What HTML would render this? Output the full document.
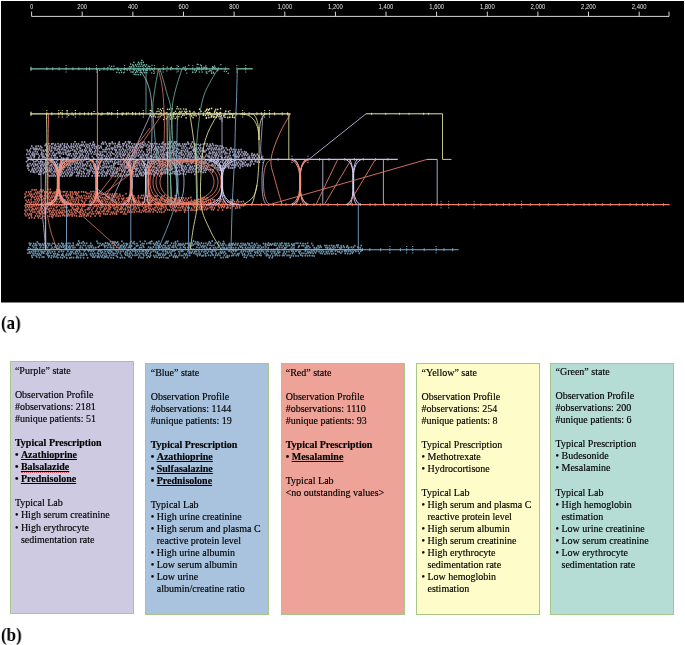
<!DOCTYPE html>
<html><head><meta charset="utf-8"><style>
html,body{margin:0;padding:0;background:#fff;width:685px;height:645px;overflow:hidden;position:relative}
.al{font-family:"Liberation Sans",sans-serif;font-size:8px;fill:#e6e6e6}
.box{will-change:transform;position:absolute;box-sizing:border-box;border:1px solid #a6c68a;padding:1px 0 0 4.5px;font-family:"Liberation Serif",serif;font-size:10px;line-height:12.05px;color:#000;-webkit-text-stroke:0.15px #000}
.l{white-space:nowrap}
.bl{position:relative;padding-left:6px}
.bt{position:absolute;left:0;top:0}
.sp{position:absolute;left:0;right:0;top:10.4px;height:0;border-top:1px dotted #d42020;opacity:.7}
u{text-decoration-thickness:1.4px;text-underline-offset:1.1px;text-decoration-skip-ink:none}
.lab{will-change:transform;position:absolute;font-family:"Liberation Serif",serif;font-weight:bold;font-size:18.3px;line-height:1;color:#000;transform:scaleX(0.925);transform-origin:0 0}
</style></head><body>
<svg width="685" height="305" viewBox="0 0 685 305" style="position:absolute;left:0;top:0;will-change:transform"><rect x="1" y="1" width="683" height="301.5" fill="#000"/><path d="M31.6 11.6V16.4H669V11.6" stroke="#d8d8d8" stroke-width="1" fill="none"/><path d="M82.2 11.6V16.4M132.9 11.6V16.4M183.5 11.6V16.4M234.1 11.6V16.4M284.8 11.6V16.4M335.4 11.6V16.4M386.0 11.6V16.4M436.6 11.6V16.4M487.3 11.6V16.4M537.9 11.6V16.4M588.5 11.6V16.4M639.2 11.6V16.4" stroke="#d8d8d8" stroke-width="1" fill="none"/><text transform="translate(31.6 9.35) scale(0.74 1)" text-anchor="middle" class="al">0</text><text transform="translate(82.2 9.35) scale(0.74 1)" text-anchor="middle" class="al">200</text><text transform="translate(132.9 9.35) scale(0.74 1)" text-anchor="middle" class="al">400</text><text transform="translate(183.5 9.35) scale(0.74 1)" text-anchor="middle" class="al">600</text><text transform="translate(234.1 9.35) scale(0.74 1)" text-anchor="middle" class="al">800</text><text transform="translate(284.8 9.35) scale(0.74 1)" text-anchor="middle" class="al">1,000</text><text transform="translate(335.4 9.35) scale(0.74 1)" text-anchor="middle" class="al">1,200</text><text transform="translate(386.0 9.35) scale(0.74 1)" text-anchor="middle" class="al">1,400</text><text transform="translate(436.6 9.35) scale(0.74 1)" text-anchor="middle" class="al">1,600</text><text transform="translate(487.3 9.35) scale(0.74 1)" text-anchor="middle" class="al">1,800</text><text transform="translate(537.9 9.35) scale(0.74 1)" text-anchor="middle" class="al">2,000</text><text transform="translate(588.5 9.35) scale(0.74 1)" text-anchor="middle" class="al">2,200</text><text transform="translate(639.2 9.35) scale(0.74 1)" text-anchor="middle" class="al">2,400</text><path d="M74.2 141.7a0.82 0.82 0 1 0 1.6 0a0.82 0.82 0 1 0 -1.6 0M81.3 142.0a0.82 0.82 0 1 0 1.6 0a0.82 0.82 0 1 0 -1.6 0M83.8 141.9a0.82 0.82 0 1 0 1.6 0a0.82 0.82 0 1 0 -1.6 0M92.6 142.1a0.82 0.82 0 1 0 1.6 0a0.82 0.82 0 1 0 -1.6 0M102.0 142.2a0.82 0.82 0 1 0 1.6 0a0.82 0.82 0 1 0 -1.6 0M104.5 142.2a0.82 0.82 0 1 0 1.6 0a0.82 0.82 0 1 0 -1.6 0M111.4 142.0a0.82 0.82 0 1 0 1.6 0a0.82 0.82 0 1 0 -1.6 0M118.4 142.1a0.82 0.82 0 1 0 1.6 0a0.82 0.82 0 1 0 -1.6 0M124.7 142.0a0.82 0.82 0 1 0 1.6 0a0.82 0.82 0 1 0 -1.6 0M127.6 141.7a0.82 0.82 0 1 0 1.6 0a0.82 0.82 0 1 0 -1.6 0M129.3 142.0a0.82 0.82 0 1 0 1.6 0a0.82 0.82 0 1 0 -1.6 0M141.5 142.4a0.82 0.82 0 1 0 1.6 0a0.82 0.82 0 1 0 -1.6 0M143.2 142.0a0.82 0.82 0 1 0 1.6 0a0.82 0.82 0 1 0 -1.6 0M148.0 142.1a0.82 0.82 0 1 0 1.6 0a0.82 0.82 0 1 0 -1.6 0M162.2 142.3a0.82 0.82 0 1 0 1.6 0a0.82 0.82 0 1 0 -1.6 0M168.4 141.7a0.82 0.82 0 1 0 1.6 0a0.82 0.82 0 1 0 -1.6 0M170.6 141.7a0.82 0.82 0 1 0 1.6 0a0.82 0.82 0 1 0 -1.6 0M173.7 142.1a0.82 0.82 0 1 0 1.6 0a0.82 0.82 0 1 0 -1.6 0M175.6 141.7a0.82 0.82 0 1 0 1.6 0a0.82 0.82 0 1 0 -1.6 0M187.0 142.3a0.82 0.82 0 1 0 1.6 0a0.82 0.82 0 1 0 -1.6 0M191.5 142.0a0.82 0.82 0 1 0 1.6 0a0.82 0.82 0 1 0 -1.6 0M45.4 144.1a0.82 0.82 0 1 0 1.6 0a0.82 0.82 0 1 0 -1.6 0M48.0 143.7a0.82 0.82 0 1 0 1.6 0a0.82 0.82 0 1 0 -1.6 0M50.8 143.9a0.82 0.82 0 1 0 1.6 0a0.82 0.82 0 1 0 -1.6 0M52.3 143.7a0.82 0.82 0 1 0 1.6 0a0.82 0.82 0 1 0 -1.6 0M54.6 144.3a0.82 0.82 0 1 0 1.6 0a0.82 0.82 0 1 0 -1.6 0M57.3 143.7a0.82 0.82 0 1 0 1.6 0a0.82 0.82 0 1 0 -1.6 0M59.6 144.4a0.82 0.82 0 1 0 1.6 0a0.82 0.82 0 1 0 -1.6 0M61.6 143.8a0.82 0.82 0 1 0 1.6 0a0.82 0.82 0 1 0 -1.6 0M63.9 143.9a0.82 0.82 0 1 0 1.6 0a0.82 0.82 0 1 0 -1.6 0M66.4 144.1a0.82 0.82 0 1 0 1.6 0a0.82 0.82 0 1 0 -1.6 0M70.6 143.9a0.82 0.82 0 1 0 1.6 0a0.82 0.82 0 1 0 -1.6 0M73.0 144.0a0.82 0.82 0 1 0 1.6 0a0.82 0.82 0 1 0 -1.6 0M75.6 144.0a0.82 0.82 0 1 0 1.6 0a0.82 0.82 0 1 0 -1.6 0M77.7 143.8a0.82 0.82 0 1 0 1.6 0a0.82 0.82 0 1 0 -1.6 0M80.5 144.4a0.82 0.82 0 1 0 1.6 0a0.82 0.82 0 1 0 -1.6 0M82.5 144.2a0.82 0.82 0 1 0 1.6 0a0.82 0.82 0 1 0 -1.6 0M85.2 144.2a0.82 0.82 0 1 0 1.6 0a0.82 0.82 0 1 0 -1.6 0M87.2 144.4a0.82 0.82 0 1 0 1.6 0a0.82 0.82 0 1 0 -1.6 0M89.4 143.6a0.82 0.82 0 1 0 1.6 0a0.82 0.82 0 1 0 -1.6 0M92.0 144.3a0.82 0.82 0 1 0 1.6 0a0.82 0.82 0 1 0 -1.6 0M93.7 144.3a0.82 0.82 0 1 0 1.6 0a0.82 0.82 0 1 0 -1.6 0M100.9 143.8a0.82 0.82 0 1 0 1.6 0a0.82 0.82 0 1 0 -1.6 0M102.8 144.0a0.82 0.82 0 1 0 1.6 0a0.82 0.82 0 1 0 -1.6 0M105.6 144.0a0.82 0.82 0 1 0 1.6 0a0.82 0.82 0 1 0 -1.6 0M108.3 143.6a0.82 0.82 0 1 0 1.6 0a0.82 0.82 0 1 0 -1.6 0M109.9 143.7a0.82 0.82 0 1 0 1.6 0a0.82 0.82 0 1 0 -1.6 0M112.2 143.7a0.82 0.82 0 1 0 1.6 0a0.82 0.82 0 1 0 -1.6 0M114.4 143.6a0.82 0.82 0 1 0 1.6 0a0.82 0.82 0 1 0 -1.6 0M117.4 144.1a0.82 0.82 0 1 0 1.6 0a0.82 0.82 0 1 0 -1.6 0M118.9 144.3a0.82 0.82 0 1 0 1.6 0a0.82 0.82 0 1 0 -1.6 0M122.0 143.8a0.82 0.82 0 1 0 1.6 0a0.82 0.82 0 1 0 -1.6 0M123.6 143.7a0.82 0.82 0 1 0 1.6 0a0.82 0.82 0 1 0 -1.6 0M126.1 144.2a0.82 0.82 0 1 0 1.6 0a0.82 0.82 0 1 0 -1.6 0M128.4 143.6a0.82 0.82 0 1 0 1.6 0a0.82 0.82 0 1 0 -1.6 0M130.9 143.7a0.82 0.82 0 1 0 1.6 0a0.82 0.82 0 1 0 -1.6 0M133.4 143.9a0.82 0.82 0 1 0 1.6 0a0.82 0.82 0 1 0 -1.6 0M135.4 144.2a0.82 0.82 0 1 0 1.6 0a0.82 0.82 0 1 0 -1.6 0M137.9 144.1a0.82 0.82 0 1 0 1.6 0a0.82 0.82 0 1 0 -1.6 0M139.7 143.6a0.82 0.82 0 1 0 1.6 0a0.82 0.82 0 1 0 -1.6 0M142.0 144.3a0.82 0.82 0 1 0 1.6 0a0.82 0.82 0 1 0 -1.6 0M144.4 143.8a0.82 0.82 0 1 0 1.6 0a0.82 0.82 0 1 0 -1.6 0M146.7 144.4a0.82 0.82 0 1 0 1.6 0a0.82 0.82 0 1 0 -1.6 0M149.6 143.8a0.82 0.82 0 1 0 1.6 0a0.82 0.82 0 1 0 -1.6 0M151.5 144.0a0.82 0.82 0 1 0 1.6 0a0.82 0.82 0 1 0 -1.6 0M153.6 143.6a0.82 0.82 0 1 0 1.6 0a0.82 0.82 0 1 0 -1.6 0M156.0 143.8a0.82 0.82 0 1 0 1.6 0a0.82 0.82 0 1 0 -1.6 0M158.6 144.2a0.82 0.82 0 1 0 1.6 0a0.82 0.82 0 1 0 -1.6 0M161.2 143.7a0.82 0.82 0 1 0 1.6 0a0.82 0.82 0 1 0 -1.6 0M163.3 144.3a0.82 0.82 0 1 0 1.6 0a0.82 0.82 0 1 0 -1.6 0M165.0 144.0a0.82 0.82 0 1 0 1.6 0a0.82 0.82 0 1 0 -1.6 0M167.9 144.1a0.82 0.82 0 1 0 1.6 0a0.82 0.82 0 1 0 -1.6 0M169.7 143.6a0.82 0.82 0 1 0 1.6 0a0.82 0.82 0 1 0 -1.6 0M172.5 144.0a0.82 0.82 0 1 0 1.6 0a0.82 0.82 0 1 0 -1.6 0M174.5 143.5a0.82 0.82 0 1 0 1.6 0a0.82 0.82 0 1 0 -1.6 0M176.9 144.1a0.82 0.82 0 1 0 1.6 0a0.82 0.82 0 1 0 -1.6 0M178.7 143.8a0.82 0.82 0 1 0 1.6 0a0.82 0.82 0 1 0 -1.6 0M181.9 144.0a0.82 0.82 0 1 0 1.6 0a0.82 0.82 0 1 0 -1.6 0M184.0 144.1a0.82 0.82 0 1 0 1.6 0a0.82 0.82 0 1 0 -1.6 0M185.8 144.2a0.82 0.82 0 1 0 1.6 0a0.82 0.82 0 1 0 -1.6 0M187.9 143.8a0.82 0.82 0 1 0 1.6 0a0.82 0.82 0 1 0 -1.6 0M190.4 144.0a0.82 0.82 0 1 0 1.6 0a0.82 0.82 0 1 0 -1.6 0M193.3 143.7a0.82 0.82 0 1 0 1.6 0a0.82 0.82 0 1 0 -1.6 0M195.2 144.3a0.82 0.82 0 1 0 1.6 0a0.82 0.82 0 1 0 -1.6 0M197.3 144.4a0.82 0.82 0 1 0 1.6 0a0.82 0.82 0 1 0 -1.6 0M199.9 144.4a0.82 0.82 0 1 0 1.6 0a0.82 0.82 0 1 0 -1.6 0M202.5 144.2a0.82 0.82 0 1 0 1.6 0a0.82 0.82 0 1 0 -1.6 0M204.0 143.5a0.82 0.82 0 1 0 1.6 0a0.82 0.82 0 1 0 -1.6 0M206.4 143.9a0.82 0.82 0 1 0 1.6 0a0.82 0.82 0 1 0 -1.6 0M209.3 144.3a0.82 0.82 0 1 0 1.6 0a0.82 0.82 0 1 0 -1.6 0M211.7 143.8a0.82 0.82 0 1 0 1.6 0a0.82 0.82 0 1 0 -1.6 0M31.0 146.1a0.82 0.82 0 1 0 1.6 0a0.82 0.82 0 1 0 -1.6 0M35.2 146.2a0.82 0.82 0 1 0 1.6 0a0.82 0.82 0 1 0 -1.6 0M37.5 146.0a0.82 0.82 0 1 0 1.6 0a0.82 0.82 0 1 0 -1.6 0M39.7 146.3a0.82 0.82 0 1 0 1.6 0a0.82 0.82 0 1 0 -1.6 0M44.3 145.6a0.82 0.82 0 1 0 1.6 0a0.82 0.82 0 1 0 -1.6 0M46.7 146.0a0.82 0.82 0 1 0 1.6 0a0.82 0.82 0 1 0 -1.6 0M49.1 146.0a0.82 0.82 0 1 0 1.6 0a0.82 0.82 0 1 0 -1.6 0M51.3 146.4a0.82 0.82 0 1 0 1.6 0a0.82 0.82 0 1 0 -1.6 0M54.1 145.7a0.82 0.82 0 1 0 1.6 0a0.82 0.82 0 1 0 -1.6 0M56.0 146.4a0.82 0.82 0 1 0 1.6 0a0.82 0.82 0 1 0 -1.6 0M58.0 146.2a0.82 0.82 0 1 0 1.6 0a0.82 0.82 0 1 0 -1.6 0M60.2 145.9a0.82 0.82 0 1 0 1.6 0a0.82 0.82 0 1 0 -1.6 0M63.4 145.8a0.82 0.82 0 1 0 1.6 0a0.82 0.82 0 1 0 -1.6 0M65.4 146.4a0.82 0.82 0 1 0 1.6 0a0.82 0.82 0 1 0 -1.6 0M67.5 146.0a0.82 0.82 0 1 0 1.6 0a0.82 0.82 0 1 0 -1.6 0M70.3 146.1a0.82 0.82 0 1 0 1.6 0a0.82 0.82 0 1 0 -1.6 0M72.3 146.2a0.82 0.82 0 1 0 1.6 0a0.82 0.82 0 1 0 -1.6 0M74.6 145.9a0.82 0.82 0 1 0 1.6 0a0.82 0.82 0 1 0 -1.6 0M76.6 145.9a0.82 0.82 0 1 0 1.6 0a0.82 0.82 0 1 0 -1.6 0M79.1 145.7a0.82 0.82 0 1 0 1.6 0a0.82 0.82 0 1 0 -1.6 0M81.2 145.6a0.82 0.82 0 1 0 1.6 0a0.82 0.82 0 1 0 -1.6 0M83.5 146.1a0.82 0.82 0 1 0 1.6 0a0.82 0.82 0 1 0 -1.6 0M85.8 145.9a0.82 0.82 0 1 0 1.6 0a0.82 0.82 0 1 0 -1.6 0M88.5 146.0a0.82 0.82 0 1 0 1.6 0a0.82 0.82 0 1 0 -1.6 0M90.9 145.7a0.82 0.82 0 1 0 1.6 0a0.82 0.82 0 1 0 -1.6 0M93.3 146.0a0.82 0.82 0 1 0 1.6 0a0.82 0.82 0 1 0 -1.6 0M95.3 146.4a0.82 0.82 0 1 0 1.6 0a0.82 0.82 0 1 0 -1.6 0M97.9 145.7a0.82 0.82 0 1 0 1.6 0a0.82 0.82 0 1 0 -1.6 0M100.1 146.3a0.82 0.82 0 1 0 1.6 0a0.82 0.82 0 1 0 -1.6 0M106.6 145.9a0.82 0.82 0 1 0 1.6 0a0.82 0.82 0 1 0 -1.6 0M108.8 145.8a0.82 0.82 0 1 0 1.6 0a0.82 0.82 0 1 0 -1.6 0M113.9 145.9a0.82 0.82 0 1 0 1.6 0a0.82 0.82 0 1 0 -1.6 0M116.3 145.7a0.82 0.82 0 1 0 1.6 0a0.82 0.82 0 1 0 -1.6 0M118.1 146.3a0.82 0.82 0 1 0 1.6 0a0.82 0.82 0 1 0 -1.6 0M120.1 146.4a0.82 0.82 0 1 0 1.6 0a0.82 0.82 0 1 0 -1.6 0M122.6 145.8a0.82 0.82 0 1 0 1.6 0a0.82 0.82 0 1 0 -1.6 0M125.3 145.8a0.82 0.82 0 1 0 1.6 0a0.82 0.82 0 1 0 -1.6 0M127.8 146.1a0.82 0.82 0 1 0 1.6 0a0.82 0.82 0 1 0 -1.6 0M129.7 146.4a0.82 0.82 0 1 0 1.6 0a0.82 0.82 0 1 0 -1.6 0M131.9 146.0a0.82 0.82 0 1 0 1.6 0a0.82 0.82 0 1 0 -1.6 0M134.5 146.3a0.82 0.82 0 1 0 1.6 0a0.82 0.82 0 1 0 -1.6 0M136.4 145.9a0.82 0.82 0 1 0 1.6 0a0.82 0.82 0 1 0 -1.6 0M139.1 145.8a0.82 0.82 0 1 0 1.6 0a0.82 0.82 0 1 0 -1.6 0M141.0 146.4a0.82 0.82 0 1 0 1.6 0a0.82 0.82 0 1 0 -1.6 0M143.1 145.6a0.82 0.82 0 1 0 1.6 0a0.82 0.82 0 1 0 -1.6 0M145.5 145.9a0.82 0.82 0 1 0 1.6 0a0.82 0.82 0 1 0 -1.6 0M148.4 146.1a0.82 0.82 0 1 0 1.6 0a0.82 0.82 0 1 0 -1.6 0M150.4 145.9a0.82 0.82 0 1 0 1.6 0a0.82 0.82 0 1 0 -1.6 0M152.5 145.7a0.82 0.82 0 1 0 1.6 0a0.82 0.82 0 1 0 -1.6 0M154.9 146.4a0.82 0.82 0 1 0 1.6 0a0.82 0.82 0 1 0 -1.6 0M157.4 146.4a0.82 0.82 0 1 0 1.6 0a0.82 0.82 0 1 0 -1.6 0M159.9 146.4a0.82 0.82 0 1 0 1.6 0a0.82 0.82 0 1 0 -1.6 0M161.6 146.4a0.82 0.82 0 1 0 1.6 0a0.82 0.82 0 1 0 -1.6 0M164.5 145.9a0.82 0.82 0 1 0 1.6 0a0.82 0.82 0 1 0 -1.6 0M168.5 145.9a0.82 0.82 0 1 0 1.6 0a0.82 0.82 0 1 0 -1.6 0M171.2 146.1a0.82 0.82 0 1 0 1.6 0a0.82 0.82 0 1 0 -1.6 0M173.5 145.7a0.82 0.82 0 1 0 1.6 0a0.82 0.82 0 1 0 -1.6 0M175.7 145.6a0.82 0.82 0 1 0 1.6 0a0.82 0.82 0 1 0 -1.6 0M178.1 145.6a0.82 0.82 0 1 0 1.6 0a0.82 0.82 0 1 0 -1.6 0M180.1 145.8a0.82 0.82 0 1 0 1.6 0a0.82 0.82 0 1 0 -1.6 0M182.5 145.9a0.82 0.82 0 1 0 1.6 0a0.82 0.82 0 1 0 -1.6 0M184.6 146.2a0.82 0.82 0 1 0 1.6 0a0.82 0.82 0 1 0 -1.6 0M189.8 145.9a0.82 0.82 0 1 0 1.6 0a0.82 0.82 0 1 0 -1.6 0M191.9 146.4a0.82 0.82 0 1 0 1.6 0a0.82 0.82 0 1 0 -1.6 0M194.1 145.7a0.82 0.82 0 1 0 1.6 0a0.82 0.82 0 1 0 -1.6 0M199.1 145.7a0.82 0.82 0 1 0 1.6 0a0.82 0.82 0 1 0 -1.6 0M205.9 145.7a0.82 0.82 0 1 0 1.6 0a0.82 0.82 0 1 0 -1.6 0M208.2 146.3a0.82 0.82 0 1 0 1.6 0a0.82 0.82 0 1 0 -1.6 0M210.2 145.9a0.82 0.82 0 1 0 1.6 0a0.82 0.82 0 1 0 -1.6 0M212.8 145.6a0.82 0.82 0 1 0 1.6 0a0.82 0.82 0 1 0 -1.6 0M215.1 145.6a0.82 0.82 0 1 0 1.6 0a0.82 0.82 0 1 0 -1.6 0M216.9 145.9a0.82 0.82 0 1 0 1.6 0a0.82 0.82 0 1 0 -1.6 0M219.3 145.9a0.82 0.82 0 1 0 1.6 0a0.82 0.82 0 1 0 -1.6 0M221.4 146.2a0.82 0.82 0 1 0 1.6 0a0.82 0.82 0 1 0 -1.6 0M30.0 148.4a0.82 0.82 0 1 0 1.6 0a0.82 0.82 0 1 0 -1.6 0M32.4 148.0a0.82 0.82 0 1 0 1.6 0a0.82 0.82 0 1 0 -1.6 0M34.5 148.4a0.82 0.82 0 1 0 1.6 0a0.82 0.82 0 1 0 -1.6 0M36.2 148.3a0.82 0.82 0 1 0 1.6 0a0.82 0.82 0 1 0 -1.6 0M38.8 148.4a0.82 0.82 0 1 0 1.6 0a0.82 0.82 0 1 0 -1.6 0M41.0 147.6a0.82 0.82 0 1 0 1.6 0a0.82 0.82 0 1 0 -1.6 0M46.0 147.6a0.82 0.82 0 1 0 1.6 0a0.82 0.82 0 1 0 -1.6 0M48.4 148.0a0.82 0.82 0 1 0 1.6 0a0.82 0.82 0 1 0 -1.6 0M50.8 148.1a0.82 0.82 0 1 0 1.6 0a0.82 0.82 0 1 0 -1.6 0M53.1 148.0a0.82 0.82 0 1 0 1.6 0a0.82 0.82 0 1 0 -1.6 0M54.6 148.2a0.82 0.82 0 1 0 1.6 0a0.82 0.82 0 1 0 -1.6 0M57.4 148.4a0.82 0.82 0 1 0 1.6 0a0.82 0.82 0 1 0 -1.6 0M59.1 147.6a0.82 0.82 0 1 0 1.6 0a0.82 0.82 0 1 0 -1.6 0M61.8 148.3a0.82 0.82 0 1 0 1.6 0a0.82 0.82 0 1 0 -1.6 0M63.7 147.5a0.82 0.82 0 1 0 1.6 0a0.82 0.82 0 1 0 -1.6 0M66.2 148.1a0.82 0.82 0 1 0 1.6 0a0.82 0.82 0 1 0 -1.6 0M68.7 147.6a0.82 0.82 0 1 0 1.6 0a0.82 0.82 0 1 0 -1.6 0M70.7 148.1a0.82 0.82 0 1 0 1.6 0a0.82 0.82 0 1 0 -1.6 0M73.1 147.5a0.82 0.82 0 1 0 1.6 0a0.82 0.82 0 1 0 -1.6 0M75.8 147.9a0.82 0.82 0 1 0 1.6 0a0.82 0.82 0 1 0 -1.6 0M78.3 147.6a0.82 0.82 0 1 0 1.6 0a0.82 0.82 0 1 0 -1.6 0M79.8 148.2a0.82 0.82 0 1 0 1.6 0a0.82 0.82 0 1 0 -1.6 0M84.8 148.1a0.82 0.82 0 1 0 1.6 0a0.82 0.82 0 1 0 -1.6 0M87.0 147.6a0.82 0.82 0 1 0 1.6 0a0.82 0.82 0 1 0 -1.6 0M89.0 148.3a0.82 0.82 0 1 0 1.6 0a0.82 0.82 0 1 0 -1.6 0M91.7 147.7a0.82 0.82 0 1 0 1.6 0a0.82 0.82 0 1 0 -1.6 0M93.9 148.2a0.82 0.82 0 1 0 1.6 0a0.82 0.82 0 1 0 -1.6 0M96.1 148.0a0.82 0.82 0 1 0 1.6 0a0.82 0.82 0 1 0 -1.6 0M98.4 148.1a0.82 0.82 0 1 0 1.6 0a0.82 0.82 0 1 0 -1.6 0M100.5 147.8a0.82 0.82 0 1 0 1.6 0a0.82 0.82 0 1 0 -1.6 0M105.4 147.7a0.82 0.82 0 1 0 1.6 0a0.82 0.82 0 1 0 -1.6 0M108.0 148.4a0.82 0.82 0 1 0 1.6 0a0.82 0.82 0 1 0 -1.6 0M110.5 147.9a0.82 0.82 0 1 0 1.6 0a0.82 0.82 0 1 0 -1.6 0M112.2 148.1a0.82 0.82 0 1 0 1.6 0a0.82 0.82 0 1 0 -1.6 0M114.3 147.6a0.82 0.82 0 1 0 1.6 0a0.82 0.82 0 1 0 -1.6 0M116.6 147.6a0.82 0.82 0 1 0 1.6 0a0.82 0.82 0 1 0 -1.6 0M119.5 147.6a0.82 0.82 0 1 0 1.6 0a0.82 0.82 0 1 0 -1.6 0M121.9 148.3a0.82 0.82 0 1 0 1.6 0a0.82 0.82 0 1 0 -1.6 0M125.9 147.6a0.82 0.82 0 1 0 1.6 0a0.82 0.82 0 1 0 -1.6 0M128.8 148.1a0.82 0.82 0 1 0 1.6 0a0.82 0.82 0 1 0 -1.6 0M131.1 147.7a0.82 0.82 0 1 0 1.6 0a0.82 0.82 0 1 0 -1.6 0M132.9 147.8a0.82 0.82 0 1 0 1.6 0a0.82 0.82 0 1 0 -1.6 0M135.8 148.0a0.82 0.82 0 1 0 1.6 0a0.82 0.82 0 1 0 -1.6 0M137.7 147.9a0.82 0.82 0 1 0 1.6 0a0.82 0.82 0 1 0 -1.6 0M140.1 147.7a0.82 0.82 0 1 0 1.6 0a0.82 0.82 0 1 0 -1.6 0M142.0 147.5a0.82 0.82 0 1 0 1.6 0a0.82 0.82 0 1 0 -1.6 0M147.2 147.7a0.82 0.82 0 1 0 1.6 0a0.82 0.82 0 1 0 -1.6 0M149.0 148.4a0.82 0.82 0 1 0 1.6 0a0.82 0.82 0 1 0 -1.6 0M151.5 147.6a0.82 0.82 0 1 0 1.6 0a0.82 0.82 0 1 0 -1.6 0M154.0 148.2a0.82 0.82 0 1 0 1.6 0a0.82 0.82 0 1 0 -1.6 0M156.0 148.3a0.82 0.82 0 1 0 1.6 0a0.82 0.82 0 1 0 -1.6 0M158.2 147.8a0.82 0.82 0 1 0 1.6 0a0.82 0.82 0 1 0 -1.6 0M161.1 147.7a0.82 0.82 0 1 0 1.6 0a0.82 0.82 0 1 0 -1.6 0M163.3 148.1a0.82 0.82 0 1 0 1.6 0a0.82 0.82 0 1 0 -1.6 0M165.6 148.1a0.82 0.82 0 1 0 1.6 0a0.82 0.82 0 1 0 -1.6 0M167.9 148.0a0.82 0.82 0 1 0 1.6 0a0.82 0.82 0 1 0 -1.6 0M169.7 147.7a0.82 0.82 0 1 0 1.6 0a0.82 0.82 0 1 0 -1.6 0M171.9 147.7a0.82 0.82 0 1 0 1.6 0a0.82 0.82 0 1 0 -1.6 0M174.2 147.8a0.82 0.82 0 1 0 1.6 0a0.82 0.82 0 1 0 -1.6 0M176.5 148.4a0.82 0.82 0 1 0 1.6 0a0.82 0.82 0 1 0 -1.6 0M181.2 148.1a0.82 0.82 0 1 0 1.6 0a0.82 0.82 0 1 0 -1.6 0M183.3 147.9a0.82 0.82 0 1 0 1.6 0a0.82 0.82 0 1 0 -1.6 0M186.1 147.9a0.82 0.82 0 1 0 1.6 0a0.82 0.82 0 1 0 -1.6 0M188.5 148.3a0.82 0.82 0 1 0 1.6 0a0.82 0.82 0 1 0 -1.6 0M190.6 147.7a0.82 0.82 0 1 0 1.6 0a0.82 0.82 0 1 0 -1.6 0M193.1 148.3a0.82 0.82 0 1 0 1.6 0a0.82 0.82 0 1 0 -1.6 0M195.1 148.1a0.82 0.82 0 1 0 1.6 0a0.82 0.82 0 1 0 -1.6 0M197.7 148.1a0.82 0.82 0 1 0 1.6 0a0.82 0.82 0 1 0 -1.6 0M199.9 147.9a0.82 0.82 0 1 0 1.6 0a0.82 0.82 0 1 0 -1.6 0M202.3 148.2a0.82 0.82 0 1 0 1.6 0a0.82 0.82 0 1 0 -1.6 0M207.0 148.4a0.82 0.82 0 1 0 1.6 0a0.82 0.82 0 1 0 -1.6 0M209.1 148.2a0.82 0.82 0 1 0 1.6 0a0.82 0.82 0 1 0 -1.6 0M211.3 147.9a0.82 0.82 0 1 0 1.6 0a0.82 0.82 0 1 0 -1.6 0M213.5 148.2a0.82 0.82 0 1 0 1.6 0a0.82 0.82 0 1 0 -1.6 0M215.5 147.8a0.82 0.82 0 1 0 1.6 0a0.82 0.82 0 1 0 -1.6 0M218.2 148.2a0.82 0.82 0 1 0 1.6 0a0.82 0.82 0 1 0 -1.6 0M220.7 148.4a0.82 0.82 0 1 0 1.6 0a0.82 0.82 0 1 0 -1.6 0M222.7 147.7a0.82 0.82 0 1 0 1.6 0a0.82 0.82 0 1 0 -1.6 0M225.3 147.9a0.82 0.82 0 1 0 1.6 0a0.82 0.82 0 1 0 -1.6 0M230.0 147.9a0.82 0.82 0 1 0 1.6 0a0.82 0.82 0 1 0 -1.6 0M26.2 149.9a0.82 0.82 0 1 0 1.6 0a0.82 0.82 0 1 0 -1.6 0M28.9 150.3a0.82 0.82 0 1 0 1.6 0a0.82 0.82 0 1 0 -1.6 0M33.2 149.5a0.82 0.82 0 1 0 1.6 0a0.82 0.82 0 1 0 -1.6 0M35.2 149.6a0.82 0.82 0 1 0 1.6 0a0.82 0.82 0 1 0 -1.6 0M37.5 149.7a0.82 0.82 0 1 0 1.6 0a0.82 0.82 0 1 0 -1.6 0M40.3 150.1a0.82 0.82 0 1 0 1.6 0a0.82 0.82 0 1 0 -1.6 0M42.5 150.3a0.82 0.82 0 1 0 1.6 0a0.82 0.82 0 1 0 -1.6 0M44.8 149.9a0.82 0.82 0 1 0 1.6 0a0.82 0.82 0 1 0 -1.6 0M46.6 149.6a0.82 0.82 0 1 0 1.6 0a0.82 0.82 0 1 0 -1.6 0M48.9 150.0a0.82 0.82 0 1 0 1.6 0a0.82 0.82 0 1 0 -1.6 0M51.0 150.3a0.82 0.82 0 1 0 1.6 0a0.82 0.82 0 1 0 -1.6 0M54.1 149.9a0.82 0.82 0 1 0 1.6 0a0.82 0.82 0 1 0 -1.6 0M56.2 150.1a0.82 0.82 0 1 0 1.6 0a0.82 0.82 0 1 0 -1.6 0M58.8 149.8a0.82 0.82 0 1 0 1.6 0a0.82 0.82 0 1 0 -1.6 0M61.0 149.5a0.82 0.82 0 1 0 1.6 0a0.82 0.82 0 1 0 -1.6 0M63.3 149.8a0.82 0.82 0 1 0 1.6 0a0.82 0.82 0 1 0 -1.6 0M65.0 149.9a0.82 0.82 0 1 0 1.6 0a0.82 0.82 0 1 0 -1.6 0M67.4 150.3a0.82 0.82 0 1 0 1.6 0a0.82 0.82 0 1 0 -1.6 0M69.9 150.4a0.82 0.82 0 1 0 1.6 0a0.82 0.82 0 1 0 -1.6 0M72.0 149.8a0.82 0.82 0 1 0 1.6 0a0.82 0.82 0 1 0 -1.6 0M74.1 150.2a0.82 0.82 0 1 0 1.6 0a0.82 0.82 0 1 0 -1.6 0M76.6 149.5a0.82 0.82 0 1 0 1.6 0a0.82 0.82 0 1 0 -1.6 0M79.2 150.2a0.82 0.82 0 1 0 1.6 0a0.82 0.82 0 1 0 -1.6 0M81.5 150.1a0.82 0.82 0 1 0 1.6 0a0.82 0.82 0 1 0 -1.6 0M83.8 149.9a0.82 0.82 0 1 0 1.6 0a0.82 0.82 0 1 0 -1.6 0M85.6 150.2a0.82 0.82 0 1 0 1.6 0a0.82 0.82 0 1 0 -1.6 0M88.6 150.2a0.82 0.82 0 1 0 1.6 0a0.82 0.82 0 1 0 -1.6 0M90.5 149.8a0.82 0.82 0 1 0 1.6 0a0.82 0.82 0 1 0 -1.6 0M94.8 150.2a0.82 0.82 0 1 0 1.6 0a0.82 0.82 0 1 0 -1.6 0M97.0 149.9a0.82 0.82 0 1 0 1.6 0a0.82 0.82 0 1 0 -1.6 0M102.2 149.7a0.82 0.82 0 1 0 1.6 0a0.82 0.82 0 1 0 -1.6 0M104.5 149.6a0.82 0.82 0 1 0 1.6 0a0.82 0.82 0 1 0 -1.6 0M106.3 149.5a0.82 0.82 0 1 0 1.6 0a0.82 0.82 0 1 0 -1.6 0M108.7 149.6a0.82 0.82 0 1 0 1.6 0a0.82 0.82 0 1 0 -1.6 0M111.5 149.6a0.82 0.82 0 1 0 1.6 0a0.82 0.82 0 1 0 -1.6 0M114.0 149.7a0.82 0.82 0 1 0 1.6 0a0.82 0.82 0 1 0 -1.6 0M115.4 150.1a0.82 0.82 0 1 0 1.6 0a0.82 0.82 0 1 0 -1.6 0M118.4 149.7a0.82 0.82 0 1 0 1.6 0a0.82 0.82 0 1 0 -1.6 0M120.4 150.0a0.82 0.82 0 1 0 1.6 0a0.82 0.82 0 1 0 -1.6 0M123.0 149.8a0.82 0.82 0 1 0 1.6 0a0.82 0.82 0 1 0 -1.6 0M125.0 150.2a0.82 0.82 0 1 0 1.6 0a0.82 0.82 0 1 0 -1.6 0M127.2 149.6a0.82 0.82 0 1 0 1.6 0a0.82 0.82 0 1 0 -1.6 0M129.5 150.1a0.82 0.82 0 1 0 1.6 0a0.82 0.82 0 1 0 -1.6 0M131.8 149.9a0.82 0.82 0 1 0 1.6 0a0.82 0.82 0 1 0 -1.6 0M134.4 150.3a0.82 0.82 0 1 0 1.6 0a0.82 0.82 0 1 0 -1.6 0M136.4 149.9a0.82 0.82 0 1 0 1.6 0a0.82 0.82 0 1 0 -1.6 0M138.5 150.3a0.82 0.82 0 1 0 1.6 0a0.82 0.82 0 1 0 -1.6 0M141.0 150.3a0.82 0.82 0 1 0 1.6 0a0.82 0.82 0 1 0 -1.6 0M146.0 149.7a0.82 0.82 0 1 0 1.6 0a0.82 0.82 0 1 0 -1.6 0M148.2 150.1a0.82 0.82 0 1 0 1.6 0a0.82 0.82 0 1 0 -1.6 0M150.6 150.2a0.82 0.82 0 1 0 1.6 0a0.82 0.82 0 1 0 -1.6 0M152.9 149.7a0.82 0.82 0 1 0 1.6 0a0.82 0.82 0 1 0 -1.6 0M155.0 149.9a0.82 0.82 0 1 0 1.6 0a0.82 0.82 0 1 0 -1.6 0M157.0 150.1a0.82 0.82 0 1 0 1.6 0a0.82 0.82 0 1 0 -1.6 0M159.6 149.7a0.82 0.82 0 1 0 1.6 0a0.82 0.82 0 1 0 -1.6 0M161.5 150.1a0.82 0.82 0 1 0 1.6 0a0.82 0.82 0 1 0 -1.6 0M164.0 150.0a0.82 0.82 0 1 0 1.6 0a0.82 0.82 0 1 0 -1.6 0M168.6 150.2a0.82 0.82 0 1 0 1.6 0a0.82 0.82 0 1 0 -1.6 0M171.4 150.4a0.82 0.82 0 1 0 1.6 0a0.82 0.82 0 1 0 -1.6 0M173.1 149.6a0.82 0.82 0 1 0 1.6 0a0.82 0.82 0 1 0 -1.6 0M175.6 150.4a0.82 0.82 0 1 0 1.6 0a0.82 0.82 0 1 0 -1.6 0M177.9 149.6a0.82 0.82 0 1 0 1.6 0a0.82 0.82 0 1 0 -1.6 0M180.4 150.4a0.82 0.82 0 1 0 1.6 0a0.82 0.82 0 1 0 -1.6 0M182.3 150.4a0.82 0.82 0 1 0 1.6 0a0.82 0.82 0 1 0 -1.6 0M184.7 149.8a0.82 0.82 0 1 0 1.6 0a0.82 0.82 0 1 0 -1.6 0M186.8 150.2a0.82 0.82 0 1 0 1.6 0a0.82 0.82 0 1 0 -1.6 0M192.2 150.1a0.82 0.82 0 1 0 1.6 0a0.82 0.82 0 1 0 -1.6 0M193.7 149.8a0.82 0.82 0 1 0 1.6 0a0.82 0.82 0 1 0 -1.6 0M196.1 149.7a0.82 0.82 0 1 0 1.6 0a0.82 0.82 0 1 0 -1.6 0M198.9 149.7a0.82 0.82 0 1 0 1.6 0a0.82 0.82 0 1 0 -1.6 0M201.4 150.3a0.82 0.82 0 1 0 1.6 0a0.82 0.82 0 1 0 -1.6 0M202.9 150.4a0.82 0.82 0 1 0 1.6 0a0.82 0.82 0 1 0 -1.6 0M205.4 150.3a0.82 0.82 0 1 0 1.6 0a0.82 0.82 0 1 0 -1.6 0M207.6 149.6a0.82 0.82 0 1 0 1.6 0a0.82 0.82 0 1 0 -1.6 0M210.5 149.8a0.82 0.82 0 1 0 1.6 0a0.82 0.82 0 1 0 -1.6 0M212.8 149.8a0.82 0.82 0 1 0 1.6 0a0.82 0.82 0 1 0 -1.6 0M215.1 149.6a0.82 0.82 0 1 0 1.6 0a0.82 0.82 0 1 0 -1.6 0M217.2 149.7a0.82 0.82 0 1 0 1.6 0a0.82 0.82 0 1 0 -1.6 0M219.1 149.8a0.82 0.82 0 1 0 1.6 0a0.82 0.82 0 1 0 -1.6 0M223.6 150.2a0.82 0.82 0 1 0 1.6 0a0.82 0.82 0 1 0 -1.6 0M226.6 149.8a0.82 0.82 0 1 0 1.6 0a0.82 0.82 0 1 0 -1.6 0M228.6 149.7a0.82 0.82 0 1 0 1.6 0a0.82 0.82 0 1 0 -1.6 0M230.9 149.6a0.82 0.82 0 1 0 1.6 0a0.82 0.82 0 1 0 -1.6 0M232.9 149.6a0.82 0.82 0 1 0 1.6 0a0.82 0.82 0 1 0 -1.6 0M235.3 149.7a0.82 0.82 0 1 0 1.6 0a0.82 0.82 0 1 0 -1.6 0M237.9 149.7a0.82 0.82 0 1 0 1.6 0a0.82 0.82 0 1 0 -1.6 0M240.3 149.6a0.82 0.82 0 1 0 1.6 0a0.82 0.82 0 1 0 -1.6 0M27.2 151.7a0.82 0.82 0 1 0 1.6 0a0.82 0.82 0 1 0 -1.6 0M29.6 151.9a0.82 0.82 0 1 0 1.6 0a0.82 0.82 0 1 0 -1.6 0M32.2 152.3a0.82 0.82 0 1 0 1.6 0a0.82 0.82 0 1 0 -1.6 0M34.5 151.6a0.82 0.82 0 1 0 1.6 0a0.82 0.82 0 1 0 -1.6 0M36.5 152.0a0.82 0.82 0 1 0 1.6 0a0.82 0.82 0 1 0 -1.6 0M40.9 152.2a0.82 0.82 0 1 0 1.6 0a0.82 0.82 0 1 0 -1.6 0M43.2 151.5a0.82 0.82 0 1 0 1.6 0a0.82 0.82 0 1 0 -1.6 0M45.9 151.6a0.82 0.82 0 1 0 1.6 0a0.82 0.82 0 1 0 -1.6 0M47.7 152.0a0.82 0.82 0 1 0 1.6 0a0.82 0.82 0 1 0 -1.6 0M50.2 151.6a0.82 0.82 0 1 0 1.6 0a0.82 0.82 0 1 0 -1.6 0M52.7 152.2a0.82 0.82 0 1 0 1.6 0a0.82 0.82 0 1 0 -1.6 0M57.3 151.9a0.82 0.82 0 1 0 1.6 0a0.82 0.82 0 1 0 -1.6 0M59.3 151.8a0.82 0.82 0 1 0 1.6 0a0.82 0.82 0 1 0 -1.6 0M62.2 152.2a0.82 0.82 0 1 0 1.6 0a0.82 0.82 0 1 0 -1.6 0M64.5 152.3a0.82 0.82 0 1 0 1.6 0a0.82 0.82 0 1 0 -1.6 0M66.3 152.0a0.82 0.82 0 1 0 1.6 0a0.82 0.82 0 1 0 -1.6 0M68.3 151.6a0.82 0.82 0 1 0 1.6 0a0.82 0.82 0 1 0 -1.6 0M73.7 151.5a0.82 0.82 0 1 0 1.6 0a0.82 0.82 0 1 0 -1.6 0M75.4 152.0a0.82 0.82 0 1 0 1.6 0a0.82 0.82 0 1 0 -1.6 0M77.9 151.9a0.82 0.82 0 1 0 1.6 0a0.82 0.82 0 1 0 -1.6 0M80.4 151.6a0.82 0.82 0 1 0 1.6 0a0.82 0.82 0 1 0 -1.6 0M82.3 151.9a0.82 0.82 0 1 0 1.6 0a0.82 0.82 0 1 0 -1.6 0M84.5 151.8a0.82 0.82 0 1 0 1.6 0a0.82 0.82 0 1 0 -1.6 0M86.8 152.0a0.82 0.82 0 1 0 1.6 0a0.82 0.82 0 1 0 -1.6 0M89.6 151.7a0.82 0.82 0 1 0 1.6 0a0.82 0.82 0 1 0 -1.6 0M91.8 151.9a0.82 0.82 0 1 0 1.6 0a0.82 0.82 0 1 0 -1.6 0M94.0 151.9a0.82 0.82 0 1 0 1.6 0a0.82 0.82 0 1 0 -1.6 0M96.7 151.7a0.82 0.82 0 1 0 1.6 0a0.82 0.82 0 1 0 -1.6 0M99.1 151.8a0.82 0.82 0 1 0 1.6 0a0.82 0.82 0 1 0 -1.6 0M101.3 151.9a0.82 0.82 0 1 0 1.6 0a0.82 0.82 0 1 0 -1.6 0M103.4 151.6a0.82 0.82 0 1 0 1.6 0a0.82 0.82 0 1 0 -1.6 0M105.2 151.8a0.82 0.82 0 1 0 1.6 0a0.82 0.82 0 1 0 -1.6 0M108.1 152.2a0.82 0.82 0 1 0 1.6 0a0.82 0.82 0 1 0 -1.6 0M110.4 151.9a0.82 0.82 0 1 0 1.6 0a0.82 0.82 0 1 0 -1.6 0M115.0 152.0a0.82 0.82 0 1 0 1.6 0a0.82 0.82 0 1 0 -1.6 0M117.0 152.2a0.82 0.82 0 1 0 1.6 0a0.82 0.82 0 1 0 -1.6 0M119.3 151.9a0.82 0.82 0 1 0 1.6 0a0.82 0.82 0 1 0 -1.6 0M121.7 151.9a0.82 0.82 0 1 0 1.6 0a0.82 0.82 0 1 0 -1.6 0M123.9 151.9a0.82 0.82 0 1 0 1.6 0a0.82 0.82 0 1 0 -1.6 0M126.3 152.0a0.82 0.82 0 1 0 1.6 0a0.82 0.82 0 1 0 -1.6 0M128.8 152.3a0.82 0.82 0 1 0 1.6 0a0.82 0.82 0 1 0 -1.6 0M131.2 151.5a0.82 0.82 0 1 0 1.6 0a0.82 0.82 0 1 0 -1.6 0M133.5 152.2a0.82 0.82 0 1 0 1.6 0a0.82 0.82 0 1 0 -1.6 0M135.4 152.1a0.82 0.82 0 1 0 1.6 0a0.82 0.82 0 1 0 -1.6 0M137.6 152.4a0.82 0.82 0 1 0 1.6 0a0.82 0.82 0 1 0 -1.6 0M139.9 151.9a0.82 0.82 0 1 0 1.6 0a0.82 0.82 0 1 0 -1.6 0M142.7 151.9a0.82 0.82 0 1 0 1.6 0a0.82 0.82 0 1 0 -1.6 0M146.6 151.8a0.82 0.82 0 1 0 1.6 0a0.82 0.82 0 1 0 -1.6 0M148.9 152.3a0.82 0.82 0 1 0 1.6 0a0.82 0.82 0 1 0 -1.6 0M153.6 152.0a0.82 0.82 0 1 0 1.6 0a0.82 0.82 0 1 0 -1.6 0M156.2 152.1a0.82 0.82 0 1 0 1.6 0a0.82 0.82 0 1 0 -1.6 0M158.0 151.9a0.82 0.82 0 1 0 1.6 0a0.82 0.82 0 1 0 -1.6 0M160.3 151.8a0.82 0.82 0 1 0 1.6 0a0.82 0.82 0 1 0 -1.6 0M162.8 152.0a0.82 0.82 0 1 0 1.6 0a0.82 0.82 0 1 0 -1.6 0M165.4 152.4a0.82 0.82 0 1 0 1.6 0a0.82 0.82 0 1 0 -1.6 0M167.3 152.2a0.82 0.82 0 1 0 1.6 0a0.82 0.82 0 1 0 -1.6 0M170.0 152.2a0.82 0.82 0 1 0 1.6 0a0.82 0.82 0 1 0 -1.6 0M171.8 152.2a0.82 0.82 0 1 0 1.6 0a0.82 0.82 0 1 0 -1.6 0M174.2 151.7a0.82 0.82 0 1 0 1.6 0a0.82 0.82 0 1 0 -1.6 0M176.7 151.9a0.82 0.82 0 1 0 1.6 0a0.82 0.82 0 1 0 -1.6 0M179.2 152.4a0.82 0.82 0 1 0 1.6 0a0.82 0.82 0 1 0 -1.6 0M181.0 152.3a0.82 0.82 0 1 0 1.6 0a0.82 0.82 0 1 0 -1.6 0M184.0 151.8a0.82 0.82 0 1 0 1.6 0a0.82 0.82 0 1 0 -1.6 0M186.4 151.7a0.82 0.82 0 1 0 1.6 0a0.82 0.82 0 1 0 -1.6 0M188.2 152.3a0.82 0.82 0 1 0 1.6 0a0.82 0.82 0 1 0 -1.6 0M190.3 151.8a0.82 0.82 0 1 0 1.6 0a0.82 0.82 0 1 0 -1.6 0M193.0 151.6a0.82 0.82 0 1 0 1.6 0a0.82 0.82 0 1 0 -1.6 0M194.8 151.6a0.82 0.82 0 1 0 1.6 0a0.82 0.82 0 1 0 -1.6 0M197.3 151.8a0.82 0.82 0 1 0 1.6 0a0.82 0.82 0 1 0 -1.6 0M199.7 151.6a0.82 0.82 0 1 0 1.6 0a0.82 0.82 0 1 0 -1.6 0M202.4 151.6a0.82 0.82 0 1 0 1.6 0a0.82 0.82 0 1 0 -1.6 0M204.1 151.8a0.82 0.82 0 1 0 1.6 0a0.82 0.82 0 1 0 -1.6 0M208.8 151.9a0.82 0.82 0 1 0 1.6 0a0.82 0.82 0 1 0 -1.6 0M211.7 152.0a0.82 0.82 0 1 0 1.6 0a0.82 0.82 0 1 0 -1.6 0M213.4 152.3a0.82 0.82 0 1 0 1.6 0a0.82 0.82 0 1 0 -1.6 0M215.7 152.2a0.82 0.82 0 1 0 1.6 0a0.82 0.82 0 1 0 -1.6 0M218.1 151.9a0.82 0.82 0 1 0 1.6 0a0.82 0.82 0 1 0 -1.6 0M220.4 152.1a0.82 0.82 0 1 0 1.6 0a0.82 0.82 0 1 0 -1.6 0M222.8 151.8a0.82 0.82 0 1 0 1.6 0a0.82 0.82 0 1 0 -1.6 0M224.8 152.2a0.82 0.82 0 1 0 1.6 0a0.82 0.82 0 1 0 -1.6 0M229.4 151.8a0.82 0.82 0 1 0 1.6 0a0.82 0.82 0 1 0 -1.6 0M231.9 151.9a0.82 0.82 0 1 0 1.6 0a0.82 0.82 0 1 0 -1.6 0M234.6 151.8a0.82 0.82 0 1 0 1.6 0a0.82 0.82 0 1 0 -1.6 0M237.0 152.2a0.82 0.82 0 1 0 1.6 0a0.82 0.82 0 1 0 -1.6 0M238.6 151.7a0.82 0.82 0 1 0 1.6 0a0.82 0.82 0 1 0 -1.6 0M241.1 152.1a0.82 0.82 0 1 0 1.6 0a0.82 0.82 0 1 0 -1.6 0M243.7 151.7a0.82 0.82 0 1 0 1.6 0a0.82 0.82 0 1 0 -1.6 0M245.4 152.3a0.82 0.82 0 1 0 1.6 0a0.82 0.82 0 1 0 -1.6 0M25.9 154.3a0.82 0.82 0 1 0 1.6 0a0.82 0.82 0 1 0 -1.6 0M28.4 154.2a0.82 0.82 0 1 0 1.6 0a0.82 0.82 0 1 0 -1.6 0M31.2 153.9a0.82 0.82 0 1 0 1.6 0a0.82 0.82 0 1 0 -1.6 0M33.4 154.1a0.82 0.82 0 1 0 1.6 0a0.82 0.82 0 1 0 -1.6 0M35.3 154.0a0.82 0.82 0 1 0 1.6 0a0.82 0.82 0 1 0 -1.6 0M37.3 154.1a0.82 0.82 0 1 0 1.6 0a0.82 0.82 0 1 0 -1.6 0M40.4 154.1a0.82 0.82 0 1 0 1.6 0a0.82 0.82 0 1 0 -1.6 0M42.2 153.9a0.82 0.82 0 1 0 1.6 0a0.82 0.82 0 1 0 -1.6 0M44.8 154.1a0.82 0.82 0 1 0 1.6 0a0.82 0.82 0 1 0 -1.6 0M46.8 154.3a0.82 0.82 0 1 0 1.6 0a0.82 0.82 0 1 0 -1.6 0M48.9 154.0a0.82 0.82 0 1 0 1.6 0a0.82 0.82 0 1 0 -1.6 0M51.7 153.7a0.82 0.82 0 1 0 1.6 0a0.82 0.82 0 1 0 -1.6 0M54.0 154.2a0.82 0.82 0 1 0 1.6 0a0.82 0.82 0 1 0 -1.6 0M55.8 153.6a0.82 0.82 0 1 0 1.6 0a0.82 0.82 0 1 0 -1.6 0M58.3 153.6a0.82 0.82 0 1 0 1.6 0a0.82 0.82 0 1 0 -1.6 0M60.4 153.6a0.82 0.82 0 1 0 1.6 0a0.82 0.82 0 1 0 -1.6 0M62.6 154.1a0.82 0.82 0 1 0 1.6 0a0.82 0.82 0 1 0 -1.6 0M65.3 153.9a0.82 0.82 0 1 0 1.6 0a0.82 0.82 0 1 0 -1.6 0M68.0 154.1a0.82 0.82 0 1 0 1.6 0a0.82 0.82 0 1 0 -1.6 0M69.7 153.7a0.82 0.82 0 1 0 1.6 0a0.82 0.82 0 1 0 -1.6 0M72.5 153.8a0.82 0.82 0 1 0 1.6 0a0.82 0.82 0 1 0 -1.6 0M74.9 153.7a0.82 0.82 0 1 0 1.6 0a0.82 0.82 0 1 0 -1.6 0M76.6 153.7a0.82 0.82 0 1 0 1.6 0a0.82 0.82 0 1 0 -1.6 0M79.1 153.8a0.82 0.82 0 1 0 1.6 0a0.82 0.82 0 1 0 -1.6 0M81.4 154.1a0.82 0.82 0 1 0 1.6 0a0.82 0.82 0 1 0 -1.6 0M85.7 153.8a0.82 0.82 0 1 0 1.6 0a0.82 0.82 0 1 0 -1.6 0M88.0 153.9a0.82 0.82 0 1 0 1.6 0a0.82 0.82 0 1 0 -1.6 0M90.5 153.7a0.82 0.82 0 1 0 1.6 0a0.82 0.82 0 1 0 -1.6 0M93.2 154.2a0.82 0.82 0 1 0 1.6 0a0.82 0.82 0 1 0 -1.6 0M95.2 153.9a0.82 0.82 0 1 0 1.6 0a0.82 0.82 0 1 0 -1.6 0M97.8 154.3a0.82 0.82 0 1 0 1.6 0a0.82 0.82 0 1 0 -1.6 0M99.8 153.8a0.82 0.82 0 1 0 1.6 0a0.82 0.82 0 1 0 -1.6 0M102.0 154.4a0.82 0.82 0 1 0 1.6 0a0.82 0.82 0 1 0 -1.6 0M106.3 154.1a0.82 0.82 0 1 0 1.6 0a0.82 0.82 0 1 0 -1.6 0M109.4 153.9a0.82 0.82 0 1 0 1.6 0a0.82 0.82 0 1 0 -1.6 0M111.6 153.5a0.82 0.82 0 1 0 1.6 0a0.82 0.82 0 1 0 -1.6 0M113.2 154.1a0.82 0.82 0 1 0 1.6 0a0.82 0.82 0 1 0 -1.6 0M115.9 154.0a0.82 0.82 0 1 0 1.6 0a0.82 0.82 0 1 0 -1.6 0M118.5 154.0a0.82 0.82 0 1 0 1.6 0a0.82 0.82 0 1 0 -1.6 0M120.1 154.0a0.82 0.82 0 1 0 1.6 0a0.82 0.82 0 1 0 -1.6 0M122.5 154.0a0.82 0.82 0 1 0 1.6 0a0.82 0.82 0 1 0 -1.6 0M124.7 153.9a0.82 0.82 0 1 0 1.6 0a0.82 0.82 0 1 0 -1.6 0M127.4 154.1a0.82 0.82 0 1 0 1.6 0a0.82 0.82 0 1 0 -1.6 0M131.9 153.7a0.82 0.82 0 1 0 1.6 0a0.82 0.82 0 1 0 -1.6 0M134.0 154.2a0.82 0.82 0 1 0 1.6 0a0.82 0.82 0 1 0 -1.6 0M136.1 154.0a0.82 0.82 0 1 0 1.6 0a0.82 0.82 0 1 0 -1.6 0M138.8 154.3a0.82 0.82 0 1 0 1.6 0a0.82 0.82 0 1 0 -1.6 0M141.6 154.3a0.82 0.82 0 1 0 1.6 0a0.82 0.82 0 1 0 -1.6 0M143.7 154.1a0.82 0.82 0 1 0 1.6 0a0.82 0.82 0 1 0 -1.6 0M146.0 154.4a0.82 0.82 0 1 0 1.6 0a0.82 0.82 0 1 0 -1.6 0M147.7 154.0a0.82 0.82 0 1 0 1.6 0a0.82 0.82 0 1 0 -1.6 0M152.6 154.3a0.82 0.82 0 1 0 1.6 0a0.82 0.82 0 1 0 -1.6 0M154.6 154.2a0.82 0.82 0 1 0 1.6 0a0.82 0.82 0 1 0 -1.6 0M157.4 153.8a0.82 0.82 0 1 0 1.6 0a0.82 0.82 0 1 0 -1.6 0M159.8 154.2a0.82 0.82 0 1 0 1.6 0a0.82 0.82 0 1 0 -1.6 0M161.6 154.0a0.82 0.82 0 1 0 1.6 0a0.82 0.82 0 1 0 -1.6 0M163.9 154.2a0.82 0.82 0 1 0 1.6 0a0.82 0.82 0 1 0 -1.6 0M166.2 154.3a0.82 0.82 0 1 0 1.6 0a0.82 0.82 0 1 0 -1.6 0M168.4 153.8a0.82 0.82 0 1 0 1.6 0a0.82 0.82 0 1 0 -1.6 0M170.7 153.7a0.82 0.82 0 1 0 1.6 0a0.82 0.82 0 1 0 -1.6 0M173.3 153.8a0.82 0.82 0 1 0 1.6 0a0.82 0.82 0 1 0 -1.6 0M175.2 153.9a0.82 0.82 0 1 0 1.6 0a0.82 0.82 0 1 0 -1.6 0M178.1 153.7a0.82 0.82 0 1 0 1.6 0a0.82 0.82 0 1 0 -1.6 0M180.3 154.0a0.82 0.82 0 1 0 1.6 0a0.82 0.82 0 1 0 -1.6 0M182.6 154.2a0.82 0.82 0 1 0 1.6 0a0.82 0.82 0 1 0 -1.6 0M185.0 153.8a0.82 0.82 0 1 0 1.6 0a0.82 0.82 0 1 0 -1.6 0M187.6 154.1a0.82 0.82 0 1 0 1.6 0a0.82 0.82 0 1 0 -1.6 0M189.5 154.1a0.82 0.82 0 1 0 1.6 0a0.82 0.82 0 1 0 -1.6 0M191.4 153.8a0.82 0.82 0 1 0 1.6 0a0.82 0.82 0 1 0 -1.6 0M194.0 153.7a0.82 0.82 0 1 0 1.6 0a0.82 0.82 0 1 0 -1.6 0M195.9 154.3a0.82 0.82 0 1 0 1.6 0a0.82 0.82 0 1 0 -1.6 0M198.5 153.7a0.82 0.82 0 1 0 1.6 0a0.82 0.82 0 1 0 -1.6 0M201.2 154.0a0.82 0.82 0 1 0 1.6 0a0.82 0.82 0 1 0 -1.6 0M205.7 154.4a0.82 0.82 0 1 0 1.6 0a0.82 0.82 0 1 0 -1.6 0M208.2 153.6a0.82 0.82 0 1 0 1.6 0a0.82 0.82 0 1 0 -1.6 0M210.0 153.5a0.82 0.82 0 1 0 1.6 0a0.82 0.82 0 1 0 -1.6 0M212.2 153.9a0.82 0.82 0 1 0 1.6 0a0.82 0.82 0 1 0 -1.6 0M214.9 153.7a0.82 0.82 0 1 0 1.6 0a0.82 0.82 0 1 0 -1.6 0M216.7 154.2a0.82 0.82 0 1 0 1.6 0a0.82 0.82 0 1 0 -1.6 0M219.1 154.0a0.82 0.82 0 1 0 1.6 0a0.82 0.82 0 1 0 -1.6 0M224.1 153.9a0.82 0.82 0 1 0 1.6 0a0.82 0.82 0 1 0 -1.6 0M226.2 153.5a0.82 0.82 0 1 0 1.6 0a0.82 0.82 0 1 0 -1.6 0M228.7 153.7a0.82 0.82 0 1 0 1.6 0a0.82 0.82 0 1 0 -1.6 0M233.3 154.2a0.82 0.82 0 1 0 1.6 0a0.82 0.82 0 1 0 -1.6 0M235.2 154.2a0.82 0.82 0 1 0 1.6 0a0.82 0.82 0 1 0 -1.6 0M237.8 154.0a0.82 0.82 0 1 0 1.6 0a0.82 0.82 0 1 0 -1.6 0M239.9 154.2a0.82 0.82 0 1 0 1.6 0a0.82 0.82 0 1 0 -1.6 0M242.6 153.8a0.82 0.82 0 1 0 1.6 0a0.82 0.82 0 1 0 -1.6 0M244.5 154.0a0.82 0.82 0 1 0 1.6 0a0.82 0.82 0 1 0 -1.6 0M247.0 154.1a0.82 0.82 0 1 0 1.6 0a0.82 0.82 0 1 0 -1.6 0M251.2 153.6a0.82 0.82 0 1 0 1.6 0a0.82 0.82 0 1 0 -1.6 0M253.6 154.3a0.82 0.82 0 1 0 1.6 0a0.82 0.82 0 1 0 -1.6 0M256.4 154.3a0.82 0.82 0 1 0 1.6 0a0.82 0.82 0 1 0 -1.6 0M29.9 155.9a0.82 0.82 0 1 0 1.6 0a0.82 0.82 0 1 0 -1.6 0M32.1 155.6a0.82 0.82 0 1 0 1.6 0a0.82 0.82 0 1 0 -1.6 0M33.8 156.0a0.82 0.82 0 1 0 1.6 0a0.82 0.82 0 1 0 -1.6 0M38.6 155.9a0.82 0.82 0 1 0 1.6 0a0.82 0.82 0 1 0 -1.6 0M41.3 155.8a0.82 0.82 0 1 0 1.6 0a0.82 0.82 0 1 0 -1.6 0M43.1 156.3a0.82 0.82 0 1 0 1.6 0a0.82 0.82 0 1 0 -1.6 0M46.0 155.7a0.82 0.82 0 1 0 1.6 0a0.82 0.82 0 1 0 -1.6 0M47.7 156.1a0.82 0.82 0 1 0 1.6 0a0.82 0.82 0 1 0 -1.6 0M50.7 155.7a0.82 0.82 0 1 0 1.6 0a0.82 0.82 0 1 0 -1.6 0M53.0 155.7a0.82 0.82 0 1 0 1.6 0a0.82 0.82 0 1 0 -1.6 0M54.5 155.6a0.82 0.82 0 1 0 1.6 0a0.82 0.82 0 1 0 -1.6 0M59.2 156.1a0.82 0.82 0 1 0 1.6 0a0.82 0.82 0 1 0 -1.6 0M66.6 155.5a0.82 0.82 0 1 0 1.6 0a0.82 0.82 0 1 0 -1.6 0M68.4 155.5a0.82 0.82 0 1 0 1.6 0a0.82 0.82 0 1 0 -1.6 0M70.7 155.9a0.82 0.82 0 1 0 1.6 0a0.82 0.82 0 1 0 -1.6 0M73.5 155.6a0.82 0.82 0 1 0 1.6 0a0.82 0.82 0 1 0 -1.6 0M75.5 155.9a0.82 0.82 0 1 0 1.6 0a0.82 0.82 0 1 0 -1.6 0M78.4 156.3a0.82 0.82 0 1 0 1.6 0a0.82 0.82 0 1 0 -1.6 0M80.0 155.6a0.82 0.82 0 1 0 1.6 0a0.82 0.82 0 1 0 -1.6 0M82.6 155.8a0.82 0.82 0 1 0 1.6 0a0.82 0.82 0 1 0 -1.6 0M84.9 156.0a0.82 0.82 0 1 0 1.6 0a0.82 0.82 0 1 0 -1.6 0M87.3 155.9a0.82 0.82 0 1 0 1.6 0a0.82 0.82 0 1 0 -1.6 0M91.4 156.4a0.82 0.82 0 1 0 1.6 0a0.82 0.82 0 1 0 -1.6 0M96.1 155.7a0.82 0.82 0 1 0 1.6 0a0.82 0.82 0 1 0 -1.6 0M99.0 155.5a0.82 0.82 0 1 0 1.6 0a0.82 0.82 0 1 0 -1.6 0M101.0 155.8a0.82 0.82 0 1 0 1.6 0a0.82 0.82 0 1 0 -1.6 0M103.5 156.0a0.82 0.82 0 1 0 1.6 0a0.82 0.82 0 1 0 -1.6 0M105.6 156.2a0.82 0.82 0 1 0 1.6 0a0.82 0.82 0 1 0 -1.6 0M107.9 156.0a0.82 0.82 0 1 0 1.6 0a0.82 0.82 0 1 0 -1.6 0M110.2 155.7a0.82 0.82 0 1 0 1.6 0a0.82 0.82 0 1 0 -1.6 0M114.7 155.7a0.82 0.82 0 1 0 1.6 0a0.82 0.82 0 1 0 -1.6 0M117.1 156.0a0.82 0.82 0 1 0 1.6 0a0.82 0.82 0 1 0 -1.6 0M119.6 155.9a0.82 0.82 0 1 0 1.6 0a0.82 0.82 0 1 0 -1.6 0M122.0 155.5a0.82 0.82 0 1 0 1.6 0a0.82 0.82 0 1 0 -1.6 0M123.6 155.6a0.82 0.82 0 1 0 1.6 0a0.82 0.82 0 1 0 -1.6 0M126.5 156.0a0.82 0.82 0 1 0 1.6 0a0.82 0.82 0 1 0 -1.6 0M129.0 156.1a0.82 0.82 0 1 0 1.6 0a0.82 0.82 0 1 0 -1.6 0M131.1 155.6a0.82 0.82 0 1 0 1.6 0a0.82 0.82 0 1 0 -1.6 0M132.9 155.8a0.82 0.82 0 1 0 1.6 0a0.82 0.82 0 1 0 -1.6 0M135.2 156.0a0.82 0.82 0 1 0 1.6 0a0.82 0.82 0 1 0 -1.6 0M137.5 155.8a0.82 0.82 0 1 0 1.6 0a0.82 0.82 0 1 0 -1.6 0M140.2 156.3a0.82 0.82 0 1 0 1.6 0a0.82 0.82 0 1 0 -1.6 0M142.4 155.8a0.82 0.82 0 1 0 1.6 0a0.82 0.82 0 1 0 -1.6 0M144.8 155.8a0.82 0.82 0 1 0 1.6 0a0.82 0.82 0 1 0 -1.6 0M146.8 155.8a0.82 0.82 0 1 0 1.6 0a0.82 0.82 0 1 0 -1.6 0M149.7 156.1a0.82 0.82 0 1 0 1.6 0a0.82 0.82 0 1 0 -1.6 0M151.1 156.2a0.82 0.82 0 1 0 1.6 0a0.82 0.82 0 1 0 -1.6 0M154.2 156.2a0.82 0.82 0 1 0 1.6 0a0.82 0.82 0 1 0 -1.6 0M156.1 156.2a0.82 0.82 0 1 0 1.6 0a0.82 0.82 0 1 0 -1.6 0M158.4 155.9a0.82 0.82 0 1 0 1.6 0a0.82 0.82 0 1 0 -1.6 0M160.9 155.9a0.82 0.82 0 1 0 1.6 0a0.82 0.82 0 1 0 -1.6 0M163.3 156.2a0.82 0.82 0 1 0 1.6 0a0.82 0.82 0 1 0 -1.6 0M165.6 155.6a0.82 0.82 0 1 0 1.6 0a0.82 0.82 0 1 0 -1.6 0M167.2 156.1a0.82 0.82 0 1 0 1.6 0a0.82 0.82 0 1 0 -1.6 0M170.1 155.9a0.82 0.82 0 1 0 1.6 0a0.82 0.82 0 1 0 -1.6 0M172.6 155.6a0.82 0.82 0 1 0 1.6 0a0.82 0.82 0 1 0 -1.6 0M175.0 155.7a0.82 0.82 0 1 0 1.6 0a0.82 0.82 0 1 0 -1.6 0M177.2 156.0a0.82 0.82 0 1 0 1.6 0a0.82 0.82 0 1 0 -1.6 0M179.0 156.3a0.82 0.82 0 1 0 1.6 0a0.82 0.82 0 1 0 -1.6 0M181.2 155.5a0.82 0.82 0 1 0 1.6 0a0.82 0.82 0 1 0 -1.6 0M183.7 156.0a0.82 0.82 0 1 0 1.6 0a0.82 0.82 0 1 0 -1.6 0M186.4 156.0a0.82 0.82 0 1 0 1.6 0a0.82 0.82 0 1 0 -1.6 0M188.2 156.0a0.82 0.82 0 1 0 1.6 0a0.82 0.82 0 1 0 -1.6 0M190.4 156.1a0.82 0.82 0 1 0 1.6 0a0.82 0.82 0 1 0 -1.6 0M193.3 155.9a0.82 0.82 0 1 0 1.6 0a0.82 0.82 0 1 0 -1.6 0M195.4 155.5a0.82 0.82 0 1 0 1.6 0a0.82 0.82 0 1 0 -1.6 0M197.2 156.3a0.82 0.82 0 1 0 1.6 0a0.82 0.82 0 1 0 -1.6 0M200.0 156.1a0.82 0.82 0 1 0 1.6 0a0.82 0.82 0 1 0 -1.6 0M201.8 156.3a0.82 0.82 0 1 0 1.6 0a0.82 0.82 0 1 0 -1.6 0M204.7 156.3a0.82 0.82 0 1 0 1.6 0a0.82 0.82 0 1 0 -1.6 0M207.1 156.1a0.82 0.82 0 1 0 1.6 0a0.82 0.82 0 1 0 -1.6 0M208.6 156.2a0.82 0.82 0 1 0 1.6 0a0.82 0.82 0 1 0 -1.6 0M211.2 156.0a0.82 0.82 0 1 0 1.6 0a0.82 0.82 0 1 0 -1.6 0M213.9 155.6a0.82 0.82 0 1 0 1.6 0a0.82 0.82 0 1 0 -1.6 0M215.5 155.8a0.82 0.82 0 1 0 1.6 0a0.82 0.82 0 1 0 -1.6 0M217.9 155.9a0.82 0.82 0 1 0 1.6 0a0.82 0.82 0 1 0 -1.6 0M220.2 156.2a0.82 0.82 0 1 0 1.6 0a0.82 0.82 0 1 0 -1.6 0M225.0 156.2a0.82 0.82 0 1 0 1.6 0a0.82 0.82 0 1 0 -1.6 0M227.4 156.3a0.82 0.82 0 1 0 1.6 0a0.82 0.82 0 1 0 -1.6 0M229.4 155.7a0.82 0.82 0 1 0 1.6 0a0.82 0.82 0 1 0 -1.6 0M232.4 155.5a0.82 0.82 0 1 0 1.6 0a0.82 0.82 0 1 0 -1.6 0M234.7 156.1a0.82 0.82 0 1 0 1.6 0a0.82 0.82 0 1 0 -1.6 0M236.4 156.2a0.82 0.82 0 1 0 1.6 0a0.82 0.82 0 1 0 -1.6 0M238.5 156.0a0.82 0.82 0 1 0 1.6 0a0.82 0.82 0 1 0 -1.6 0M241.3 155.9a0.82 0.82 0 1 0 1.6 0a0.82 0.82 0 1 0 -1.6 0M243.7 155.6a0.82 0.82 0 1 0 1.6 0a0.82 0.82 0 1 0 -1.6 0M246.0 155.6a0.82 0.82 0 1 0 1.6 0a0.82 0.82 0 1 0 -1.6 0M248.4 156.3a0.82 0.82 0 1 0 1.6 0a0.82 0.82 0 1 0 -1.6 0M250.8 155.6a0.82 0.82 0 1 0 1.6 0a0.82 0.82 0 1 0 -1.6 0M252.7 155.6a0.82 0.82 0 1 0 1.6 0a0.82 0.82 0 1 0 -1.6 0M254.8 155.9a0.82 0.82 0 1 0 1.6 0a0.82 0.82 0 1 0 -1.6 0M257.7 155.9a0.82 0.82 0 1 0 1.6 0a0.82 0.82 0 1 0 -1.6 0M26.4 157.7a0.82 0.82 0 1 0 1.6 0a0.82 0.82 0 1 0 -1.6 0M28.1 157.8a0.82 0.82 0 1 0 1.6 0a0.82 0.82 0 1 0 -1.6 0M30.4 158.0a0.82 0.82 0 1 0 1.6 0a0.82 0.82 0 1 0 -1.6 0M33.3 157.5a0.82 0.82 0 1 0 1.6 0a0.82 0.82 0 1 0 -1.6 0M38.0 157.8a0.82 0.82 0 1 0 1.6 0a0.82 0.82 0 1 0 -1.6 0M42.2 157.6a0.82 0.82 0 1 0 1.6 0a0.82 0.82 0 1 0 -1.6 0M44.3 157.8a0.82 0.82 0 1 0 1.6 0a0.82 0.82 0 1 0 -1.6 0M46.7 158.4a0.82 0.82 0 1 0 1.6 0a0.82 0.82 0 1 0 -1.6 0M49.2 158.2a0.82 0.82 0 1 0 1.6 0a0.82 0.82 0 1 0 -1.6 0M51.2 158.0a0.82 0.82 0 1 0 1.6 0a0.82 0.82 0 1 0 -1.6 0M54.0 157.8a0.82 0.82 0 1 0 1.6 0a0.82 0.82 0 1 0 -1.6 0M56.3 157.6a0.82 0.82 0 1 0 1.6 0a0.82 0.82 0 1 0 -1.6 0M60.8 157.9a0.82 0.82 0 1 0 1.6 0a0.82 0.82 0 1 0 -1.6 0M62.8 158.3a0.82 0.82 0 1 0 1.6 0a0.82 0.82 0 1 0 -1.6 0M65.7 158.2a0.82 0.82 0 1 0 1.6 0a0.82 0.82 0 1 0 -1.6 0M67.3 157.9a0.82 0.82 0 1 0 1.6 0a0.82 0.82 0 1 0 -1.6 0M72.4 158.2a0.82 0.82 0 1 0 1.6 0a0.82 0.82 0 1 0 -1.6 0M74.4 157.6a0.82 0.82 0 1 0 1.6 0a0.82 0.82 0 1 0 -1.6 0M76.9 158.2a0.82 0.82 0 1 0 1.6 0a0.82 0.82 0 1 0 -1.6 0M78.6 157.6a0.82 0.82 0 1 0 1.6 0a0.82 0.82 0 1 0 -1.6 0M81.3 157.8a0.82 0.82 0 1 0 1.6 0a0.82 0.82 0 1 0 -1.6 0M83.8 157.7a0.82 0.82 0 1 0 1.6 0a0.82 0.82 0 1 0 -1.6 0M85.9 158.1a0.82 0.82 0 1 0 1.6 0a0.82 0.82 0 1 0 -1.6 0M87.9 158.2a0.82 0.82 0 1 0 1.6 0a0.82 0.82 0 1 0 -1.6 0M93.0 158.3a0.82 0.82 0 1 0 1.6 0a0.82 0.82 0 1 0 -1.6 0M97.8 157.6a0.82 0.82 0 1 0 1.6 0a0.82 0.82 0 1 0 -1.6 0M100.2 157.9a0.82 0.82 0 1 0 1.6 0a0.82 0.82 0 1 0 -1.6 0M101.7 158.0a0.82 0.82 0 1 0 1.6 0a0.82 0.82 0 1 0 -1.6 0M104.8 158.3a0.82 0.82 0 1 0 1.6 0a0.82 0.82 0 1 0 -1.6 0M106.6 158.3a0.82 0.82 0 1 0 1.6 0a0.82 0.82 0 1 0 -1.6 0M108.9 158.0a0.82 0.82 0 1 0 1.6 0a0.82 0.82 0 1 0 -1.6 0M111.2 158.4a0.82 0.82 0 1 0 1.6 0a0.82 0.82 0 1 0 -1.6 0M113.6 157.9a0.82 0.82 0 1 0 1.6 0a0.82 0.82 0 1 0 -1.6 0M116.1 157.5a0.82 0.82 0 1 0 1.6 0a0.82 0.82 0 1 0 -1.6 0M120.5 157.5a0.82 0.82 0 1 0 1.6 0a0.82 0.82 0 1 0 -1.6 0M122.6 158.2a0.82 0.82 0 1 0 1.6 0a0.82 0.82 0 1 0 -1.6 0M125.5 158.1a0.82 0.82 0 1 0 1.6 0a0.82 0.82 0 1 0 -1.6 0M127.8 158.1a0.82 0.82 0 1 0 1.6 0a0.82 0.82 0 1 0 -1.6 0M129.7 158.2a0.82 0.82 0 1 0 1.6 0a0.82 0.82 0 1 0 -1.6 0M132.0 158.3a0.82 0.82 0 1 0 1.6 0a0.82 0.82 0 1 0 -1.6 0M134.1 157.5a0.82 0.82 0 1 0 1.6 0a0.82 0.82 0 1 0 -1.6 0M139.3 157.7a0.82 0.82 0 1 0 1.6 0a0.82 0.82 0 1 0 -1.6 0M141.0 157.8a0.82 0.82 0 1 0 1.6 0a0.82 0.82 0 1 0 -1.6 0M143.2 158.3a0.82 0.82 0 1 0 1.6 0a0.82 0.82 0 1 0 -1.6 0M146.0 157.8a0.82 0.82 0 1 0 1.6 0a0.82 0.82 0 1 0 -1.6 0M148.1 158.1a0.82 0.82 0 1 0 1.6 0a0.82 0.82 0 1 0 -1.6 0M150.8 158.0a0.82 0.82 0 1 0 1.6 0a0.82 0.82 0 1 0 -1.6 0M152.9 157.5a0.82 0.82 0 1 0 1.6 0a0.82 0.82 0 1 0 -1.6 0M155.4 157.7a0.82 0.82 0 1 0 1.6 0a0.82 0.82 0 1 0 -1.6 0M157.5 158.1a0.82 0.82 0 1 0 1.6 0a0.82 0.82 0 1 0 -1.6 0M159.4 158.1a0.82 0.82 0 1 0 1.6 0a0.82 0.82 0 1 0 -1.6 0M162.1 157.8a0.82 0.82 0 1 0 1.6 0a0.82 0.82 0 1 0 -1.6 0M164.1 158.2a0.82 0.82 0 1 0 1.6 0a0.82 0.82 0 1 0 -1.6 0M166.5 158.0a0.82 0.82 0 1 0 1.6 0a0.82 0.82 0 1 0 -1.6 0M168.6 157.5a0.82 0.82 0 1 0 1.6 0a0.82 0.82 0 1 0 -1.6 0M171.2 158.0a0.82 0.82 0 1 0 1.6 0a0.82 0.82 0 1 0 -1.6 0M173.7 158.2a0.82 0.82 0 1 0 1.6 0a0.82 0.82 0 1 0 -1.6 0M175.9 157.9a0.82 0.82 0 1 0 1.6 0a0.82 0.82 0 1 0 -1.6 0M178.3 158.1a0.82 0.82 0 1 0 1.6 0a0.82 0.82 0 1 0 -1.6 0M180.5 158.0a0.82 0.82 0 1 0 1.6 0a0.82 0.82 0 1 0 -1.6 0M182.9 157.7a0.82 0.82 0 1 0 1.6 0a0.82 0.82 0 1 0 -1.6 0M185.0 158.4a0.82 0.82 0 1 0 1.6 0a0.82 0.82 0 1 0 -1.6 0M186.8 158.2a0.82 0.82 0 1 0 1.6 0a0.82 0.82 0 1 0 -1.6 0M189.2 157.7a0.82 0.82 0 1 0 1.6 0a0.82 0.82 0 1 0 -1.6 0M192.1 157.5a0.82 0.82 0 1 0 1.6 0a0.82 0.82 0 1 0 -1.6 0M194.2 157.8a0.82 0.82 0 1 0 1.6 0a0.82 0.82 0 1 0 -1.6 0M196.6 157.7a0.82 0.82 0 1 0 1.6 0a0.82 0.82 0 1 0 -1.6 0M198.3 158.2a0.82 0.82 0 1 0 1.6 0a0.82 0.82 0 1 0 -1.6 0M200.6 158.1a0.82 0.82 0 1 0 1.6 0a0.82 0.82 0 1 0 -1.6 0M203.3 158.0a0.82 0.82 0 1 0 1.6 0a0.82 0.82 0 1 0 -1.6 0M208.3 157.5a0.82 0.82 0 1 0 1.6 0a0.82 0.82 0 1 0 -1.6 0M210.3 158.1a0.82 0.82 0 1 0 1.6 0a0.82 0.82 0 1 0 -1.6 0M212.4 157.7a0.82 0.82 0 1 0 1.6 0a0.82 0.82 0 1 0 -1.6 0M214.7 157.7a0.82 0.82 0 1 0 1.6 0a0.82 0.82 0 1 0 -1.6 0M217.1 158.1a0.82 0.82 0 1 0 1.6 0a0.82 0.82 0 1 0 -1.6 0M221.3 157.7a0.82 0.82 0 1 0 1.6 0a0.82 0.82 0 1 0 -1.6 0M224.1 157.7a0.82 0.82 0 1 0 1.6 0a0.82 0.82 0 1 0 -1.6 0M226.7 157.8a0.82 0.82 0 1 0 1.6 0a0.82 0.82 0 1 0 -1.6 0M228.9 158.2a0.82 0.82 0 1 0 1.6 0a0.82 0.82 0 1 0 -1.6 0M230.6 158.2a0.82 0.82 0 1 0 1.6 0a0.82 0.82 0 1 0 -1.6 0M235.1 157.6a0.82 0.82 0 1 0 1.6 0a0.82 0.82 0 1 0 -1.6 0M237.6 157.5a0.82 0.82 0 1 0 1.6 0a0.82 0.82 0 1 0 -1.6 0M242.3 158.2a0.82 0.82 0 1 0 1.6 0a0.82 0.82 0 1 0 -1.6 0M244.4 158.0a0.82 0.82 0 1 0 1.6 0a0.82 0.82 0 1 0 -1.6 0M247.2 157.9a0.82 0.82 0 1 0 1.6 0a0.82 0.82 0 1 0 -1.6 0M248.9 157.8a0.82 0.82 0 1 0 1.6 0a0.82 0.82 0 1 0 -1.6 0M251.7 157.7a0.82 0.82 0 1 0 1.6 0a0.82 0.82 0 1 0 -1.6 0M253.5 158.0a0.82 0.82 0 1 0 1.6 0a0.82 0.82 0 1 0 -1.6 0M256.3 158.1a0.82 0.82 0 1 0 1.6 0a0.82 0.82 0 1 0 -1.6 0M258.7 157.5a0.82 0.82 0 1 0 1.6 0a0.82 0.82 0 1 0 -1.6 0M261.0 157.7a0.82 0.82 0 1 0 1.6 0a0.82 0.82 0 1 0 -1.6 0M27.0 160.3a0.82 0.82 0 1 0 1.6 0a0.82 0.82 0 1 0 -1.6 0M30.1 159.7a0.82 0.82 0 1 0 1.6 0a0.82 0.82 0 1 0 -1.6 0M32.1 160.1a0.82 0.82 0 1 0 1.6 0a0.82 0.82 0 1 0 -1.6 0M36.3 160.3a0.82 0.82 0 1 0 1.6 0a0.82 0.82 0 1 0 -1.6 0M40.8 159.5a0.82 0.82 0 1 0 1.6 0a0.82 0.82 0 1 0 -1.6 0M45.4 159.9a0.82 0.82 0 1 0 1.6 0a0.82 0.82 0 1 0 -1.6 0M48.4 159.5a0.82 0.82 0 1 0 1.6 0a0.82 0.82 0 1 0 -1.6 0M50.3 160.0a0.82 0.82 0 1 0 1.6 0a0.82 0.82 0 1 0 -1.6 0M52.2 160.0a0.82 0.82 0 1 0 1.6 0a0.82 0.82 0 1 0 -1.6 0M55.2 159.5a0.82 0.82 0 1 0 1.6 0a0.82 0.82 0 1 0 -1.6 0M56.9 160.1a0.82 0.82 0 1 0 1.6 0a0.82 0.82 0 1 0 -1.6 0M60.0 160.0a0.82 0.82 0 1 0 1.6 0a0.82 0.82 0 1 0 -1.6 0M62.1 160.2a0.82 0.82 0 1 0 1.6 0a0.82 0.82 0 1 0 -1.6 0M64.4 159.6a0.82 0.82 0 1 0 1.6 0a0.82 0.82 0 1 0 -1.6 0M66.0 159.5a0.82 0.82 0 1 0 1.6 0a0.82 0.82 0 1 0 -1.6 0M68.7 159.9a0.82 0.82 0 1 0 1.6 0a0.82 0.82 0 1 0 -1.6 0M71.4 160.1a0.82 0.82 0 1 0 1.6 0a0.82 0.82 0 1 0 -1.6 0M73.5 159.5a0.82 0.82 0 1 0 1.6 0a0.82 0.82 0 1 0 -1.6 0M76.0 159.6a0.82 0.82 0 1 0 1.6 0a0.82 0.82 0 1 0 -1.6 0M77.7 159.7a0.82 0.82 0 1 0 1.6 0a0.82 0.82 0 1 0 -1.6 0M80.2 160.4a0.82 0.82 0 1 0 1.6 0a0.82 0.82 0 1 0 -1.6 0M82.8 160.4a0.82 0.82 0 1 0 1.6 0a0.82 0.82 0 1 0 -1.6 0M84.8 159.5a0.82 0.82 0 1 0 1.6 0a0.82 0.82 0 1 0 -1.6 0M89.8 160.2a0.82 0.82 0 1 0 1.6 0a0.82 0.82 0 1 0 -1.6 0M91.6 160.0a0.82 0.82 0 1 0 1.6 0a0.82 0.82 0 1 0 -1.6 0M96.4 160.3a0.82 0.82 0 1 0 1.6 0a0.82 0.82 0 1 0 -1.6 0M99.1 159.6a0.82 0.82 0 1 0 1.6 0a0.82 0.82 0 1 0 -1.6 0M103.7 159.6a0.82 0.82 0 1 0 1.6 0a0.82 0.82 0 1 0 -1.6 0M105.8 160.2a0.82 0.82 0 1 0 1.6 0a0.82 0.82 0 1 0 -1.6 0M108.0 159.7a0.82 0.82 0 1 0 1.6 0a0.82 0.82 0 1 0 -1.6 0M110.2 160.1a0.82 0.82 0 1 0 1.6 0a0.82 0.82 0 1 0 -1.6 0M112.0 159.5a0.82 0.82 0 1 0 1.6 0a0.82 0.82 0 1 0 -1.6 0M114.4 159.9a0.82 0.82 0 1 0 1.6 0a0.82 0.82 0 1 0 -1.6 0M117.3 159.6a0.82 0.82 0 1 0 1.6 0a0.82 0.82 0 1 0 -1.6 0M119.5 159.9a0.82 0.82 0 1 0 1.6 0a0.82 0.82 0 1 0 -1.6 0M124.2 159.7a0.82 0.82 0 1 0 1.6 0a0.82 0.82 0 1 0 -1.6 0M126.0 159.5a0.82 0.82 0 1 0 1.6 0a0.82 0.82 0 1 0 -1.6 0M128.7 160.0a0.82 0.82 0 1 0 1.6 0a0.82 0.82 0 1 0 -1.6 0M130.5 160.4a0.82 0.82 0 1 0 1.6 0a0.82 0.82 0 1 0 -1.6 0M132.9 159.5a0.82 0.82 0 1 0 1.6 0a0.82 0.82 0 1 0 -1.6 0M135.8 159.8a0.82 0.82 0 1 0 1.6 0a0.82 0.82 0 1 0 -1.6 0M137.5 159.8a0.82 0.82 0 1 0 1.6 0a0.82 0.82 0 1 0 -1.6 0M140.3 159.7a0.82 0.82 0 1 0 1.6 0a0.82 0.82 0 1 0 -1.6 0M142.1 159.7a0.82 0.82 0 1 0 1.6 0a0.82 0.82 0 1 0 -1.6 0M144.6 160.3a0.82 0.82 0 1 0 1.6 0a0.82 0.82 0 1 0 -1.6 0M146.7 159.5a0.82 0.82 0 1 0 1.6 0a0.82 0.82 0 1 0 -1.6 0M149.4 159.6a0.82 0.82 0 1 0 1.6 0a0.82 0.82 0 1 0 -1.6 0M151.3 159.9a0.82 0.82 0 1 0 1.6 0a0.82 0.82 0 1 0 -1.6 0M153.8 160.3a0.82 0.82 0 1 0 1.6 0a0.82 0.82 0 1 0 -1.6 0M156.3 160.0a0.82 0.82 0 1 0 1.6 0a0.82 0.82 0 1 0 -1.6 0M158.1 160.3a0.82 0.82 0 1 0 1.6 0a0.82 0.82 0 1 0 -1.6 0M161.1 159.7a0.82 0.82 0 1 0 1.6 0a0.82 0.82 0 1 0 -1.6 0M165.3 159.8a0.82 0.82 0 1 0 1.6 0a0.82 0.82 0 1 0 -1.6 0M167.3 160.4a0.82 0.82 0 1 0 1.6 0a0.82 0.82 0 1 0 -1.6 0M170.1 159.9a0.82 0.82 0 1 0 1.6 0a0.82 0.82 0 1 0 -1.6 0M172.3 159.7a0.82 0.82 0 1 0 1.6 0a0.82 0.82 0 1 0 -1.6 0M174.2 160.2a0.82 0.82 0 1 0 1.6 0a0.82 0.82 0 1 0 -1.6 0M176.7 160.3a0.82 0.82 0 1 0 1.6 0a0.82 0.82 0 1 0 -1.6 0M179.5 159.5a0.82 0.82 0 1 0 1.6 0a0.82 0.82 0 1 0 -1.6 0M181.1 159.6a0.82 0.82 0 1 0 1.6 0a0.82 0.82 0 1 0 -1.6 0M186.4 159.7a0.82 0.82 0 1 0 1.6 0a0.82 0.82 0 1 0 -1.6 0M190.4 160.2a0.82 0.82 0 1 0 1.6 0a0.82 0.82 0 1 0 -1.6 0M192.7 160.3a0.82 0.82 0 1 0 1.6 0a0.82 0.82 0 1 0 -1.6 0M195.4 159.5a0.82 0.82 0 1 0 1.6 0a0.82 0.82 0 1 0 -1.6 0M197.1 160.0a0.82 0.82 0 1 0 1.6 0a0.82 0.82 0 1 0 -1.6 0M200.0 159.6a0.82 0.82 0 1 0 1.6 0a0.82 0.82 0 1 0 -1.6 0M204.5 160.3a0.82 0.82 0 1 0 1.6 0a0.82 0.82 0 1 0 -1.6 0M206.8 159.9a0.82 0.82 0 1 0 1.6 0a0.82 0.82 0 1 0 -1.6 0M209.4 160.3a0.82 0.82 0 1 0 1.6 0a0.82 0.82 0 1 0 -1.6 0M210.9 160.3a0.82 0.82 0 1 0 1.6 0a0.82 0.82 0 1 0 -1.6 0M213.4 160.3a0.82 0.82 0 1 0 1.6 0a0.82 0.82 0 1 0 -1.6 0M216.2 160.2a0.82 0.82 0 1 0 1.6 0a0.82 0.82 0 1 0 -1.6 0M218.0 160.1a0.82 0.82 0 1 0 1.6 0a0.82 0.82 0 1 0 -1.6 0M220.9 159.6a0.82 0.82 0 1 0 1.6 0a0.82 0.82 0 1 0 -1.6 0M222.5 160.1a0.82 0.82 0 1 0 1.6 0a0.82 0.82 0 1 0 -1.6 0M225.2 160.1a0.82 0.82 0 1 0 1.6 0a0.82 0.82 0 1 0 -1.6 0M227.4 160.1a0.82 0.82 0 1 0 1.6 0a0.82 0.82 0 1 0 -1.6 0M229.9 160.1a0.82 0.82 0 1 0 1.6 0a0.82 0.82 0 1 0 -1.6 0M234.7 159.7a0.82 0.82 0 1 0 1.6 0a0.82 0.82 0 1 0 -1.6 0M239.1 160.2a0.82 0.82 0 1 0 1.6 0a0.82 0.82 0 1 0 -1.6 0M241.0 159.5a0.82 0.82 0 1 0 1.6 0a0.82 0.82 0 1 0 -1.6 0M243.2 160.0a0.82 0.82 0 1 0 1.6 0a0.82 0.82 0 1 0 -1.6 0M246.0 159.9a0.82 0.82 0 1 0 1.6 0a0.82 0.82 0 1 0 -1.6 0M248.3 159.6a0.82 0.82 0 1 0 1.6 0a0.82 0.82 0 1 0 -1.6 0M250.7 160.1a0.82 0.82 0 1 0 1.6 0a0.82 0.82 0 1 0 -1.6 0M254.8 160.2a0.82 0.82 0 1 0 1.6 0a0.82 0.82 0 1 0 -1.6 0M257.4 159.7a0.82 0.82 0 1 0 1.6 0a0.82 0.82 0 1 0 -1.6 0M259.4 159.5a0.82 0.82 0 1 0 1.6 0a0.82 0.82 0 1 0 -1.6 0M25.7 161.7a0.82 0.82 0 1 0 1.6 0a0.82 0.82 0 1 0 -1.6 0M33.1 161.8a0.82 0.82 0 1 0 1.6 0a0.82 0.82 0 1 0 -1.6 0M35.0 161.5a0.82 0.82 0 1 0 1.6 0a0.82 0.82 0 1 0 -1.6 0M37.9 161.7a0.82 0.82 0 1 0 1.6 0a0.82 0.82 0 1 0 -1.6 0M40.0 161.6a0.82 0.82 0 1 0 1.6 0a0.82 0.82 0 1 0 -1.6 0M42.0 162.1a0.82 0.82 0 1 0 1.6 0a0.82 0.82 0 1 0 -1.6 0M44.8 162.2a0.82 0.82 0 1 0 1.6 0a0.82 0.82 0 1 0 -1.6 0M47.1 162.2a0.82 0.82 0 1 0 1.6 0a0.82 0.82 0 1 0 -1.6 0M49.3 162.0a0.82 0.82 0 1 0 1.6 0a0.82 0.82 0 1 0 -1.6 0M51.1 162.0a0.82 0.82 0 1 0 1.6 0a0.82 0.82 0 1 0 -1.6 0M53.8 162.1a0.82 0.82 0 1 0 1.6 0a0.82 0.82 0 1 0 -1.6 0M55.9 162.0a0.82 0.82 0 1 0 1.6 0a0.82 0.82 0 1 0 -1.6 0M60.5 161.6a0.82 0.82 0 1 0 1.6 0a0.82 0.82 0 1 0 -1.6 0M63.2 162.3a0.82 0.82 0 1 0 1.6 0a0.82 0.82 0 1 0 -1.6 0M65.5 161.5a0.82 0.82 0 1 0 1.6 0a0.82 0.82 0 1 0 -1.6 0M67.6 161.6a0.82 0.82 0 1 0 1.6 0a0.82 0.82 0 1 0 -1.6 0M69.6 161.6a0.82 0.82 0 1 0 1.6 0a0.82 0.82 0 1 0 -1.6 0M72.4 161.9a0.82 0.82 0 1 0 1.6 0a0.82 0.82 0 1 0 -1.6 0M74.4 161.9a0.82 0.82 0 1 0 1.6 0a0.82 0.82 0 1 0 -1.6 0M76.6 161.9a0.82 0.82 0 1 0 1.6 0a0.82 0.82 0 1 0 -1.6 0M79.0 162.3a0.82 0.82 0 1 0 1.6 0a0.82 0.82 0 1 0 -1.6 0M81.3 162.0a0.82 0.82 0 1 0 1.6 0a0.82 0.82 0 1 0 -1.6 0M86.1 161.7a0.82 0.82 0 1 0 1.6 0a0.82 0.82 0 1 0 -1.6 0M88.2 161.5a0.82 0.82 0 1 0 1.6 0a0.82 0.82 0 1 0 -1.6 0M92.6 161.6a0.82 0.82 0 1 0 1.6 0a0.82 0.82 0 1 0 -1.6 0M95.5 161.6a0.82 0.82 0 1 0 1.6 0a0.82 0.82 0 1 0 -1.6 0M97.3 161.6a0.82 0.82 0 1 0 1.6 0a0.82 0.82 0 1 0 -1.6 0M99.6 162.1a0.82 0.82 0 1 0 1.6 0a0.82 0.82 0 1 0 -1.6 0M102.5 162.0a0.82 0.82 0 1 0 1.6 0a0.82 0.82 0 1 0 -1.6 0M104.6 161.6a0.82 0.82 0 1 0 1.6 0a0.82 0.82 0 1 0 -1.6 0M107.0 161.8a0.82 0.82 0 1 0 1.6 0a0.82 0.82 0 1 0 -1.6 0M109.4 161.6a0.82 0.82 0 1 0 1.6 0a0.82 0.82 0 1 0 -1.6 0M111.5 161.8a0.82 0.82 0 1 0 1.6 0a0.82 0.82 0 1 0 -1.6 0M113.9 162.0a0.82 0.82 0 1 0 1.6 0a0.82 0.82 0 1 0 -1.6 0M116.2 162.3a0.82 0.82 0 1 0 1.6 0a0.82 0.82 0 1 0 -1.6 0M118.0 161.8a0.82 0.82 0 1 0 1.6 0a0.82 0.82 0 1 0 -1.6 0M120.1 161.7a0.82 0.82 0 1 0 1.6 0a0.82 0.82 0 1 0 -1.6 0M123.1 162.1a0.82 0.82 0 1 0 1.6 0a0.82 0.82 0 1 0 -1.6 0M125.5 162.1a0.82 0.82 0 1 0 1.6 0a0.82 0.82 0 1 0 -1.6 0M127.5 161.8a0.82 0.82 0 1 0 1.6 0a0.82 0.82 0 1 0 -1.6 0M129.5 162.2a0.82 0.82 0 1 0 1.6 0a0.82 0.82 0 1 0 -1.6 0M132.3 161.6a0.82 0.82 0 1 0 1.6 0a0.82 0.82 0 1 0 -1.6 0M134.4 161.5a0.82 0.82 0 1 0 1.6 0a0.82 0.82 0 1 0 -1.6 0M136.4 162.2a0.82 0.82 0 1 0 1.6 0a0.82 0.82 0 1 0 -1.6 0M138.7 161.7a0.82 0.82 0 1 0 1.6 0a0.82 0.82 0 1 0 -1.6 0M141.4 161.7a0.82 0.82 0 1 0 1.6 0a0.82 0.82 0 1 0 -1.6 0M143.2 161.9a0.82 0.82 0 1 0 1.6 0a0.82 0.82 0 1 0 -1.6 0M148.1 162.3a0.82 0.82 0 1 0 1.6 0a0.82 0.82 0 1 0 -1.6 0M150.4 161.6a0.82 0.82 0 1 0 1.6 0a0.82 0.82 0 1 0 -1.6 0M152.7 161.8a0.82 0.82 0 1 0 1.6 0a0.82 0.82 0 1 0 -1.6 0M154.9 161.8a0.82 0.82 0 1 0 1.6 0a0.82 0.82 0 1 0 -1.6 0M157.7 161.5a0.82 0.82 0 1 0 1.6 0a0.82 0.82 0 1 0 -1.6 0M159.5 161.6a0.82 0.82 0 1 0 1.6 0a0.82 0.82 0 1 0 -1.6 0M161.8 161.7a0.82 0.82 0 1 0 1.6 0a0.82 0.82 0 1 0 -1.6 0M164.5 162.4a0.82 0.82 0 1 0 1.6 0a0.82 0.82 0 1 0 -1.6 0M166.9 161.6a0.82 0.82 0 1 0 1.6 0a0.82 0.82 0 1 0 -1.6 0M168.5 162.0a0.82 0.82 0 1 0 1.6 0a0.82 0.82 0 1 0 -1.6 0M171.5 162.4a0.82 0.82 0 1 0 1.6 0a0.82 0.82 0 1 0 -1.6 0M173.7 162.0a0.82 0.82 0 1 0 1.6 0a0.82 0.82 0 1 0 -1.6 0M176.1 161.7a0.82 0.82 0 1 0 1.6 0a0.82 0.82 0 1 0 -1.6 0M178.3 162.3a0.82 0.82 0 1 0 1.6 0a0.82 0.82 0 1 0 -1.6 0M180.0 162.0a0.82 0.82 0 1 0 1.6 0a0.82 0.82 0 1 0 -1.6 0M182.4 161.7a0.82 0.82 0 1 0 1.6 0a0.82 0.82 0 1 0 -1.6 0M184.5 161.5a0.82 0.82 0 1 0 1.6 0a0.82 0.82 0 1 0 -1.6 0M186.9 161.7a0.82 0.82 0 1 0 1.6 0a0.82 0.82 0 1 0 -1.6 0M189.8 161.6a0.82 0.82 0 1 0 1.6 0a0.82 0.82 0 1 0 -1.6 0M192.0 162.1a0.82 0.82 0 1 0 1.6 0a0.82 0.82 0 1 0 -1.6 0M196.0 161.5a0.82 0.82 0 1 0 1.6 0a0.82 0.82 0 1 0 -1.6 0M198.6 162.0a0.82 0.82 0 1 0 1.6 0a0.82 0.82 0 1 0 -1.6 0M200.8 161.6a0.82 0.82 0 1 0 1.6 0a0.82 0.82 0 1 0 -1.6 0M203.1 161.6a0.82 0.82 0 1 0 1.6 0a0.82 0.82 0 1 0 -1.6 0M205.4 161.9a0.82 0.82 0 1 0 1.6 0a0.82 0.82 0 1 0 -1.6 0M208.3 161.9a0.82 0.82 0 1 0 1.6 0a0.82 0.82 0 1 0 -1.6 0M210.3 161.6a0.82 0.82 0 1 0 1.6 0a0.82 0.82 0 1 0 -1.6 0M212.9 161.8a0.82 0.82 0 1 0 1.6 0a0.82 0.82 0 1 0 -1.6 0M215.0 161.8a0.82 0.82 0 1 0 1.6 0a0.82 0.82 0 1 0 -1.6 0M216.6 162.2a0.82 0.82 0 1 0 1.6 0a0.82 0.82 0 1 0 -1.6 0M219.8 161.8a0.82 0.82 0 1 0 1.6 0a0.82 0.82 0 1 0 -1.6 0M221.8 162.1a0.82 0.82 0 1 0 1.6 0a0.82 0.82 0 1 0 -1.6 0M224.3 162.2a0.82 0.82 0 1 0 1.6 0a0.82 0.82 0 1 0 -1.6 0M226.7 162.0a0.82 0.82 0 1 0 1.6 0a0.82 0.82 0 1 0 -1.6 0M228.9 162.2a0.82 0.82 0 1 0 1.6 0a0.82 0.82 0 1 0 -1.6 0M230.9 161.8a0.82 0.82 0 1 0 1.6 0a0.82 0.82 0 1 0 -1.6 0M233.6 162.0a0.82 0.82 0 1 0 1.6 0a0.82 0.82 0 1 0 -1.6 0M235.6 162.2a0.82 0.82 0 1 0 1.6 0a0.82 0.82 0 1 0 -1.6 0M237.7 162.3a0.82 0.82 0 1 0 1.6 0a0.82 0.82 0 1 0 -1.6 0M240.4 161.6a0.82 0.82 0 1 0 1.6 0a0.82 0.82 0 1 0 -1.6 0M242.0 162.2a0.82 0.82 0 1 0 1.6 0a0.82 0.82 0 1 0 -1.6 0M244.5 162.1a0.82 0.82 0 1 0 1.6 0a0.82 0.82 0 1 0 -1.6 0M249.7 161.9a0.82 0.82 0 1 0 1.6 0a0.82 0.82 0 1 0 -1.6 0M251.5 161.6a0.82 0.82 0 1 0 1.6 0a0.82 0.82 0 1 0 -1.6 0M254.3 161.5a0.82 0.82 0 1 0 1.6 0a0.82 0.82 0 1 0 -1.6 0M256.4 162.0a0.82 0.82 0 1 0 1.6 0a0.82 0.82 0 1 0 -1.6 0M258.6 162.1a0.82 0.82 0 1 0 1.6 0a0.82 0.82 0 1 0 -1.6 0M27.1 164.3a0.82 0.82 0 1 0 1.6 0a0.82 0.82 0 1 0 -1.6 0M29.3 163.6a0.82 0.82 0 1 0 1.6 0a0.82 0.82 0 1 0 -1.6 0M32.0 164.1a0.82 0.82 0 1 0 1.6 0a0.82 0.82 0 1 0 -1.6 0M34.3 163.9a0.82 0.82 0 1 0 1.6 0a0.82 0.82 0 1 0 -1.6 0M36.4 164.3a0.82 0.82 0 1 0 1.6 0a0.82 0.82 0 1 0 -1.6 0M38.5 163.6a0.82 0.82 0 1 0 1.6 0a0.82 0.82 0 1 0 -1.6 0M41.4 164.2a0.82 0.82 0 1 0 1.6 0a0.82 0.82 0 1 0 -1.6 0M43.4 164.1a0.82 0.82 0 1 0 1.6 0a0.82 0.82 0 1 0 -1.6 0M46.1 164.3a0.82 0.82 0 1 0 1.6 0a0.82 0.82 0 1 0 -1.6 0M47.9 163.7a0.82 0.82 0 1 0 1.6 0a0.82 0.82 0 1 0 -1.6 0M50.6 164.4a0.82 0.82 0 1 0 1.6 0a0.82 0.82 0 1 0 -1.6 0M52.4 164.0a0.82 0.82 0 1 0 1.6 0a0.82 0.82 0 1 0 -1.6 0M54.7 164.3a0.82 0.82 0 1 0 1.6 0a0.82 0.82 0 1 0 -1.6 0M56.9 164.1a0.82 0.82 0 1 0 1.6 0a0.82 0.82 0 1 0 -1.6 0M59.5 164.3a0.82 0.82 0 1 0 1.6 0a0.82 0.82 0 1 0 -1.6 0M61.6 163.6a0.82 0.82 0 1 0 1.6 0a0.82 0.82 0 1 0 -1.6 0M63.9 164.1a0.82 0.82 0 1 0 1.6 0a0.82 0.82 0 1 0 -1.6 0M66.6 163.7a0.82 0.82 0 1 0 1.6 0a0.82 0.82 0 1 0 -1.6 0M69.1 164.3a0.82 0.82 0 1 0 1.6 0a0.82 0.82 0 1 0 -1.6 0M71.3 164.1a0.82 0.82 0 1 0 1.6 0a0.82 0.82 0 1 0 -1.6 0M73.7 163.9a0.82 0.82 0 1 0 1.6 0a0.82 0.82 0 1 0 -1.6 0M75.8 163.5a0.82 0.82 0 1 0 1.6 0a0.82 0.82 0 1 0 -1.6 0M77.6 164.0a0.82 0.82 0 1 0 1.6 0a0.82 0.82 0 1 0 -1.6 0M79.8 163.9a0.82 0.82 0 1 0 1.6 0a0.82 0.82 0 1 0 -1.6 0M82.1 163.9a0.82 0.82 0 1 0 1.6 0a0.82 0.82 0 1 0 -1.6 0M84.7 164.3a0.82 0.82 0 1 0 1.6 0a0.82 0.82 0 1 0 -1.6 0M86.8 163.6a0.82 0.82 0 1 0 1.6 0a0.82 0.82 0 1 0 -1.6 0M89.8 163.9a0.82 0.82 0 1 0 1.6 0a0.82 0.82 0 1 0 -1.6 0M94.5 164.2a0.82 0.82 0 1 0 1.6 0a0.82 0.82 0 1 0 -1.6 0M96.3 163.5a0.82 0.82 0 1 0 1.6 0a0.82 0.82 0 1 0 -1.6 0M98.9 163.7a0.82 0.82 0 1 0 1.6 0a0.82 0.82 0 1 0 -1.6 0M103.3 163.8a0.82 0.82 0 1 0 1.6 0a0.82 0.82 0 1 0 -1.6 0M105.5 163.7a0.82 0.82 0 1 0 1.6 0a0.82 0.82 0 1 0 -1.6 0M107.9 163.6a0.82 0.82 0 1 0 1.6 0a0.82 0.82 0 1 0 -1.6 0M112.9 163.8a0.82 0.82 0 1 0 1.6 0a0.82 0.82 0 1 0 -1.6 0M114.5 163.6a0.82 0.82 0 1 0 1.6 0a0.82 0.82 0 1 0 -1.6 0M117.4 164.1a0.82 0.82 0 1 0 1.6 0a0.82 0.82 0 1 0 -1.6 0M119.4 164.2a0.82 0.82 0 1 0 1.6 0a0.82 0.82 0 1 0 -1.6 0M121.5 164.3a0.82 0.82 0 1 0 1.6 0a0.82 0.82 0 1 0 -1.6 0M123.5 164.0a0.82 0.82 0 1 0 1.6 0a0.82 0.82 0 1 0 -1.6 0M126.5 164.1a0.82 0.82 0 1 0 1.6 0a0.82 0.82 0 1 0 -1.6 0M130.4 163.8a0.82 0.82 0 1 0 1.6 0a0.82 0.82 0 1 0 -1.6 0M132.7 163.8a0.82 0.82 0 1 0 1.6 0a0.82 0.82 0 1 0 -1.6 0M135.0 163.6a0.82 0.82 0 1 0 1.6 0a0.82 0.82 0 1 0 -1.6 0M138.1 163.7a0.82 0.82 0 1 0 1.6 0a0.82 0.82 0 1 0 -1.6 0M140.4 163.8a0.82 0.82 0 1 0 1.6 0a0.82 0.82 0 1 0 -1.6 0M142.8 163.6a0.82 0.82 0 1 0 1.6 0a0.82 0.82 0 1 0 -1.6 0M144.5 164.1a0.82 0.82 0 1 0 1.6 0a0.82 0.82 0 1 0 -1.6 0M149.4 164.0a0.82 0.82 0 1 0 1.6 0a0.82 0.82 0 1 0 -1.6 0M151.2 163.6a0.82 0.82 0 1 0 1.6 0a0.82 0.82 0 1 0 -1.6 0M153.5 163.9a0.82 0.82 0 1 0 1.6 0a0.82 0.82 0 1 0 -1.6 0M156.2 163.5a0.82 0.82 0 1 0 1.6 0a0.82 0.82 0 1 0 -1.6 0M158.7 163.7a0.82 0.82 0 1 0 1.6 0a0.82 0.82 0 1 0 -1.6 0M160.7 163.8a0.82 0.82 0 1 0 1.6 0a0.82 0.82 0 1 0 -1.6 0M163.2 164.2a0.82 0.82 0 1 0 1.6 0a0.82 0.82 0 1 0 -1.6 0M167.3 163.8a0.82 0.82 0 1 0 1.6 0a0.82 0.82 0 1 0 -1.6 0M169.8 163.9a0.82 0.82 0 1 0 1.6 0a0.82 0.82 0 1 0 -1.6 0M172.1 163.8a0.82 0.82 0 1 0 1.6 0a0.82 0.82 0 1 0 -1.6 0M174.2 163.5a0.82 0.82 0 1 0 1.6 0a0.82 0.82 0 1 0 -1.6 0M176.5 164.0a0.82 0.82 0 1 0 1.6 0a0.82 0.82 0 1 0 -1.6 0M178.8 164.1a0.82 0.82 0 1 0 1.6 0a0.82 0.82 0 1 0 -1.6 0M181.6 163.8a0.82 0.82 0 1 0 1.6 0a0.82 0.82 0 1 0 -1.6 0M185.8 163.5a0.82 0.82 0 1 0 1.6 0a0.82 0.82 0 1 0 -1.6 0M188.1 164.1a0.82 0.82 0 1 0 1.6 0a0.82 0.82 0 1 0 -1.6 0M190.6 163.6a0.82 0.82 0 1 0 1.6 0a0.82 0.82 0 1 0 -1.6 0M195.2 163.6a0.82 0.82 0 1 0 1.6 0a0.82 0.82 0 1 0 -1.6 0M197.3 164.3a0.82 0.82 0 1 0 1.6 0a0.82 0.82 0 1 0 -1.6 0M199.8 163.6a0.82 0.82 0 1 0 1.6 0a0.82 0.82 0 1 0 -1.6 0M202.6 163.5a0.82 0.82 0 1 0 1.6 0a0.82 0.82 0 1 0 -1.6 0M204.3 163.5a0.82 0.82 0 1 0 1.6 0a0.82 0.82 0 1 0 -1.6 0M206.9 163.8a0.82 0.82 0 1 0 1.6 0a0.82 0.82 0 1 0 -1.6 0M211.5 164.2a0.82 0.82 0 1 0 1.6 0a0.82 0.82 0 1 0 -1.6 0M213.8 163.6a0.82 0.82 0 1 0 1.6 0a0.82 0.82 0 1 0 -1.6 0M215.5 163.8a0.82 0.82 0 1 0 1.6 0a0.82 0.82 0 1 0 -1.6 0M218.6 164.2a0.82 0.82 0 1 0 1.6 0a0.82 0.82 0 1 0 -1.6 0M222.6 163.9a0.82 0.82 0 1 0 1.6 0a0.82 0.82 0 1 0 -1.6 0M225.1 164.0a0.82 0.82 0 1 0 1.6 0a0.82 0.82 0 1 0 -1.6 0M227.4 163.8a0.82 0.82 0 1 0 1.6 0a0.82 0.82 0 1 0 -1.6 0M229.5 164.2a0.82 0.82 0 1 0 1.6 0a0.82 0.82 0 1 0 -1.6 0M231.8 164.3a0.82 0.82 0 1 0 1.6 0a0.82 0.82 0 1 0 -1.6 0M234.2 164.1a0.82 0.82 0 1 0 1.6 0a0.82 0.82 0 1 0 -1.6 0M236.4 163.9a0.82 0.82 0 1 0 1.6 0a0.82 0.82 0 1 0 -1.6 0M239.2 164.1a0.82 0.82 0 1 0 1.6 0a0.82 0.82 0 1 0 -1.6 0M241.4 164.1a0.82 0.82 0 1 0 1.6 0a0.82 0.82 0 1 0 -1.6 0M243.1 163.8a0.82 0.82 0 1 0 1.6 0a0.82 0.82 0 1 0 -1.6 0M246.0 164.3a0.82 0.82 0 1 0 1.6 0a0.82 0.82 0 1 0 -1.6 0M247.8 164.2a0.82 0.82 0 1 0 1.6 0a0.82 0.82 0 1 0 -1.6 0M250.2 163.9a0.82 0.82 0 1 0 1.6 0a0.82 0.82 0 1 0 -1.6 0M253.1 163.9a0.82 0.82 0 1 0 1.6 0a0.82 0.82 0 1 0 -1.6 0M26.5 165.8a0.82 0.82 0 1 0 1.6 0a0.82 0.82 0 1 0 -1.6 0M28.1 166.3a0.82 0.82 0 1 0 1.6 0a0.82 0.82 0 1 0 -1.6 0M30.6 165.5a0.82 0.82 0 1 0 1.6 0a0.82 0.82 0 1 0 -1.6 0M33.0 166.1a0.82 0.82 0 1 0 1.6 0a0.82 0.82 0 1 0 -1.6 0M35.1 165.5a0.82 0.82 0 1 0 1.6 0a0.82 0.82 0 1 0 -1.6 0M37.4 166.2a0.82 0.82 0 1 0 1.6 0a0.82 0.82 0 1 0 -1.6 0M40.0 165.7a0.82 0.82 0 1 0 1.6 0a0.82 0.82 0 1 0 -1.6 0M42.4 165.9a0.82 0.82 0 1 0 1.6 0a0.82 0.82 0 1 0 -1.6 0M44.5 165.8a0.82 0.82 0 1 0 1.6 0a0.82 0.82 0 1 0 -1.6 0M49.3 165.8a0.82 0.82 0 1 0 1.6 0a0.82 0.82 0 1 0 -1.6 0M51.3 166.2a0.82 0.82 0 1 0 1.6 0a0.82 0.82 0 1 0 -1.6 0M53.7 165.7a0.82 0.82 0 1 0 1.6 0a0.82 0.82 0 1 0 -1.6 0M56.1 165.8a0.82 0.82 0 1 0 1.6 0a0.82 0.82 0 1 0 -1.6 0M58.6 165.8a0.82 0.82 0 1 0 1.6 0a0.82 0.82 0 1 0 -1.6 0M60.4 165.5a0.82 0.82 0 1 0 1.6 0a0.82 0.82 0 1 0 -1.6 0M62.9 165.9a0.82 0.82 0 1 0 1.6 0a0.82 0.82 0 1 0 -1.6 0M65.7 165.6a0.82 0.82 0 1 0 1.6 0a0.82 0.82 0 1 0 -1.6 0M67.9 165.6a0.82 0.82 0 1 0 1.6 0a0.82 0.82 0 1 0 -1.6 0M70.0 166.0a0.82 0.82 0 1 0 1.6 0a0.82 0.82 0 1 0 -1.6 0M74.5 165.7a0.82 0.82 0 1 0 1.6 0a0.82 0.82 0 1 0 -1.6 0M76.7 166.3a0.82 0.82 0 1 0 1.6 0a0.82 0.82 0 1 0 -1.6 0M79.2 166.0a0.82 0.82 0 1 0 1.6 0a0.82 0.82 0 1 0 -1.6 0M81.6 165.9a0.82 0.82 0 1 0 1.6 0a0.82 0.82 0 1 0 -1.6 0M83.3 165.6a0.82 0.82 0 1 0 1.6 0a0.82 0.82 0 1 0 -1.6 0M86.0 165.9a0.82 0.82 0 1 0 1.6 0a0.82 0.82 0 1 0 -1.6 0M88.5 165.7a0.82 0.82 0 1 0 1.6 0a0.82 0.82 0 1 0 -1.6 0M90.3 165.9a0.82 0.82 0 1 0 1.6 0a0.82 0.82 0 1 0 -1.6 0M92.9 166.0a0.82 0.82 0 1 0 1.6 0a0.82 0.82 0 1 0 -1.6 0M95.2 166.0a0.82 0.82 0 1 0 1.6 0a0.82 0.82 0 1 0 -1.6 0M97.4 166.2a0.82 0.82 0 1 0 1.6 0a0.82 0.82 0 1 0 -1.6 0M99.7 166.3a0.82 0.82 0 1 0 1.6 0a0.82 0.82 0 1 0 -1.6 0M102.2 165.5a0.82 0.82 0 1 0 1.6 0a0.82 0.82 0 1 0 -1.6 0M104.2 166.2a0.82 0.82 0 1 0 1.6 0a0.82 0.82 0 1 0 -1.6 0M106.2 166.3a0.82 0.82 0 1 0 1.6 0a0.82 0.82 0 1 0 -1.6 0M109.0 166.2a0.82 0.82 0 1 0 1.6 0a0.82 0.82 0 1 0 -1.6 0M110.9 165.8a0.82 0.82 0 1 0 1.6 0a0.82 0.82 0 1 0 -1.6 0M113.2 165.6a0.82 0.82 0 1 0 1.6 0a0.82 0.82 0 1 0 -1.6 0M120.9 166.2a0.82 0.82 0 1 0 1.6 0a0.82 0.82 0 1 0 -1.6 0M123.2 165.9a0.82 0.82 0 1 0 1.6 0a0.82 0.82 0 1 0 -1.6 0M125.3 165.9a0.82 0.82 0 1 0 1.6 0a0.82 0.82 0 1 0 -1.6 0M127.8 165.7a0.82 0.82 0 1 0 1.6 0a0.82 0.82 0 1 0 -1.6 0M129.9 165.8a0.82 0.82 0 1 0 1.6 0a0.82 0.82 0 1 0 -1.6 0M133.9 166.1a0.82 0.82 0 1 0 1.6 0a0.82 0.82 0 1 0 -1.6 0M136.3 165.8a0.82 0.82 0 1 0 1.6 0a0.82 0.82 0 1 0 -1.6 0M138.9 165.6a0.82 0.82 0 1 0 1.6 0a0.82 0.82 0 1 0 -1.6 0M141.4 165.6a0.82 0.82 0 1 0 1.6 0a0.82 0.82 0 1 0 -1.6 0M143.1 165.7a0.82 0.82 0 1 0 1.6 0a0.82 0.82 0 1 0 -1.6 0M145.9 165.6a0.82 0.82 0 1 0 1.6 0a0.82 0.82 0 1 0 -1.6 0M147.9 166.2a0.82 0.82 0 1 0 1.6 0a0.82 0.82 0 1 0 -1.6 0M150.0 166.2a0.82 0.82 0 1 0 1.6 0a0.82 0.82 0 1 0 -1.6 0M152.8 166.2a0.82 0.82 0 1 0 1.6 0a0.82 0.82 0 1 0 -1.6 0M157.3 165.6a0.82 0.82 0 1 0 1.6 0a0.82 0.82 0 1 0 -1.6 0M159.3 165.6a0.82 0.82 0 1 0 1.6 0a0.82 0.82 0 1 0 -1.6 0M161.9 165.8a0.82 0.82 0 1 0 1.6 0a0.82 0.82 0 1 0 -1.6 0M164.6 165.6a0.82 0.82 0 1 0 1.6 0a0.82 0.82 0 1 0 -1.6 0M166.5 165.6a0.82 0.82 0 1 0 1.6 0a0.82 0.82 0 1 0 -1.6 0M168.5 166.0a0.82 0.82 0 1 0 1.6 0a0.82 0.82 0 1 0 -1.6 0M170.7 166.0a0.82 0.82 0 1 0 1.6 0a0.82 0.82 0 1 0 -1.6 0M173.6 165.5a0.82 0.82 0 1 0 1.6 0a0.82 0.82 0 1 0 -1.6 0M175.5 165.5a0.82 0.82 0 1 0 1.6 0a0.82 0.82 0 1 0 -1.6 0M177.8 165.7a0.82 0.82 0 1 0 1.6 0a0.82 0.82 0 1 0 -1.6 0M180.5 165.6a0.82 0.82 0 1 0 1.6 0a0.82 0.82 0 1 0 -1.6 0M182.2 166.1a0.82 0.82 0 1 0 1.6 0a0.82 0.82 0 1 0 -1.6 0M184.5 166.1a0.82 0.82 0 1 0 1.6 0a0.82 0.82 0 1 0 -1.6 0M187.0 165.5a0.82 0.82 0 1 0 1.6 0a0.82 0.82 0 1 0 -1.6 0M189.4 166.1a0.82 0.82 0 1 0 1.6 0a0.82 0.82 0 1 0 -1.6 0M191.7 166.3a0.82 0.82 0 1 0 1.6 0a0.82 0.82 0 1 0 -1.6 0M194.0 166.0a0.82 0.82 0 1 0 1.6 0a0.82 0.82 0 1 0 -1.6 0M196.0 165.8a0.82 0.82 0 1 0 1.6 0a0.82 0.82 0 1 0 -1.6 0M198.8 166.0a0.82 0.82 0 1 0 1.6 0a0.82 0.82 0 1 0 -1.6 0M200.8 166.1a0.82 0.82 0 1 0 1.6 0a0.82 0.82 0 1 0 -1.6 0M203.4 166.0a0.82 0.82 0 1 0 1.6 0a0.82 0.82 0 1 0 -1.6 0M205.7 165.8a0.82 0.82 0 1 0 1.6 0a0.82 0.82 0 1 0 -1.6 0M208.1 165.7a0.82 0.82 0 1 0 1.6 0a0.82 0.82 0 1 0 -1.6 0M210.4 165.5a0.82 0.82 0 1 0 1.6 0a0.82 0.82 0 1 0 -1.6 0M212.4 165.6a0.82 0.82 0 1 0 1.6 0a0.82 0.82 0 1 0 -1.6 0M214.4 165.9a0.82 0.82 0 1 0 1.6 0a0.82 0.82 0 1 0 -1.6 0M217.0 165.7a0.82 0.82 0 1 0 1.6 0a0.82 0.82 0 1 0 -1.6 0M219.7 165.8a0.82 0.82 0 1 0 1.6 0a0.82 0.82 0 1 0 -1.6 0M221.3 165.9a0.82 0.82 0 1 0 1.6 0a0.82 0.82 0 1 0 -1.6 0M224.2 165.7a0.82 0.82 0 1 0 1.6 0a0.82 0.82 0 1 0 -1.6 0M226.7 166.3a0.82 0.82 0 1 0 1.6 0a0.82 0.82 0 1 0 -1.6 0M228.2 165.9a0.82 0.82 0 1 0 1.6 0a0.82 0.82 0 1 0 -1.6 0M231.1 165.5a0.82 0.82 0 1 0 1.6 0a0.82 0.82 0 1 0 -1.6 0M233.4 165.5a0.82 0.82 0 1 0 1.6 0a0.82 0.82 0 1 0 -1.6 0M235.0 165.6a0.82 0.82 0 1 0 1.6 0a0.82 0.82 0 1 0 -1.6 0M237.5 165.9a0.82 0.82 0 1 0 1.6 0a0.82 0.82 0 1 0 -1.6 0M239.9 165.7a0.82 0.82 0 1 0 1.6 0a0.82 0.82 0 1 0 -1.6 0M242.0 166.3a0.82 0.82 0 1 0 1.6 0a0.82 0.82 0 1 0 -1.6 0M244.3 165.5a0.82 0.82 0 1 0 1.6 0a0.82 0.82 0 1 0 -1.6 0M246.8 165.9a0.82 0.82 0 1 0 1.6 0a0.82 0.82 0 1 0 -1.6 0M249.4 165.7a0.82 0.82 0 1 0 1.6 0a0.82 0.82 0 1 0 -1.6 0M27.1 168.3a0.82 0.82 0 1 0 1.6 0a0.82 0.82 0 1 0 -1.6 0M31.7 168.3a0.82 0.82 0 1 0 1.6 0a0.82 0.82 0 1 0 -1.6 0M33.9 168.2a0.82 0.82 0 1 0 1.6 0a0.82 0.82 0 1 0 -1.6 0M36.3 167.9a0.82 0.82 0 1 0 1.6 0a0.82 0.82 0 1 0 -1.6 0M38.5 167.9a0.82 0.82 0 1 0 1.6 0a0.82 0.82 0 1 0 -1.6 0M40.9 168.3a0.82 0.82 0 1 0 1.6 0a0.82 0.82 0 1 0 -1.6 0M43.6 168.1a0.82 0.82 0 1 0 1.6 0a0.82 0.82 0 1 0 -1.6 0M45.7 167.6a0.82 0.82 0 1 0 1.6 0a0.82 0.82 0 1 0 -1.6 0M48.5 167.9a0.82 0.82 0 1 0 1.6 0a0.82 0.82 0 1 0 -1.6 0M50.5 168.3a0.82 0.82 0 1 0 1.6 0a0.82 0.82 0 1 0 -1.6 0M52.9 167.9a0.82 0.82 0 1 0 1.6 0a0.82 0.82 0 1 0 -1.6 0M55.2 168.2a0.82 0.82 0 1 0 1.6 0a0.82 0.82 0 1 0 -1.6 0M57.3 167.6a0.82 0.82 0 1 0 1.6 0a0.82 0.82 0 1 0 -1.6 0M59.7 167.6a0.82 0.82 0 1 0 1.6 0a0.82 0.82 0 1 0 -1.6 0M61.7 167.7a0.82 0.82 0 1 0 1.6 0a0.82 0.82 0 1 0 -1.6 0M64.0 167.5a0.82 0.82 0 1 0 1.6 0a0.82 0.82 0 1 0 -1.6 0M66.8 167.6a0.82 0.82 0 1 0 1.6 0a0.82 0.82 0 1 0 -1.6 0M68.9 168.0a0.82 0.82 0 1 0 1.6 0a0.82 0.82 0 1 0 -1.6 0M71.5 167.8a0.82 0.82 0 1 0 1.6 0a0.82 0.82 0 1 0 -1.6 0M73.6 167.5a0.82 0.82 0 1 0 1.6 0a0.82 0.82 0 1 0 -1.6 0M75.7 168.2a0.82 0.82 0 1 0 1.6 0a0.82 0.82 0 1 0 -1.6 0M77.8 167.6a0.82 0.82 0 1 0 1.6 0a0.82 0.82 0 1 0 -1.6 0M80.3 168.0a0.82 0.82 0 1 0 1.6 0a0.82 0.82 0 1 0 -1.6 0M82.4 168.3a0.82 0.82 0 1 0 1.6 0a0.82 0.82 0 1 0 -1.6 0M85.0 168.3a0.82 0.82 0 1 0 1.6 0a0.82 0.82 0 1 0 -1.6 0M89.7 167.7a0.82 0.82 0 1 0 1.6 0a0.82 0.82 0 1 0 -1.6 0M91.5 168.1a0.82 0.82 0 1 0 1.6 0a0.82 0.82 0 1 0 -1.6 0M94.0 167.7a0.82 0.82 0 1 0 1.6 0a0.82 0.82 0 1 0 -1.6 0M96.6 168.0a0.82 0.82 0 1 0 1.6 0a0.82 0.82 0 1 0 -1.6 0M98.2 167.9a0.82 0.82 0 1 0 1.6 0a0.82 0.82 0 1 0 -1.6 0M101.3 167.8a0.82 0.82 0 1 0 1.6 0a0.82 0.82 0 1 0 -1.6 0M103.0 167.7a0.82 0.82 0 1 0 1.6 0a0.82 0.82 0 1 0 -1.6 0M105.5 167.7a0.82 0.82 0 1 0 1.6 0a0.82 0.82 0 1 0 -1.6 0M107.7 167.5a0.82 0.82 0 1 0 1.6 0a0.82 0.82 0 1 0 -1.6 0M110.4 168.1a0.82 0.82 0 1 0 1.6 0a0.82 0.82 0 1 0 -1.6 0M112.5 167.5a0.82 0.82 0 1 0 1.6 0a0.82 0.82 0 1 0 -1.6 0M114.3 167.9a0.82 0.82 0 1 0 1.6 0a0.82 0.82 0 1 0 -1.6 0M116.7 168.1a0.82 0.82 0 1 0 1.6 0a0.82 0.82 0 1 0 -1.6 0M119.4 168.2a0.82 0.82 0 1 0 1.6 0a0.82 0.82 0 1 0 -1.6 0M122.0 168.0a0.82 0.82 0 1 0 1.6 0a0.82 0.82 0 1 0 -1.6 0M124.3 167.7a0.82 0.82 0 1 0 1.6 0a0.82 0.82 0 1 0 -1.6 0M126.5 168.0a0.82 0.82 0 1 0 1.6 0a0.82 0.82 0 1 0 -1.6 0M131.3 167.5a0.82 0.82 0 1 0 1.6 0a0.82 0.82 0 1 0 -1.6 0M133.6 168.0a0.82 0.82 0 1 0 1.6 0a0.82 0.82 0 1 0 -1.6 0M135.6 168.3a0.82 0.82 0 1 0 1.6 0a0.82 0.82 0 1 0 -1.6 0M137.3 168.2a0.82 0.82 0 1 0 1.6 0a0.82 0.82 0 1 0 -1.6 0M139.8 167.8a0.82 0.82 0 1 0 1.6 0a0.82 0.82 0 1 0 -1.6 0M142.4 167.7a0.82 0.82 0 1 0 1.6 0a0.82 0.82 0 1 0 -1.6 0M145.0 167.7a0.82 0.82 0 1 0 1.6 0a0.82 0.82 0 1 0 -1.6 0M147.2 167.6a0.82 0.82 0 1 0 1.6 0a0.82 0.82 0 1 0 -1.6 0M151.9 167.6a0.82 0.82 0 1 0 1.6 0a0.82 0.82 0 1 0 -1.6 0M154.2 167.5a0.82 0.82 0 1 0 1.6 0a0.82 0.82 0 1 0 -1.6 0M156.0 168.1a0.82 0.82 0 1 0 1.6 0a0.82 0.82 0 1 0 -1.6 0M158.4 167.6a0.82 0.82 0 1 0 1.6 0a0.82 0.82 0 1 0 -1.6 0M161.1 168.2a0.82 0.82 0 1 0 1.6 0a0.82 0.82 0 1 0 -1.6 0M163.3 167.5a0.82 0.82 0 1 0 1.6 0a0.82 0.82 0 1 0 -1.6 0M165.6 168.3a0.82 0.82 0 1 0 1.6 0a0.82 0.82 0 1 0 -1.6 0M170.2 168.0a0.82 0.82 0 1 0 1.6 0a0.82 0.82 0 1 0 -1.6 0M171.9 168.2a0.82 0.82 0 1 0 1.6 0a0.82 0.82 0 1 0 -1.6 0M174.7 167.6a0.82 0.82 0 1 0 1.6 0a0.82 0.82 0 1 0 -1.6 0M176.5 167.7a0.82 0.82 0 1 0 1.6 0a0.82 0.82 0 1 0 -1.6 0M178.8 167.5a0.82 0.82 0 1 0 1.6 0a0.82 0.82 0 1 0 -1.6 0M181.0 168.1a0.82 0.82 0 1 0 1.6 0a0.82 0.82 0 1 0 -1.6 0M183.5 168.0a0.82 0.82 0 1 0 1.6 0a0.82 0.82 0 1 0 -1.6 0M185.6 167.7a0.82 0.82 0 1 0 1.6 0a0.82 0.82 0 1 0 -1.6 0M188.6 167.9a0.82 0.82 0 1 0 1.6 0a0.82 0.82 0 1 0 -1.6 0M190.4 167.7a0.82 0.82 0 1 0 1.6 0a0.82 0.82 0 1 0 -1.6 0M192.7 168.2a0.82 0.82 0 1 0 1.6 0a0.82 0.82 0 1 0 -1.6 0M195.6 168.3a0.82 0.82 0 1 0 1.6 0a0.82 0.82 0 1 0 -1.6 0M197.3 167.7a0.82 0.82 0 1 0 1.6 0a0.82 0.82 0 1 0 -1.6 0M199.5 167.8a0.82 0.82 0 1 0 1.6 0a0.82 0.82 0 1 0 -1.6 0M202.4 168.2a0.82 0.82 0 1 0 1.6 0a0.82 0.82 0 1 0 -1.6 0M204.6 168.3a0.82 0.82 0 1 0 1.6 0a0.82 0.82 0 1 0 -1.6 0M206.5 167.8a0.82 0.82 0 1 0 1.6 0a0.82 0.82 0 1 0 -1.6 0M214.0 167.8a0.82 0.82 0 1 0 1.6 0a0.82 0.82 0 1 0 -1.6 0M216.2 167.8a0.82 0.82 0 1 0 1.6 0a0.82 0.82 0 1 0 -1.6 0M218.2 167.8a0.82 0.82 0 1 0 1.6 0a0.82 0.82 0 1 0 -1.6 0M220.2 168.3a0.82 0.82 0 1 0 1.6 0a0.82 0.82 0 1 0 -1.6 0M222.9 168.2a0.82 0.82 0 1 0 1.6 0a0.82 0.82 0 1 0 -1.6 0M224.8 167.5a0.82 0.82 0 1 0 1.6 0a0.82 0.82 0 1 0 -1.6 0M227.9 167.8a0.82 0.82 0 1 0 1.6 0a0.82 0.82 0 1 0 -1.6 0M230.1 168.0a0.82 0.82 0 1 0 1.6 0a0.82 0.82 0 1 0 -1.6 0M231.9 167.9a0.82 0.82 0 1 0 1.6 0a0.82 0.82 0 1 0 -1.6 0M234.1 167.5a0.82 0.82 0 1 0 1.6 0a0.82 0.82 0 1 0 -1.6 0M239.2 167.8a0.82 0.82 0 1 0 1.6 0a0.82 0.82 0 1 0 -1.6 0M28.2 170.2a0.82 0.82 0 1 0 1.6 0a0.82 0.82 0 1 0 -1.6 0M31.1 170.0a0.82 0.82 0 1 0 1.6 0a0.82 0.82 0 1 0 -1.6 0M32.8 170.3a0.82 0.82 0 1 0 1.6 0a0.82 0.82 0 1 0 -1.6 0M35.0 169.7a0.82 0.82 0 1 0 1.6 0a0.82 0.82 0 1 0 -1.6 0M37.6 170.2a0.82 0.82 0 1 0 1.6 0a0.82 0.82 0 1 0 -1.6 0M39.7 170.1a0.82 0.82 0 1 0 1.6 0a0.82 0.82 0 1 0 -1.6 0M42.5 170.0a0.82 0.82 0 1 0 1.6 0a0.82 0.82 0 1 0 -1.6 0M45.0 169.4a0.82 0.82 0 1 0 1.6 0a0.82 0.82 0 1 0 -1.6 0M46.8 170.1a0.82 0.82 0 1 0 1.6 0a0.82 0.82 0 1 0 -1.6 0M49.2 170.1a0.82 0.82 0 1 0 1.6 0a0.82 0.82 0 1 0 -1.6 0M51.2 169.9a0.82 0.82 0 1 0 1.6 0a0.82 0.82 0 1 0 -1.6 0M54.0 170.0a0.82 0.82 0 1 0 1.6 0a0.82 0.82 0 1 0 -1.6 0M55.8 169.9a0.82 0.82 0 1 0 1.6 0a0.82 0.82 0 1 0 -1.6 0M58.2 169.7a0.82 0.82 0 1 0 1.6 0a0.82 0.82 0 1 0 -1.6 0M60.7 169.6a0.82 0.82 0 1 0 1.6 0a0.82 0.82 0 1 0 -1.6 0M62.7 169.5a0.82 0.82 0 1 0 1.6 0a0.82 0.82 0 1 0 -1.6 0M65.6 170.3a0.82 0.82 0 1 0 1.6 0a0.82 0.82 0 1 0 -1.6 0M67.6 169.7a0.82 0.82 0 1 0 1.6 0a0.82 0.82 0 1 0 -1.6 0M69.7 169.7a0.82 0.82 0 1 0 1.6 0a0.82 0.82 0 1 0 -1.6 0M71.8 170.2a0.82 0.82 0 1 0 1.6 0a0.82 0.82 0 1 0 -1.6 0M74.3 169.6a0.82 0.82 0 1 0 1.6 0a0.82 0.82 0 1 0 -1.6 0M76.5 169.7a0.82 0.82 0 1 0 1.6 0a0.82 0.82 0 1 0 -1.6 0M79.1 170.1a0.82 0.82 0 1 0 1.6 0a0.82 0.82 0 1 0 -1.6 0M83.5 169.6a0.82 0.82 0 1 0 1.6 0a0.82 0.82 0 1 0 -1.6 0M86.4 170.2a0.82 0.82 0 1 0 1.6 0a0.82 0.82 0 1 0 -1.6 0M88.3 170.2a0.82 0.82 0 1 0 1.6 0a0.82 0.82 0 1 0 -1.6 0M90.3 170.0a0.82 0.82 0 1 0 1.6 0a0.82 0.82 0 1 0 -1.6 0M93.1 169.5a0.82 0.82 0 1 0 1.6 0a0.82 0.82 0 1 0 -1.6 0M95.2 169.6a0.82 0.82 0 1 0 1.6 0a0.82 0.82 0 1 0 -1.6 0M97.8 169.5a0.82 0.82 0 1 0 1.6 0a0.82 0.82 0 1 0 -1.6 0M100.2 169.7a0.82 0.82 0 1 0 1.6 0a0.82 0.82 0 1 0 -1.6 0M102.5 170.2a0.82 0.82 0 1 0 1.6 0a0.82 0.82 0 1 0 -1.6 0M106.9 170.0a0.82 0.82 0 1 0 1.6 0a0.82 0.82 0 1 0 -1.6 0M109.2 170.1a0.82 0.82 0 1 0 1.6 0a0.82 0.82 0 1 0 -1.6 0M111.5 169.5a0.82 0.82 0 1 0 1.6 0a0.82 0.82 0 1 0 -1.6 0M113.6 170.2a0.82 0.82 0 1 0 1.6 0a0.82 0.82 0 1 0 -1.6 0M115.9 169.5a0.82 0.82 0 1 0 1.6 0a0.82 0.82 0 1 0 -1.6 0M118.6 170.3a0.82 0.82 0 1 0 1.6 0a0.82 0.82 0 1 0 -1.6 0M120.7 170.0a0.82 0.82 0 1 0 1.6 0a0.82 0.82 0 1 0 -1.6 0M122.9 170.2a0.82 0.82 0 1 0 1.6 0a0.82 0.82 0 1 0 -1.6 0M127.8 170.1a0.82 0.82 0 1 0 1.6 0a0.82 0.82 0 1 0 -1.6 0M129.8 170.0a0.82 0.82 0 1 0 1.6 0a0.82 0.82 0 1 0 -1.6 0M134.7 169.5a0.82 0.82 0 1 0 1.6 0a0.82 0.82 0 1 0 -1.6 0M136.2 170.1a0.82 0.82 0 1 0 1.6 0a0.82 0.82 0 1 0 -1.6 0M138.9 170.2a0.82 0.82 0 1 0 1.6 0a0.82 0.82 0 1 0 -1.6 0M141.0 169.7a0.82 0.82 0 1 0 1.6 0a0.82 0.82 0 1 0 -1.6 0M143.8 169.9a0.82 0.82 0 1 0 1.6 0a0.82 0.82 0 1 0 -1.6 0M145.3 169.7a0.82 0.82 0 1 0 1.6 0a0.82 0.82 0 1 0 -1.6 0M147.7 170.3a0.82 0.82 0 1 0 1.6 0a0.82 0.82 0 1 0 -1.6 0M150.6 170.1a0.82 0.82 0 1 0 1.6 0a0.82 0.82 0 1 0 -1.6 0M152.7 170.0a0.82 0.82 0 1 0 1.6 0a0.82 0.82 0 1 0 -1.6 0M155.3 170.2a0.82 0.82 0 1 0 1.6 0a0.82 0.82 0 1 0 -1.6 0M156.9 170.1a0.82 0.82 0 1 0 1.6 0a0.82 0.82 0 1 0 -1.6 0M159.6 169.9a0.82 0.82 0 1 0 1.6 0a0.82 0.82 0 1 0 -1.6 0M162.0 169.9a0.82 0.82 0 1 0 1.6 0a0.82 0.82 0 1 0 -1.6 0M164.1 169.8a0.82 0.82 0 1 0 1.6 0a0.82 0.82 0 1 0 -1.6 0M166.4 169.8a0.82 0.82 0 1 0 1.6 0a0.82 0.82 0 1 0 -1.6 0M168.3 170.1a0.82 0.82 0 1 0 1.6 0a0.82 0.82 0 1 0 -1.6 0M171.0 169.7a0.82 0.82 0 1 0 1.6 0a0.82 0.82 0 1 0 -1.6 0M175.3 170.2a0.82 0.82 0 1 0 1.6 0a0.82 0.82 0 1 0 -1.6 0M178.2 170.2a0.82 0.82 0 1 0 1.6 0a0.82 0.82 0 1 0 -1.6 0M180.5 170.2a0.82 0.82 0 1 0 1.6 0a0.82 0.82 0 1 0 -1.6 0M183.0 170.1a0.82 0.82 0 1 0 1.6 0a0.82 0.82 0 1 0 -1.6 0M185.1 169.5a0.82 0.82 0 1 0 1.6 0a0.82 0.82 0 1 0 -1.6 0M187.5 170.3a0.82 0.82 0 1 0 1.6 0a0.82 0.82 0 1 0 -1.6 0M189.4 169.7a0.82 0.82 0 1 0 1.6 0a0.82 0.82 0 1 0 -1.6 0M191.5 169.7a0.82 0.82 0 1 0 1.6 0a0.82 0.82 0 1 0 -1.6 0M194.4 169.6a0.82 0.82 0 1 0 1.6 0a0.82 0.82 0 1 0 -1.6 0M198.3 169.8a0.82 0.82 0 1 0 1.6 0a0.82 0.82 0 1 0 -1.6 0M200.6 169.5a0.82 0.82 0 1 0 1.6 0a0.82 0.82 0 1 0 -1.6 0M203.4 170.2a0.82 0.82 0 1 0 1.6 0a0.82 0.82 0 1 0 -1.6 0M205.4 170.1a0.82 0.82 0 1 0 1.6 0a0.82 0.82 0 1 0 -1.6 0M208.2 169.6a0.82 0.82 0 1 0 1.6 0a0.82 0.82 0 1 0 -1.6 0M210.0 169.8a0.82 0.82 0 1 0 1.6 0a0.82 0.82 0 1 0 -1.6 0M212.4 170.1a0.82 0.82 0 1 0 1.6 0a0.82 0.82 0 1 0 -1.6 0M217.2 169.8a0.82 0.82 0 1 0 1.6 0a0.82 0.82 0 1 0 -1.6 0M219.3 170.1a0.82 0.82 0 1 0 1.6 0a0.82 0.82 0 1 0 -1.6 0M221.4 169.7a0.82 0.82 0 1 0 1.6 0a0.82 0.82 0 1 0 -1.6 0M30.0 171.7a0.82 0.82 0 1 0 1.6 0a0.82 0.82 0 1 0 -1.6 0M32.4 172.0a0.82 0.82 0 1 0 1.6 0a0.82 0.82 0 1 0 -1.6 0M33.9 172.3a0.82 0.82 0 1 0 1.6 0a0.82 0.82 0 1 0 -1.6 0M36.2 171.8a0.82 0.82 0 1 0 1.6 0a0.82 0.82 0 1 0 -1.6 0M38.9 172.0a0.82 0.82 0 1 0 1.6 0a0.82 0.82 0 1 0 -1.6 0M40.8 171.6a0.82 0.82 0 1 0 1.6 0a0.82 0.82 0 1 0 -1.6 0M43.5 172.1a0.82 0.82 0 1 0 1.6 0a0.82 0.82 0 1 0 -1.6 0M46.0 171.4a0.82 0.82 0 1 0 1.6 0a0.82 0.82 0 1 0 -1.6 0M48.3 171.5a0.82 0.82 0 1 0 1.6 0a0.82 0.82 0 1 0 -1.6 0M50.0 172.0a0.82 0.82 0 1 0 1.6 0a0.82 0.82 0 1 0 -1.6 0M52.8 171.7a0.82 0.82 0 1 0 1.6 0a0.82 0.82 0 1 0 -1.6 0M54.6 171.8a0.82 0.82 0 1 0 1.6 0a0.82 0.82 0 1 0 -1.6 0M57.5 171.5a0.82 0.82 0 1 0 1.6 0a0.82 0.82 0 1 0 -1.6 0M59.9 172.1a0.82 0.82 0 1 0 1.6 0a0.82 0.82 0 1 0 -1.6 0M61.5 171.7a0.82 0.82 0 1 0 1.6 0a0.82 0.82 0 1 0 -1.6 0M64.0 171.9a0.82 0.82 0 1 0 1.6 0a0.82 0.82 0 1 0 -1.6 0M66.7 172.2a0.82 0.82 0 1 0 1.6 0a0.82 0.82 0 1 0 -1.6 0M68.9 171.8a0.82 0.82 0 1 0 1.6 0a0.82 0.82 0 1 0 -1.6 0M71.0 172.2a0.82 0.82 0 1 0 1.6 0a0.82 0.82 0 1 0 -1.6 0M73.6 172.2a0.82 0.82 0 1 0 1.6 0a0.82 0.82 0 1 0 -1.6 0M76.0 172.1a0.82 0.82 0 1 0 1.6 0a0.82 0.82 0 1 0 -1.6 0M78.3 172.1a0.82 0.82 0 1 0 1.6 0a0.82 0.82 0 1 0 -1.6 0M80.6 171.5a0.82 0.82 0 1 0 1.6 0a0.82 0.82 0 1 0 -1.6 0M82.6 171.8a0.82 0.82 0 1 0 1.6 0a0.82 0.82 0 1 0 -1.6 0M87.3 172.2a0.82 0.82 0 1 0 1.6 0a0.82 0.82 0 1 0 -1.6 0M89.0 171.6a0.82 0.82 0 1 0 1.6 0a0.82 0.82 0 1 0 -1.6 0M92.0 171.6a0.82 0.82 0 1 0 1.6 0a0.82 0.82 0 1 0 -1.6 0M93.9 171.9a0.82 0.82 0 1 0 1.6 0a0.82 0.82 0 1 0 -1.6 0M96.5 171.7a0.82 0.82 0 1 0 1.6 0a0.82 0.82 0 1 0 -1.6 0M98.5 172.2a0.82 0.82 0 1 0 1.6 0a0.82 0.82 0 1 0 -1.6 0M101.2 171.9a0.82 0.82 0 1 0 1.6 0a0.82 0.82 0 1 0 -1.6 0M103.4 171.9a0.82 0.82 0 1 0 1.6 0a0.82 0.82 0 1 0 -1.6 0M105.7 172.2a0.82 0.82 0 1 0 1.6 0a0.82 0.82 0 1 0 -1.6 0M107.4 171.5a0.82 0.82 0 1 0 1.6 0a0.82 0.82 0 1 0 -1.6 0M109.9 171.8a0.82 0.82 0 1 0 1.6 0a0.82 0.82 0 1 0 -1.6 0M112.5 171.8a0.82 0.82 0 1 0 1.6 0a0.82 0.82 0 1 0 -1.6 0M115.2 172.3a0.82 0.82 0 1 0 1.6 0a0.82 0.82 0 1 0 -1.6 0M116.7 171.7a0.82 0.82 0 1 0 1.6 0a0.82 0.82 0 1 0 -1.6 0M121.4 171.4a0.82 0.82 0 1 0 1.6 0a0.82 0.82 0 1 0 -1.6 0M123.8 172.0a0.82 0.82 0 1 0 1.6 0a0.82 0.82 0 1 0 -1.6 0M126.4 172.0a0.82 0.82 0 1 0 1.6 0a0.82 0.82 0 1 0 -1.6 0M128.3 171.5a0.82 0.82 0 1 0 1.6 0a0.82 0.82 0 1 0 -1.6 0M131.2 172.2a0.82 0.82 0 1 0 1.6 0a0.82 0.82 0 1 0 -1.6 0M132.8 171.7a0.82 0.82 0 1 0 1.6 0a0.82 0.82 0 1 0 -1.6 0M135.0 171.7a0.82 0.82 0 1 0 1.6 0a0.82 0.82 0 1 0 -1.6 0M138.0 171.7a0.82 0.82 0 1 0 1.6 0a0.82 0.82 0 1 0 -1.6 0M139.7 172.3a0.82 0.82 0 1 0 1.6 0a0.82 0.82 0 1 0 -1.6 0M142.4 172.1a0.82 0.82 0 1 0 1.6 0a0.82 0.82 0 1 0 -1.6 0M144.5 172.3a0.82 0.82 0 1 0 1.6 0a0.82 0.82 0 1 0 -1.6 0M146.5 172.3a0.82 0.82 0 1 0 1.6 0a0.82 0.82 0 1 0 -1.6 0M149.3 172.3a0.82 0.82 0 1 0 1.6 0a0.82 0.82 0 1 0 -1.6 0M151.8 171.4a0.82 0.82 0 1 0 1.6 0a0.82 0.82 0 1 0 -1.6 0M153.7 172.0a0.82 0.82 0 1 0 1.6 0a0.82 0.82 0 1 0 -1.6 0M155.8 172.3a0.82 0.82 0 1 0 1.6 0a0.82 0.82 0 1 0 -1.6 0M158.1 171.5a0.82 0.82 0 1 0 1.6 0a0.82 0.82 0 1 0 -1.6 0M161.0 172.3a0.82 0.82 0 1 0 1.6 0a0.82 0.82 0 1 0 -1.6 0M163.0 172.3a0.82 0.82 0 1 0 1.6 0a0.82 0.82 0 1 0 -1.6 0M165.2 171.9a0.82 0.82 0 1 0 1.6 0a0.82 0.82 0 1 0 -1.6 0M167.2 171.9a0.82 0.82 0 1 0 1.6 0a0.82 0.82 0 1 0 -1.6 0M172.3 171.8a0.82 0.82 0 1 0 1.6 0a0.82 0.82 0 1 0 -1.6 0M174.2 171.7a0.82 0.82 0 1 0 1.6 0a0.82 0.82 0 1 0 -1.6 0M176.5 171.4a0.82 0.82 0 1 0 1.6 0a0.82 0.82 0 1 0 -1.6 0M178.7 171.8a0.82 0.82 0 1 0 1.6 0a0.82 0.82 0 1 0 -1.6 0M183.4 171.6a0.82 0.82 0 1 0 1.6 0a0.82 0.82 0 1 0 -1.6 0M185.9 171.9a0.82 0.82 0 1 0 1.6 0a0.82 0.82 0 1 0 -1.6 0M188.2 172.1a0.82 0.82 0 1 0 1.6 0a0.82 0.82 0 1 0 -1.6 0M190.6 172.3a0.82 0.82 0 1 0 1.6 0a0.82 0.82 0 1 0 -1.6 0M192.8 171.5a0.82 0.82 0 1 0 1.6 0a0.82 0.82 0 1 0 -1.6 0M195.2 172.0a0.82 0.82 0 1 0 1.6 0a0.82 0.82 0 1 0 -1.6 0M197.5 171.9a0.82 0.82 0 1 0 1.6 0a0.82 0.82 0 1 0 -1.6 0M199.7 171.6a0.82 0.82 0 1 0 1.6 0a0.82 0.82 0 1 0 -1.6 0M202.3 172.3a0.82 0.82 0 1 0 1.6 0a0.82 0.82 0 1 0 -1.6 0M204.6 172.2a0.82 0.82 0 1 0 1.6 0a0.82 0.82 0 1 0 -1.6 0M211.7 172.0a0.82 0.82 0 1 0 1.6 0a0.82 0.82 0 1 0 -1.6 0M38.0 174.1a0.82 0.82 0 1 0 1.6 0a0.82 0.82 0 1 0 -1.6 0M39.6 174.2a0.82 0.82 0 1 0 1.6 0a0.82 0.82 0 1 0 -1.6 0M42.6 173.5a0.82 0.82 0 1 0 1.6 0a0.82 0.82 0 1 0 -1.6 0M47.0 174.3a0.82 0.82 0 1 0 1.6 0a0.82 0.82 0 1 0 -1.6 0M51.3 173.7a0.82 0.82 0 1 0 1.6 0a0.82 0.82 0 1 0 -1.6 0M53.4 174.3a0.82 0.82 0 1 0 1.6 0a0.82 0.82 0 1 0 -1.6 0M56.3 173.7a0.82 0.82 0 1 0 1.6 0a0.82 0.82 0 1 0 -1.6 0M58.7 173.7a0.82 0.82 0 1 0 1.6 0a0.82 0.82 0 1 0 -1.6 0M60.6 173.9a0.82 0.82 0 1 0 1.6 0a0.82 0.82 0 1 0 -1.6 0M62.6 173.5a0.82 0.82 0 1 0 1.6 0a0.82 0.82 0 1 0 -1.6 0M65.0 174.1a0.82 0.82 0 1 0 1.6 0a0.82 0.82 0 1 0 -1.6 0M67.6 173.8a0.82 0.82 0 1 0 1.6 0a0.82 0.82 0 1 0 -1.6 0M70.0 174.3a0.82 0.82 0 1 0 1.6 0a0.82 0.82 0 1 0 -1.6 0M71.8 173.7a0.82 0.82 0 1 0 1.6 0a0.82 0.82 0 1 0 -1.6 0M77.0 173.7a0.82 0.82 0 1 0 1.6 0a0.82 0.82 0 1 0 -1.6 0M78.7 173.5a0.82 0.82 0 1 0 1.6 0a0.82 0.82 0 1 0 -1.6 0M80.9 173.9a0.82 0.82 0 1 0 1.6 0a0.82 0.82 0 1 0 -1.6 0M83.4 173.4a0.82 0.82 0 1 0 1.6 0a0.82 0.82 0 1 0 -1.6 0M85.9 173.7a0.82 0.82 0 1 0 1.6 0a0.82 0.82 0 1 0 -1.6 0M88.5 173.9a0.82 0.82 0 1 0 1.6 0a0.82 0.82 0 1 0 -1.6 0M93.2 173.5a0.82 0.82 0 1 0 1.6 0a0.82 0.82 0 1 0 -1.6 0M95.0 174.0a0.82 0.82 0 1 0 1.6 0a0.82 0.82 0 1 0 -1.6 0M97.4 173.5a0.82 0.82 0 1 0 1.6 0a0.82 0.82 0 1 0 -1.6 0M100.1 173.5a0.82 0.82 0 1 0 1.6 0a0.82 0.82 0 1 0 -1.6 0M101.8 174.2a0.82 0.82 0 1 0 1.6 0a0.82 0.82 0 1 0 -1.6 0M104.8 173.7a0.82 0.82 0 1 0 1.6 0a0.82 0.82 0 1 0 -1.6 0M106.6 173.5a0.82 0.82 0 1 0 1.6 0a0.82 0.82 0 1 0 -1.6 0M108.8 174.0a0.82 0.82 0 1 0 1.6 0a0.82 0.82 0 1 0 -1.6 0M111.5 173.6a0.82 0.82 0 1 0 1.6 0a0.82 0.82 0 1 0 -1.6 0M113.3 173.5a0.82 0.82 0 1 0 1.6 0a0.82 0.82 0 1 0 -1.6 0M115.5 173.6a0.82 0.82 0 1 0 1.6 0a0.82 0.82 0 1 0 -1.6 0M117.8 173.9a0.82 0.82 0 1 0 1.6 0a0.82 0.82 0 1 0 -1.6 0M120.2 173.9a0.82 0.82 0 1 0 1.6 0a0.82 0.82 0 1 0 -1.6 0M125.4 174.3a0.82 0.82 0 1 0 1.6 0a0.82 0.82 0 1 0 -1.6 0M127.5 174.3a0.82 0.82 0 1 0 1.6 0a0.82 0.82 0 1 0 -1.6 0M129.7 173.8a0.82 0.82 0 1 0 1.6 0a0.82 0.82 0 1 0 -1.6 0M132.2 173.9a0.82 0.82 0 1 0 1.6 0a0.82 0.82 0 1 0 -1.6 0M134.7 174.3a0.82 0.82 0 1 0 1.6 0a0.82 0.82 0 1 0 -1.6 0M136.6 174.3a0.82 0.82 0 1 0 1.6 0a0.82 0.82 0 1 0 -1.6 0M138.9 173.9a0.82 0.82 0 1 0 1.6 0a0.82 0.82 0 1 0 -1.6 0M140.8 173.6a0.82 0.82 0 1 0 1.6 0a0.82 0.82 0 1 0 -1.6 0M143.5 173.8a0.82 0.82 0 1 0 1.6 0a0.82 0.82 0 1 0 -1.6 0M146.2 173.7a0.82 0.82 0 1 0 1.6 0a0.82 0.82 0 1 0 -1.6 0M148.1 174.1a0.82 0.82 0 1 0 1.6 0a0.82 0.82 0 1 0 -1.6 0M150.3 173.8a0.82 0.82 0 1 0 1.6 0a0.82 0.82 0 1 0 -1.6 0M152.7 174.3a0.82 0.82 0 1 0 1.6 0a0.82 0.82 0 1 0 -1.6 0M154.8 173.5a0.82 0.82 0 1 0 1.6 0a0.82 0.82 0 1 0 -1.6 0M156.9 174.1a0.82 0.82 0 1 0 1.6 0a0.82 0.82 0 1 0 -1.6 0M160.0 173.8a0.82 0.82 0 1 0 1.6 0a0.82 0.82 0 1 0 -1.6 0M161.7 173.9a0.82 0.82 0 1 0 1.6 0a0.82 0.82 0 1 0 -1.6 0M164.4 173.5a0.82 0.82 0 1 0 1.6 0a0.82 0.82 0 1 0 -1.6 0M166.7 173.5a0.82 0.82 0 1 0 1.6 0a0.82 0.82 0 1 0 -1.6 0M168.8 174.2a0.82 0.82 0 1 0 1.6 0a0.82 0.82 0 1 0 -1.6 0M171.1 173.5a0.82 0.82 0 1 0 1.6 0a0.82 0.82 0 1 0 -1.6 0M173.7 173.6a0.82 0.82 0 1 0 1.6 0a0.82 0.82 0 1 0 -1.6 0M175.5 174.2a0.82 0.82 0 1 0 1.6 0a0.82 0.82 0 1 0 -1.6 0M178.3 174.3a0.82 0.82 0 1 0 1.6 0a0.82 0.82 0 1 0 -1.6 0M180.0 173.6a0.82 0.82 0 1 0 1.6 0a0.82 0.82 0 1 0 -1.6 0M182.5 173.8a0.82 0.82 0 1 0 1.6 0a0.82 0.82 0 1 0 -1.6 0M184.7 174.2a0.82 0.82 0 1 0 1.6 0a0.82 0.82 0 1 0 -1.6 0M194.1 174.3a0.82 0.82 0 1 0 1.6 0a0.82 0.82 0 1 0 -1.6 0M48.4 175.9a0.82 0.82 0 1 0 1.6 0a0.82 0.82 0 1 0 -1.6 0M50.2 175.8a0.82 0.82 0 1 0 1.6 0a0.82 0.82 0 1 0 -1.6 0M52.3 175.9a0.82 0.82 0 1 0 1.6 0a0.82 0.82 0 1 0 -1.6 0M54.5 175.9a0.82 0.82 0 1 0 1.6 0a0.82 0.82 0 1 0 -1.6 0M57.2 176.0a0.82 0.82 0 1 0 1.6 0a0.82 0.82 0 1 0 -1.6 0M59.6 175.6a0.82 0.82 0 1 0 1.6 0a0.82 0.82 0 1 0 -1.6 0M61.6 176.2a0.82 0.82 0 1 0 1.6 0a0.82 0.82 0 1 0 -1.6 0M63.7 176.0a0.82 0.82 0 1 0 1.6 0a0.82 0.82 0 1 0 -1.6 0M66.3 175.8a0.82 0.82 0 1 0 1.6 0a0.82 0.82 0 1 0 -1.6 0M69.0 176.0a0.82 0.82 0 1 0 1.6 0a0.82 0.82 0 1 0 -1.6 0M70.8 175.4a0.82 0.82 0 1 0 1.6 0a0.82 0.82 0 1 0 -1.6 0M75.6 175.7a0.82 0.82 0 1 0 1.6 0a0.82 0.82 0 1 0 -1.6 0M77.5 175.7a0.82 0.82 0 1 0 1.6 0a0.82 0.82 0 1 0 -1.6 0M80.2 176.2a0.82 0.82 0 1 0 1.6 0a0.82 0.82 0 1 0 -1.6 0M82.7 175.9a0.82 0.82 0 1 0 1.6 0a0.82 0.82 0 1 0 -1.6 0M84.8 176.2a0.82 0.82 0 1 0 1.6 0a0.82 0.82 0 1 0 -1.6 0M87.5 175.9a0.82 0.82 0 1 0 1.6 0a0.82 0.82 0 1 0 -1.6 0M91.4 175.8a0.82 0.82 0 1 0 1.6 0a0.82 0.82 0 1 0 -1.6 0M94.4 176.0a0.82 0.82 0 1 0 1.6 0a0.82 0.82 0 1 0 -1.6 0M96.7 176.0a0.82 0.82 0 1 0 1.6 0a0.82 0.82 0 1 0 -1.6 0M98.3 175.7a0.82 0.82 0 1 0 1.6 0a0.82 0.82 0 1 0 -1.6 0M101.1 176.0a0.82 0.82 0 1 0 1.6 0a0.82 0.82 0 1 0 -1.6 0M103.6 175.9a0.82 0.82 0 1 0 1.6 0a0.82 0.82 0 1 0 -1.6 0M105.7 175.6a0.82 0.82 0 1 0 1.6 0a0.82 0.82 0 1 0 -1.6 0M110.3 175.8a0.82 0.82 0 1 0 1.6 0a0.82 0.82 0 1 0 -1.6 0M112.2 175.6a0.82 0.82 0 1 0 1.6 0a0.82 0.82 0 1 0 -1.6 0M114.5 176.3a0.82 0.82 0 1 0 1.6 0a0.82 0.82 0 1 0 -1.6 0M116.7 175.8a0.82 0.82 0 1 0 1.6 0a0.82 0.82 0 1 0 -1.6 0M119.5 176.0a0.82 0.82 0 1 0 1.6 0a0.82 0.82 0 1 0 -1.6 0M121.3 176.0a0.82 0.82 0 1 0 1.6 0a0.82 0.82 0 1 0 -1.6 0M124.0 175.9a0.82 0.82 0 1 0 1.6 0a0.82 0.82 0 1 0 -1.6 0M126.3 175.4a0.82 0.82 0 1 0 1.6 0a0.82 0.82 0 1 0 -1.6 0M130.5 176.2a0.82 0.82 0 1 0 1.6 0a0.82 0.82 0 1 0 -1.6 0M133.2 176.1a0.82 0.82 0 1 0 1.6 0a0.82 0.82 0 1 0 -1.6 0M135.7 176.2a0.82 0.82 0 1 0 1.6 0a0.82 0.82 0 1 0 -1.6 0M137.3 176.2a0.82 0.82 0 1 0 1.6 0a0.82 0.82 0 1 0 -1.6 0M140.4 175.5a0.82 0.82 0 1 0 1.6 0a0.82 0.82 0 1 0 -1.6 0M142.3 175.6a0.82 0.82 0 1 0 1.6 0a0.82 0.82 0 1 0 -1.6 0M145.0 176.2a0.82 0.82 0 1 0 1.6 0a0.82 0.82 0 1 0 -1.6 0M153.7 175.7a0.82 0.82 0 1 0 1.6 0a0.82 0.82 0 1 0 -1.6 0M158.8 176.0a0.82 0.82 0 1 0 1.6 0a0.82 0.82 0 1 0 -1.6 0" fill="#9e9cb8" opacity="1.0"/><path d="M31.3 189.8a0.82 0.82 0 1 0 1.6 0a0.82 0.82 0 1 0 -1.6 0M33.5 189.9a0.82 0.82 0 1 0 1.6 0a0.82 0.82 0 1 0 -1.6 0M35.4 189.7a0.82 0.82 0 1 0 1.6 0a0.82 0.82 0 1 0 -1.6 0M40.1 189.7a0.82 0.82 0 1 0 1.6 0a0.82 0.82 0 1 0 -1.6 0M42.4 190.3a0.82 0.82 0 1 0 1.6 0a0.82 0.82 0 1 0 -1.6 0M47.1 189.6a0.82 0.82 0 1 0 1.6 0a0.82 0.82 0 1 0 -1.6 0M49.6 189.6a0.82 0.82 0 1 0 1.6 0a0.82 0.82 0 1 0 -1.6 0M56.2 189.7a0.82 0.82 0 1 0 1.6 0a0.82 0.82 0 1 0 -1.6 0M59.1 190.4a0.82 0.82 0 1 0 1.6 0a0.82 0.82 0 1 0 -1.6 0M25.5 192.1a0.82 0.82 0 1 0 1.6 0a0.82 0.82 0 1 0 -1.6 0M27.8 191.9a0.82 0.82 0 1 0 1.6 0a0.82 0.82 0 1 0 -1.6 0M30.0 191.8a0.82 0.82 0 1 0 1.6 0a0.82 0.82 0 1 0 -1.6 0M34.8 192.3a0.82 0.82 0 1 0 1.6 0a0.82 0.82 0 1 0 -1.6 0M37.0 192.0a0.82 0.82 0 1 0 1.6 0a0.82 0.82 0 1 0 -1.6 0M39.1 191.6a0.82 0.82 0 1 0 1.6 0a0.82 0.82 0 1 0 -1.6 0M41.2 191.7a0.82 0.82 0 1 0 1.6 0a0.82 0.82 0 1 0 -1.6 0M43.8 192.0a0.82 0.82 0 1 0 1.6 0a0.82 0.82 0 1 0 -1.6 0M46.0 191.9a0.82 0.82 0 1 0 1.6 0a0.82 0.82 0 1 0 -1.6 0M48.7 192.2a0.82 0.82 0 1 0 1.6 0a0.82 0.82 0 1 0 -1.6 0M50.3 192.0a0.82 0.82 0 1 0 1.6 0a0.82 0.82 0 1 0 -1.6 0M53.2 192.3a0.82 0.82 0 1 0 1.6 0a0.82 0.82 0 1 0 -1.6 0M55.1 192.0a0.82 0.82 0 1 0 1.6 0a0.82 0.82 0 1 0 -1.6 0M57.9 191.9a0.82 0.82 0 1 0 1.6 0a0.82 0.82 0 1 0 -1.6 0M60.0 191.9a0.82 0.82 0 1 0 1.6 0a0.82 0.82 0 1 0 -1.6 0M62.5 191.8a0.82 0.82 0 1 0 1.6 0a0.82 0.82 0 1 0 -1.6 0M64.0 191.7a0.82 0.82 0 1 0 1.6 0a0.82 0.82 0 1 0 -1.6 0M66.3 191.8a0.82 0.82 0 1 0 1.6 0a0.82 0.82 0 1 0 -1.6 0M69.4 191.9a0.82 0.82 0 1 0 1.6 0a0.82 0.82 0 1 0 -1.6 0M71.3 192.1a0.82 0.82 0 1 0 1.6 0a0.82 0.82 0 1 0 -1.6 0M73.9 192.1a0.82 0.82 0 1 0 1.6 0a0.82 0.82 0 1 0 -1.6 0M75.6 192.2a0.82 0.82 0 1 0 1.6 0a0.82 0.82 0 1 0 -1.6 0M78.0 192.0a0.82 0.82 0 1 0 1.6 0a0.82 0.82 0 1 0 -1.6 0M80.8 191.8a0.82 0.82 0 1 0 1.6 0a0.82 0.82 0 1 0 -1.6 0M82.9 192.1a0.82 0.82 0 1 0 1.6 0a0.82 0.82 0 1 0 -1.6 0M85.0 192.3a0.82 0.82 0 1 0 1.6 0a0.82 0.82 0 1 0 -1.6 0M90.1 191.7a0.82 0.82 0 1 0 1.6 0a0.82 0.82 0 1 0 -1.6 0M92.3 191.5a0.82 0.82 0 1 0 1.6 0a0.82 0.82 0 1 0 -1.6 0M94.3 191.9a0.82 0.82 0 1 0 1.6 0a0.82 0.82 0 1 0 -1.6 0M98.6 192.4a0.82 0.82 0 1 0 1.6 0a0.82 0.82 0 1 0 -1.6 0M24.3 194.0a0.82 0.82 0 1 0 1.6 0a0.82 0.82 0 1 0 -1.6 0M28.9 193.9a0.82 0.82 0 1 0 1.6 0a0.82 0.82 0 1 0 -1.6 0M30.9 194.3a0.82 0.82 0 1 0 1.6 0a0.82 0.82 0 1 0 -1.6 0M33.4 194.0a0.82 0.82 0 1 0 1.6 0a0.82 0.82 0 1 0 -1.6 0M36.1 193.7a0.82 0.82 0 1 0 1.6 0a0.82 0.82 0 1 0 -1.6 0M38.3 193.6a0.82 0.82 0 1 0 1.6 0a0.82 0.82 0 1 0 -1.6 0M40.1 194.4a0.82 0.82 0 1 0 1.6 0a0.82 0.82 0 1 0 -1.6 0M44.4 193.8a0.82 0.82 0 1 0 1.6 0a0.82 0.82 0 1 0 -1.6 0M47.6 194.1a0.82 0.82 0 1 0 1.6 0a0.82 0.82 0 1 0 -1.6 0M49.5 193.6a0.82 0.82 0 1 0 1.6 0a0.82 0.82 0 1 0 -1.6 0M52.0 193.8a0.82 0.82 0 1 0 1.6 0a0.82 0.82 0 1 0 -1.6 0M54.1 193.7a0.82 0.82 0 1 0 1.6 0a0.82 0.82 0 1 0 -1.6 0M56.0 193.9a0.82 0.82 0 1 0 1.6 0a0.82 0.82 0 1 0 -1.6 0M58.9 194.2a0.82 0.82 0 1 0 1.6 0a0.82 0.82 0 1 0 -1.6 0M65.5 193.8a0.82 0.82 0 1 0 1.6 0a0.82 0.82 0 1 0 -1.6 0M67.6 194.4a0.82 0.82 0 1 0 1.6 0a0.82 0.82 0 1 0 -1.6 0M69.8 194.1a0.82 0.82 0 1 0 1.6 0a0.82 0.82 0 1 0 -1.6 0M72.1 194.0a0.82 0.82 0 1 0 1.6 0a0.82 0.82 0 1 0 -1.6 0M74.7 194.0a0.82 0.82 0 1 0 1.6 0a0.82 0.82 0 1 0 -1.6 0M76.9 193.7a0.82 0.82 0 1 0 1.6 0a0.82 0.82 0 1 0 -1.6 0M86.3 193.5a0.82 0.82 0 1 0 1.6 0a0.82 0.82 0 1 0 -1.6 0M88.3 193.6a0.82 0.82 0 1 0 1.6 0a0.82 0.82 0 1 0 -1.6 0M90.5 194.3a0.82 0.82 0 1 0 1.6 0a0.82 0.82 0 1 0 -1.6 0M93.5 194.1a0.82 0.82 0 1 0 1.6 0a0.82 0.82 0 1 0 -1.6 0M95.1 194.4a0.82 0.82 0 1 0 1.6 0a0.82 0.82 0 1 0 -1.6 0M97.4 193.6a0.82 0.82 0 1 0 1.6 0a0.82 0.82 0 1 0 -1.6 0M100.2 193.7a0.82 0.82 0 1 0 1.6 0a0.82 0.82 0 1 0 -1.6 0M102.5 194.2a0.82 0.82 0 1 0 1.6 0a0.82 0.82 0 1 0 -1.6 0M104.9 194.0a0.82 0.82 0 1 0 1.6 0a0.82 0.82 0 1 0 -1.6 0M107.0 193.8a0.82 0.82 0 1 0 1.6 0a0.82 0.82 0 1 0 -1.6 0M109.3 194.3a0.82 0.82 0 1 0 1.6 0a0.82 0.82 0 1 0 -1.6 0M111.7 194.1a0.82 0.82 0 1 0 1.6 0a0.82 0.82 0 1 0 -1.6 0M114.2 194.0a0.82 0.82 0 1 0 1.6 0a0.82 0.82 0 1 0 -1.6 0M116.0 193.8a0.82 0.82 0 1 0 1.6 0a0.82 0.82 0 1 0 -1.6 0M118.9 194.2a0.82 0.82 0 1 0 1.6 0a0.82 0.82 0 1 0 -1.6 0M125.2 193.7a0.82 0.82 0 1 0 1.6 0a0.82 0.82 0 1 0 -1.6 0M130.2 194.3a0.82 0.82 0 1 0 1.6 0a0.82 0.82 0 1 0 -1.6 0M25.0 196.2a0.82 0.82 0 1 0 1.6 0a0.82 0.82 0 1 0 -1.6 0M27.2 195.6a0.82 0.82 0 1 0 1.6 0a0.82 0.82 0 1 0 -1.6 0M29.7 195.8a0.82 0.82 0 1 0 1.6 0a0.82 0.82 0 1 0 -1.6 0M31.9 196.2a0.82 0.82 0 1 0 1.6 0a0.82 0.82 0 1 0 -1.6 0M34.8 196.2a0.82 0.82 0 1 0 1.6 0a0.82 0.82 0 1 0 -1.6 0M37.0 196.2a0.82 0.82 0 1 0 1.6 0a0.82 0.82 0 1 0 -1.6 0M39.0 196.0a0.82 0.82 0 1 0 1.6 0a0.82 0.82 0 1 0 -1.6 0M41.4 196.2a0.82 0.82 0 1 0 1.6 0a0.82 0.82 0 1 0 -1.6 0M43.7 195.8a0.82 0.82 0 1 0 1.6 0a0.82 0.82 0 1 0 -1.6 0M46.3 196.3a0.82 0.82 0 1 0 1.6 0a0.82 0.82 0 1 0 -1.6 0M48.3 196.2a0.82 0.82 0 1 0 1.6 0a0.82 0.82 0 1 0 -1.6 0M51.0 196.1a0.82 0.82 0 1 0 1.6 0a0.82 0.82 0 1 0 -1.6 0M53.0 195.9a0.82 0.82 0 1 0 1.6 0a0.82 0.82 0 1 0 -1.6 0M55.3 196.2a0.82 0.82 0 1 0 1.6 0a0.82 0.82 0 1 0 -1.6 0M57.6 195.7a0.82 0.82 0 1 0 1.6 0a0.82 0.82 0 1 0 -1.6 0M60.0 195.8a0.82 0.82 0 1 0 1.6 0a0.82 0.82 0 1 0 -1.6 0M62.5 195.6a0.82 0.82 0 1 0 1.6 0a0.82 0.82 0 1 0 -1.6 0M64.5 195.6a0.82 0.82 0 1 0 1.6 0a0.82 0.82 0 1 0 -1.6 0M66.3 196.0a0.82 0.82 0 1 0 1.6 0a0.82 0.82 0 1 0 -1.6 0M69.4 195.8a0.82 0.82 0 1 0 1.6 0a0.82 0.82 0 1 0 -1.6 0M71.3 196.2a0.82 0.82 0 1 0 1.6 0a0.82 0.82 0 1 0 -1.6 0M75.9 195.5a0.82 0.82 0 1 0 1.6 0a0.82 0.82 0 1 0 -1.6 0M78.0 196.0a0.82 0.82 0 1 0 1.6 0a0.82 0.82 0 1 0 -1.6 0M80.7 195.9a0.82 0.82 0 1 0 1.6 0a0.82 0.82 0 1 0 -1.6 0M83.3 195.6a0.82 0.82 0 1 0 1.6 0a0.82 0.82 0 1 0 -1.6 0M85.5 196.2a0.82 0.82 0 1 0 1.6 0a0.82 0.82 0 1 0 -1.6 0M87.9 196.2a0.82 0.82 0 1 0 1.6 0a0.82 0.82 0 1 0 -1.6 0M89.8 195.9a0.82 0.82 0 1 0 1.6 0a0.82 0.82 0 1 0 -1.6 0M92.5 195.9a0.82 0.82 0 1 0 1.6 0a0.82 0.82 0 1 0 -1.6 0M94.5 195.9a0.82 0.82 0 1 0 1.6 0a0.82 0.82 0 1 0 -1.6 0M96.2 195.7a0.82 0.82 0 1 0 1.6 0a0.82 0.82 0 1 0 -1.6 0M98.5 196.3a0.82 0.82 0 1 0 1.6 0a0.82 0.82 0 1 0 -1.6 0M106.1 196.1a0.82 0.82 0 1 0 1.6 0a0.82 0.82 0 1 0 -1.6 0M108.2 196.1a0.82 0.82 0 1 0 1.6 0a0.82 0.82 0 1 0 -1.6 0M110.9 195.8a0.82 0.82 0 1 0 1.6 0a0.82 0.82 0 1 0 -1.6 0M112.7 195.9a0.82 0.82 0 1 0 1.6 0a0.82 0.82 0 1 0 -1.6 0M114.8 195.7a0.82 0.82 0 1 0 1.6 0a0.82 0.82 0 1 0 -1.6 0M117.4 196.3a0.82 0.82 0 1 0 1.6 0a0.82 0.82 0 1 0 -1.6 0M119.4 196.0a0.82 0.82 0 1 0 1.6 0a0.82 0.82 0 1 0 -1.6 0M122.1 195.8a0.82 0.82 0 1 0 1.6 0a0.82 0.82 0 1 0 -1.6 0M128.6 196.2a0.82 0.82 0 1 0 1.6 0a0.82 0.82 0 1 0 -1.6 0M133.1 195.9a0.82 0.82 0 1 0 1.6 0a0.82 0.82 0 1 0 -1.6 0M137.6 196.1a0.82 0.82 0 1 0 1.6 0a0.82 0.82 0 1 0 -1.6 0M140.7 195.5a0.82 0.82 0 1 0 1.6 0a0.82 0.82 0 1 0 -1.6 0M142.6 195.5a0.82 0.82 0 1 0 1.6 0a0.82 0.82 0 1 0 -1.6 0M145.4 195.8a0.82 0.82 0 1 0 1.6 0a0.82 0.82 0 1 0 -1.6 0M147.2 196.0a0.82 0.82 0 1 0 1.6 0a0.82 0.82 0 1 0 -1.6 0M149.1 196.0a0.82 0.82 0 1 0 1.6 0a0.82 0.82 0 1 0 -1.6 0M154.4 196.0a0.82 0.82 0 1 0 1.6 0a0.82 0.82 0 1 0 -1.6 0M156.2 196.0a0.82 0.82 0 1 0 1.6 0a0.82 0.82 0 1 0 -1.6 0M160.9 196.4a0.82 0.82 0 1 0 1.6 0a0.82 0.82 0 1 0 -1.6 0M163.6 195.6a0.82 0.82 0 1 0 1.6 0a0.82 0.82 0 1 0 -1.6 0M174.5 195.7a0.82 0.82 0 1 0 1.6 0a0.82 0.82 0 1 0 -1.6 0M24.0 197.6a0.82 0.82 0 1 0 1.6 0a0.82 0.82 0 1 0 -1.6 0M30.8 197.6a0.82 0.82 0 1 0 1.6 0a0.82 0.82 0 1 0 -1.6 0M33.4 197.8a0.82 0.82 0 1 0 1.6 0a0.82 0.82 0 1 0 -1.6 0M35.9 198.3a0.82 0.82 0 1 0 1.6 0a0.82 0.82 0 1 0 -1.6 0M37.9 198.2a0.82 0.82 0 1 0 1.6 0a0.82 0.82 0 1 0 -1.6 0M40.0 197.5a0.82 0.82 0 1 0 1.6 0a0.82 0.82 0 1 0 -1.6 0M43.0 198.2a0.82 0.82 0 1 0 1.6 0a0.82 0.82 0 1 0 -1.6 0M44.6 198.3a0.82 0.82 0 1 0 1.6 0a0.82 0.82 0 1 0 -1.6 0M47.2 198.0a0.82 0.82 0 1 0 1.6 0a0.82 0.82 0 1 0 -1.6 0M49.7 198.1a0.82 0.82 0 1 0 1.6 0a0.82 0.82 0 1 0 -1.6 0M51.4 197.5a0.82 0.82 0 1 0 1.6 0a0.82 0.82 0 1 0 -1.6 0M54.1 197.5a0.82 0.82 0 1 0 1.6 0a0.82 0.82 0 1 0 -1.6 0M56.0 198.1a0.82 0.82 0 1 0 1.6 0a0.82 0.82 0 1 0 -1.6 0M58.8 198.4a0.82 0.82 0 1 0 1.6 0a0.82 0.82 0 1 0 -1.6 0M61.3 197.8a0.82 0.82 0 1 0 1.6 0a0.82 0.82 0 1 0 -1.6 0M65.8 197.6a0.82 0.82 0 1 0 1.6 0a0.82 0.82 0 1 0 -1.6 0M67.7 198.1a0.82 0.82 0 1 0 1.6 0a0.82 0.82 0 1 0 -1.6 0M70.5 197.8a0.82 0.82 0 1 0 1.6 0a0.82 0.82 0 1 0 -1.6 0M72.3 197.8a0.82 0.82 0 1 0 1.6 0a0.82 0.82 0 1 0 -1.6 0M75.2 198.0a0.82 0.82 0 1 0 1.6 0a0.82 0.82 0 1 0 -1.6 0M77.0 198.0a0.82 0.82 0 1 0 1.6 0a0.82 0.82 0 1 0 -1.6 0M79.3 197.5a0.82 0.82 0 1 0 1.6 0a0.82 0.82 0 1 0 -1.6 0M81.4 198.0a0.82 0.82 0 1 0 1.6 0a0.82 0.82 0 1 0 -1.6 0M84.0 198.2a0.82 0.82 0 1 0 1.6 0a0.82 0.82 0 1 0 -1.6 0M86.3 198.2a0.82 0.82 0 1 0 1.6 0a0.82 0.82 0 1 0 -1.6 0M88.3 198.1a0.82 0.82 0 1 0 1.6 0a0.82 0.82 0 1 0 -1.6 0M90.8 198.0a0.82 0.82 0 1 0 1.6 0a0.82 0.82 0 1 0 -1.6 0M93.3 197.6a0.82 0.82 0 1 0 1.6 0a0.82 0.82 0 1 0 -1.6 0M95.3 198.0a0.82 0.82 0 1 0 1.6 0a0.82 0.82 0 1 0 -1.6 0M100.0 197.8a0.82 0.82 0 1 0 1.6 0a0.82 0.82 0 1 0 -1.6 0M102.0 197.6a0.82 0.82 0 1 0 1.6 0a0.82 0.82 0 1 0 -1.6 0M104.6 198.2a0.82 0.82 0 1 0 1.6 0a0.82 0.82 0 1 0 -1.6 0M107.1 197.6a0.82 0.82 0 1 0 1.6 0a0.82 0.82 0 1 0 -1.6 0M109.0 197.7a0.82 0.82 0 1 0 1.6 0a0.82 0.82 0 1 0 -1.6 0M111.2 198.1a0.82 0.82 0 1 0 1.6 0a0.82 0.82 0 1 0 -1.6 0M113.7 197.5a0.82 0.82 0 1 0 1.6 0a0.82 0.82 0 1 0 -1.6 0M116.1 197.8a0.82 0.82 0 1 0 1.6 0a0.82 0.82 0 1 0 -1.6 0M118.2 198.4a0.82 0.82 0 1 0 1.6 0a0.82 0.82 0 1 0 -1.6 0M121.0 198.4a0.82 0.82 0 1 0 1.6 0a0.82 0.82 0 1 0 -1.6 0M123.0 198.2a0.82 0.82 0 1 0 1.6 0a0.82 0.82 0 1 0 -1.6 0M125.7 198.3a0.82 0.82 0 1 0 1.6 0a0.82 0.82 0 1 0 -1.6 0M127.2 198.0a0.82 0.82 0 1 0 1.6 0a0.82 0.82 0 1 0 -1.6 0M132.2 198.2a0.82 0.82 0 1 0 1.6 0a0.82 0.82 0 1 0 -1.6 0M134.2 198.3a0.82 0.82 0 1 0 1.6 0a0.82 0.82 0 1 0 -1.6 0M137.2 198.0a0.82 0.82 0 1 0 1.6 0a0.82 0.82 0 1 0 -1.6 0M139.4 197.8a0.82 0.82 0 1 0 1.6 0a0.82 0.82 0 1 0 -1.6 0M141.4 198.3a0.82 0.82 0 1 0 1.6 0a0.82 0.82 0 1 0 -1.6 0M143.6 197.9a0.82 0.82 0 1 0 1.6 0a0.82 0.82 0 1 0 -1.6 0M146.5 197.6a0.82 0.82 0 1 0 1.6 0a0.82 0.82 0 1 0 -1.6 0M150.6 197.6a0.82 0.82 0 1 0 1.6 0a0.82 0.82 0 1 0 -1.6 0M152.7 198.0a0.82 0.82 0 1 0 1.6 0a0.82 0.82 0 1 0 -1.6 0M155.2 198.4a0.82 0.82 0 1 0 1.6 0a0.82 0.82 0 1 0 -1.6 0M160.0 198.0a0.82 0.82 0 1 0 1.6 0a0.82 0.82 0 1 0 -1.6 0M162.1 198.2a0.82 0.82 0 1 0 1.6 0a0.82 0.82 0 1 0 -1.6 0M166.8 198.1a0.82 0.82 0 1 0 1.6 0a0.82 0.82 0 1 0 -1.6 0M169.5 197.9a0.82 0.82 0 1 0 1.6 0a0.82 0.82 0 1 0 -1.6 0M171.3 197.8a0.82 0.82 0 1 0 1.6 0a0.82 0.82 0 1 0 -1.6 0M173.3 198.4a0.82 0.82 0 1 0 1.6 0a0.82 0.82 0 1 0 -1.6 0M175.8 198.2a0.82 0.82 0 1 0 1.6 0a0.82 0.82 0 1 0 -1.6 0M178.0 197.7a0.82 0.82 0 1 0 1.6 0a0.82 0.82 0 1 0 -1.6 0M180.7 197.7a0.82 0.82 0 1 0 1.6 0a0.82 0.82 0 1 0 -1.6 0M182.6 198.0a0.82 0.82 0 1 0 1.6 0a0.82 0.82 0 1 0 -1.6 0M185.1 198.2a0.82 0.82 0 1 0 1.6 0a0.82 0.82 0 1 0 -1.6 0M187.8 198.0a0.82 0.82 0 1 0 1.6 0a0.82 0.82 0 1 0 -1.6 0M190.1 197.5a0.82 0.82 0 1 0 1.6 0a0.82 0.82 0 1 0 -1.6 0M201.3 198.3a0.82 0.82 0 1 0 1.6 0a0.82 0.82 0 1 0 -1.6 0M203.4 197.6a0.82 0.82 0 1 0 1.6 0a0.82 0.82 0 1 0 -1.6 0M206.3 197.7a0.82 0.82 0 1 0 1.6 0a0.82 0.82 0 1 0 -1.6 0M25.2 200.3a0.82 0.82 0 1 0 1.6 0a0.82 0.82 0 1 0 -1.6 0M27.7 200.0a0.82 0.82 0 1 0 1.6 0a0.82 0.82 0 1 0 -1.6 0M30.2 199.8a0.82 0.82 0 1 0 1.6 0a0.82 0.82 0 1 0 -1.6 0M34.3 199.8a0.82 0.82 0 1 0 1.6 0a0.82 0.82 0 1 0 -1.6 0M36.6 200.0a0.82 0.82 0 1 0 1.6 0a0.82 0.82 0 1 0 -1.6 0M38.8 200.1a0.82 0.82 0 1 0 1.6 0a0.82 0.82 0 1 0 -1.6 0M41.3 199.8a0.82 0.82 0 1 0 1.6 0a0.82 0.82 0 1 0 -1.6 0M43.6 199.9a0.82 0.82 0 1 0 1.6 0a0.82 0.82 0 1 0 -1.6 0M48.6 199.8a0.82 0.82 0 1 0 1.6 0a0.82 0.82 0 1 0 -1.6 0M50.6 200.2a0.82 0.82 0 1 0 1.6 0a0.82 0.82 0 1 0 -1.6 0M52.7 200.0a0.82 0.82 0 1 0 1.6 0a0.82 0.82 0 1 0 -1.6 0M55.2 199.8a0.82 0.82 0 1 0 1.6 0a0.82 0.82 0 1 0 -1.6 0M57.2 199.6a0.82 0.82 0 1 0 1.6 0a0.82 0.82 0 1 0 -1.6 0M59.8 200.4a0.82 0.82 0 1 0 1.6 0a0.82 0.82 0 1 0 -1.6 0M62.2 199.9a0.82 0.82 0 1 0 1.6 0a0.82 0.82 0 1 0 -1.6 0M64.2 200.0a0.82 0.82 0 1 0 1.6 0a0.82 0.82 0 1 0 -1.6 0M67.0 199.9a0.82 0.82 0 1 0 1.6 0a0.82 0.82 0 1 0 -1.6 0M69.2 200.2a0.82 0.82 0 1 0 1.6 0a0.82 0.82 0 1 0 -1.6 0M71.2 199.7a0.82 0.82 0 1 0 1.6 0a0.82 0.82 0 1 0 -1.6 0M73.3 199.7a0.82 0.82 0 1 0 1.6 0a0.82 0.82 0 1 0 -1.6 0M75.5 200.0a0.82 0.82 0 1 0 1.6 0a0.82 0.82 0 1 0 -1.6 0M77.9 199.9a0.82 0.82 0 1 0 1.6 0a0.82 0.82 0 1 0 -1.6 0M80.7 200.3a0.82 0.82 0 1 0 1.6 0a0.82 0.82 0 1 0 -1.6 0M85.1 200.3a0.82 0.82 0 1 0 1.6 0a0.82 0.82 0 1 0 -1.6 0M89.7 200.3a0.82 0.82 0 1 0 1.6 0a0.82 0.82 0 1 0 -1.6 0M91.8 199.6a0.82 0.82 0 1 0 1.6 0a0.82 0.82 0 1 0 -1.6 0M94.8 200.1a0.82 0.82 0 1 0 1.6 0a0.82 0.82 0 1 0 -1.6 0M96.4 200.4a0.82 0.82 0 1 0 1.6 0a0.82 0.82 0 1 0 -1.6 0M98.5 200.3a0.82 0.82 0 1 0 1.6 0a0.82 0.82 0 1 0 -1.6 0M101.0 200.3a0.82 0.82 0 1 0 1.6 0a0.82 0.82 0 1 0 -1.6 0M103.9 200.3a0.82 0.82 0 1 0 1.6 0a0.82 0.82 0 1 0 -1.6 0M106.0 199.5a0.82 0.82 0 1 0 1.6 0a0.82 0.82 0 1 0 -1.6 0M107.8 199.6a0.82 0.82 0 1 0 1.6 0a0.82 0.82 0 1 0 -1.6 0M110.4 200.4a0.82 0.82 0 1 0 1.6 0a0.82 0.82 0 1 0 -1.6 0M112.7 200.1a0.82 0.82 0 1 0 1.6 0a0.82 0.82 0 1 0 -1.6 0M114.6 200.1a0.82 0.82 0 1 0 1.6 0a0.82 0.82 0 1 0 -1.6 0M117.6 200.1a0.82 0.82 0 1 0 1.6 0a0.82 0.82 0 1 0 -1.6 0M122.1 199.8a0.82 0.82 0 1 0 1.6 0a0.82 0.82 0 1 0 -1.6 0M124.2 200.4a0.82 0.82 0 1 0 1.6 0a0.82 0.82 0 1 0 -1.6 0M126.6 200.4a0.82 0.82 0 1 0 1.6 0a0.82 0.82 0 1 0 -1.6 0M128.4 199.7a0.82 0.82 0 1 0 1.6 0a0.82 0.82 0 1 0 -1.6 0M131.0 199.9a0.82 0.82 0 1 0 1.6 0a0.82 0.82 0 1 0 -1.6 0M133.4 200.0a0.82 0.82 0 1 0 1.6 0a0.82 0.82 0 1 0 -1.6 0M135.4 200.3a0.82 0.82 0 1 0 1.6 0a0.82 0.82 0 1 0 -1.6 0M137.8 200.2a0.82 0.82 0 1 0 1.6 0a0.82 0.82 0 1 0 -1.6 0M145.3 200.1a0.82 0.82 0 1 0 1.6 0a0.82 0.82 0 1 0 -1.6 0M147.1 199.7a0.82 0.82 0 1 0 1.6 0a0.82 0.82 0 1 0 -1.6 0M149.2 200.2a0.82 0.82 0 1 0 1.6 0a0.82 0.82 0 1 0 -1.6 0M151.9 200.1a0.82 0.82 0 1 0 1.6 0a0.82 0.82 0 1 0 -1.6 0M154.2 199.7a0.82 0.82 0 1 0 1.6 0a0.82 0.82 0 1 0 -1.6 0M156.2 199.8a0.82 0.82 0 1 0 1.6 0a0.82 0.82 0 1 0 -1.6 0M158.7 199.9a0.82 0.82 0 1 0 1.6 0a0.82 0.82 0 1 0 -1.6 0M161.0 199.8a0.82 0.82 0 1 0 1.6 0a0.82 0.82 0 1 0 -1.6 0M163.6 200.2a0.82 0.82 0 1 0 1.6 0a0.82 0.82 0 1 0 -1.6 0M165.5 200.0a0.82 0.82 0 1 0 1.6 0a0.82 0.82 0 1 0 -1.6 0M168.4 200.0a0.82 0.82 0 1 0 1.6 0a0.82 0.82 0 1 0 -1.6 0M169.9 200.3a0.82 0.82 0 1 0 1.6 0a0.82 0.82 0 1 0 -1.6 0M174.5 199.8a0.82 0.82 0 1 0 1.6 0a0.82 0.82 0 1 0 -1.6 0M177.3 199.7a0.82 0.82 0 1 0 1.6 0a0.82 0.82 0 1 0 -1.6 0M179.3 200.1a0.82 0.82 0 1 0 1.6 0a0.82 0.82 0 1 0 -1.6 0M181.7 200.0a0.82 0.82 0 1 0 1.6 0a0.82 0.82 0 1 0 -1.6 0M183.9 200.2a0.82 0.82 0 1 0 1.6 0a0.82 0.82 0 1 0 -1.6 0M186.6 200.1a0.82 0.82 0 1 0 1.6 0a0.82 0.82 0 1 0 -1.6 0M190.7 200.3a0.82 0.82 0 1 0 1.6 0a0.82 0.82 0 1 0 -1.6 0M193.7 200.3a0.82 0.82 0 1 0 1.6 0a0.82 0.82 0 1 0 -1.6 0M195.6 200.2a0.82 0.82 0 1 0 1.6 0a0.82 0.82 0 1 0 -1.6 0M197.8 199.6a0.82 0.82 0 1 0 1.6 0a0.82 0.82 0 1 0 -1.6 0M200.2 200.1a0.82 0.82 0 1 0 1.6 0a0.82 0.82 0 1 0 -1.6 0M202.6 199.6a0.82 0.82 0 1 0 1.6 0a0.82 0.82 0 1 0 -1.6 0M205.0 199.6a0.82 0.82 0 1 0 1.6 0a0.82 0.82 0 1 0 -1.6 0M207.4 200.3a0.82 0.82 0 1 0 1.6 0a0.82 0.82 0 1 0 -1.6 0M209.8 200.2a0.82 0.82 0 1 0 1.6 0a0.82 0.82 0 1 0 -1.6 0M211.9 199.6a0.82 0.82 0 1 0 1.6 0a0.82 0.82 0 1 0 -1.6 0M213.8 199.9a0.82 0.82 0 1 0 1.6 0a0.82 0.82 0 1 0 -1.6 0M216.4 200.3a0.82 0.82 0 1 0 1.6 0a0.82 0.82 0 1 0 -1.6 0M220.6 199.5a0.82 0.82 0 1 0 1.6 0a0.82 0.82 0 1 0 -1.6 0M222.7 199.8a0.82 0.82 0 1 0 1.6 0a0.82 0.82 0 1 0 -1.6 0M230.2 199.8a0.82 0.82 0 1 0 1.6 0a0.82 0.82 0 1 0 -1.6 0M232.3 200.2a0.82 0.82 0 1 0 1.6 0a0.82 0.82 0 1 0 -1.6 0M236.7 199.9a0.82 0.82 0 1 0 1.6 0a0.82 0.82 0 1 0 -1.6 0M26.4 202.1a0.82 0.82 0 1 0 1.6 0a0.82 0.82 0 1 0 -1.6 0M28.5 202.3a0.82 0.82 0 1 0 1.6 0a0.82 0.82 0 1 0 -1.6 0M30.9 202.1a0.82 0.82 0 1 0 1.6 0a0.82 0.82 0 1 0 -1.6 0M33.2 202.1a0.82 0.82 0 1 0 1.6 0a0.82 0.82 0 1 0 -1.6 0M35.3 202.1a0.82 0.82 0 1 0 1.6 0a0.82 0.82 0 1 0 -1.6 0M37.7 201.7a0.82 0.82 0 1 0 1.6 0a0.82 0.82 0 1 0 -1.6 0M42.4 202.1a0.82 0.82 0 1 0 1.6 0a0.82 0.82 0 1 0 -1.6 0M44.6 202.2a0.82 0.82 0 1 0 1.6 0a0.82 0.82 0 1 0 -1.6 0M47.2 202.4a0.82 0.82 0 1 0 1.6 0a0.82 0.82 0 1 0 -1.6 0M49.1 202.3a0.82 0.82 0 1 0 1.6 0a0.82 0.82 0 1 0 -1.6 0M51.7 201.9a0.82 0.82 0 1 0 1.6 0a0.82 0.82 0 1 0 -1.6 0M54.2 201.6a0.82 0.82 0 1 0 1.6 0a0.82 0.82 0 1 0 -1.6 0M56.2 201.8a0.82 0.82 0 1 0 1.6 0a0.82 0.82 0 1 0 -1.6 0M58.7 202.1a0.82 0.82 0 1 0 1.6 0a0.82 0.82 0 1 0 -1.6 0M61.3 202.2a0.82 0.82 0 1 0 1.6 0a0.82 0.82 0 1 0 -1.6 0M63.6 201.9a0.82 0.82 0 1 0 1.6 0a0.82 0.82 0 1 0 -1.6 0M65.7 202.1a0.82 0.82 0 1 0 1.6 0a0.82 0.82 0 1 0 -1.6 0M67.7 202.0a0.82 0.82 0 1 0 1.6 0a0.82 0.82 0 1 0 -1.6 0M70.0 202.3a0.82 0.82 0 1 0 1.6 0a0.82 0.82 0 1 0 -1.6 0M72.4 201.8a0.82 0.82 0 1 0 1.6 0a0.82 0.82 0 1 0 -1.6 0M74.5 202.0a0.82 0.82 0 1 0 1.6 0a0.82 0.82 0 1 0 -1.6 0M77.5 202.0a0.82 0.82 0 1 0 1.6 0a0.82 0.82 0 1 0 -1.6 0M81.8 201.6a0.82 0.82 0 1 0 1.6 0a0.82 0.82 0 1 0 -1.6 0M83.8 202.2a0.82 0.82 0 1 0 1.6 0a0.82 0.82 0 1 0 -1.6 0M88.8 201.8a0.82 0.82 0 1 0 1.6 0a0.82 0.82 0 1 0 -1.6 0M90.8 202.0a0.82 0.82 0 1 0 1.6 0a0.82 0.82 0 1 0 -1.6 0M93.3 201.9a0.82 0.82 0 1 0 1.6 0a0.82 0.82 0 1 0 -1.6 0M95.3 202.0a0.82 0.82 0 1 0 1.6 0a0.82 0.82 0 1 0 -1.6 0M97.7 201.6a0.82 0.82 0 1 0 1.6 0a0.82 0.82 0 1 0 -1.6 0M100.0 201.5a0.82 0.82 0 1 0 1.6 0a0.82 0.82 0 1 0 -1.6 0M102.0 201.8a0.82 0.82 0 1 0 1.6 0a0.82 0.82 0 1 0 -1.6 0M104.8 202.1a0.82 0.82 0 1 0 1.6 0a0.82 0.82 0 1 0 -1.6 0M106.6 201.8a0.82 0.82 0 1 0 1.6 0a0.82 0.82 0 1 0 -1.6 0M109.1 202.2a0.82 0.82 0 1 0 1.6 0a0.82 0.82 0 1 0 -1.6 0M111.7 202.3a0.82 0.82 0 1 0 1.6 0a0.82 0.82 0 1 0 -1.6 0M114.2 202.0a0.82 0.82 0 1 0 1.6 0a0.82 0.82 0 1 0 -1.6 0M115.9 202.1a0.82 0.82 0 1 0 1.6 0a0.82 0.82 0 1 0 -1.6 0M118.4 202.2a0.82 0.82 0 1 0 1.6 0a0.82 0.82 0 1 0 -1.6 0M120.8 201.8a0.82 0.82 0 1 0 1.6 0a0.82 0.82 0 1 0 -1.6 0M123.2 202.0a0.82 0.82 0 1 0 1.6 0a0.82 0.82 0 1 0 -1.6 0M127.9 201.8a0.82 0.82 0 1 0 1.6 0a0.82 0.82 0 1 0 -1.6 0M130.4 201.9a0.82 0.82 0 1 0 1.6 0a0.82 0.82 0 1 0 -1.6 0M132.6 201.8a0.82 0.82 0 1 0 1.6 0a0.82 0.82 0 1 0 -1.6 0M134.7 201.7a0.82 0.82 0 1 0 1.6 0a0.82 0.82 0 1 0 -1.6 0M137.1 202.1a0.82 0.82 0 1 0 1.6 0a0.82 0.82 0 1 0 -1.6 0M138.8 202.1a0.82 0.82 0 1 0 1.6 0a0.82 0.82 0 1 0 -1.6 0M141.6 202.2a0.82 0.82 0 1 0 1.6 0a0.82 0.82 0 1 0 -1.6 0M144.0 202.1a0.82 0.82 0 1 0 1.6 0a0.82 0.82 0 1 0 -1.6 0M146.5 201.8a0.82 0.82 0 1 0 1.6 0a0.82 0.82 0 1 0 -1.6 0M148.7 202.4a0.82 0.82 0 1 0 1.6 0a0.82 0.82 0 1 0 -1.6 0M150.7 201.8a0.82 0.82 0 1 0 1.6 0a0.82 0.82 0 1 0 -1.6 0M155.0 202.2a0.82 0.82 0 1 0 1.6 0a0.82 0.82 0 1 0 -1.6 0M157.4 202.2a0.82 0.82 0 1 0 1.6 0a0.82 0.82 0 1 0 -1.6 0M159.5 201.9a0.82 0.82 0 1 0 1.6 0a0.82 0.82 0 1 0 -1.6 0M164.4 201.6a0.82 0.82 0 1 0 1.6 0a0.82 0.82 0 1 0 -1.6 0M166.5 202.0a0.82 0.82 0 1 0 1.6 0a0.82 0.82 0 1 0 -1.6 0M169.0 201.7a0.82 0.82 0 1 0 1.6 0a0.82 0.82 0 1 0 -1.6 0M171.7 201.8a0.82 0.82 0 1 0 1.6 0a0.82 0.82 0 1 0 -1.6 0M173.7 202.1a0.82 0.82 0 1 0 1.6 0a0.82 0.82 0 1 0 -1.6 0M176.3 202.0a0.82 0.82 0 1 0 1.6 0a0.82 0.82 0 1 0 -1.6 0M178.2 201.6a0.82 0.82 0 1 0 1.6 0a0.82 0.82 0 1 0 -1.6 0M180.8 202.0a0.82 0.82 0 1 0 1.6 0a0.82 0.82 0 1 0 -1.6 0M182.5 202.1a0.82 0.82 0 1 0 1.6 0a0.82 0.82 0 1 0 -1.6 0M185.6 202.3a0.82 0.82 0 1 0 1.6 0a0.82 0.82 0 1 0 -1.6 0M187.7 201.9a0.82 0.82 0 1 0 1.6 0a0.82 0.82 0 1 0 -1.6 0M189.8 202.2a0.82 0.82 0 1 0 1.6 0a0.82 0.82 0 1 0 -1.6 0M192.5 202.4a0.82 0.82 0 1 0 1.6 0a0.82 0.82 0 1 0 -1.6 0M194.4 202.3a0.82 0.82 0 1 0 1.6 0a0.82 0.82 0 1 0 -1.6 0M196.9 201.8a0.82 0.82 0 1 0 1.6 0a0.82 0.82 0 1 0 -1.6 0M199.3 202.0a0.82 0.82 0 1 0 1.6 0a0.82 0.82 0 1 0 -1.6 0M201.5 201.7a0.82 0.82 0 1 0 1.6 0a0.82 0.82 0 1 0 -1.6 0M203.5 202.2a0.82 0.82 0 1 0 1.6 0a0.82 0.82 0 1 0 -1.6 0M205.6 202.0a0.82 0.82 0 1 0 1.6 0a0.82 0.82 0 1 0 -1.6 0M207.9 202.4a0.82 0.82 0 1 0 1.6 0a0.82 0.82 0 1 0 -1.6 0M210.2 202.2a0.82 0.82 0 1 0 1.6 0a0.82 0.82 0 1 0 -1.6 0M213.0 202.1a0.82 0.82 0 1 0 1.6 0a0.82 0.82 0 1 0 -1.6 0M219.7 201.6a0.82 0.82 0 1 0 1.6 0a0.82 0.82 0 1 0 -1.6 0M222.1 201.9a0.82 0.82 0 1 0 1.6 0a0.82 0.82 0 1 0 -1.6 0M224.0 201.5a0.82 0.82 0 1 0 1.6 0a0.82 0.82 0 1 0 -1.6 0M227.0 201.8a0.82 0.82 0 1 0 1.6 0a0.82 0.82 0 1 0 -1.6 0M229.2 202.2a0.82 0.82 0 1 0 1.6 0a0.82 0.82 0 1 0 -1.6 0M230.8 201.6a0.82 0.82 0 1 0 1.6 0a0.82 0.82 0 1 0 -1.6 0M233.7 201.7a0.82 0.82 0 1 0 1.6 0a0.82 0.82 0 1 0 -1.6 0M236.0 201.7a0.82 0.82 0 1 0 1.6 0a0.82 0.82 0 1 0 -1.6 0M238.0 201.7a0.82 0.82 0 1 0 1.6 0a0.82 0.82 0 1 0 -1.6 0M240.4 201.8a0.82 0.82 0 1 0 1.6 0a0.82 0.82 0 1 0 -1.6 0M242.6 201.6a0.82 0.82 0 1 0 1.6 0a0.82 0.82 0 1 0 -1.6 0M25.0 204.0a0.82 0.82 0 1 0 1.6 0a0.82 0.82 0 1 0 -1.6 0M29.9 203.6a0.82 0.82 0 1 0 1.6 0a0.82 0.82 0 1 0 -1.6 0M32.6 204.2a0.82 0.82 0 1 0 1.6 0a0.82 0.82 0 1 0 -1.6 0M34.8 203.8a0.82 0.82 0 1 0 1.6 0a0.82 0.82 0 1 0 -1.6 0M36.9 203.7a0.82 0.82 0 1 0 1.6 0a0.82 0.82 0 1 0 -1.6 0M39.4 204.3a0.82 0.82 0 1 0 1.6 0a0.82 0.82 0 1 0 -1.6 0M41.2 203.6a0.82 0.82 0 1 0 1.6 0a0.82 0.82 0 1 0 -1.6 0M43.5 204.1a0.82 0.82 0 1 0 1.6 0a0.82 0.82 0 1 0 -1.6 0M45.8 203.9a0.82 0.82 0 1 0 1.6 0a0.82 0.82 0 1 0 -1.6 0M48.4 203.5a0.82 0.82 0 1 0 1.6 0a0.82 0.82 0 1 0 -1.6 0M50.7 204.0a0.82 0.82 0 1 0 1.6 0a0.82 0.82 0 1 0 -1.6 0M53.2 203.6a0.82 0.82 0 1 0 1.6 0a0.82 0.82 0 1 0 -1.6 0M55.5 204.0a0.82 0.82 0 1 0 1.6 0a0.82 0.82 0 1 0 -1.6 0M57.7 204.2a0.82 0.82 0 1 0 1.6 0a0.82 0.82 0 1 0 -1.6 0M62.2 204.2a0.82 0.82 0 1 0 1.6 0a0.82 0.82 0 1 0 -1.6 0M64.2 204.3a0.82 0.82 0 1 0 1.6 0a0.82 0.82 0 1 0 -1.6 0M67.0 203.7a0.82 0.82 0 1 0 1.6 0a0.82 0.82 0 1 0 -1.6 0M69.1 204.1a0.82 0.82 0 1 0 1.6 0a0.82 0.82 0 1 0 -1.6 0M70.9 204.0a0.82 0.82 0 1 0 1.6 0a0.82 0.82 0 1 0 -1.6 0M74.0 203.7a0.82 0.82 0 1 0 1.6 0a0.82 0.82 0 1 0 -1.6 0M76.3 203.7a0.82 0.82 0 1 0 1.6 0a0.82 0.82 0 1 0 -1.6 0M78.4 203.8a0.82 0.82 0 1 0 1.6 0a0.82 0.82 0 1 0 -1.6 0M80.6 204.1a0.82 0.82 0 1 0 1.6 0a0.82 0.82 0 1 0 -1.6 0M83.2 203.6a0.82 0.82 0 1 0 1.6 0a0.82 0.82 0 1 0 -1.6 0M85.0 204.4a0.82 0.82 0 1 0 1.6 0a0.82 0.82 0 1 0 -1.6 0M87.5 204.4a0.82 0.82 0 1 0 1.6 0a0.82 0.82 0 1 0 -1.6 0M90.1 204.3a0.82 0.82 0 1 0 1.6 0a0.82 0.82 0 1 0 -1.6 0M94.4 204.3a0.82 0.82 0 1 0 1.6 0a0.82 0.82 0 1 0 -1.6 0M96.4 204.3a0.82 0.82 0 1 0 1.6 0a0.82 0.82 0 1 0 -1.6 0M99.0 203.8a0.82 0.82 0 1 0 1.6 0a0.82 0.82 0 1 0 -1.6 0M101.6 204.4a0.82 0.82 0 1 0 1.6 0a0.82 0.82 0 1 0 -1.6 0M103.4 204.3a0.82 0.82 0 1 0 1.6 0a0.82 0.82 0 1 0 -1.6 0M105.5 203.7a0.82 0.82 0 1 0 1.6 0a0.82 0.82 0 1 0 -1.6 0M108.0 203.7a0.82 0.82 0 1 0 1.6 0a0.82 0.82 0 1 0 -1.6 0M110.0 204.0a0.82 0.82 0 1 0 1.6 0a0.82 0.82 0 1 0 -1.6 0M112.7 204.0a0.82 0.82 0 1 0 1.6 0a0.82 0.82 0 1 0 -1.6 0M115.5 204.2a0.82 0.82 0 1 0 1.6 0a0.82 0.82 0 1 0 -1.6 0M117.4 203.9a0.82 0.82 0 1 0 1.6 0a0.82 0.82 0 1 0 -1.6 0M119.6 204.0a0.82 0.82 0 1 0 1.6 0a0.82 0.82 0 1 0 -1.6 0M121.8 204.3a0.82 0.82 0 1 0 1.6 0a0.82 0.82 0 1 0 -1.6 0M124.5 203.8a0.82 0.82 0 1 0 1.6 0a0.82 0.82 0 1 0 -1.6 0M129.0 204.1a0.82 0.82 0 1 0 1.6 0a0.82 0.82 0 1 0 -1.6 0M131.0 203.7a0.82 0.82 0 1 0 1.6 0a0.82 0.82 0 1 0 -1.6 0M133.2 203.8a0.82 0.82 0 1 0 1.6 0a0.82 0.82 0 1 0 -1.6 0M138.1 204.2a0.82 0.82 0 1 0 1.6 0a0.82 0.82 0 1 0 -1.6 0M140.0 203.7a0.82 0.82 0 1 0 1.6 0a0.82 0.82 0 1 0 -1.6 0M142.6 204.0a0.82 0.82 0 1 0 1.6 0a0.82 0.82 0 1 0 -1.6 0M145.0 203.9a0.82 0.82 0 1 0 1.6 0a0.82 0.82 0 1 0 -1.6 0M147.3 203.7a0.82 0.82 0 1 0 1.6 0a0.82 0.82 0 1 0 -1.6 0M149.1 204.4a0.82 0.82 0 1 0 1.6 0a0.82 0.82 0 1 0 -1.6 0M154.3 204.2a0.82 0.82 0 1 0 1.6 0a0.82 0.82 0 1 0 -1.6 0M156.2 203.5a0.82 0.82 0 1 0 1.6 0a0.82 0.82 0 1 0 -1.6 0M158.4 203.7a0.82 0.82 0 1 0 1.6 0a0.82 0.82 0 1 0 -1.6 0M160.6 203.5a0.82 0.82 0 1 0 1.6 0a0.82 0.82 0 1 0 -1.6 0M163.3 204.2a0.82 0.82 0 1 0 1.6 0a0.82 0.82 0 1 0 -1.6 0M165.7 204.2a0.82 0.82 0 1 0 1.6 0a0.82 0.82 0 1 0 -1.6 0M168.0 203.9a0.82 0.82 0 1 0 1.6 0a0.82 0.82 0 1 0 -1.6 0M170.4 203.9a0.82 0.82 0 1 0 1.6 0a0.82 0.82 0 1 0 -1.6 0M173.0 203.8a0.82 0.82 0 1 0 1.6 0a0.82 0.82 0 1 0 -1.6 0M174.9 203.8a0.82 0.82 0 1 0 1.6 0a0.82 0.82 0 1 0 -1.6 0M177.1 203.7a0.82 0.82 0 1 0 1.6 0a0.82 0.82 0 1 0 -1.6 0M179.6 204.1a0.82 0.82 0 1 0 1.6 0a0.82 0.82 0 1 0 -1.6 0M181.7 204.1a0.82 0.82 0 1 0 1.6 0a0.82 0.82 0 1 0 -1.6 0M183.6 203.5a0.82 0.82 0 1 0 1.6 0a0.82 0.82 0 1 0 -1.6 0M186.3 203.7a0.82 0.82 0 1 0 1.6 0a0.82 0.82 0 1 0 -1.6 0M188.5 203.6a0.82 0.82 0 1 0 1.6 0a0.82 0.82 0 1 0 -1.6 0M190.8 204.3a0.82 0.82 0 1 0 1.6 0a0.82 0.82 0 1 0 -1.6 0M193.6 204.1a0.82 0.82 0 1 0 1.6 0a0.82 0.82 0 1 0 -1.6 0M195.5 203.5a0.82 0.82 0 1 0 1.6 0a0.82 0.82 0 1 0 -1.6 0M197.4 204.0a0.82 0.82 0 1 0 1.6 0a0.82 0.82 0 1 0 -1.6 0M200.5 204.1a0.82 0.82 0 1 0 1.6 0a0.82 0.82 0 1 0 -1.6 0M202.4 203.7a0.82 0.82 0 1 0 1.6 0a0.82 0.82 0 1 0 -1.6 0M204.5 203.9a0.82 0.82 0 1 0 1.6 0a0.82 0.82 0 1 0 -1.6 0M206.8 204.3a0.82 0.82 0 1 0 1.6 0a0.82 0.82 0 1 0 -1.6 0M209.3 203.8a0.82 0.82 0 1 0 1.6 0a0.82 0.82 0 1 0 -1.6 0M214.1 204.3a0.82 0.82 0 1 0 1.6 0a0.82 0.82 0 1 0 -1.6 0M216.0 203.8a0.82 0.82 0 1 0 1.6 0a0.82 0.82 0 1 0 -1.6 0M218.3 203.6a0.82 0.82 0 1 0 1.6 0a0.82 0.82 0 1 0 -1.6 0M220.8 204.2a0.82 0.82 0 1 0 1.6 0a0.82 0.82 0 1 0 -1.6 0M222.8 203.7a0.82 0.82 0 1 0 1.6 0a0.82 0.82 0 1 0 -1.6 0M225.2 203.7a0.82 0.82 0 1 0 1.6 0a0.82 0.82 0 1 0 -1.6 0M230.3 204.2a0.82 0.82 0 1 0 1.6 0a0.82 0.82 0 1 0 -1.6 0M231.9 203.7a0.82 0.82 0 1 0 1.6 0a0.82 0.82 0 1 0 -1.6 0M234.7 204.0a0.82 0.82 0 1 0 1.6 0a0.82 0.82 0 1 0 -1.6 0M237.2 203.9a0.82 0.82 0 1 0 1.6 0a0.82 0.82 0 1 0 -1.6 0M239.5 204.4a0.82 0.82 0 1 0 1.6 0a0.82 0.82 0 1 0 -1.6 0M241.8 204.2a0.82 0.82 0 1 0 1.6 0a0.82 0.82 0 1 0 -1.6 0M244.0 203.8a0.82 0.82 0 1 0 1.6 0a0.82 0.82 0 1 0 -1.6 0M24.3 205.8a0.82 0.82 0 1 0 1.6 0a0.82 0.82 0 1 0 -1.6 0M26.6 206.2a0.82 0.82 0 1 0 1.6 0a0.82 0.82 0 1 0 -1.6 0M28.7 206.0a0.82 0.82 0 1 0 1.6 0a0.82 0.82 0 1 0 -1.6 0M31.3 206.2a0.82 0.82 0 1 0 1.6 0a0.82 0.82 0 1 0 -1.6 0M33.3 206.1a0.82 0.82 0 1 0 1.6 0a0.82 0.82 0 1 0 -1.6 0M35.6 205.7a0.82 0.82 0 1 0 1.6 0a0.82 0.82 0 1 0 -1.6 0M37.9 205.5a0.82 0.82 0 1 0 1.6 0a0.82 0.82 0 1 0 -1.6 0M40.5 206.2a0.82 0.82 0 1 0 1.6 0a0.82 0.82 0 1 0 -1.6 0M42.7 206.0a0.82 0.82 0 1 0 1.6 0a0.82 0.82 0 1 0 -1.6 0M45.2 206.0a0.82 0.82 0 1 0 1.6 0a0.82 0.82 0 1 0 -1.6 0M46.9 206.3a0.82 0.82 0 1 0 1.6 0a0.82 0.82 0 1 0 -1.6 0M49.5 205.7a0.82 0.82 0 1 0 1.6 0a0.82 0.82 0 1 0 -1.6 0M51.7 205.7a0.82 0.82 0 1 0 1.6 0a0.82 0.82 0 1 0 -1.6 0M53.7 205.8a0.82 0.82 0 1 0 1.6 0a0.82 0.82 0 1 0 -1.6 0M56.3 206.4a0.82 0.82 0 1 0 1.6 0a0.82 0.82 0 1 0 -1.6 0M58.4 205.6a0.82 0.82 0 1 0 1.6 0a0.82 0.82 0 1 0 -1.6 0M61.0 205.6a0.82 0.82 0 1 0 1.6 0a0.82 0.82 0 1 0 -1.6 0M63.5 205.8a0.82 0.82 0 1 0 1.6 0a0.82 0.82 0 1 0 -1.6 0M65.7 206.2a0.82 0.82 0 1 0 1.6 0a0.82 0.82 0 1 0 -1.6 0M70.0 205.8a0.82 0.82 0 1 0 1.6 0a0.82 0.82 0 1 0 -1.6 0M72.5 205.6a0.82 0.82 0 1 0 1.6 0a0.82 0.82 0 1 0 -1.6 0M74.8 206.1a0.82 0.82 0 1 0 1.6 0a0.82 0.82 0 1 0 -1.6 0M77.0 206.4a0.82 0.82 0 1 0 1.6 0a0.82 0.82 0 1 0 -1.6 0M79.6 205.8a0.82 0.82 0 1 0 1.6 0a0.82 0.82 0 1 0 -1.6 0M81.9 206.3a0.82 0.82 0 1 0 1.6 0a0.82 0.82 0 1 0 -1.6 0M83.6 206.1a0.82 0.82 0 1 0 1.6 0a0.82 0.82 0 1 0 -1.6 0M88.9 205.6a0.82 0.82 0 1 0 1.6 0a0.82 0.82 0 1 0 -1.6 0M90.5 205.6a0.82 0.82 0 1 0 1.6 0a0.82 0.82 0 1 0 -1.6 0M93.6 206.2a0.82 0.82 0 1 0 1.6 0a0.82 0.82 0 1 0 -1.6 0M95.4 205.8a0.82 0.82 0 1 0 1.6 0a0.82 0.82 0 1 0 -1.6 0M97.5 206.3a0.82 0.82 0 1 0 1.6 0a0.82 0.82 0 1 0 -1.6 0M100.2 205.6a0.82 0.82 0 1 0 1.6 0a0.82 0.82 0 1 0 -1.6 0M102.2 206.2a0.82 0.82 0 1 0 1.6 0a0.82 0.82 0 1 0 -1.6 0M104.9 206.0a0.82 0.82 0 1 0 1.6 0a0.82 0.82 0 1 0 -1.6 0M107.4 205.8a0.82 0.82 0 1 0 1.6 0a0.82 0.82 0 1 0 -1.6 0M108.9 205.9a0.82 0.82 0 1 0 1.6 0a0.82 0.82 0 1 0 -1.6 0M111.8 205.7a0.82 0.82 0 1 0 1.6 0a0.82 0.82 0 1 0 -1.6 0M113.4 205.8a0.82 0.82 0 1 0 1.6 0a0.82 0.82 0 1 0 -1.6 0M116.1 206.3a0.82 0.82 0 1 0 1.6 0a0.82 0.82 0 1 0 -1.6 0M118.1 205.5a0.82 0.82 0 1 0 1.6 0a0.82 0.82 0 1 0 -1.6 0M120.4 206.3a0.82 0.82 0 1 0 1.6 0a0.82 0.82 0 1 0 -1.6 0M122.7 205.7a0.82 0.82 0 1 0 1.6 0a0.82 0.82 0 1 0 -1.6 0M125.4 205.8a0.82 0.82 0 1 0 1.6 0a0.82 0.82 0 1 0 -1.6 0M127.2 206.3a0.82 0.82 0 1 0 1.6 0a0.82 0.82 0 1 0 -1.6 0M129.9 205.7a0.82 0.82 0 1 0 1.6 0a0.82 0.82 0 1 0 -1.6 0M132.7 205.9a0.82 0.82 0 1 0 1.6 0a0.82 0.82 0 1 0 -1.6 0M134.6 206.4a0.82 0.82 0 1 0 1.6 0a0.82 0.82 0 1 0 -1.6 0M137.0 205.7a0.82 0.82 0 1 0 1.6 0a0.82 0.82 0 1 0 -1.6 0M139.1 205.5a0.82 0.82 0 1 0 1.6 0a0.82 0.82 0 1 0 -1.6 0M141.4 206.1a0.82 0.82 0 1 0 1.6 0a0.82 0.82 0 1 0 -1.6 0M144.2 205.9a0.82 0.82 0 1 0 1.6 0a0.82 0.82 0 1 0 -1.6 0M146.1 206.2a0.82 0.82 0 1 0 1.6 0a0.82 0.82 0 1 0 -1.6 0M148.0 205.9a0.82 0.82 0 1 0 1.6 0a0.82 0.82 0 1 0 -1.6 0M150.3 206.0a0.82 0.82 0 1 0 1.6 0a0.82 0.82 0 1 0 -1.6 0M155.3 206.3a0.82 0.82 0 1 0 1.6 0a0.82 0.82 0 1 0 -1.6 0M157.7 205.8a0.82 0.82 0 1 0 1.6 0a0.82 0.82 0 1 0 -1.6 0M160.3 206.1a0.82 0.82 0 1 0 1.6 0a0.82 0.82 0 1 0 -1.6 0M161.9 206.1a0.82 0.82 0 1 0 1.6 0a0.82 0.82 0 1 0 -1.6 0M164.9 206.3a0.82 0.82 0 1 0 1.6 0a0.82 0.82 0 1 0 -1.6 0M169.2 205.7a0.82 0.82 0 1 0 1.6 0a0.82 0.82 0 1 0 -1.6 0M171.7 206.1a0.82 0.82 0 1 0 1.6 0a0.82 0.82 0 1 0 -1.6 0M173.6 205.7a0.82 0.82 0 1 0 1.6 0a0.82 0.82 0 1 0 -1.6 0M175.8 205.9a0.82 0.82 0 1 0 1.6 0a0.82 0.82 0 1 0 -1.6 0M178.4 205.6a0.82 0.82 0 1 0 1.6 0a0.82 0.82 0 1 0 -1.6 0M181.0 206.4a0.82 0.82 0 1 0 1.6 0a0.82 0.82 0 1 0 -1.6 0M182.5 206.3a0.82 0.82 0 1 0 1.6 0a0.82 0.82 0 1 0 -1.6 0M185.5 205.9a0.82 0.82 0 1 0 1.6 0a0.82 0.82 0 1 0 -1.6 0M187.7 206.0a0.82 0.82 0 1 0 1.6 0a0.82 0.82 0 1 0 -1.6 0M192.4 205.8a0.82 0.82 0 1 0 1.6 0a0.82 0.82 0 1 0 -1.6 0M194.3 206.2a0.82 0.82 0 1 0 1.6 0a0.82 0.82 0 1 0 -1.6 0M196.9 205.9a0.82 0.82 0 1 0 1.6 0a0.82 0.82 0 1 0 -1.6 0M199.3 206.2a0.82 0.82 0 1 0 1.6 0a0.82 0.82 0 1 0 -1.6 0M201.2 206.4a0.82 0.82 0 1 0 1.6 0a0.82 0.82 0 1 0 -1.6 0M203.3 205.7a0.82 0.82 0 1 0 1.6 0a0.82 0.82 0 1 0 -1.6 0M205.8 205.6a0.82 0.82 0 1 0 1.6 0a0.82 0.82 0 1 0 -1.6 0M208.2 205.6a0.82 0.82 0 1 0 1.6 0a0.82 0.82 0 1 0 -1.6 0M210.5 206.2a0.82 0.82 0 1 0 1.6 0a0.82 0.82 0 1 0 -1.6 0M212.4 205.6a0.82 0.82 0 1 0 1.6 0a0.82 0.82 0 1 0 -1.6 0M214.9 205.6a0.82 0.82 0 1 0 1.6 0a0.82 0.82 0 1 0 -1.6 0M217.7 205.9a0.82 0.82 0 1 0 1.6 0a0.82 0.82 0 1 0 -1.6 0M219.8 205.6a0.82 0.82 0 1 0 1.6 0a0.82 0.82 0 1 0 -1.6 0M221.7 205.9a0.82 0.82 0 1 0 1.6 0a0.82 0.82 0 1 0 -1.6 0M223.9 205.9a0.82 0.82 0 1 0 1.6 0a0.82 0.82 0 1 0 -1.6 0M226.8 206.1a0.82 0.82 0 1 0 1.6 0a0.82 0.82 0 1 0 -1.6 0M229.2 205.6a0.82 0.82 0 1 0 1.6 0a0.82 0.82 0 1 0 -1.6 0M231.5 206.2a0.82 0.82 0 1 0 1.6 0a0.82 0.82 0 1 0 -1.6 0M233.1 205.9a0.82 0.82 0 1 0 1.6 0a0.82 0.82 0 1 0 -1.6 0M235.9 206.0a0.82 0.82 0 1 0 1.6 0a0.82 0.82 0 1 0 -1.6 0M238.4 206.0a0.82 0.82 0 1 0 1.6 0a0.82 0.82 0 1 0 -1.6 0M240.5 205.5a0.82 0.82 0 1 0 1.6 0a0.82 0.82 0 1 0 -1.6 0M242.6 205.7a0.82 0.82 0 1 0 1.6 0a0.82 0.82 0 1 0 -1.6 0M25.0 207.7a0.82 0.82 0 1 0 1.6 0a0.82 0.82 0 1 0 -1.6 0M28.0 207.8a0.82 0.82 0 1 0 1.6 0a0.82 0.82 0 1 0 -1.6 0M30.3 207.5a0.82 0.82 0 1 0 1.6 0a0.82 0.82 0 1 0 -1.6 0M32.0 208.4a0.82 0.82 0 1 0 1.6 0a0.82 0.82 0 1 0 -1.6 0M34.9 208.2a0.82 0.82 0 1 0 1.6 0a0.82 0.82 0 1 0 -1.6 0M37.0 208.0a0.82 0.82 0 1 0 1.6 0a0.82 0.82 0 1 0 -1.6 0M39.4 207.9a0.82 0.82 0 1 0 1.6 0a0.82 0.82 0 1 0 -1.6 0M41.5 208.3a0.82 0.82 0 1 0 1.6 0a0.82 0.82 0 1 0 -1.6 0M44.1 207.7a0.82 0.82 0 1 0 1.6 0a0.82 0.82 0 1 0 -1.6 0M46.2 208.2a0.82 0.82 0 1 0 1.6 0a0.82 0.82 0 1 0 -1.6 0M48.3 208.4a0.82 0.82 0 1 0 1.6 0a0.82 0.82 0 1 0 -1.6 0M50.4 208.2a0.82 0.82 0 1 0 1.6 0a0.82 0.82 0 1 0 -1.6 0M52.8 208.4a0.82 0.82 0 1 0 1.6 0a0.82 0.82 0 1 0 -1.6 0M55.5 207.5a0.82 0.82 0 1 0 1.6 0a0.82 0.82 0 1 0 -1.6 0M60.2 208.0a0.82 0.82 0 1 0 1.6 0a0.82 0.82 0 1 0 -1.6 0M62.3 207.8a0.82 0.82 0 1 0 1.6 0a0.82 0.82 0 1 0 -1.6 0M64.3 207.5a0.82 0.82 0 1 0 1.6 0a0.82 0.82 0 1 0 -1.6 0M66.3 207.6a0.82 0.82 0 1 0 1.6 0a0.82 0.82 0 1 0 -1.6 0M71.5 208.0a0.82 0.82 0 1 0 1.6 0a0.82 0.82 0 1 0 -1.6 0M75.7 208.4a0.82 0.82 0 1 0 1.6 0a0.82 0.82 0 1 0 -1.6 0M77.8 208.2a0.82 0.82 0 1 0 1.6 0a0.82 0.82 0 1 0 -1.6 0M80.9 208.2a0.82 0.82 0 1 0 1.6 0a0.82 0.82 0 1 0 -1.6 0M87.5 208.0a0.82 0.82 0 1 0 1.6 0a0.82 0.82 0 1 0 -1.6 0M89.3 207.7a0.82 0.82 0 1 0 1.6 0a0.82 0.82 0 1 0 -1.6 0M92.3 207.9a0.82 0.82 0 1 0 1.6 0a0.82 0.82 0 1 0 -1.6 0M96.5 208.3a0.82 0.82 0 1 0 1.6 0a0.82 0.82 0 1 0 -1.6 0M99.1 207.7a0.82 0.82 0 1 0 1.6 0a0.82 0.82 0 1 0 -1.6 0M100.9 207.6a0.82 0.82 0 1 0 1.6 0a0.82 0.82 0 1 0 -1.6 0M103.7 208.2a0.82 0.82 0 1 0 1.6 0a0.82 0.82 0 1 0 -1.6 0M105.7 208.0a0.82 0.82 0 1 0 1.6 0a0.82 0.82 0 1 0 -1.6 0M108.1 208.1a0.82 0.82 0 1 0 1.6 0a0.82 0.82 0 1 0 -1.6 0M110.0 207.6a0.82 0.82 0 1 0 1.6 0a0.82 0.82 0 1 0 -1.6 0M113.1 208.1a0.82 0.82 0 1 0 1.6 0a0.82 0.82 0 1 0 -1.6 0M115.1 207.6a0.82 0.82 0 1 0 1.6 0a0.82 0.82 0 1 0 -1.6 0M117.2 207.7a0.82 0.82 0 1 0 1.6 0a0.82 0.82 0 1 0 -1.6 0M120.0 208.2a0.82 0.82 0 1 0 1.6 0a0.82 0.82 0 1 0 -1.6 0M121.5 207.7a0.82 0.82 0 1 0 1.6 0a0.82 0.82 0 1 0 -1.6 0M124.5 208.3a0.82 0.82 0 1 0 1.6 0a0.82 0.82 0 1 0 -1.6 0M126.9 207.8a0.82 0.82 0 1 0 1.6 0a0.82 0.82 0 1 0 -1.6 0M128.7 207.6a0.82 0.82 0 1 0 1.6 0a0.82 0.82 0 1 0 -1.6 0M133.2 207.9a0.82 0.82 0 1 0 1.6 0a0.82 0.82 0 1 0 -1.6 0M135.7 208.2a0.82 0.82 0 1 0 1.6 0a0.82 0.82 0 1 0 -1.6 0M138.1 207.8a0.82 0.82 0 1 0 1.6 0a0.82 0.82 0 1 0 -1.6 0M142.9 208.0a0.82 0.82 0 1 0 1.6 0a0.82 0.82 0 1 0 -1.6 0M144.8 207.6a0.82 0.82 0 1 0 1.6 0a0.82 0.82 0 1 0 -1.6 0M147.7 208.0a0.82 0.82 0 1 0 1.6 0a0.82 0.82 0 1 0 -1.6 0M149.3 208.3a0.82 0.82 0 1 0 1.6 0a0.82 0.82 0 1 0 -1.6 0M152.2 208.4a0.82 0.82 0 1 0 1.6 0a0.82 0.82 0 1 0 -1.6 0M154.1 207.7a0.82 0.82 0 1 0 1.6 0a0.82 0.82 0 1 0 -1.6 0M156.7 207.8a0.82 0.82 0 1 0 1.6 0a0.82 0.82 0 1 0 -1.6 0M159.0 208.2a0.82 0.82 0 1 0 1.6 0a0.82 0.82 0 1 0 -1.6 0M161.0 208.2a0.82 0.82 0 1 0 1.6 0a0.82 0.82 0 1 0 -1.6 0M163.0 207.5a0.82 0.82 0 1 0 1.6 0a0.82 0.82 0 1 0 -1.6 0M165.5 208.1a0.82 0.82 0 1 0 1.6 0a0.82 0.82 0 1 0 -1.6 0M170.1 207.6a0.82 0.82 0 1 0 1.6 0a0.82 0.82 0 1 0 -1.6 0M172.1 208.3a0.82 0.82 0 1 0 1.6 0a0.82 0.82 0 1 0 -1.6 0M174.6 207.6a0.82 0.82 0 1 0 1.6 0a0.82 0.82 0 1 0 -1.6 0M177.3 207.7a0.82 0.82 0 1 0 1.6 0a0.82 0.82 0 1 0 -1.6 0M179.4 207.8a0.82 0.82 0 1 0 1.6 0a0.82 0.82 0 1 0 -1.6 0M181.9 208.1a0.82 0.82 0 1 0 1.6 0a0.82 0.82 0 1 0 -1.6 0M184.4 208.0a0.82 0.82 0 1 0 1.6 0a0.82 0.82 0 1 0 -1.6 0M186.8 207.8a0.82 0.82 0 1 0 1.6 0a0.82 0.82 0 1 0 -1.6 0M188.4 207.7a0.82 0.82 0 1 0 1.6 0a0.82 0.82 0 1 0 -1.6 0M190.8 208.3a0.82 0.82 0 1 0 1.6 0a0.82 0.82 0 1 0 -1.6 0M193.5 207.8a0.82 0.82 0 1 0 1.6 0a0.82 0.82 0 1 0 -1.6 0M195.7 207.9a0.82 0.82 0 1 0 1.6 0a0.82 0.82 0 1 0 -1.6 0M198.3 207.8a0.82 0.82 0 1 0 1.6 0a0.82 0.82 0 1 0 -1.6 0M200.5 207.9a0.82 0.82 0 1 0 1.6 0a0.82 0.82 0 1 0 -1.6 0M202.1 207.6a0.82 0.82 0 1 0 1.6 0a0.82 0.82 0 1 0 -1.6 0M204.7 207.5a0.82 0.82 0 1 0 1.6 0a0.82 0.82 0 1 0 -1.6 0M207.0 208.3a0.82 0.82 0 1 0 1.6 0a0.82 0.82 0 1 0 -1.6 0M209.3 207.5a0.82 0.82 0 1 0 1.6 0a0.82 0.82 0 1 0 -1.6 0M211.5 207.6a0.82 0.82 0 1 0 1.6 0a0.82 0.82 0 1 0 -1.6 0M213.6 208.0a0.82 0.82 0 1 0 1.6 0a0.82 0.82 0 1 0 -1.6 0M218.5 207.8a0.82 0.82 0 1 0 1.6 0a0.82 0.82 0 1 0 -1.6 0M220.8 207.6a0.82 0.82 0 1 0 1.6 0a0.82 0.82 0 1 0 -1.6 0M223.1 207.5a0.82 0.82 0 1 0 1.6 0a0.82 0.82 0 1 0 -1.6 0M225.9 208.0a0.82 0.82 0 1 0 1.6 0a0.82 0.82 0 1 0 -1.6 0M227.3 207.6a0.82 0.82 0 1 0 1.6 0a0.82 0.82 0 1 0 -1.6 0M229.7 208.1a0.82 0.82 0 1 0 1.6 0a0.82 0.82 0 1 0 -1.6 0M234.8 208.3a0.82 0.82 0 1 0 1.6 0a0.82 0.82 0 1 0 -1.6 0M236.7 207.7a0.82 0.82 0 1 0 1.6 0a0.82 0.82 0 1 0 -1.6 0M239.0 207.7a0.82 0.82 0 1 0 1.6 0a0.82 0.82 0 1 0 -1.6 0M24.2 210.3a0.82 0.82 0 1 0 1.6 0a0.82 0.82 0 1 0 -1.6 0M26.4 209.8a0.82 0.82 0 1 0 1.6 0a0.82 0.82 0 1 0 -1.6 0M28.5 209.8a0.82 0.82 0 1 0 1.6 0a0.82 0.82 0 1 0 -1.6 0M31.1 210.1a0.82 0.82 0 1 0 1.6 0a0.82 0.82 0 1 0 -1.6 0M33.3 209.7a0.82 0.82 0 1 0 1.6 0a0.82 0.82 0 1 0 -1.6 0M35.5 209.5a0.82 0.82 0 1 0 1.6 0a0.82 0.82 0 1 0 -1.6 0M38.3 210.2a0.82 0.82 0 1 0 1.6 0a0.82 0.82 0 1 0 -1.6 0M40.0 210.0a0.82 0.82 0 1 0 1.6 0a0.82 0.82 0 1 0 -1.6 0M43.0 210.2a0.82 0.82 0 1 0 1.6 0a0.82 0.82 0 1 0 -1.6 0M44.5 209.5a0.82 0.82 0 1 0 1.6 0a0.82 0.82 0 1 0 -1.6 0M47.6 209.7a0.82 0.82 0 1 0 1.6 0a0.82 0.82 0 1 0 -1.6 0M49.3 210.4a0.82 0.82 0 1 0 1.6 0a0.82 0.82 0 1 0 -1.6 0M52.1 210.2a0.82 0.82 0 1 0 1.6 0a0.82 0.82 0 1 0 -1.6 0M54.1 210.3a0.82 0.82 0 1 0 1.6 0a0.82 0.82 0 1 0 -1.6 0M56.4 210.3a0.82 0.82 0 1 0 1.6 0a0.82 0.82 0 1 0 -1.6 0M58.6 210.1a0.82 0.82 0 1 0 1.6 0a0.82 0.82 0 1 0 -1.6 0M61.3 210.3a0.82 0.82 0 1 0 1.6 0a0.82 0.82 0 1 0 -1.6 0M63.3 210.2a0.82 0.82 0 1 0 1.6 0a0.82 0.82 0 1 0 -1.6 0M65.9 210.1a0.82 0.82 0 1 0 1.6 0a0.82 0.82 0 1 0 -1.6 0M68.0 210.2a0.82 0.82 0 1 0 1.6 0a0.82 0.82 0 1 0 -1.6 0M70.3 209.9a0.82 0.82 0 1 0 1.6 0a0.82 0.82 0 1 0 -1.6 0M72.8 209.8a0.82 0.82 0 1 0 1.6 0a0.82 0.82 0 1 0 -1.6 0M74.6 210.1a0.82 0.82 0 1 0 1.6 0a0.82 0.82 0 1 0 -1.6 0M76.9 209.6a0.82 0.82 0 1 0 1.6 0a0.82 0.82 0 1 0 -1.6 0M79.8 210.0a0.82 0.82 0 1 0 1.6 0a0.82 0.82 0 1 0 -1.6 0M81.5 210.0a0.82 0.82 0 1 0 1.6 0a0.82 0.82 0 1 0 -1.6 0M84.3 210.0a0.82 0.82 0 1 0 1.6 0a0.82 0.82 0 1 0 -1.6 0M86.5 209.5a0.82 0.82 0 1 0 1.6 0a0.82 0.82 0 1 0 -1.6 0M88.2 209.5a0.82 0.82 0 1 0 1.6 0a0.82 0.82 0 1 0 -1.6 0M91.0 210.1a0.82 0.82 0 1 0 1.6 0a0.82 0.82 0 1 0 -1.6 0M95.8 210.1a0.82 0.82 0 1 0 1.6 0a0.82 0.82 0 1 0 -1.6 0M99.7 209.8a0.82 0.82 0 1 0 1.6 0a0.82 0.82 0 1 0 -1.6 0M102.8 210.4a0.82 0.82 0 1 0 1.6 0a0.82 0.82 0 1 0 -1.6 0M104.3 209.5a0.82 0.82 0 1 0 1.6 0a0.82 0.82 0 1 0 -1.6 0M107.3 209.9a0.82 0.82 0 1 0 1.6 0a0.82 0.82 0 1 0 -1.6 0M109.1 209.5a0.82 0.82 0 1 0 1.6 0a0.82 0.82 0 1 0 -1.6 0M114.2 209.6a0.82 0.82 0 1 0 1.6 0a0.82 0.82 0 1 0 -1.6 0M116.4 210.1a0.82 0.82 0 1 0 1.6 0a0.82 0.82 0 1 0 -1.6 0M118.7 209.6a0.82 0.82 0 1 0 1.6 0a0.82 0.82 0 1 0 -1.6 0M120.4 209.6a0.82 0.82 0 1 0 1.6 0a0.82 0.82 0 1 0 -1.6 0M122.8 209.6a0.82 0.82 0 1 0 1.6 0a0.82 0.82 0 1 0 -1.6 0M124.9 209.8a0.82 0.82 0 1 0 1.6 0a0.82 0.82 0 1 0 -1.6 0M127.5 210.3a0.82 0.82 0 1 0 1.6 0a0.82 0.82 0 1 0 -1.6 0M129.7 210.1a0.82 0.82 0 1 0 1.6 0a0.82 0.82 0 1 0 -1.6 0M132.1 209.6a0.82 0.82 0 1 0 1.6 0a0.82 0.82 0 1 0 -1.6 0M134.3 209.9a0.82 0.82 0 1 0 1.6 0a0.82 0.82 0 1 0 -1.6 0M138.9 210.0a0.82 0.82 0 1 0 1.6 0a0.82 0.82 0 1 0 -1.6 0M141.7 210.2a0.82 0.82 0 1 0 1.6 0a0.82 0.82 0 1 0 -1.6 0M144.2 210.0a0.82 0.82 0 1 0 1.6 0a0.82 0.82 0 1 0 -1.6 0M145.7 209.6a0.82 0.82 0 1 0 1.6 0a0.82 0.82 0 1 0 -1.6 0M148.5 210.3a0.82 0.82 0 1 0 1.6 0a0.82 0.82 0 1 0 -1.6 0M150.6 209.7a0.82 0.82 0 1 0 1.6 0a0.82 0.82 0 1 0 -1.6 0M153.2 210.1a0.82 0.82 0 1 0 1.6 0a0.82 0.82 0 1 0 -1.6 0M155.0 210.4a0.82 0.82 0 1 0 1.6 0a0.82 0.82 0 1 0 -1.6 0M157.6 209.7a0.82 0.82 0 1 0 1.6 0a0.82 0.82 0 1 0 -1.6 0M160.2 209.7a0.82 0.82 0 1 0 1.6 0a0.82 0.82 0 1 0 -1.6 0M164.4 209.9a0.82 0.82 0 1 0 1.6 0a0.82 0.82 0 1 0 -1.6 0M166.8 209.7a0.82 0.82 0 1 0 1.6 0a0.82 0.82 0 1 0 -1.6 0M168.7 210.0a0.82 0.82 0 1 0 1.6 0a0.82 0.82 0 1 0 -1.6 0M170.9 209.9a0.82 0.82 0 1 0 1.6 0a0.82 0.82 0 1 0 -1.6 0M174.0 210.1a0.82 0.82 0 1 0 1.6 0a0.82 0.82 0 1 0 -1.6 0M176.0 210.3a0.82 0.82 0 1 0 1.6 0a0.82 0.82 0 1 0 -1.6 0M178.3 210.2a0.82 0.82 0 1 0 1.6 0a0.82 0.82 0 1 0 -1.6 0M180.2 210.3a0.82 0.82 0 1 0 1.6 0a0.82 0.82 0 1 0 -1.6 0M183.3 209.9a0.82 0.82 0 1 0 1.6 0a0.82 0.82 0 1 0 -1.6 0M185.0 210.0a0.82 0.82 0 1 0 1.6 0a0.82 0.82 0 1 0 -1.6 0M187.3 210.3a0.82 0.82 0 1 0 1.6 0a0.82 0.82 0 1 0 -1.6 0M190.2 210.2a0.82 0.82 0 1 0 1.6 0a0.82 0.82 0 1 0 -1.6 0M192.1 210.1a0.82 0.82 0 1 0 1.6 0a0.82 0.82 0 1 0 -1.6 0M194.2 210.3a0.82 0.82 0 1 0 1.6 0a0.82 0.82 0 1 0 -1.6 0M196.8 209.7a0.82 0.82 0 1 0 1.6 0a0.82 0.82 0 1 0 -1.6 0M199.4 209.6a0.82 0.82 0 1 0 1.6 0a0.82 0.82 0 1 0 -1.6 0M201.2 209.6a0.82 0.82 0 1 0 1.6 0a0.82 0.82 0 1 0 -1.6 0M203.6 209.6a0.82 0.82 0 1 0 1.6 0a0.82 0.82 0 1 0 -1.6 0M205.7 209.6a0.82 0.82 0 1 0 1.6 0a0.82 0.82 0 1 0 -1.6 0M210.7 209.6a0.82 0.82 0 1 0 1.6 0a0.82 0.82 0 1 0 -1.6 0M212.6 209.7a0.82 0.82 0 1 0 1.6 0a0.82 0.82 0 1 0 -1.6 0M217.2 210.1a0.82 0.82 0 1 0 1.6 0a0.82 0.82 0 1 0 -1.6 0M221.8 209.9a0.82 0.82 0 1 0 1.6 0a0.82 0.82 0 1 0 -1.6 0M25.1 211.7a0.82 0.82 0 1 0 1.6 0a0.82 0.82 0 1 0 -1.6 0M29.8 211.6a0.82 0.82 0 1 0 1.6 0a0.82 0.82 0 1 0 -1.6 0M32.1 211.9a0.82 0.82 0 1 0 1.6 0a0.82 0.82 0 1 0 -1.6 0M34.1 211.9a0.82 0.82 0 1 0 1.6 0a0.82 0.82 0 1 0 -1.6 0M36.9 211.8a0.82 0.82 0 1 0 1.6 0a0.82 0.82 0 1 0 -1.6 0M38.7 211.9a0.82 0.82 0 1 0 1.6 0a0.82 0.82 0 1 0 -1.6 0M41.3 212.1a0.82 0.82 0 1 0 1.6 0a0.82 0.82 0 1 0 -1.6 0M43.8 211.9a0.82 0.82 0 1 0 1.6 0a0.82 0.82 0 1 0 -1.6 0M46.5 212.3a0.82 0.82 0 1 0 1.6 0a0.82 0.82 0 1 0 -1.6 0M48.5 211.8a0.82 0.82 0 1 0 1.6 0a0.82 0.82 0 1 0 -1.6 0M50.8 212.2a0.82 0.82 0 1 0 1.6 0a0.82 0.82 0 1 0 -1.6 0M52.6 212.3a0.82 0.82 0 1 0 1.6 0a0.82 0.82 0 1 0 -1.6 0M55.3 212.1a0.82 0.82 0 1 0 1.6 0a0.82 0.82 0 1 0 -1.6 0M57.9 212.2a0.82 0.82 0 1 0 1.6 0a0.82 0.82 0 1 0 -1.6 0M59.9 212.1a0.82 0.82 0 1 0 1.6 0a0.82 0.82 0 1 0 -1.6 0M61.9 212.3a0.82 0.82 0 1 0 1.6 0a0.82 0.82 0 1 0 -1.6 0M64.2 212.0a0.82 0.82 0 1 0 1.6 0a0.82 0.82 0 1 0 -1.6 0M66.4 211.7a0.82 0.82 0 1 0 1.6 0a0.82 0.82 0 1 0 -1.6 0M68.9 212.1a0.82 0.82 0 1 0 1.6 0a0.82 0.82 0 1 0 -1.6 0M71.1 212.2a0.82 0.82 0 1 0 1.6 0a0.82 0.82 0 1 0 -1.6 0M74.0 211.9a0.82 0.82 0 1 0 1.6 0a0.82 0.82 0 1 0 -1.6 0M76.3 211.5a0.82 0.82 0 1 0 1.6 0a0.82 0.82 0 1 0 -1.6 0M78.6 212.1a0.82 0.82 0 1 0 1.6 0a0.82 0.82 0 1 0 -1.6 0M80.1 211.9a0.82 0.82 0 1 0 1.6 0a0.82 0.82 0 1 0 -1.6 0M82.5 211.7a0.82 0.82 0 1 0 1.6 0a0.82 0.82 0 1 0 -1.6 0M84.8 212.3a0.82 0.82 0 1 0 1.6 0a0.82 0.82 0 1 0 -1.6 0M89.3 212.3a0.82 0.82 0 1 0 1.6 0a0.82 0.82 0 1 0 -1.6 0M91.7 211.8a0.82 0.82 0 1 0 1.6 0a0.82 0.82 0 1 0 -1.6 0M94.6 211.5a0.82 0.82 0 1 0 1.6 0a0.82 0.82 0 1 0 -1.6 0M97.0 212.1a0.82 0.82 0 1 0 1.6 0a0.82 0.82 0 1 0 -1.6 0M98.6 211.9a0.82 0.82 0 1 0 1.6 0a0.82 0.82 0 1 0 -1.6 0M101.2 211.8a0.82 0.82 0 1 0 1.6 0a0.82 0.82 0 1 0 -1.6 0M103.2 211.5a0.82 0.82 0 1 0 1.6 0a0.82 0.82 0 1 0 -1.6 0M106.1 211.6a0.82 0.82 0 1 0 1.6 0a0.82 0.82 0 1 0 -1.6 0M107.9 211.7a0.82 0.82 0 1 0 1.6 0a0.82 0.82 0 1 0 -1.6 0M110.6 212.2a0.82 0.82 0 1 0 1.6 0a0.82 0.82 0 1 0 -1.6 0M112.7 212.0a0.82 0.82 0 1 0 1.6 0a0.82 0.82 0 1 0 -1.6 0M115.4 211.9a0.82 0.82 0 1 0 1.6 0a0.82 0.82 0 1 0 -1.6 0M117.3 211.5a0.82 0.82 0 1 0 1.6 0a0.82 0.82 0 1 0 -1.6 0M120.0 212.3a0.82 0.82 0 1 0 1.6 0a0.82 0.82 0 1 0 -1.6 0M121.5 211.7a0.82 0.82 0 1 0 1.6 0a0.82 0.82 0 1 0 -1.6 0M123.8 212.0a0.82 0.82 0 1 0 1.6 0a0.82 0.82 0 1 0 -1.6 0M126.9 212.3a0.82 0.82 0 1 0 1.6 0a0.82 0.82 0 1 0 -1.6 0M128.8 212.1a0.82 0.82 0 1 0 1.6 0a0.82 0.82 0 1 0 -1.6 0M131.2 212.0a0.82 0.82 0 1 0 1.6 0a0.82 0.82 0 1 0 -1.6 0M133.4 211.9a0.82 0.82 0 1 0 1.6 0a0.82 0.82 0 1 0 -1.6 0M136.1 211.6a0.82 0.82 0 1 0 1.6 0a0.82 0.82 0 1 0 -1.6 0M138.2 211.8a0.82 0.82 0 1 0 1.6 0a0.82 0.82 0 1 0 -1.6 0M140.4 212.3a0.82 0.82 0 1 0 1.6 0a0.82 0.82 0 1 0 -1.6 0M142.9 211.6a0.82 0.82 0 1 0 1.6 0a0.82 0.82 0 1 0 -1.6 0M145.1 211.9a0.82 0.82 0 1 0 1.6 0a0.82 0.82 0 1 0 -1.6 0M147.3 211.7a0.82 0.82 0 1 0 1.6 0a0.82 0.82 0 1 0 -1.6 0M149.3 211.8a0.82 0.82 0 1 0 1.6 0a0.82 0.82 0 1 0 -1.6 0M152.3 212.1a0.82 0.82 0 1 0 1.6 0a0.82 0.82 0 1 0 -1.6 0M156.5 212.3a0.82 0.82 0 1 0 1.6 0a0.82 0.82 0 1 0 -1.6 0M158.8 211.7a0.82 0.82 0 1 0 1.6 0a0.82 0.82 0 1 0 -1.6 0M160.9 212.2a0.82 0.82 0 1 0 1.6 0a0.82 0.82 0 1 0 -1.6 0M163.2 211.7a0.82 0.82 0 1 0 1.6 0a0.82 0.82 0 1 0 -1.6 0M175.0 211.6a0.82 0.82 0 1 0 1.6 0a0.82 0.82 0 1 0 -1.6 0M183.9 212.1a0.82 0.82 0 1 0 1.6 0a0.82 0.82 0 1 0 -1.6 0M24.1 213.9a0.82 0.82 0 1 0 1.6 0a0.82 0.82 0 1 0 -1.6 0M26.8 213.7a0.82 0.82 0 1 0 1.6 0a0.82 0.82 0 1 0 -1.6 0M29.0 214.1a0.82 0.82 0 1 0 1.6 0a0.82 0.82 0 1 0 -1.6 0M30.7 213.9a0.82 0.82 0 1 0 1.6 0a0.82 0.82 0 1 0 -1.6 0M35.7 213.8a0.82 0.82 0 1 0 1.6 0a0.82 0.82 0 1 0 -1.6 0M38.4 213.6a0.82 0.82 0 1 0 1.6 0a0.82 0.82 0 1 0 -1.6 0M39.9 214.0a0.82 0.82 0 1 0 1.6 0a0.82 0.82 0 1 0 -1.6 0M43.0 213.6a0.82 0.82 0 1 0 1.6 0a0.82 0.82 0 1 0 -1.6 0M44.5 213.7a0.82 0.82 0 1 0 1.6 0a0.82 0.82 0 1 0 -1.6 0M49.4 214.0a0.82 0.82 0 1 0 1.6 0a0.82 0.82 0 1 0 -1.6 0M51.4 214.3a0.82 0.82 0 1 0 1.6 0a0.82 0.82 0 1 0 -1.6 0M53.8 213.9a0.82 0.82 0 1 0 1.6 0a0.82 0.82 0 1 0 -1.6 0M56.0 214.1a0.82 0.82 0 1 0 1.6 0a0.82 0.82 0 1 0 -1.6 0M58.7 213.6a0.82 0.82 0 1 0 1.6 0a0.82 0.82 0 1 0 -1.6 0M60.9 213.6a0.82 0.82 0 1 0 1.6 0a0.82 0.82 0 1 0 -1.6 0M62.9 214.2a0.82 0.82 0 1 0 1.6 0a0.82 0.82 0 1 0 -1.6 0M66.0 214.2a0.82 0.82 0 1 0 1.6 0a0.82 0.82 0 1 0 -1.6 0M67.6 213.9a0.82 0.82 0 1 0 1.6 0a0.82 0.82 0 1 0 -1.6 0M70.2 214.2a0.82 0.82 0 1 0 1.6 0a0.82 0.82 0 1 0 -1.6 0M72.1 214.1a0.82 0.82 0 1 0 1.6 0a0.82 0.82 0 1 0 -1.6 0M75.1 213.6a0.82 0.82 0 1 0 1.6 0a0.82 0.82 0 1 0 -1.6 0M79.5 214.3a0.82 0.82 0 1 0 1.6 0a0.82 0.82 0 1 0 -1.6 0M82.0 213.7a0.82 0.82 0 1 0 1.6 0a0.82 0.82 0 1 0 -1.6 0M83.7 214.2a0.82 0.82 0 1 0 1.6 0a0.82 0.82 0 1 0 -1.6 0M86.5 214.1a0.82 0.82 0 1 0 1.6 0a0.82 0.82 0 1 0 -1.6 0M88.2 213.5a0.82 0.82 0 1 0 1.6 0a0.82 0.82 0 1 0 -1.6 0M91.1 214.1a0.82 0.82 0 1 0 1.6 0a0.82 0.82 0 1 0 -1.6 0M92.9 213.8a0.82 0.82 0 1 0 1.6 0a0.82 0.82 0 1 0 -1.6 0M95.7 213.7a0.82 0.82 0 1 0 1.6 0a0.82 0.82 0 1 0 -1.6 0M97.8 213.6a0.82 0.82 0 1 0 1.6 0a0.82 0.82 0 1 0 -1.6 0M99.7 213.7a0.82 0.82 0 1 0 1.6 0a0.82 0.82 0 1 0 -1.6 0M102.8 213.8a0.82 0.82 0 1 0 1.6 0a0.82 0.82 0 1 0 -1.6 0M104.6 214.2a0.82 0.82 0 1 0 1.6 0a0.82 0.82 0 1 0 -1.6 0M106.5 213.9a0.82 0.82 0 1 0 1.6 0a0.82 0.82 0 1 0 -1.6 0M109.4 214.3a0.82 0.82 0 1 0 1.6 0a0.82 0.82 0 1 0 -1.6 0M111.8 213.7a0.82 0.82 0 1 0 1.6 0a0.82 0.82 0 1 0 -1.6 0M114.0 213.7a0.82 0.82 0 1 0 1.6 0a0.82 0.82 0 1 0 -1.6 0M115.9 214.1a0.82 0.82 0 1 0 1.6 0a0.82 0.82 0 1 0 -1.6 0M123.1 213.9a0.82 0.82 0 1 0 1.6 0a0.82 0.82 0 1 0 -1.6 0M125.1 213.9a0.82 0.82 0 1 0 1.6 0a0.82 0.82 0 1 0 -1.6 0M25.2 215.7a0.82 0.82 0 1 0 1.6 0a0.82 0.82 0 1 0 -1.6 0M27.7 215.6a0.82 0.82 0 1 0 1.6 0a0.82 0.82 0 1 0 -1.6 0M30.4 215.7a0.82 0.82 0 1 0 1.6 0a0.82 0.82 0 1 0 -1.6 0M34.7 216.0a0.82 0.82 0 1 0 1.6 0a0.82 0.82 0 1 0 -1.6 0M36.9 215.9a0.82 0.82 0 1 0 1.6 0a0.82 0.82 0 1 0 -1.6 0M39.0 216.0a0.82 0.82 0 1 0 1.6 0a0.82 0.82 0 1 0 -1.6 0M43.3 216.3a0.82 0.82 0 1 0 1.6 0a0.82 0.82 0 1 0 -1.6 0M48.5 216.2a0.82 0.82 0 1 0 1.6 0a0.82 0.82 0 1 0 -1.6 0M50.7 216.2a0.82 0.82 0 1 0 1.6 0a0.82 0.82 0 1 0 -1.6 0M52.6 215.5a0.82 0.82 0 1 0 1.6 0a0.82 0.82 0 1 0 -1.6 0M55.2 215.9a0.82 0.82 0 1 0 1.6 0a0.82 0.82 0 1 0 -1.6 0M57.4 215.9a0.82 0.82 0 1 0 1.6 0a0.82 0.82 0 1 0 -1.6 0M59.4 215.9a0.82 0.82 0 1 0 1.6 0a0.82 0.82 0 1 0 -1.6 0M62.0 215.6a0.82 0.82 0 1 0 1.6 0a0.82 0.82 0 1 0 -1.6 0M64.0 215.8a0.82 0.82 0 1 0 1.6 0a0.82 0.82 0 1 0 -1.6 0M66.8 216.0a0.82 0.82 0 1 0 1.6 0a0.82 0.82 0 1 0 -1.6 0M68.7 215.6a0.82 0.82 0 1 0 1.6 0a0.82 0.82 0 1 0 -1.6 0M71.4 216.1a0.82 0.82 0 1 0 1.6 0a0.82 0.82 0 1 0 -1.6 0M73.7 215.5a0.82 0.82 0 1 0 1.6 0a0.82 0.82 0 1 0 -1.6 0M75.8 216.0a0.82 0.82 0 1 0 1.6 0a0.82 0.82 0 1 0 -1.6 0M78.5 216.2a0.82 0.82 0 1 0 1.6 0a0.82 0.82 0 1 0 -1.6 0M80.4 216.2a0.82 0.82 0 1 0 1.6 0a0.82 0.82 0 1 0 -1.6 0M83.2 215.6a0.82 0.82 0 1 0 1.6 0a0.82 0.82 0 1 0 -1.6 0M85.5 215.9a0.82 0.82 0 1 0 1.6 0a0.82 0.82 0 1 0 -1.6 0M87.3 215.6a0.82 0.82 0 1 0 1.6 0a0.82 0.82 0 1 0 -1.6 0M89.9 216.2a0.82 0.82 0 1 0 1.6 0a0.82 0.82 0 1 0 -1.6 0M94.3 216.0a0.82 0.82 0 1 0 1.6 0a0.82 0.82 0 1 0 -1.6 0M99.1 215.9a0.82 0.82 0 1 0 1.6 0a0.82 0.82 0 1 0 -1.6 0M28.5 218.0a0.82 0.82 0 1 0 1.6 0a0.82 0.82 0 1 0 -1.6 0M31.0 217.5a0.82 0.82 0 1 0 1.6 0a0.82 0.82 0 1 0 -1.6 0M33.6 218.1a0.82 0.82 0 1 0 1.6 0a0.82 0.82 0 1 0 -1.6 0M37.7 217.7a0.82 0.82 0 1 0 1.6 0a0.82 0.82 0 1 0 -1.6 0M40.3 218.2a0.82 0.82 0 1 0 1.6 0a0.82 0.82 0 1 0 -1.6 0M44.4 218.2a0.82 0.82 0 1 0 1.6 0a0.82 0.82 0 1 0 -1.6 0M51.8 217.5a0.82 0.82 0 1 0 1.6 0a0.82 0.82 0 1 0 -1.6 0" fill="#d26c5a" opacity="1.0"/><path d="M36.4 241.9a0.82 0.82 0 1 0 1.6 0a0.82 0.82 0 1 0 -1.6 0M77.9 241.1a0.82 0.82 0 1 0 1.6 0a0.82 0.82 0 1 0 -1.6 0M82.4 241.7a0.82 0.82 0 1 0 1.6 0a0.82 0.82 0 1 0 -1.6 0M96.1 241.3a0.82 0.82 0 1 0 1.6 0a0.82 0.82 0 1 0 -1.6 0M109.8 241.5a0.82 0.82 0 1 0 1.6 0a0.82 0.82 0 1 0 -1.6 0M112.1 241.7a0.82 0.82 0 1 0 1.6 0a0.82 0.82 0 1 0 -1.6 0M114.2 241.7a0.82 0.82 0 1 0 1.6 0a0.82 0.82 0 1 0 -1.6 0M116.9 241.9a0.82 0.82 0 1 0 1.6 0a0.82 0.82 0 1 0 -1.6 0M121.1 241.3a0.82 0.82 0 1 0 1.6 0a0.82 0.82 0 1 0 -1.6 0M130.4 241.4a0.82 0.82 0 1 0 1.6 0a0.82 0.82 0 1 0 -1.6 0M133.3 241.7a0.82 0.82 0 1 0 1.6 0a0.82 0.82 0 1 0 -1.6 0M139.4 241.5a0.82 0.82 0 1 0 1.6 0a0.82 0.82 0 1 0 -1.6 0M144.2 241.2a0.82 0.82 0 1 0 1.6 0a0.82 0.82 0 1 0 -1.6 0M149.5 241.9a0.82 0.82 0 1 0 1.6 0a0.82 0.82 0 1 0 -1.6 0M151.0 241.3a0.82 0.82 0 1 0 1.6 0a0.82 0.82 0 1 0 -1.6 0M155.8 241.9a0.82 0.82 0 1 0 1.6 0a0.82 0.82 0 1 0 -1.6 0M158.1 241.3a0.82 0.82 0 1 0 1.6 0a0.82 0.82 0 1 0 -1.6 0M165.5 241.4a0.82 0.82 0 1 0 1.6 0a0.82 0.82 0 1 0 -1.6 0M167.3 241.3a0.82 0.82 0 1 0 1.6 0a0.82 0.82 0 1 0 -1.6 0M174.7 241.8a0.82 0.82 0 1 0 1.6 0a0.82 0.82 0 1 0 -1.6 0M176.8 241.2a0.82 0.82 0 1 0 1.6 0a0.82 0.82 0 1 0 -1.6 0M192.7 241.1a0.82 0.82 0 1 0 1.6 0a0.82 0.82 0 1 0 -1.6 0M194.8 241.9a0.82 0.82 0 1 0 1.6 0a0.82 0.82 0 1 0 -1.6 0M197.1 241.9a0.82 0.82 0 1 0 1.6 0a0.82 0.82 0 1 0 -1.6 0M208.5 241.7a0.82 0.82 0 1 0 1.6 0a0.82 0.82 0 1 0 -1.6 0M211.4 241.1a0.82 0.82 0 1 0 1.6 0a0.82 0.82 0 1 0 -1.6 0M217.9 241.8a0.82 0.82 0 1 0 1.6 0a0.82 0.82 0 1 0 -1.6 0M222.7 241.4a0.82 0.82 0 1 0 1.6 0a0.82 0.82 0 1 0 -1.6 0M28.5 243.3a0.82 0.82 0 1 0 1.6 0a0.82 0.82 0 1 0 -1.6 0M30.2 243.5a0.82 0.82 0 1 0 1.6 0a0.82 0.82 0 1 0 -1.6 0M32.8 243.4a0.82 0.82 0 1 0 1.6 0a0.82 0.82 0 1 0 -1.6 0M34.8 243.8a0.82 0.82 0 1 0 1.6 0a0.82 0.82 0 1 0 -1.6 0M37.7 243.4a0.82 0.82 0 1 0 1.6 0a0.82 0.82 0 1 0 -1.6 0M39.5 243.9a0.82 0.82 0 1 0 1.6 0a0.82 0.82 0 1 0 -1.6 0M41.9 243.8a0.82 0.82 0 1 0 1.6 0a0.82 0.82 0 1 0 -1.6 0M44.2 243.2a0.82 0.82 0 1 0 1.6 0a0.82 0.82 0 1 0 -1.6 0M47.0 243.6a0.82 0.82 0 1 0 1.6 0a0.82 0.82 0 1 0 -1.6 0M48.8 243.7a0.82 0.82 0 1 0 1.6 0a0.82 0.82 0 1 0 -1.6 0M51.8 243.5a0.82 0.82 0 1 0 1.6 0a0.82 0.82 0 1 0 -1.6 0M53.6 243.4a0.82 0.82 0 1 0 1.6 0a0.82 0.82 0 1 0 -1.6 0M57.8 243.7a0.82 0.82 0 1 0 1.6 0a0.82 0.82 0 1 0 -1.6 0M60.9 243.3a0.82 0.82 0 1 0 1.6 0a0.82 0.82 0 1 0 -1.6 0M62.5 243.9a0.82 0.82 0 1 0 1.6 0a0.82 0.82 0 1 0 -1.6 0M65.2 243.7a0.82 0.82 0 1 0 1.6 0a0.82 0.82 0 1 0 -1.6 0M67.3 243.3a0.82 0.82 0 1 0 1.6 0a0.82 0.82 0 1 0 -1.6 0M69.3 243.5a0.82 0.82 0 1 0 1.6 0a0.82 0.82 0 1 0 -1.6 0M72.4 243.3a0.82 0.82 0 1 0 1.6 0a0.82 0.82 0 1 0 -1.6 0M76.9 243.4a0.82 0.82 0 1 0 1.6 0a0.82 0.82 0 1 0 -1.6 0M78.9 243.1a0.82 0.82 0 1 0 1.6 0a0.82 0.82 0 1 0 -1.6 0M81.0 243.2a0.82 0.82 0 1 0 1.6 0a0.82 0.82 0 1 0 -1.6 0M83.7 243.2a0.82 0.82 0 1 0 1.6 0a0.82 0.82 0 1 0 -1.6 0M86.0 243.2a0.82 0.82 0 1 0 1.6 0a0.82 0.82 0 1 0 -1.6 0M90.0 243.2a0.82 0.82 0 1 0 1.6 0a0.82 0.82 0 1 0 -1.6 0M97.2 243.2a0.82 0.82 0 1 0 1.6 0a0.82 0.82 0 1 0 -1.6 0M99.3 243.5a0.82 0.82 0 1 0 1.6 0a0.82 0.82 0 1 0 -1.6 0M102.1 243.7a0.82 0.82 0 1 0 1.6 0a0.82 0.82 0 1 0 -1.6 0M104.6 243.1a0.82 0.82 0 1 0 1.6 0a0.82 0.82 0 1 0 -1.6 0M106.6 243.1a0.82 0.82 0 1 0 1.6 0a0.82 0.82 0 1 0 -1.6 0M108.4 243.7a0.82 0.82 0 1 0 1.6 0a0.82 0.82 0 1 0 -1.6 0M111.4 243.6a0.82 0.82 0 1 0 1.6 0a0.82 0.82 0 1 0 -1.6 0M113.3 243.1a0.82 0.82 0 1 0 1.6 0a0.82 0.82 0 1 0 -1.6 0M115.6 243.1a0.82 0.82 0 1 0 1.6 0a0.82 0.82 0 1 0 -1.6 0M117.9 243.9a0.82 0.82 0 1 0 1.6 0a0.82 0.82 0 1 0 -1.6 0M122.9 243.4a0.82 0.82 0 1 0 1.6 0a0.82 0.82 0 1 0 -1.6 0M125.3 243.4a0.82 0.82 0 1 0 1.6 0a0.82 0.82 0 1 0 -1.6 0M126.8 243.9a0.82 0.82 0 1 0 1.6 0a0.82 0.82 0 1 0 -1.6 0M129.4 243.2a0.82 0.82 0 1 0 1.6 0a0.82 0.82 0 1 0 -1.6 0M132.2 243.2a0.82 0.82 0 1 0 1.6 0a0.82 0.82 0 1 0 -1.6 0M133.9 243.9a0.82 0.82 0 1 0 1.6 0a0.82 0.82 0 1 0 -1.6 0M136.2 243.4a0.82 0.82 0 1 0 1.6 0a0.82 0.82 0 1 0 -1.6 0M141.4 243.5a0.82 0.82 0 1 0 1.6 0a0.82 0.82 0 1 0 -1.6 0M143.2 243.7a0.82 0.82 0 1 0 1.6 0a0.82 0.82 0 1 0 -1.6 0M146.0 243.5a0.82 0.82 0 1 0 1.6 0a0.82 0.82 0 1 0 -1.6 0M148.2 243.1a0.82 0.82 0 1 0 1.6 0a0.82 0.82 0 1 0 -1.6 0M149.9 243.7a0.82 0.82 0 1 0 1.6 0a0.82 0.82 0 1 0 -1.6 0M152.7 243.5a0.82 0.82 0 1 0 1.6 0a0.82 0.82 0 1 0 -1.6 0M154.8 243.4a0.82 0.82 0 1 0 1.6 0a0.82 0.82 0 1 0 -1.6 0M156.9 243.3a0.82 0.82 0 1 0 1.6 0a0.82 0.82 0 1 0 -1.6 0M159.4 243.8a0.82 0.82 0 1 0 1.6 0a0.82 0.82 0 1 0 -1.6 0M164.4 243.1a0.82 0.82 0 1 0 1.6 0a0.82 0.82 0 1 0 -1.6 0M166.4 243.2a0.82 0.82 0 1 0 1.6 0a0.82 0.82 0 1 0 -1.6 0M170.8 243.2a0.82 0.82 0 1 0 1.6 0a0.82 0.82 0 1 0 -1.6 0M173.1 243.5a0.82 0.82 0 1 0 1.6 0a0.82 0.82 0 1 0 -1.6 0M175.1 243.8a0.82 0.82 0 1 0 1.6 0a0.82 0.82 0 1 0 -1.6 0M178.0 243.8a0.82 0.82 0 1 0 1.6 0a0.82 0.82 0 1 0 -1.6 0M179.9 243.8a0.82 0.82 0 1 0 1.6 0a0.82 0.82 0 1 0 -1.6 0M182.4 243.7a0.82 0.82 0 1 0 1.6 0a0.82 0.82 0 1 0 -1.6 0M184.9 243.4a0.82 0.82 0 1 0 1.6 0a0.82 0.82 0 1 0 -1.6 0M186.7 243.4a0.82 0.82 0 1 0 1.6 0a0.82 0.82 0 1 0 -1.6 0M189.2 243.3a0.82 0.82 0 1 0 1.6 0a0.82 0.82 0 1 0 -1.6 0M191.4 243.2a0.82 0.82 0 1 0 1.6 0a0.82 0.82 0 1 0 -1.6 0M194.1 243.9a0.82 0.82 0 1 0 1.6 0a0.82 0.82 0 1 0 -1.6 0M196.1 243.7a0.82 0.82 0 1 0 1.6 0a0.82 0.82 0 1 0 -1.6 0M198.3 243.5a0.82 0.82 0 1 0 1.6 0a0.82 0.82 0 1 0 -1.6 0M200.6 243.1a0.82 0.82 0 1 0 1.6 0a0.82 0.82 0 1 0 -1.6 0M202.8 243.5a0.82 0.82 0 1 0 1.6 0a0.82 0.82 0 1 0 -1.6 0M205.1 243.2a0.82 0.82 0 1 0 1.6 0a0.82 0.82 0 1 0 -1.6 0M207.5 243.4a0.82 0.82 0 1 0 1.6 0a0.82 0.82 0 1 0 -1.6 0M209.7 243.1a0.82 0.82 0 1 0 1.6 0a0.82 0.82 0 1 0 -1.6 0M214.3 243.0a0.82 0.82 0 1 0 1.6 0a0.82 0.82 0 1 0 -1.6 0M216.7 243.5a0.82 0.82 0 1 0 1.6 0a0.82 0.82 0 1 0 -1.6 0M219.6 243.4a0.82 0.82 0 1 0 1.6 0a0.82 0.82 0 1 0 -1.6 0M221.9 243.7a0.82 0.82 0 1 0 1.6 0a0.82 0.82 0 1 0 -1.6 0M223.6 243.5a0.82 0.82 0 1 0 1.6 0a0.82 0.82 0 1 0 -1.6 0M228.6 243.6a0.82 0.82 0 1 0 1.6 0a0.82 0.82 0 1 0 -1.6 0M231.1 243.8a0.82 0.82 0 1 0 1.6 0a0.82 0.82 0 1 0 -1.6 0M232.6 243.5a0.82 0.82 0 1 0 1.6 0a0.82 0.82 0 1 0 -1.6 0M235.1 243.5a0.82 0.82 0 1 0 1.6 0a0.82 0.82 0 1 0 -1.6 0M237.3 243.5a0.82 0.82 0 1 0 1.6 0a0.82 0.82 0 1 0 -1.6 0M240.1 243.4a0.82 0.82 0 1 0 1.6 0a0.82 0.82 0 1 0 -1.6 0M242.2 243.5a0.82 0.82 0 1 0 1.6 0a0.82 0.82 0 1 0 -1.6 0M244.4 243.9a0.82 0.82 0 1 0 1.6 0a0.82 0.82 0 1 0 -1.6 0M246.9 243.3a0.82 0.82 0 1 0 1.6 0a0.82 0.82 0 1 0 -1.6 0M248.7 243.8a0.82 0.82 0 1 0 1.6 0a0.82 0.82 0 1 0 -1.6 0M251.2 243.1a0.82 0.82 0 1 0 1.6 0a0.82 0.82 0 1 0 -1.6 0M253.7 243.9a0.82 0.82 0 1 0 1.6 0a0.82 0.82 0 1 0 -1.6 0M256.1 243.5a0.82 0.82 0 1 0 1.6 0a0.82 0.82 0 1 0 -1.6 0M262.7 243.6a0.82 0.82 0 1 0 1.6 0a0.82 0.82 0 1 0 -1.6 0M264.9 243.6a0.82 0.82 0 1 0 1.6 0a0.82 0.82 0 1 0 -1.6 0M267.6 243.1a0.82 0.82 0 1 0 1.6 0a0.82 0.82 0 1 0 -1.6 0M269.6 243.9a0.82 0.82 0 1 0 1.6 0a0.82 0.82 0 1 0 -1.6 0M271.9 243.8a0.82 0.82 0 1 0 1.6 0a0.82 0.82 0 1 0 -1.6 0M274.2 243.3a0.82 0.82 0 1 0 1.6 0a0.82 0.82 0 1 0 -1.6 0M276.4 243.4a0.82 0.82 0 1 0 1.6 0a0.82 0.82 0 1 0 -1.6 0M279.2 243.6a0.82 0.82 0 1 0 1.6 0a0.82 0.82 0 1 0 -1.6 0M281.1 243.1a0.82 0.82 0 1 0 1.6 0a0.82 0.82 0 1 0 -1.6 0M283.9 243.5a0.82 0.82 0 1 0 1.6 0a0.82 0.82 0 1 0 -1.6 0M285.7 243.4a0.82 0.82 0 1 0 1.6 0a0.82 0.82 0 1 0 -1.6 0M287.8 243.4a0.82 0.82 0 1 0 1.6 0a0.82 0.82 0 1 0 -1.6 0M290.9 243.9a0.82 0.82 0 1 0 1.6 0a0.82 0.82 0 1 0 -1.6 0M293.2 243.8a0.82 0.82 0 1 0 1.6 0a0.82 0.82 0 1 0 -1.6 0M295.3 243.2a0.82 0.82 0 1 0 1.6 0a0.82 0.82 0 1 0 -1.6 0M297.1 243.2a0.82 0.82 0 1 0 1.6 0a0.82 0.82 0 1 0 -1.6 0M299.7 243.3a0.82 0.82 0 1 0 1.6 0a0.82 0.82 0 1 0 -1.6 0M302.2 243.4a0.82 0.82 0 1 0 1.6 0a0.82 0.82 0 1 0 -1.6 0M304.5 243.7a0.82 0.82 0 1 0 1.6 0a0.82 0.82 0 1 0 -1.6 0M306.9 243.2a0.82 0.82 0 1 0 1.6 0a0.82 0.82 0 1 0 -1.6 0M310.9 243.4a0.82 0.82 0 1 0 1.6 0a0.82 0.82 0 1 0 -1.6 0M29.3 245.1a0.82 0.82 0 1 0 1.6 0a0.82 0.82 0 1 0 -1.6 0M31.8 245.7a0.82 0.82 0 1 0 1.6 0a0.82 0.82 0 1 0 -1.6 0M34.2 245.3a0.82 0.82 0 1 0 1.6 0a0.82 0.82 0 1 0 -1.6 0M36.0 245.3a0.82 0.82 0 1 0 1.6 0a0.82 0.82 0 1 0 -1.6 0M38.9 245.1a0.82 0.82 0 1 0 1.6 0a0.82 0.82 0 1 0 -1.6 0M40.8 245.5a0.82 0.82 0 1 0 1.6 0a0.82 0.82 0 1 0 -1.6 0M43.1 245.3a0.82 0.82 0 1 0 1.6 0a0.82 0.82 0 1 0 -1.6 0M45.3 245.8a0.82 0.82 0 1 0 1.6 0a0.82 0.82 0 1 0 -1.6 0M47.9 245.5a0.82 0.82 0 1 0 1.6 0a0.82 0.82 0 1 0 -1.6 0M50.4 245.5a0.82 0.82 0 1 0 1.6 0a0.82 0.82 0 1 0 -1.6 0M54.8 245.4a0.82 0.82 0 1 0 1.6 0a0.82 0.82 0 1 0 -1.6 0M56.8 245.8a0.82 0.82 0 1 0 1.6 0a0.82 0.82 0 1 0 -1.6 0M59.4 245.6a0.82 0.82 0 1 0 1.6 0a0.82 0.82 0 1 0 -1.6 0M62.1 245.3a0.82 0.82 0 1 0 1.6 0a0.82 0.82 0 1 0 -1.6 0M64.2 245.8a0.82 0.82 0 1 0 1.6 0a0.82 0.82 0 1 0 -1.6 0M66.1 245.4a0.82 0.82 0 1 0 1.6 0a0.82 0.82 0 1 0 -1.6 0M68.7 245.8a0.82 0.82 0 1 0 1.6 0a0.82 0.82 0 1 0 -1.6 0M71.0 245.8a0.82 0.82 0 1 0 1.6 0a0.82 0.82 0 1 0 -1.6 0M72.7 245.4a0.82 0.82 0 1 0 1.6 0a0.82 0.82 0 1 0 -1.6 0M75.8 245.1a0.82 0.82 0 1 0 1.6 0a0.82 0.82 0 1 0 -1.6 0M77.7 245.1a0.82 0.82 0 1 0 1.6 0a0.82 0.82 0 1 0 -1.6 0M79.8 245.9a0.82 0.82 0 1 0 1.6 0a0.82 0.82 0 1 0 -1.6 0M82.5 245.2a0.82 0.82 0 1 0 1.6 0a0.82 0.82 0 1 0 -1.6 0M84.6 245.6a0.82 0.82 0 1 0 1.6 0a0.82 0.82 0 1 0 -1.6 0M87.3 245.9a0.82 0.82 0 1 0 1.6 0a0.82 0.82 0 1 0 -1.6 0M89.3 245.4a0.82 0.82 0 1 0 1.6 0a0.82 0.82 0 1 0 -1.6 0M91.3 245.4a0.82 0.82 0 1 0 1.6 0a0.82 0.82 0 1 0 -1.6 0M98.7 245.8a0.82 0.82 0 1 0 1.6 0a0.82 0.82 0 1 0 -1.6 0M100.9 245.1a0.82 0.82 0 1 0 1.6 0a0.82 0.82 0 1 0 -1.6 0M103.4 245.3a0.82 0.82 0 1 0 1.6 0a0.82 0.82 0 1 0 -1.6 0M105.3 245.7a0.82 0.82 0 1 0 1.6 0a0.82 0.82 0 1 0 -1.6 0M107.5 245.1a0.82 0.82 0 1 0 1.6 0a0.82 0.82 0 1 0 -1.6 0M109.7 245.2a0.82 0.82 0 1 0 1.6 0a0.82 0.82 0 1 0 -1.6 0M112.6 245.7a0.82 0.82 0 1 0 1.6 0a0.82 0.82 0 1 0 -1.6 0M114.3 245.0a0.82 0.82 0 1 0 1.6 0a0.82 0.82 0 1 0 -1.6 0M117.2 245.1a0.82 0.82 0 1 0 1.6 0a0.82 0.82 0 1 0 -1.6 0M119.6 245.7a0.82 0.82 0 1 0 1.6 0a0.82 0.82 0 1 0 -1.6 0M121.2 245.3a0.82 0.82 0 1 0 1.6 0a0.82 0.82 0 1 0 -1.6 0M123.6 245.6a0.82 0.82 0 1 0 1.6 0a0.82 0.82 0 1 0 -1.6 0M125.7 245.5a0.82 0.82 0 1 0 1.6 0a0.82 0.82 0 1 0 -1.6 0M128.8 245.6a0.82 0.82 0 1 0 1.6 0a0.82 0.82 0 1 0 -1.6 0M130.9 245.8a0.82 0.82 0 1 0 1.6 0a0.82 0.82 0 1 0 -1.6 0M135.7 245.9a0.82 0.82 0 1 0 1.6 0a0.82 0.82 0 1 0 -1.6 0M137.2 245.4a0.82 0.82 0 1 0 1.6 0a0.82 0.82 0 1 0 -1.6 0M139.9 245.1a0.82 0.82 0 1 0 1.6 0a0.82 0.82 0 1 0 -1.6 0M142.3 245.8a0.82 0.82 0 1 0 1.6 0a0.82 0.82 0 1 0 -1.6 0M153.9 245.1a0.82 0.82 0 1 0 1.6 0a0.82 0.82 0 1 0 -1.6 0M156.3 245.1a0.82 0.82 0 1 0 1.6 0a0.82 0.82 0 1 0 -1.6 0M158.0 245.8a0.82 0.82 0 1 0 1.6 0a0.82 0.82 0 1 0 -1.6 0M160.8 245.8a0.82 0.82 0 1 0 1.6 0a0.82 0.82 0 1 0 -1.6 0M162.9 245.1a0.82 0.82 0 1 0 1.6 0a0.82 0.82 0 1 0 -1.6 0M164.7 245.7a0.82 0.82 0 1 0 1.6 0a0.82 0.82 0 1 0 -1.6 0M167.5 245.8a0.82 0.82 0 1 0 1.6 0a0.82 0.82 0 1 0 -1.6 0M169.4 245.3a0.82 0.82 0 1 0 1.6 0a0.82 0.82 0 1 0 -1.6 0M172.4 245.7a0.82 0.82 0 1 0 1.6 0a0.82 0.82 0 1 0 -1.6 0M174.5 245.8a0.82 0.82 0 1 0 1.6 0a0.82 0.82 0 1 0 -1.6 0M177.1 245.5a0.82 0.82 0 1 0 1.6 0a0.82 0.82 0 1 0 -1.6 0M179.2 245.3a0.82 0.82 0 1 0 1.6 0a0.82 0.82 0 1 0 -1.6 0M181.2 245.2a0.82 0.82 0 1 0 1.6 0a0.82 0.82 0 1 0 -1.6 0M183.7 245.2a0.82 0.82 0 1 0 1.6 0a0.82 0.82 0 1 0 -1.6 0M188.6 245.3a0.82 0.82 0 1 0 1.6 0a0.82 0.82 0 1 0 -1.6 0M190.8 245.6a0.82 0.82 0 1 0 1.6 0a0.82 0.82 0 1 0 -1.6 0M192.4 245.0a0.82 0.82 0 1 0 1.6 0a0.82 0.82 0 1 0 -1.6 0M197.4 245.1a0.82 0.82 0 1 0 1.6 0a0.82 0.82 0 1 0 -1.6 0M199.6 245.2a0.82 0.82 0 1 0 1.6 0a0.82 0.82 0 1 0 -1.6 0M202.0 245.7a0.82 0.82 0 1 0 1.6 0a0.82 0.82 0 1 0 -1.6 0M204.3 245.8a0.82 0.82 0 1 0 1.6 0a0.82 0.82 0 1 0 -1.6 0M206.7 245.1a0.82 0.82 0 1 0 1.6 0a0.82 0.82 0 1 0 -1.6 0M209.2 245.3a0.82 0.82 0 1 0 1.6 0a0.82 0.82 0 1 0 -1.6 0M211.2 245.6a0.82 0.82 0 1 0 1.6 0a0.82 0.82 0 1 0 -1.6 0M213.3 245.2a0.82 0.82 0 1 0 1.6 0a0.82 0.82 0 1 0 -1.6 0M217.9 245.4a0.82 0.82 0 1 0 1.6 0a0.82 0.82 0 1 0 -1.6 0M220.5 245.2a0.82 0.82 0 1 0 1.6 0a0.82 0.82 0 1 0 -1.6 0M222.5 245.5a0.82 0.82 0 1 0 1.6 0a0.82 0.82 0 1 0 -1.6 0M225.0 245.2a0.82 0.82 0 1 0 1.6 0a0.82 0.82 0 1 0 -1.6 0M227.7 245.3a0.82 0.82 0 1 0 1.6 0a0.82 0.82 0 1 0 -1.6 0M229.2 245.3a0.82 0.82 0 1 0 1.6 0a0.82 0.82 0 1 0 -1.6 0M231.6 245.2a0.82 0.82 0 1 0 1.6 0a0.82 0.82 0 1 0 -1.6 0M233.9 245.1a0.82 0.82 0 1 0 1.6 0a0.82 0.82 0 1 0 -1.6 0M236.6 245.1a0.82 0.82 0 1 0 1.6 0a0.82 0.82 0 1 0 -1.6 0M238.9 245.7a0.82 0.82 0 1 0 1.6 0a0.82 0.82 0 1 0 -1.6 0M241.2 245.4a0.82 0.82 0 1 0 1.6 0a0.82 0.82 0 1 0 -1.6 0M243.3 245.2a0.82 0.82 0 1 0 1.6 0a0.82 0.82 0 1 0 -1.6 0M245.3 245.3a0.82 0.82 0 1 0 1.6 0a0.82 0.82 0 1 0 -1.6 0M248.3 245.1a0.82 0.82 0 1 0 1.6 0a0.82 0.82 0 1 0 -1.6 0M250.2 245.9a0.82 0.82 0 1 0 1.6 0a0.82 0.82 0 1 0 -1.6 0M252.3 245.7a0.82 0.82 0 1 0 1.6 0a0.82 0.82 0 1 0 -1.6 0M254.6 245.6a0.82 0.82 0 1 0 1.6 0a0.82 0.82 0 1 0 -1.6 0M257.4 245.4a0.82 0.82 0 1 0 1.6 0a0.82 0.82 0 1 0 -1.6 0M259.3 245.6a0.82 0.82 0 1 0 1.6 0a0.82 0.82 0 1 0 -1.6 0M264.5 245.2a0.82 0.82 0 1 0 1.6 0a0.82 0.82 0 1 0 -1.6 0M266.7 245.1a0.82 0.82 0 1 0 1.6 0a0.82 0.82 0 1 0 -1.6 0M268.3 245.2a0.82 0.82 0 1 0 1.6 0a0.82 0.82 0 1 0 -1.6 0M270.6 245.1a0.82 0.82 0 1 0 1.6 0a0.82 0.82 0 1 0 -1.6 0M273.6 245.1a0.82 0.82 0 1 0 1.6 0a0.82 0.82 0 1 0 -1.6 0M275.3 245.5a0.82 0.82 0 1 0 1.6 0a0.82 0.82 0 1 0 -1.6 0M278.1 245.6a0.82 0.82 0 1 0 1.6 0a0.82 0.82 0 1 0 -1.6 0M280.2 245.3a0.82 0.82 0 1 0 1.6 0a0.82 0.82 0 1 0 -1.6 0M282.6 245.7a0.82 0.82 0 1 0 1.6 0a0.82 0.82 0 1 0 -1.6 0M285.0 245.2a0.82 0.82 0 1 0 1.6 0a0.82 0.82 0 1 0 -1.6 0M287.1 245.7a0.82 0.82 0 1 0 1.6 0a0.82 0.82 0 1 0 -1.6 0M288.9 245.4a0.82 0.82 0 1 0 1.6 0a0.82 0.82 0 1 0 -1.6 0M292.0 245.6a0.82 0.82 0 1 0 1.6 0a0.82 0.82 0 1 0 -1.6 0M293.5 245.4a0.82 0.82 0 1 0 1.6 0a0.82 0.82 0 1 0 -1.6 0M298.5 245.8a0.82 0.82 0 1 0 1.6 0a0.82 0.82 0 1 0 -1.6 0M301.2 245.6a0.82 0.82 0 1 0 1.6 0a0.82 0.82 0 1 0 -1.6 0M302.9 245.7a0.82 0.82 0 1 0 1.6 0a0.82 0.82 0 1 0 -1.6 0M305.8 245.8a0.82 0.82 0 1 0 1.6 0a0.82 0.82 0 1 0 -1.6 0M307.7 245.9a0.82 0.82 0 1 0 1.6 0a0.82 0.82 0 1 0 -1.6 0M312.2 245.6a0.82 0.82 0 1 0 1.6 0a0.82 0.82 0 1 0 -1.6 0M317.3 245.8a0.82 0.82 0 1 0 1.6 0a0.82 0.82 0 1 0 -1.6 0M319.5 245.7a0.82 0.82 0 1 0 1.6 0a0.82 0.82 0 1 0 -1.6 0M324.0 245.4a0.82 0.82 0 1 0 1.6 0a0.82 0.82 0 1 0 -1.6 0M325.9 245.5a0.82 0.82 0 1 0 1.6 0a0.82 0.82 0 1 0 -1.6 0M328.6 245.7a0.82 0.82 0 1 0 1.6 0a0.82 0.82 0 1 0 -1.6 0M330.8 245.4a0.82 0.82 0 1 0 1.6 0a0.82 0.82 0 1 0 -1.6 0M333.0 245.8a0.82 0.82 0 1 0 1.6 0a0.82 0.82 0 1 0 -1.6 0M335.8 245.3a0.82 0.82 0 1 0 1.6 0a0.82 0.82 0 1 0 -1.6 0M337.4 245.0a0.82 0.82 0 1 0 1.6 0a0.82 0.82 0 1 0 -1.6 0M340.3 245.8a0.82 0.82 0 1 0 1.6 0a0.82 0.82 0 1 0 -1.6 0M342.7 245.9a0.82 0.82 0 1 0 1.6 0a0.82 0.82 0 1 0 -1.6 0M346.6 245.8a0.82 0.82 0 1 0 1.6 0a0.82 0.82 0 1 0 -1.6 0M354.1 245.8a0.82 0.82 0 1 0 1.6 0a0.82 0.82 0 1 0 -1.6 0M360.4 245.5a0.82 0.82 0 1 0 1.6 0a0.82 0.82 0 1 0 -1.6 0M28.0 247.7a0.82 0.82 0 1 0 1.6 0a0.82 0.82 0 1 0 -1.6 0M32.9 247.3a0.82 0.82 0 1 0 1.6 0a0.82 0.82 0 1 0 -1.6 0M35.4 247.5a0.82 0.82 0 1 0 1.6 0a0.82 0.82 0 1 0 -1.6 0M39.6 247.3a0.82 0.82 0 1 0 1.6 0a0.82 0.82 0 1 0 -1.6 0M42.3 247.7a0.82 0.82 0 1 0 1.6 0a0.82 0.82 0 1 0 -1.6 0M44.5 247.5a0.82 0.82 0 1 0 1.6 0a0.82 0.82 0 1 0 -1.6 0M46.7 247.4a0.82 0.82 0 1 0 1.6 0a0.82 0.82 0 1 0 -1.6 0M51.4 247.5a0.82 0.82 0 1 0 1.6 0a0.82 0.82 0 1 0 -1.6 0M54.1 247.1a0.82 0.82 0 1 0 1.6 0a0.82 0.82 0 1 0 -1.6 0M55.8 247.9a0.82 0.82 0 1 0 1.6 0a0.82 0.82 0 1 0 -1.6 0M58.4 247.5a0.82 0.82 0 1 0 1.6 0a0.82 0.82 0 1 0 -1.6 0M60.7 247.0a0.82 0.82 0 1 0 1.6 0a0.82 0.82 0 1 0 -1.6 0M62.7 247.1a0.82 0.82 0 1 0 1.6 0a0.82 0.82 0 1 0 -1.6 0M65.3 247.8a0.82 0.82 0 1 0 1.6 0a0.82 0.82 0 1 0 -1.6 0M67.6 247.3a0.82 0.82 0 1 0 1.6 0a0.82 0.82 0 1 0 -1.6 0M69.5 247.6a0.82 0.82 0 1 0 1.6 0a0.82 0.82 0 1 0 -1.6 0M72.2 247.7a0.82 0.82 0 1 0 1.6 0a0.82 0.82 0 1 0 -1.6 0M74.2 247.5a0.82 0.82 0 1 0 1.6 0a0.82 0.82 0 1 0 -1.6 0M79.3 247.8a0.82 0.82 0 1 0 1.6 0a0.82 0.82 0 1 0 -1.6 0M81.5 247.6a0.82 0.82 0 1 0 1.6 0a0.82 0.82 0 1 0 -1.6 0M85.6 247.9a0.82 0.82 0 1 0 1.6 0a0.82 0.82 0 1 0 -1.6 0M88.4 247.7a0.82 0.82 0 1 0 1.6 0a0.82 0.82 0 1 0 -1.6 0M90.5 247.1a0.82 0.82 0 1 0 1.6 0a0.82 0.82 0 1 0 -1.6 0M92.7 247.6a0.82 0.82 0 1 0 1.6 0a0.82 0.82 0 1 0 -1.6 0M95.0 247.6a0.82 0.82 0 1 0 1.6 0a0.82 0.82 0 1 0 -1.6 0M97.5 247.1a0.82 0.82 0 1 0 1.6 0a0.82 0.82 0 1 0 -1.6 0M103.9 247.1a0.82 0.82 0 1 0 1.6 0a0.82 0.82 0 1 0 -1.6 0M106.9 247.4a0.82 0.82 0 1 0 1.6 0a0.82 0.82 0 1 0 -1.6 0M109.3 247.0a0.82 0.82 0 1 0 1.6 0a0.82 0.82 0 1 0 -1.6 0M110.9 247.5a0.82 0.82 0 1 0 1.6 0a0.82 0.82 0 1 0 -1.6 0M113.1 247.8a0.82 0.82 0 1 0 1.6 0a0.82 0.82 0 1 0 -1.6 0M115.8 247.2a0.82 0.82 0 1 0 1.6 0a0.82 0.82 0 1 0 -1.6 0M118.4 247.4a0.82 0.82 0 1 0 1.6 0a0.82 0.82 0 1 0 -1.6 0M120.1 247.1a0.82 0.82 0 1 0 1.6 0a0.82 0.82 0 1 0 -1.6 0M122.6 247.1a0.82 0.82 0 1 0 1.6 0a0.82 0.82 0 1 0 -1.6 0M124.7 247.4a0.82 0.82 0 1 0 1.6 0a0.82 0.82 0 1 0 -1.6 0M127.6 247.4a0.82 0.82 0 1 0 1.6 0a0.82 0.82 0 1 0 -1.6 0M129.2 247.3a0.82 0.82 0 1 0 1.6 0a0.82 0.82 0 1 0 -1.6 0M134.1 247.8a0.82 0.82 0 1 0 1.6 0a0.82 0.82 0 1 0 -1.6 0M138.9 247.6a0.82 0.82 0 1 0 1.6 0a0.82 0.82 0 1 0 -1.6 0M140.6 247.6a0.82 0.82 0 1 0 1.6 0a0.82 0.82 0 1 0 -1.6 0M143.1 247.2a0.82 0.82 0 1 0 1.6 0a0.82 0.82 0 1 0 -1.6 0M147.9 247.1a0.82 0.82 0 1 0 1.6 0a0.82 0.82 0 1 0 -1.6 0M150.0 247.6a0.82 0.82 0 1 0 1.6 0a0.82 0.82 0 1 0 -1.6 0M152.6 247.1a0.82 0.82 0 1 0 1.6 0a0.82 0.82 0 1 0 -1.6 0M155.2 247.2a0.82 0.82 0 1 0 1.6 0a0.82 0.82 0 1 0 -1.6 0M157.5 247.3a0.82 0.82 0 1 0 1.6 0a0.82 0.82 0 1 0 -1.6 0M159.3 247.4a0.82 0.82 0 1 0 1.6 0a0.82 0.82 0 1 0 -1.6 0M161.9 247.6a0.82 0.82 0 1 0 1.6 0a0.82 0.82 0 1 0 -1.6 0M164.1 247.6a0.82 0.82 0 1 0 1.6 0a0.82 0.82 0 1 0 -1.6 0M166.0 247.8a0.82 0.82 0 1 0 1.6 0a0.82 0.82 0 1 0 -1.6 0M168.5 247.7a0.82 0.82 0 1 0 1.6 0a0.82 0.82 0 1 0 -1.6 0M171.2 247.2a0.82 0.82 0 1 0 1.6 0a0.82 0.82 0 1 0 -1.6 0M172.9 247.5a0.82 0.82 0 1 0 1.6 0a0.82 0.82 0 1 0 -1.6 0M175.4 247.4a0.82 0.82 0 1 0 1.6 0a0.82 0.82 0 1 0 -1.6 0M179.7 247.6a0.82 0.82 0 1 0 1.6 0a0.82 0.82 0 1 0 -1.6 0M182.8 247.1a0.82 0.82 0 1 0 1.6 0a0.82 0.82 0 1 0 -1.6 0M184.5 247.8a0.82 0.82 0 1 0 1.6 0a0.82 0.82 0 1 0 -1.6 0M187.1 247.6a0.82 0.82 0 1 0 1.6 0a0.82 0.82 0 1 0 -1.6 0M189.4 247.1a0.82 0.82 0 1 0 1.6 0a0.82 0.82 0 1 0 -1.6 0M196.1 247.2a0.82 0.82 0 1 0 1.6 0a0.82 0.82 0 1 0 -1.6 0M198.5 247.7a0.82 0.82 0 1 0 1.6 0a0.82 0.82 0 1 0 -1.6 0M200.7 247.1a0.82 0.82 0 1 0 1.6 0a0.82 0.82 0 1 0 -1.6 0M203.0 247.3a0.82 0.82 0 1 0 1.6 0a0.82 0.82 0 1 0 -1.6 0M205.8 247.4a0.82 0.82 0 1 0 1.6 0a0.82 0.82 0 1 0 -1.6 0M209.6 247.9a0.82 0.82 0 1 0 1.6 0a0.82 0.82 0 1 0 -1.6 0M212.7 247.7a0.82 0.82 0 1 0 1.6 0a0.82 0.82 0 1 0 -1.6 0M214.8 247.5a0.82 0.82 0 1 0 1.6 0a0.82 0.82 0 1 0 -1.6 0M217.3 247.3a0.82 0.82 0 1 0 1.6 0a0.82 0.82 0 1 0 -1.6 0M221.7 247.4a0.82 0.82 0 1 0 1.6 0a0.82 0.82 0 1 0 -1.6 0M223.5 247.8a0.82 0.82 0 1 0 1.6 0a0.82 0.82 0 1 0 -1.6 0M226.1 247.5a0.82 0.82 0 1 0 1.6 0a0.82 0.82 0 1 0 -1.6 0M228.3 247.4a0.82 0.82 0 1 0 1.6 0a0.82 0.82 0 1 0 -1.6 0M230.5 247.6a0.82 0.82 0 1 0 1.6 0a0.82 0.82 0 1 0 -1.6 0M232.6 247.7a0.82 0.82 0 1 0 1.6 0a0.82 0.82 0 1 0 -1.6 0M235.1 247.5a0.82 0.82 0 1 0 1.6 0a0.82 0.82 0 1 0 -1.6 0M237.8 247.9a0.82 0.82 0 1 0 1.6 0a0.82 0.82 0 1 0 -1.6 0M240.0 247.1a0.82 0.82 0 1 0 1.6 0a0.82 0.82 0 1 0 -1.6 0M241.9 247.8a0.82 0.82 0 1 0 1.6 0a0.82 0.82 0 1 0 -1.6 0M244.6 247.4a0.82 0.82 0 1 0 1.6 0a0.82 0.82 0 1 0 -1.6 0M247.2 247.4a0.82 0.82 0 1 0 1.6 0a0.82 0.82 0 1 0 -1.6 0M249.3 247.7a0.82 0.82 0 1 0 1.6 0a0.82 0.82 0 1 0 -1.6 0M251.7 247.8a0.82 0.82 0 1 0 1.6 0a0.82 0.82 0 1 0 -1.6 0M253.6 247.4a0.82 0.82 0 1 0 1.6 0a0.82 0.82 0 1 0 -1.6 0M256.4 247.7a0.82 0.82 0 1 0 1.6 0a0.82 0.82 0 1 0 -1.6 0M258.1 247.6a0.82 0.82 0 1 0 1.6 0a0.82 0.82 0 1 0 -1.6 0M260.9 247.2a0.82 0.82 0 1 0 1.6 0a0.82 0.82 0 1 0 -1.6 0M262.8 247.2a0.82 0.82 0 1 0 1.6 0a0.82 0.82 0 1 0 -1.6 0M265.2 247.0a0.82 0.82 0 1 0 1.6 0a0.82 0.82 0 1 0 -1.6 0M267.6 247.7a0.82 0.82 0 1 0 1.6 0a0.82 0.82 0 1 0 -1.6 0M276.7 247.9a0.82 0.82 0 1 0 1.6 0a0.82 0.82 0 1 0 -1.6 0M278.8 247.4a0.82 0.82 0 1 0 1.6 0a0.82 0.82 0 1 0 -1.6 0M281.2 247.6a0.82 0.82 0 1 0 1.6 0a0.82 0.82 0 1 0 -1.6 0M283.9 247.8a0.82 0.82 0 1 0 1.6 0a0.82 0.82 0 1 0 -1.6 0M285.6 247.3a0.82 0.82 0 1 0 1.6 0a0.82 0.82 0 1 0 -1.6 0M290.8 247.5a0.82 0.82 0 1 0 1.6 0a0.82 0.82 0 1 0 -1.6 0M293.2 247.9a0.82 0.82 0 1 0 1.6 0a0.82 0.82 0 1 0 -1.6 0M297.6 247.2a0.82 0.82 0 1 0 1.6 0a0.82 0.82 0 1 0 -1.6 0M304.5 247.8a0.82 0.82 0 1 0 1.6 0a0.82 0.82 0 1 0 -1.6 0M306.2 247.3a0.82 0.82 0 1 0 1.6 0a0.82 0.82 0 1 0 -1.6 0M309.1 247.4a0.82 0.82 0 1 0 1.6 0a0.82 0.82 0 1 0 -1.6 0M313.5 247.8a0.82 0.82 0 1 0 1.6 0a0.82 0.82 0 1 0 -1.6 0M315.8 247.8a0.82 0.82 0 1 0 1.6 0a0.82 0.82 0 1 0 -1.6 0M318.4 247.5a0.82 0.82 0 1 0 1.6 0a0.82 0.82 0 1 0 -1.6 0M320.4 247.2a0.82 0.82 0 1 0 1.6 0a0.82 0.82 0 1 0 -1.6 0M325.0 247.4a0.82 0.82 0 1 0 1.6 0a0.82 0.82 0 1 0 -1.6 0M327.0 247.5a0.82 0.82 0 1 0 1.6 0a0.82 0.82 0 1 0 -1.6 0M329.5 247.9a0.82 0.82 0 1 0 1.6 0a0.82 0.82 0 1 0 -1.6 0M332.0 247.4a0.82 0.82 0 1 0 1.6 0a0.82 0.82 0 1 0 -1.6 0M334.3 247.5a0.82 0.82 0 1 0 1.6 0a0.82 0.82 0 1 0 -1.6 0M336.9 247.0a0.82 0.82 0 1 0 1.6 0a0.82 0.82 0 1 0 -1.6 0M338.9 247.7a0.82 0.82 0 1 0 1.6 0a0.82 0.82 0 1 0 -1.6 0M340.9 247.5a0.82 0.82 0 1 0 1.6 0a0.82 0.82 0 1 0 -1.6 0M343.5 247.3a0.82 0.82 0 1 0 1.6 0a0.82 0.82 0 1 0 -1.6 0M346.0 247.1a0.82 0.82 0 1 0 1.6 0a0.82 0.82 0 1 0 -1.6 0M348.0 247.6a0.82 0.82 0 1 0 1.6 0a0.82 0.82 0 1 0 -1.6 0M350.5 247.2a0.82 0.82 0 1 0 1.6 0a0.82 0.82 0 1 0 -1.6 0M352.6 247.3a0.82 0.82 0 1 0 1.6 0a0.82 0.82 0 1 0 -1.6 0M357.0 247.3a0.82 0.82 0 1 0 1.6 0a0.82 0.82 0 1 0 -1.6 0M359.4 247.8a0.82 0.82 0 1 0 1.6 0a0.82 0.82 0 1 0 -1.6 0M26.8 249.7a0.82 0.82 0 1 0 1.6 0a0.82 0.82 0 1 0 -1.6 0M29.8 249.1a0.82 0.82 0 1 0 1.6 0a0.82 0.82 0 1 0 -1.6 0M31.9 249.4a0.82 0.82 0 1 0 1.6 0a0.82 0.82 0 1 0 -1.6 0M34.4 249.3a0.82 0.82 0 1 0 1.6 0a0.82 0.82 0 1 0 -1.6 0M36.6 249.0a0.82 0.82 0 1 0 1.6 0a0.82 0.82 0 1 0 -1.6 0M38.9 249.4a0.82 0.82 0 1 0 1.6 0a0.82 0.82 0 1 0 -1.6 0M45.9 249.7a0.82 0.82 0 1 0 1.6 0a0.82 0.82 0 1 0 -1.6 0M47.7 249.9a0.82 0.82 0 1 0 1.6 0a0.82 0.82 0 1 0 -1.6 0M50.4 249.3a0.82 0.82 0 1 0 1.6 0a0.82 0.82 0 1 0 -1.6 0M52.9 249.2a0.82 0.82 0 1 0 1.6 0a0.82 0.82 0 1 0 -1.6 0M57.3 249.1a0.82 0.82 0 1 0 1.6 0a0.82 0.82 0 1 0 -1.6 0M59.1 249.4a0.82 0.82 0 1 0 1.6 0a0.82 0.82 0 1 0 -1.6 0M63.9 249.2a0.82 0.82 0 1 0 1.6 0a0.82 0.82 0 1 0 -1.6 0M66.4 249.3a0.82 0.82 0 1 0 1.6 0a0.82 0.82 0 1 0 -1.6 0M69.0 249.1a0.82 0.82 0 1 0 1.6 0a0.82 0.82 0 1 0 -1.6 0M72.8 249.5a0.82 0.82 0 1 0 1.6 0a0.82 0.82 0 1 0 -1.6 0M75.8 249.8a0.82 0.82 0 1 0 1.6 0a0.82 0.82 0 1 0 -1.6 0M78.1 249.8a0.82 0.82 0 1 0 1.6 0a0.82 0.82 0 1 0 -1.6 0M82.4 249.4a0.82 0.82 0 1 0 1.6 0a0.82 0.82 0 1 0 -1.6 0M84.8 249.7a0.82 0.82 0 1 0 1.6 0a0.82 0.82 0 1 0 -1.6 0M87.0 249.7a0.82 0.82 0 1 0 1.6 0a0.82 0.82 0 1 0 -1.6 0M89.1 249.8a0.82 0.82 0 1 0 1.6 0a0.82 0.82 0 1 0 -1.6 0M91.2 249.4a0.82 0.82 0 1 0 1.6 0a0.82 0.82 0 1 0 -1.6 0M93.9 249.4a0.82 0.82 0 1 0 1.6 0a0.82 0.82 0 1 0 -1.6 0M98.6 249.7a0.82 0.82 0 1 0 1.6 0a0.82 0.82 0 1 0 -1.6 0M100.5 249.9a0.82 0.82 0 1 0 1.6 0a0.82 0.82 0 1 0 -1.6 0M103.5 249.5a0.82 0.82 0 1 0 1.6 0a0.82 0.82 0 1 0 -1.6 0M105.6 249.4a0.82 0.82 0 1 0 1.6 0a0.82 0.82 0 1 0 -1.6 0M107.9 249.7a0.82 0.82 0 1 0 1.6 0a0.82 0.82 0 1 0 -1.6 0M110.0 249.6a0.82 0.82 0 1 0 1.6 0a0.82 0.82 0 1 0 -1.6 0M112.1 249.4a0.82 0.82 0 1 0 1.6 0a0.82 0.82 0 1 0 -1.6 0M114.6 249.8a0.82 0.82 0 1 0 1.6 0a0.82 0.82 0 1 0 -1.6 0M117.2 249.8a0.82 0.82 0 1 0 1.6 0a0.82 0.82 0 1 0 -1.6 0M119.3 249.3a0.82 0.82 0 1 0 1.6 0a0.82 0.82 0 1 0 -1.6 0M121.2 249.1a0.82 0.82 0 1 0 1.6 0a0.82 0.82 0 1 0 -1.6 0M123.5 249.0a0.82 0.82 0 1 0 1.6 0a0.82 0.82 0 1 0 -1.6 0M126.1 249.4a0.82 0.82 0 1 0 1.6 0a0.82 0.82 0 1 0 -1.6 0M128.0 249.9a0.82 0.82 0 1 0 1.6 0a0.82 0.82 0 1 0 -1.6 0M131.0 249.7a0.82 0.82 0 1 0 1.6 0a0.82 0.82 0 1 0 -1.6 0M133.0 249.1a0.82 0.82 0 1 0 1.6 0a0.82 0.82 0 1 0 -1.6 0M135.1 249.8a0.82 0.82 0 1 0 1.6 0a0.82 0.82 0 1 0 -1.6 0M137.9 249.5a0.82 0.82 0 1 0 1.6 0a0.82 0.82 0 1 0 -1.6 0M141.8 249.8a0.82 0.82 0 1 0 1.6 0a0.82 0.82 0 1 0 -1.6 0M144.8 249.9a0.82 0.82 0 1 0 1.6 0a0.82 0.82 0 1 0 -1.6 0M146.7 249.5a0.82 0.82 0 1 0 1.6 0a0.82 0.82 0 1 0 -1.6 0M149.0 249.3a0.82 0.82 0 1 0 1.6 0a0.82 0.82 0 1 0 -1.6 0M151.4 249.2a0.82 0.82 0 1 0 1.6 0a0.82 0.82 0 1 0 -1.6 0M154.1 249.7a0.82 0.82 0 1 0 1.6 0a0.82 0.82 0 1 0 -1.6 0M155.6 249.1a0.82 0.82 0 1 0 1.6 0a0.82 0.82 0 1 0 -1.6 0M158.7 249.8a0.82 0.82 0 1 0 1.6 0a0.82 0.82 0 1 0 -1.6 0M160.9 249.4a0.82 0.82 0 1 0 1.6 0a0.82 0.82 0 1 0 -1.6 0M162.7 249.4a0.82 0.82 0 1 0 1.6 0a0.82 0.82 0 1 0 -1.6 0M165.0 249.6a0.82 0.82 0 1 0 1.6 0a0.82 0.82 0 1 0 -1.6 0M167.6 249.0a0.82 0.82 0 1 0 1.6 0a0.82 0.82 0 1 0 -1.6 0M169.4 249.4a0.82 0.82 0 1 0 1.6 0a0.82 0.82 0 1 0 -1.6 0M171.8 249.9a0.82 0.82 0 1 0 1.6 0a0.82 0.82 0 1 0 -1.6 0M174.3 249.9a0.82 0.82 0 1 0 1.6 0a0.82 0.82 0 1 0 -1.6 0M176.5 249.2a0.82 0.82 0 1 0 1.6 0a0.82 0.82 0 1 0 -1.6 0M178.6 249.3a0.82 0.82 0 1 0 1.6 0a0.82 0.82 0 1 0 -1.6 0M181.4 249.6a0.82 0.82 0 1 0 1.6 0a0.82 0.82 0 1 0 -1.6 0M187.8 249.8a0.82 0.82 0 1 0 1.6 0a0.82 0.82 0 1 0 -1.6 0M190.5 249.1a0.82 0.82 0 1 0 1.6 0a0.82 0.82 0 1 0 -1.6 0M192.5 249.3a0.82 0.82 0 1 0 1.6 0a0.82 0.82 0 1 0 -1.6 0M194.7 249.6a0.82 0.82 0 1 0 1.6 0a0.82 0.82 0 1 0 -1.6 0M197.7 249.7a0.82 0.82 0 1 0 1.6 0a0.82 0.82 0 1 0 -1.6 0M201.6 249.5a0.82 0.82 0 1 0 1.6 0a0.82 0.82 0 1 0 -1.6 0M203.9 249.2a0.82 0.82 0 1 0 1.6 0a0.82 0.82 0 1 0 -1.6 0M206.5 249.2a0.82 0.82 0 1 0 1.6 0a0.82 0.82 0 1 0 -1.6 0M208.6 249.0a0.82 0.82 0 1 0 1.6 0a0.82 0.82 0 1 0 -1.6 0M211.3 249.9a0.82 0.82 0 1 0 1.6 0a0.82 0.82 0 1 0 -1.6 0M213.7 249.6a0.82 0.82 0 1 0 1.6 0a0.82 0.82 0 1 0 -1.6 0M215.9 249.3a0.82 0.82 0 1 0 1.6 0a0.82 0.82 0 1 0 -1.6 0M220.2 249.2a0.82 0.82 0 1 0 1.6 0a0.82 0.82 0 1 0 -1.6 0M223.1 249.1a0.82 0.82 0 1 0 1.6 0a0.82 0.82 0 1 0 -1.6 0M225.2 249.0a0.82 0.82 0 1 0 1.6 0a0.82 0.82 0 1 0 -1.6 0M226.9 249.3a0.82 0.82 0 1 0 1.6 0a0.82 0.82 0 1 0 -1.6 0M229.4 249.5a0.82 0.82 0 1 0 1.6 0a0.82 0.82 0 1 0 -1.6 0M231.4 249.7a0.82 0.82 0 1 0 1.6 0a0.82 0.82 0 1 0 -1.6 0M234.3 249.6a0.82 0.82 0 1 0 1.6 0a0.82 0.82 0 1 0 -1.6 0M236.4 249.7a0.82 0.82 0 1 0 1.6 0a0.82 0.82 0 1 0 -1.6 0M240.7 249.7a0.82 0.82 0 1 0 1.6 0a0.82 0.82 0 1 0 -1.6 0M243.6 249.7a0.82 0.82 0 1 0 1.6 0a0.82 0.82 0 1 0 -1.6 0M245.7 249.1a0.82 0.82 0 1 0 1.6 0a0.82 0.82 0 1 0 -1.6 0M248.2 249.6a0.82 0.82 0 1 0 1.6 0a0.82 0.82 0 1 0 -1.6 0M250.3 249.7a0.82 0.82 0 1 0 1.6 0a0.82 0.82 0 1 0 -1.6 0M252.8 249.5a0.82 0.82 0 1 0 1.6 0a0.82 0.82 0 1 0 -1.6 0M257.2 249.7a0.82 0.82 0 1 0 1.6 0a0.82 0.82 0 1 0 -1.6 0M259.9 249.0a0.82 0.82 0 1 0 1.6 0a0.82 0.82 0 1 0 -1.6 0M262.0 249.5a0.82 0.82 0 1 0 1.6 0a0.82 0.82 0 1 0 -1.6 0M264.3 249.3a0.82 0.82 0 1 0 1.6 0a0.82 0.82 0 1 0 -1.6 0M266.8 249.6a0.82 0.82 0 1 0 1.6 0a0.82 0.82 0 1 0 -1.6 0M270.8 249.4a0.82 0.82 0 1 0 1.6 0a0.82 0.82 0 1 0 -1.6 0M273.0 249.5a0.82 0.82 0 1 0 1.6 0a0.82 0.82 0 1 0 -1.6 0M275.4 249.2a0.82 0.82 0 1 0 1.6 0a0.82 0.82 0 1 0 -1.6 0M277.5 249.8a0.82 0.82 0 1 0 1.6 0a0.82 0.82 0 1 0 -1.6 0M282.7 249.6a0.82 0.82 0 1 0 1.6 0a0.82 0.82 0 1 0 -1.6 0M284.5 249.1a0.82 0.82 0 1 0 1.6 0a0.82 0.82 0 1 0 -1.6 0M289.4 249.2a0.82 0.82 0 1 0 1.6 0a0.82 0.82 0 1 0 -1.6 0M291.8 249.3a0.82 0.82 0 1 0 1.6 0a0.82 0.82 0 1 0 -1.6 0M296.7 249.8a0.82 0.82 0 1 0 1.6 0a0.82 0.82 0 1 0 -1.6 0M305.8 249.6a0.82 0.82 0 1 0 1.6 0a0.82 0.82 0 1 0 -1.6 0M307.7 249.2a0.82 0.82 0 1 0 1.6 0a0.82 0.82 0 1 0 -1.6 0M310.4 249.8a0.82 0.82 0 1 0 1.6 0a0.82 0.82 0 1 0 -1.6 0M312.6 249.9a0.82 0.82 0 1 0 1.6 0a0.82 0.82 0 1 0 -1.6 0M315.0 249.3a0.82 0.82 0 1 0 1.6 0a0.82 0.82 0 1 0 -1.6 0M317.3 249.3a0.82 0.82 0 1 0 1.6 0a0.82 0.82 0 1 0 -1.6 0M319.4 249.7a0.82 0.82 0 1 0 1.6 0a0.82 0.82 0 1 0 -1.6 0M321.8 249.7a0.82 0.82 0 1 0 1.6 0a0.82 0.82 0 1 0 -1.6 0M326.4 249.1a0.82 0.82 0 1 0 1.6 0a0.82 0.82 0 1 0 -1.6 0M328.6 249.3a0.82 0.82 0 1 0 1.6 0a0.82 0.82 0 1 0 -1.6 0M330.6 249.6a0.82 0.82 0 1 0 1.6 0a0.82 0.82 0 1 0 -1.6 0M332.9 249.2a0.82 0.82 0 1 0 1.6 0a0.82 0.82 0 1 0 -1.6 0M335.2 249.9a0.82 0.82 0 1 0 1.6 0a0.82 0.82 0 1 0 -1.6 0M339.9 249.2a0.82 0.82 0 1 0 1.6 0a0.82 0.82 0 1 0 -1.6 0M345.0 249.7a0.82 0.82 0 1 0 1.6 0a0.82 0.82 0 1 0 -1.6 0M347.2 249.3a0.82 0.82 0 1 0 1.6 0a0.82 0.82 0 1 0 -1.6 0M349.5 249.7a0.82 0.82 0 1 0 1.6 0a0.82 0.82 0 1 0 -1.6 0M351.8 249.6a0.82 0.82 0 1 0 1.6 0a0.82 0.82 0 1 0 -1.6 0M354.0 249.8a0.82 0.82 0 1 0 1.6 0a0.82 0.82 0 1 0 -1.6 0M361.0 249.8a0.82 0.82 0 1 0 1.6 0a0.82 0.82 0 1 0 -1.6 0M28.6 251.7a0.82 0.82 0 1 0 1.6 0a0.82 0.82 0 1 0 -1.6 0M30.8 251.8a0.82 0.82 0 1 0 1.6 0a0.82 0.82 0 1 0 -1.6 0M33.0 251.3a0.82 0.82 0 1 0 1.6 0a0.82 0.82 0 1 0 -1.6 0M35.1 251.3a0.82 0.82 0 1 0 1.6 0a0.82 0.82 0 1 0 -1.6 0M37.5 251.3a0.82 0.82 0 1 0 1.6 0a0.82 0.82 0 1 0 -1.6 0M40.2 251.3a0.82 0.82 0 1 0 1.6 0a0.82 0.82 0 1 0 -1.6 0M42.0 251.6a0.82 0.82 0 1 0 1.6 0a0.82 0.82 0 1 0 -1.6 0M44.1 251.3a0.82 0.82 0 1 0 1.6 0a0.82 0.82 0 1 0 -1.6 0M46.9 251.8a0.82 0.82 0 1 0 1.6 0a0.82 0.82 0 1 0 -1.6 0M48.9 251.5a0.82 0.82 0 1 0 1.6 0a0.82 0.82 0 1 0 -1.6 0M51.5 251.7a0.82 0.82 0 1 0 1.6 0a0.82 0.82 0 1 0 -1.6 0M53.9 251.6a0.82 0.82 0 1 0 1.6 0a0.82 0.82 0 1 0 -1.6 0M58.1 251.8a0.82 0.82 0 1 0 1.6 0a0.82 0.82 0 1 0 -1.6 0M60.6 251.3a0.82 0.82 0 1 0 1.6 0a0.82 0.82 0 1 0 -1.6 0M62.7 251.5a0.82 0.82 0 1 0 1.6 0a0.82 0.82 0 1 0 -1.6 0M67.2 251.3a0.82 0.82 0 1 0 1.6 0a0.82 0.82 0 1 0 -1.6 0M70.0 251.7a0.82 0.82 0 1 0 1.6 0a0.82 0.82 0 1 0 -1.6 0M71.6 251.8a0.82 0.82 0 1 0 1.6 0a0.82 0.82 0 1 0 -1.6 0M74.7 251.9a0.82 0.82 0 1 0 1.6 0a0.82 0.82 0 1 0 -1.6 0M76.4 251.4a0.82 0.82 0 1 0 1.6 0a0.82 0.82 0 1 0 -1.6 0M78.9 251.6a0.82 0.82 0 1 0 1.6 0a0.82 0.82 0 1 0 -1.6 0M83.6 251.2a0.82 0.82 0 1 0 1.6 0a0.82 0.82 0 1 0 -1.6 0M87.8 251.2a0.82 0.82 0 1 0 1.6 0a0.82 0.82 0 1 0 -1.6 0M90.3 251.5a0.82 0.82 0 1 0 1.6 0a0.82 0.82 0 1 0 -1.6 0M92.6 251.1a0.82 0.82 0 1 0 1.6 0a0.82 0.82 0 1 0 -1.6 0M97.5 251.3a0.82 0.82 0 1 0 1.6 0a0.82 0.82 0 1 0 -1.6 0M99.6 251.3a0.82 0.82 0 1 0 1.6 0a0.82 0.82 0 1 0 -1.6 0M101.7 251.9a0.82 0.82 0 1 0 1.6 0a0.82 0.82 0 1 0 -1.6 0M104.4 251.4a0.82 0.82 0 1 0 1.6 0a0.82 0.82 0 1 0 -1.6 0M106.9 251.6a0.82 0.82 0 1 0 1.6 0a0.82 0.82 0 1 0 -1.6 0M109.2 251.1a0.82 0.82 0 1 0 1.6 0a0.82 0.82 0 1 0 -1.6 0M111.0 251.8a0.82 0.82 0 1 0 1.6 0a0.82 0.82 0 1 0 -1.6 0M115.5 251.5a0.82 0.82 0 1 0 1.6 0a0.82 0.82 0 1 0 -1.6 0M117.7 251.8a0.82 0.82 0 1 0 1.6 0a0.82 0.82 0 1 0 -1.6 0M120.2 251.4a0.82 0.82 0 1 0 1.6 0a0.82 0.82 0 1 0 -1.6 0M122.4 251.2a0.82 0.82 0 1 0 1.6 0a0.82 0.82 0 1 0 -1.6 0M125.0 251.8a0.82 0.82 0 1 0 1.6 0a0.82 0.82 0 1 0 -1.6 0M127.0 251.0a0.82 0.82 0 1 0 1.6 0a0.82 0.82 0 1 0 -1.6 0M129.4 251.8a0.82 0.82 0 1 0 1.6 0a0.82 0.82 0 1 0 -1.6 0M132.1 251.2a0.82 0.82 0 1 0 1.6 0a0.82 0.82 0 1 0 -1.6 0M134.2 251.3a0.82 0.82 0 1 0 1.6 0a0.82 0.82 0 1 0 -1.6 0M136.5 251.5a0.82 0.82 0 1 0 1.6 0a0.82 0.82 0 1 0 -1.6 0M138.9 251.3a0.82 0.82 0 1 0 1.6 0a0.82 0.82 0 1 0 -1.6 0M141.3 251.5a0.82 0.82 0 1 0 1.6 0a0.82 0.82 0 1 0 -1.6 0M142.9 251.3a0.82 0.82 0 1 0 1.6 0a0.82 0.82 0 1 0 -1.6 0M145.6 251.6a0.82 0.82 0 1 0 1.6 0a0.82 0.82 0 1 0 -1.6 0M147.6 251.1a0.82 0.82 0 1 0 1.6 0a0.82 0.82 0 1 0 -1.6 0M150.2 251.9a0.82 0.82 0 1 0 1.6 0a0.82 0.82 0 1 0 -1.6 0M152.4 251.2a0.82 0.82 0 1 0 1.6 0a0.82 0.82 0 1 0 -1.6 0M154.5 251.7a0.82 0.82 0 1 0 1.6 0a0.82 0.82 0 1 0 -1.6 0M156.7 251.8a0.82 0.82 0 1 0 1.6 0a0.82 0.82 0 1 0 -1.6 0M162.1 251.3a0.82 0.82 0 1 0 1.6 0a0.82 0.82 0 1 0 -1.6 0M164.5 251.4a0.82 0.82 0 1 0 1.6 0a0.82 0.82 0 1 0 -1.6 0M166.3 251.8a0.82 0.82 0 1 0 1.6 0a0.82 0.82 0 1 0 -1.6 0M168.9 251.7a0.82 0.82 0 1 0 1.6 0a0.82 0.82 0 1 0 -1.6 0M171.2 251.4a0.82 0.82 0 1 0 1.6 0a0.82 0.82 0 1 0 -1.6 0M173.3 251.0a0.82 0.82 0 1 0 1.6 0a0.82 0.82 0 1 0 -1.6 0M178.1 251.7a0.82 0.82 0 1 0 1.6 0a0.82 0.82 0 1 0 -1.6 0M180.4 251.3a0.82 0.82 0 1 0 1.6 0a0.82 0.82 0 1 0 -1.6 0M182.1 251.2a0.82 0.82 0 1 0 1.6 0a0.82 0.82 0 1 0 -1.6 0M187.1 251.6a0.82 0.82 0 1 0 1.6 0a0.82 0.82 0 1 0 -1.6 0M189.0 251.7a0.82 0.82 0 1 0 1.6 0a0.82 0.82 0 1 0 -1.6 0M191.6 251.5a0.82 0.82 0 1 0 1.6 0a0.82 0.82 0 1 0 -1.6 0M194.0 251.8a0.82 0.82 0 1 0 1.6 0a0.82 0.82 0 1 0 -1.6 0M195.8 251.5a0.82 0.82 0 1 0 1.6 0a0.82 0.82 0 1 0 -1.6 0M198.3 251.8a0.82 0.82 0 1 0 1.6 0a0.82 0.82 0 1 0 -1.6 0M200.8 251.5a0.82 0.82 0 1 0 1.6 0a0.82 0.82 0 1 0 -1.6 0M203.3 251.8a0.82 0.82 0 1 0 1.6 0a0.82 0.82 0 1 0 -1.6 0M205.1 251.2a0.82 0.82 0 1 0 1.6 0a0.82 0.82 0 1 0 -1.6 0M207.9 251.5a0.82 0.82 0 1 0 1.6 0a0.82 0.82 0 1 0 -1.6 0M210.2 251.9a0.82 0.82 0 1 0 1.6 0a0.82 0.82 0 1 0 -1.6 0M212.0 251.3a0.82 0.82 0 1 0 1.6 0a0.82 0.82 0 1 0 -1.6 0M214.6 251.3a0.82 0.82 0 1 0 1.6 0a0.82 0.82 0 1 0 -1.6 0M219.6 251.8a0.82 0.82 0 1 0 1.6 0a0.82 0.82 0 1 0 -1.6 0M221.7 251.4a0.82 0.82 0 1 0 1.6 0a0.82 0.82 0 1 0 -1.6 0M223.9 251.7a0.82 0.82 0 1 0 1.6 0a0.82 0.82 0 1 0 -1.6 0M228.3 251.1a0.82 0.82 0 1 0 1.6 0a0.82 0.82 0 1 0 -1.6 0M230.5 251.8a0.82 0.82 0 1 0 1.6 0a0.82 0.82 0 1 0 -1.6 0M232.7 251.1a0.82 0.82 0 1 0 1.6 0a0.82 0.82 0 1 0 -1.6 0M235.1 251.2a0.82 0.82 0 1 0 1.6 0a0.82 0.82 0 1 0 -1.6 0M240.3 251.8a0.82 0.82 0 1 0 1.6 0a0.82 0.82 0 1 0 -1.6 0M242.6 251.5a0.82 0.82 0 1 0 1.6 0a0.82 0.82 0 1 0 -1.6 0M244.9 251.4a0.82 0.82 0 1 0 1.6 0a0.82 0.82 0 1 0 -1.6 0M247.1 251.7a0.82 0.82 0 1 0 1.6 0a0.82 0.82 0 1 0 -1.6 0M249.0 251.3a0.82 0.82 0 1 0 1.6 0a0.82 0.82 0 1 0 -1.6 0M251.3 251.1a0.82 0.82 0 1 0 1.6 0a0.82 0.82 0 1 0 -1.6 0M254.1 251.8a0.82 0.82 0 1 0 1.6 0a0.82 0.82 0 1 0 -1.6 0M256.4 251.7a0.82 0.82 0 1 0 1.6 0a0.82 0.82 0 1 0 -1.6 0M258.7 251.3a0.82 0.82 0 1 0 1.6 0a0.82 0.82 0 1 0 -1.6 0M260.8 251.0a0.82 0.82 0 1 0 1.6 0a0.82 0.82 0 1 0 -1.6 0M262.7 251.7a0.82 0.82 0 1 0 1.6 0a0.82 0.82 0 1 0 -1.6 0M265.5 251.6a0.82 0.82 0 1 0 1.6 0a0.82 0.82 0 1 0 -1.6 0M267.4 251.5a0.82 0.82 0 1 0 1.6 0a0.82 0.82 0 1 0 -1.6 0M269.9 251.5a0.82 0.82 0 1 0 1.6 0a0.82 0.82 0 1 0 -1.6 0M272.2 251.4a0.82 0.82 0 1 0 1.6 0a0.82 0.82 0 1 0 -1.6 0M274.2 251.6a0.82 0.82 0 1 0 1.6 0a0.82 0.82 0 1 0 -1.6 0M276.9 251.7a0.82 0.82 0 1 0 1.6 0a0.82 0.82 0 1 0 -1.6 0M279.0 251.8a0.82 0.82 0 1 0 1.6 0a0.82 0.82 0 1 0 -1.6 0M283.5 251.8a0.82 0.82 0 1 0 1.6 0a0.82 0.82 0 1 0 -1.6 0M286.0 251.7a0.82 0.82 0 1 0 1.6 0a0.82 0.82 0 1 0 -1.6 0M288.2 251.6a0.82 0.82 0 1 0 1.6 0a0.82 0.82 0 1 0 -1.6 0M291.0 251.0a0.82 0.82 0 1 0 1.6 0a0.82 0.82 0 1 0 -1.6 0M292.7 251.6a0.82 0.82 0 1 0 1.6 0a0.82 0.82 0 1 0 -1.6 0M295.1 251.1a0.82 0.82 0 1 0 1.6 0a0.82 0.82 0 1 0 -1.6 0M297.8 251.7a0.82 0.82 0 1 0 1.6 0a0.82 0.82 0 1 0 -1.6 0M299.3 251.2a0.82 0.82 0 1 0 1.6 0a0.82 0.82 0 1 0 -1.6 0M304.5 251.0a0.82 0.82 0 1 0 1.6 0a0.82 0.82 0 1 0 -1.6 0M306.9 251.7a0.82 0.82 0 1 0 1.6 0a0.82 0.82 0 1 0 -1.6 0M308.9 251.7a0.82 0.82 0 1 0 1.6 0a0.82 0.82 0 1 0 -1.6 0M311.2 251.7a0.82 0.82 0 1 0 1.6 0a0.82 0.82 0 1 0 -1.6 0M313.6 251.4a0.82 0.82 0 1 0 1.6 0a0.82 0.82 0 1 0 -1.6 0M316.0 251.2a0.82 0.82 0 1 0 1.6 0a0.82 0.82 0 1 0 -1.6 0M318.3 251.6a0.82 0.82 0 1 0 1.6 0a0.82 0.82 0 1 0 -1.6 0M320.7 251.4a0.82 0.82 0 1 0 1.6 0a0.82 0.82 0 1 0 -1.6 0M322.9 251.7a0.82 0.82 0 1 0 1.6 0a0.82 0.82 0 1 0 -1.6 0M325.4 251.8a0.82 0.82 0 1 0 1.6 0a0.82 0.82 0 1 0 -1.6 0M327.4 251.5a0.82 0.82 0 1 0 1.6 0a0.82 0.82 0 1 0 -1.6 0M329.9 251.5a0.82 0.82 0 1 0 1.6 0a0.82 0.82 0 1 0 -1.6 0M331.6 251.3a0.82 0.82 0 1 0 1.6 0a0.82 0.82 0 1 0 -1.6 0M334.5 251.2a0.82 0.82 0 1 0 1.6 0a0.82 0.82 0 1 0 -1.6 0M336.9 251.6a0.82 0.82 0 1 0 1.6 0a0.82 0.82 0 1 0 -1.6 0M338.6 251.8a0.82 0.82 0 1 0 1.6 0a0.82 0.82 0 1 0 -1.6 0M341.3 251.6a0.82 0.82 0 1 0 1.6 0a0.82 0.82 0 1 0 -1.6 0M343.8 251.1a0.82 0.82 0 1 0 1.6 0a0.82 0.82 0 1 0 -1.6 0M345.7 251.3a0.82 0.82 0 1 0 1.6 0a0.82 0.82 0 1 0 -1.6 0M347.9 251.2a0.82 0.82 0 1 0 1.6 0a0.82 0.82 0 1 0 -1.6 0M350.2 251.6a0.82 0.82 0 1 0 1.6 0a0.82 0.82 0 1 0 -1.6 0M352.4 251.7a0.82 0.82 0 1 0 1.6 0a0.82 0.82 0 1 0 -1.6 0M355.1 251.3a0.82 0.82 0 1 0 1.6 0a0.82 0.82 0 1 0 -1.6 0M357.4 251.2a0.82 0.82 0 1 0 1.6 0a0.82 0.82 0 1 0 -1.6 0M359.9 251.3a0.82 0.82 0 1 0 1.6 0a0.82 0.82 0 1 0 -1.6 0M27.2 253.2a0.82 0.82 0 1 0 1.6 0a0.82 0.82 0 1 0 -1.6 0M29.2 253.1a0.82 0.82 0 1 0 1.6 0a0.82 0.82 0 1 0 -1.6 0M32.1 253.5a0.82 0.82 0 1 0 1.6 0a0.82 0.82 0 1 0 -1.6 0M34.3 253.3a0.82 0.82 0 1 0 1.6 0a0.82 0.82 0 1 0 -1.6 0M36.4 253.8a0.82 0.82 0 1 0 1.6 0a0.82 0.82 0 1 0 -1.6 0M38.5 253.6a0.82 0.82 0 1 0 1.6 0a0.82 0.82 0 1 0 -1.6 0M40.9 253.1a0.82 0.82 0 1 0 1.6 0a0.82 0.82 0 1 0 -1.6 0M42.9 253.1a0.82 0.82 0 1 0 1.6 0a0.82 0.82 0 1 0 -1.6 0M45.7 253.8a0.82 0.82 0 1 0 1.6 0a0.82 0.82 0 1 0 -1.6 0M47.5 253.2a0.82 0.82 0 1 0 1.6 0a0.82 0.82 0 1 0 -1.6 0M49.8 253.2a0.82 0.82 0 1 0 1.6 0a0.82 0.82 0 1 0 -1.6 0M52.9 253.8a0.82 0.82 0 1 0 1.6 0a0.82 0.82 0 1 0 -1.6 0M54.7 253.7a0.82 0.82 0 1 0 1.6 0a0.82 0.82 0 1 0 -1.6 0M57.0 253.9a0.82 0.82 0 1 0 1.6 0a0.82 0.82 0 1 0 -1.6 0M61.9 253.8a0.82 0.82 0 1 0 1.6 0a0.82 0.82 0 1 0 -1.6 0M65.9 253.4a0.82 0.82 0 1 0 1.6 0a0.82 0.82 0 1 0 -1.6 0M68.6 253.6a0.82 0.82 0 1 0 1.6 0a0.82 0.82 0 1 0 -1.6 0M70.5 253.5a0.82 0.82 0 1 0 1.6 0a0.82 0.82 0 1 0 -1.6 0M73.1 253.6a0.82 0.82 0 1 0 1.6 0a0.82 0.82 0 1 0 -1.6 0M75.2 253.8a0.82 0.82 0 1 0 1.6 0a0.82 0.82 0 1 0 -1.6 0M77.4 253.6a0.82 0.82 0 1 0 1.6 0a0.82 0.82 0 1 0 -1.6 0M80.4 253.5a0.82 0.82 0 1 0 1.6 0a0.82 0.82 0 1 0 -1.6 0M82.7 253.5a0.82 0.82 0 1 0 1.6 0a0.82 0.82 0 1 0 -1.6 0M85.0 253.4a0.82 0.82 0 1 0 1.6 0a0.82 0.82 0 1 0 -1.6 0M89.6 253.9a0.82 0.82 0 1 0 1.6 0a0.82 0.82 0 1 0 -1.6 0M91.7 253.6a0.82 0.82 0 1 0 1.6 0a0.82 0.82 0 1 0 -1.6 0M93.9 253.3a0.82 0.82 0 1 0 1.6 0a0.82 0.82 0 1 0 -1.6 0M96.6 253.3a0.82 0.82 0 1 0 1.6 0a0.82 0.82 0 1 0 -1.6 0M98.1 253.8a0.82 0.82 0 1 0 1.6 0a0.82 0.82 0 1 0 -1.6 0M100.4 253.2a0.82 0.82 0 1 0 1.6 0a0.82 0.82 0 1 0 -1.6 0M103.3 253.5a0.82 0.82 0 1 0 1.6 0a0.82 0.82 0 1 0 -1.6 0M105.3 253.8a0.82 0.82 0 1 0 1.6 0a0.82 0.82 0 1 0 -1.6 0M107.9 253.1a0.82 0.82 0 1 0 1.6 0a0.82 0.82 0 1 0 -1.6 0M109.6 253.5a0.82 0.82 0 1 0 1.6 0a0.82 0.82 0 1 0 -1.6 0M112.4 253.3a0.82 0.82 0 1 0 1.6 0a0.82 0.82 0 1 0 -1.6 0M114.2 253.5a0.82 0.82 0 1 0 1.6 0a0.82 0.82 0 1 0 -1.6 0M116.5 253.6a0.82 0.82 0 1 0 1.6 0a0.82 0.82 0 1 0 -1.6 0M119.5 253.6a0.82 0.82 0 1 0 1.6 0a0.82 0.82 0 1 0 -1.6 0M124.1 253.6a0.82 0.82 0 1 0 1.6 0a0.82 0.82 0 1 0 -1.6 0M126.5 253.2a0.82 0.82 0 1 0 1.6 0a0.82 0.82 0 1 0 -1.6 0M128.6 253.7a0.82 0.82 0 1 0 1.6 0a0.82 0.82 0 1 0 -1.6 0M130.7 253.4a0.82 0.82 0 1 0 1.6 0a0.82 0.82 0 1 0 -1.6 0M134.9 253.2a0.82 0.82 0 1 0 1.6 0a0.82 0.82 0 1 0 -1.6 0M137.8 253.4a0.82 0.82 0 1 0 1.6 0a0.82 0.82 0 1 0 -1.6 0M140.2 253.4a0.82 0.82 0 1 0 1.6 0a0.82 0.82 0 1 0 -1.6 0M142.2 253.9a0.82 0.82 0 1 0 1.6 0a0.82 0.82 0 1 0 -1.6 0M144.7 253.2a0.82 0.82 0 1 0 1.6 0a0.82 0.82 0 1 0 -1.6 0M146.8 253.2a0.82 0.82 0 1 0 1.6 0a0.82 0.82 0 1 0 -1.6 0M149.4 253.7a0.82 0.82 0 1 0 1.6 0a0.82 0.82 0 1 0 -1.6 0M156.4 253.1a0.82 0.82 0 1 0 1.6 0a0.82 0.82 0 1 0 -1.6 0M158.2 253.8a0.82 0.82 0 1 0 1.6 0a0.82 0.82 0 1 0 -1.6 0M160.3 253.4a0.82 0.82 0 1 0 1.6 0a0.82 0.82 0 1 0 -1.6 0M162.5 253.7a0.82 0.82 0 1 0 1.6 0a0.82 0.82 0 1 0 -1.6 0M165.0 253.8a0.82 0.82 0 1 0 1.6 0a0.82 0.82 0 1 0 -1.6 0M167.3 253.2a0.82 0.82 0 1 0 1.6 0a0.82 0.82 0 1 0 -1.6 0M170.2 253.3a0.82 0.82 0 1 0 1.6 0a0.82 0.82 0 1 0 -1.6 0M174.3 253.4a0.82 0.82 0 1 0 1.6 0a0.82 0.82 0 1 0 -1.6 0M178.8 253.6a0.82 0.82 0 1 0 1.6 0a0.82 0.82 0 1 0 -1.6 0M183.5 253.7a0.82 0.82 0 1 0 1.6 0a0.82 0.82 0 1 0 -1.6 0M185.6 253.7a0.82 0.82 0 1 0 1.6 0a0.82 0.82 0 1 0 -1.6 0M188.4 253.3a0.82 0.82 0 1 0 1.6 0a0.82 0.82 0 1 0 -1.6 0M190.4 253.1a0.82 0.82 0 1 0 1.6 0a0.82 0.82 0 1 0 -1.6 0M193.2 253.3a0.82 0.82 0 1 0 1.6 0a0.82 0.82 0 1 0 -1.6 0M195.2 253.9a0.82 0.82 0 1 0 1.6 0a0.82 0.82 0 1 0 -1.6 0M197.2 253.9a0.82 0.82 0 1 0 1.6 0a0.82 0.82 0 1 0 -1.6 0M199.4 253.8a0.82 0.82 0 1 0 1.6 0a0.82 0.82 0 1 0 -1.6 0M204.5 253.8a0.82 0.82 0 1 0 1.6 0a0.82 0.82 0 1 0 -1.6 0M206.5 253.1a0.82 0.82 0 1 0 1.6 0a0.82 0.82 0 1 0 -1.6 0M211.1 253.6a0.82 0.82 0 1 0 1.6 0a0.82 0.82 0 1 0 -1.6 0M215.4 253.3a0.82 0.82 0 1 0 1.6 0a0.82 0.82 0 1 0 -1.6 0M218.0 253.6a0.82 0.82 0 1 0 1.6 0a0.82 0.82 0 1 0 -1.6 0M220.4 253.1a0.82 0.82 0 1 0 1.6 0a0.82 0.82 0 1 0 -1.6 0M222.4 253.0a0.82 0.82 0 1 0 1.6 0a0.82 0.82 0 1 0 -1.6 0M225.0 253.4a0.82 0.82 0 1 0 1.6 0a0.82 0.82 0 1 0 -1.6 0M231.7 253.5a0.82 0.82 0 1 0 1.6 0a0.82 0.82 0 1 0 -1.6 0M234.1 253.5a0.82 0.82 0 1 0 1.6 0a0.82 0.82 0 1 0 -1.6 0M236.8 253.8a0.82 0.82 0 1 0 1.6 0a0.82 0.82 0 1 0 -1.6 0M238.5 253.5a0.82 0.82 0 1 0 1.6 0a0.82 0.82 0 1 0 -1.6 0M241.5 253.5a0.82 0.82 0 1 0 1.6 0a0.82 0.82 0 1 0 -1.6 0M243.7 253.9a0.82 0.82 0 1 0 1.6 0a0.82 0.82 0 1 0 -1.6 0M247.8 253.7a0.82 0.82 0 1 0 1.6 0a0.82 0.82 0 1 0 -1.6 0M250.0 253.2a0.82 0.82 0 1 0 1.6 0a0.82 0.82 0 1 0 -1.6 0M254.8 253.0a0.82 0.82 0 1 0 1.6 0a0.82 0.82 0 1 0 -1.6 0M257.2 253.1a0.82 0.82 0 1 0 1.6 0a0.82 0.82 0 1 0 -1.6 0M259.9 253.2a0.82 0.82 0 1 0 1.6 0a0.82 0.82 0 1 0 -1.6 0M264.1 253.5a0.82 0.82 0 1 0 1.6 0a0.82 0.82 0 1 0 -1.6 0M266.2 253.9a0.82 0.82 0 1 0 1.6 0a0.82 0.82 0 1 0 -1.6 0M271.0 253.6a0.82 0.82 0 1 0 1.6 0a0.82 0.82 0 1 0 -1.6 0M273.6 253.2a0.82 0.82 0 1 0 1.6 0a0.82 0.82 0 1 0 -1.6 0M275.6 253.8a0.82 0.82 0 1 0 1.6 0a0.82 0.82 0 1 0 -1.6 0M277.8 253.1a0.82 0.82 0 1 0 1.6 0a0.82 0.82 0 1 0 -1.6 0M282.5 253.4a0.82 0.82 0 1 0 1.6 0a0.82 0.82 0 1 0 -1.6 0M284.8 253.7a0.82 0.82 0 1 0 1.6 0a0.82 0.82 0 1 0 -1.6 0M291.7 253.5a0.82 0.82 0 1 0 1.6 0a0.82 0.82 0 1 0 -1.6 0M293.7 253.6a0.82 0.82 0 1 0 1.6 0a0.82 0.82 0 1 0 -1.6 0M298.9 253.2a0.82 0.82 0 1 0 1.6 0a0.82 0.82 0 1 0 -1.6 0M301.1 253.2a0.82 0.82 0 1 0 1.6 0a0.82 0.82 0 1 0 -1.6 0M303.1 253.3a0.82 0.82 0 1 0 1.6 0a0.82 0.82 0 1 0 -1.6 0M305.4 253.6a0.82 0.82 0 1 0 1.6 0a0.82 0.82 0 1 0 -1.6 0M307.6 253.1a0.82 0.82 0 1 0 1.6 0a0.82 0.82 0 1 0 -1.6 0M309.8 253.1a0.82 0.82 0 1 0 1.6 0a0.82 0.82 0 1 0 -1.6 0M312.4 253.5a0.82 0.82 0 1 0 1.6 0a0.82 0.82 0 1 0 -1.6 0M314.8 253.0a0.82 0.82 0 1 0 1.6 0a0.82 0.82 0 1 0 -1.6 0M319.6 253.2a0.82 0.82 0 1 0 1.6 0a0.82 0.82 0 1 0 -1.6 0M321.5 253.6a0.82 0.82 0 1 0 1.6 0a0.82 0.82 0 1 0 -1.6 0M324.2 253.9a0.82 0.82 0 1 0 1.6 0a0.82 0.82 0 1 0 -1.6 0M326.4 253.6a0.82 0.82 0 1 0 1.6 0a0.82 0.82 0 1 0 -1.6 0M328.5 253.6a0.82 0.82 0 1 0 1.6 0a0.82 0.82 0 1 0 -1.6 0M330.9 253.8a0.82 0.82 0 1 0 1.6 0a0.82 0.82 0 1 0 -1.6 0M332.8 253.5a0.82 0.82 0 1 0 1.6 0a0.82 0.82 0 1 0 -1.6 0M335.0 253.9a0.82 0.82 0 1 0 1.6 0a0.82 0.82 0 1 0 -1.6 0M340.0 253.2a0.82 0.82 0 1 0 1.6 0a0.82 0.82 0 1 0 -1.6 0M344.4 253.3a0.82 0.82 0 1 0 1.6 0a0.82 0.82 0 1 0 -1.6 0M346.9 253.6a0.82 0.82 0 1 0 1.6 0a0.82 0.82 0 1 0 -1.6 0M349.3 253.7a0.82 0.82 0 1 0 1.6 0a0.82 0.82 0 1 0 -1.6 0M351.6 253.2a0.82 0.82 0 1 0 1.6 0a0.82 0.82 0 1 0 -1.6 0M358.4 253.3a0.82 0.82 0 1 0 1.6 0a0.82 0.82 0 1 0 -1.6 0M31.0 255.6a0.82 0.82 0 1 0 1.6 0a0.82 0.82 0 1 0 -1.6 0M33.0 255.2a0.82 0.82 0 1 0 1.6 0a0.82 0.82 0 1 0 -1.6 0M35.2 255.7a0.82 0.82 0 1 0 1.6 0a0.82 0.82 0 1 0 -1.6 0M37.8 255.3a0.82 0.82 0 1 0 1.6 0a0.82 0.82 0 1 0 -1.6 0M39.9 255.1a0.82 0.82 0 1 0 1.6 0a0.82 0.82 0 1 0 -1.6 0M47.0 255.3a0.82 0.82 0 1 0 1.6 0a0.82 0.82 0 1 0 -1.6 0M48.7 255.8a0.82 0.82 0 1 0 1.6 0a0.82 0.82 0 1 0 -1.6 0M51.0 255.7a0.82 0.82 0 1 0 1.6 0a0.82 0.82 0 1 0 -1.6 0M53.5 255.7a0.82 0.82 0 1 0 1.6 0a0.82 0.82 0 1 0 -1.6 0M56.2 255.6a0.82 0.82 0 1 0 1.6 0a0.82 0.82 0 1 0 -1.6 0M58.2 255.0a0.82 0.82 0 1 0 1.6 0a0.82 0.82 0 1 0 -1.6 0M60.8 255.1a0.82 0.82 0 1 0 1.6 0a0.82 0.82 0 1 0 -1.6 0M62.5 255.6a0.82 0.82 0 1 0 1.6 0a0.82 0.82 0 1 0 -1.6 0M65.2 255.3a0.82 0.82 0 1 0 1.6 0a0.82 0.82 0 1 0 -1.6 0M67.4 255.2a0.82 0.82 0 1 0 1.6 0a0.82 0.82 0 1 0 -1.6 0M69.5 255.0a0.82 0.82 0 1 0 1.6 0a0.82 0.82 0 1 0 -1.6 0M76.2 255.9a0.82 0.82 0 1 0 1.6 0a0.82 0.82 0 1 0 -1.6 0M79.3 255.4a0.82 0.82 0 1 0 1.6 0a0.82 0.82 0 1 0 -1.6 0M81.2 255.4a0.82 0.82 0 1 0 1.6 0a0.82 0.82 0 1 0 -1.6 0M83.1 255.1a0.82 0.82 0 1 0 1.6 0a0.82 0.82 0 1 0 -1.6 0M85.9 255.1a0.82 0.82 0 1 0 1.6 0a0.82 0.82 0 1 0 -1.6 0M90.2 255.6a0.82 0.82 0 1 0 1.6 0a0.82 0.82 0 1 0 -1.6 0M92.5 255.2a0.82 0.82 0 1 0 1.6 0a0.82 0.82 0 1 0 -1.6 0M95.0 255.5a0.82 0.82 0 1 0 1.6 0a0.82 0.82 0 1 0 -1.6 0M97.4 255.7a0.82 0.82 0 1 0 1.6 0a0.82 0.82 0 1 0 -1.6 0M99.8 255.6a0.82 0.82 0 1 0 1.6 0a0.82 0.82 0 1 0 -1.6 0M102.0 255.2a0.82 0.82 0 1 0 1.6 0a0.82 0.82 0 1 0 -1.6 0M104.0 255.9a0.82 0.82 0 1 0 1.6 0a0.82 0.82 0 1 0 -1.6 0M106.1 255.7a0.82 0.82 0 1 0 1.6 0a0.82 0.82 0 1 0 -1.6 0M108.8 255.6a0.82 0.82 0 1 0 1.6 0a0.82 0.82 0 1 0 -1.6 0M111.1 255.3a0.82 0.82 0 1 0 1.6 0a0.82 0.82 0 1 0 -1.6 0M113.0 255.3a0.82 0.82 0 1 0 1.6 0a0.82 0.82 0 1 0 -1.6 0M115.6 255.8a0.82 0.82 0 1 0 1.6 0a0.82 0.82 0 1 0 -1.6 0M120.7 255.5a0.82 0.82 0 1 0 1.6 0a0.82 0.82 0 1 0 -1.6 0M125.0 255.1a0.82 0.82 0 1 0 1.6 0a0.82 0.82 0 1 0 -1.6 0M126.9 255.3a0.82 0.82 0 1 0 1.6 0a0.82 0.82 0 1 0 -1.6 0M129.3 255.5a0.82 0.82 0 1 0 1.6 0a0.82 0.82 0 1 0 -1.6 0M132.0 255.2a0.82 0.82 0 1 0 1.6 0a0.82 0.82 0 1 0 -1.6 0M134.2 255.3a0.82 0.82 0 1 0 1.6 0a0.82 0.82 0 1 0 -1.6 0M136.2 255.1a0.82 0.82 0 1 0 1.6 0a0.82 0.82 0 1 0 -1.6 0M138.8 255.6a0.82 0.82 0 1 0 1.6 0a0.82 0.82 0 1 0 -1.6 0M143.0 255.6a0.82 0.82 0 1 0 1.6 0a0.82 0.82 0 1 0 -1.6 0M145.6 255.1a0.82 0.82 0 1 0 1.6 0a0.82 0.82 0 1 0 -1.6 0M147.6 255.9a0.82 0.82 0 1 0 1.6 0a0.82 0.82 0 1 0 -1.6 0M150.0 255.5a0.82 0.82 0 1 0 1.6 0a0.82 0.82 0 1 0 -1.6 0M152.9 255.6a0.82 0.82 0 1 0 1.6 0a0.82 0.82 0 1 0 -1.6 0M155.2 255.5a0.82 0.82 0 1 0 1.6 0a0.82 0.82 0 1 0 -1.6 0M157.6 255.2a0.82 0.82 0 1 0 1.6 0a0.82 0.82 0 1 0 -1.6 0M159.4 255.2a0.82 0.82 0 1 0 1.6 0a0.82 0.82 0 1 0 -1.6 0M162.0 255.1a0.82 0.82 0 1 0 1.6 0a0.82 0.82 0 1 0 -1.6 0M164.0 255.2a0.82 0.82 0 1 0 1.6 0a0.82 0.82 0 1 0 -1.6 0M168.8 255.8a0.82 0.82 0 1 0 1.6 0a0.82 0.82 0 1 0 -1.6 0M170.8 255.1a0.82 0.82 0 1 0 1.6 0a0.82 0.82 0 1 0 -1.6 0M173.5 255.4a0.82 0.82 0 1 0 1.6 0a0.82 0.82 0 1 0 -1.6 0M175.5 255.8a0.82 0.82 0 1 0 1.6 0a0.82 0.82 0 1 0 -1.6 0M178.1 255.5a0.82 0.82 0 1 0 1.6 0a0.82 0.82 0 1 0 -1.6 0M180.4 255.4a0.82 0.82 0 1 0 1.6 0a0.82 0.82 0 1 0 -1.6 0M182.2 255.5a0.82 0.82 0 1 0 1.6 0a0.82 0.82 0 1 0 -1.6 0M184.8 255.2a0.82 0.82 0 1 0 1.6 0a0.82 0.82 0 1 0 -1.6 0M186.9 255.4a0.82 0.82 0 1 0 1.6 0a0.82 0.82 0 1 0 -1.6 0M189.1 255.4a0.82 0.82 0 1 0 1.6 0a0.82 0.82 0 1 0 -1.6 0M196.6 255.7a0.82 0.82 0 1 0 1.6 0a0.82 0.82 0 1 0 -1.6 0M198.9 255.2a0.82 0.82 0 1 0 1.6 0a0.82 0.82 0 1 0 -1.6 0M201.2 255.8a0.82 0.82 0 1 0 1.6 0a0.82 0.82 0 1 0 -1.6 0M202.7 255.6a0.82 0.82 0 1 0 1.6 0a0.82 0.82 0 1 0 -1.6 0M205.1 255.8a0.82 0.82 0 1 0 1.6 0a0.82 0.82 0 1 0 -1.6 0M207.7 255.2a0.82 0.82 0 1 0 1.6 0a0.82 0.82 0 1 0 -1.6 0M209.8 255.5a0.82 0.82 0 1 0 1.6 0a0.82 0.82 0 1 0 -1.6 0M212.2 255.1a0.82 0.82 0 1 0 1.6 0a0.82 0.82 0 1 0 -1.6 0M214.8 255.3a0.82 0.82 0 1 0 1.6 0a0.82 0.82 0 1 0 -1.6 0M216.9 255.3a0.82 0.82 0 1 0 1.6 0a0.82 0.82 0 1 0 -1.6 0M219.3 255.4a0.82 0.82 0 1 0 1.6 0a0.82 0.82 0 1 0 -1.6 0M223.5 255.2a0.82 0.82 0 1 0 1.6 0a0.82 0.82 0 1 0 -1.6 0M226.4 255.6a0.82 0.82 0 1 0 1.6 0a0.82 0.82 0 1 0 -1.6 0M228.5 255.8a0.82 0.82 0 1 0 1.6 0a0.82 0.82 0 1 0 -1.6 0M231.0 255.7a0.82 0.82 0 1 0 1.6 0a0.82 0.82 0 1 0 -1.6 0M232.7 255.3a0.82 0.82 0 1 0 1.6 0a0.82 0.82 0 1 0 -1.6 0M235.5 255.4a0.82 0.82 0 1 0 1.6 0a0.82 0.82 0 1 0 -1.6 0M237.6 255.5a0.82 0.82 0 1 0 1.6 0a0.82 0.82 0 1 0 -1.6 0M241.9 255.0a0.82 0.82 0 1 0 1.6 0a0.82 0.82 0 1 0 -1.6 0M244.2 255.2a0.82 0.82 0 1 0 1.6 0a0.82 0.82 0 1 0 -1.6 0M246.7 255.5a0.82 0.82 0 1 0 1.6 0a0.82 0.82 0 1 0 -1.6 0M249.3 255.7a0.82 0.82 0 1 0 1.6 0a0.82 0.82 0 1 0 -1.6 0M251.0 255.6a0.82 0.82 0 1 0 1.6 0a0.82 0.82 0 1 0 -1.6 0M253.6 255.0a0.82 0.82 0 1 0 1.6 0a0.82 0.82 0 1 0 -1.6 0M256.3 255.5a0.82 0.82 0 1 0 1.6 0a0.82 0.82 0 1 0 -1.6 0M258.7 255.1a0.82 0.82 0 1 0 1.6 0a0.82 0.82 0 1 0 -1.6 0M260.3 255.4a0.82 0.82 0 1 0 1.6 0a0.82 0.82 0 1 0 -1.6 0M265.5 255.6a0.82 0.82 0 1 0 1.6 0a0.82 0.82 0 1 0 -1.6 0M267.4 255.3a0.82 0.82 0 1 0 1.6 0a0.82 0.82 0 1 0 -1.6 0M269.5 255.6a0.82 0.82 0 1 0 1.6 0a0.82 0.82 0 1 0 -1.6 0M272.0 255.9a0.82 0.82 0 1 0 1.6 0a0.82 0.82 0 1 0 -1.6 0M274.5 255.3a0.82 0.82 0 1 0 1.6 0a0.82 0.82 0 1 0 -1.6 0M276.7 255.5a0.82 0.82 0 1 0 1.6 0a0.82 0.82 0 1 0 -1.6 0M278.8 255.4a0.82 0.82 0 1 0 1.6 0a0.82 0.82 0 1 0 -1.6 0M281.7 255.4a0.82 0.82 0 1 0 1.6 0a0.82 0.82 0 1 0 -1.6 0M283.4 255.5a0.82 0.82 0 1 0 1.6 0a0.82 0.82 0 1 0 -1.6 0M286.3 255.5a0.82 0.82 0 1 0 1.6 0a0.82 0.82 0 1 0 -1.6 0M288.3 255.3a0.82 0.82 0 1 0 1.6 0a0.82 0.82 0 1 0 -1.6 0M290.4 255.6a0.82 0.82 0 1 0 1.6 0a0.82 0.82 0 1 0 -1.6 0M292.6 255.8a0.82 0.82 0 1 0 1.6 0a0.82 0.82 0 1 0 -1.6 0M295.1 255.8a0.82 0.82 0 1 0 1.6 0a0.82 0.82 0 1 0 -1.6 0M297.4 255.9a0.82 0.82 0 1 0 1.6 0a0.82 0.82 0 1 0 -1.6 0M299.9 255.1a0.82 0.82 0 1 0 1.6 0a0.82 0.82 0 1 0 -1.6 0M301.7 255.8a0.82 0.82 0 1 0 1.6 0a0.82 0.82 0 1 0 -1.6 0M304.5 255.7a0.82 0.82 0 1 0 1.6 0a0.82 0.82 0 1 0 -1.6 0M306.8 255.7a0.82 0.82 0 1 0 1.6 0a0.82 0.82 0 1 0 -1.6 0M308.9 255.6a0.82 0.82 0 1 0 1.6 0a0.82 0.82 0 1 0 -1.6 0M311.4 255.7a0.82 0.82 0 1 0 1.6 0a0.82 0.82 0 1 0 -1.6 0M313.3 255.9a0.82 0.82 0 1 0 1.6 0a0.82 0.82 0 1 0 -1.6 0M31.4 257.3a0.82 0.82 0 1 0 1.6 0a0.82 0.82 0 1 0 -1.6 0M36.0 257.0a0.82 0.82 0 1 0 1.6 0a0.82 0.82 0 1 0 -1.6 0M38.7 257.5a0.82 0.82 0 1 0 1.6 0a0.82 0.82 0 1 0 -1.6 0M41.3 257.0a0.82 0.82 0 1 0 1.6 0a0.82 0.82 0 1 0 -1.6 0M43.0 257.1a0.82 0.82 0 1 0 1.6 0a0.82 0.82 0 1 0 -1.6 0M47.8 257.2a0.82 0.82 0 1 0 1.6 0a0.82 0.82 0 1 0 -1.6 0M50.5 257.7a0.82 0.82 0 1 0 1.6 0a0.82 0.82 0 1 0 -1.6 0M52.9 257.0a0.82 0.82 0 1 0 1.6 0a0.82 0.82 0 1 0 -1.6 0M55.2 257.0a0.82 0.82 0 1 0 1.6 0a0.82 0.82 0 1 0 -1.6 0M57.1 257.7a0.82 0.82 0 1 0 1.6 0a0.82 0.82 0 1 0 -1.6 0M59.8 257.2a0.82 0.82 0 1 0 1.6 0a0.82 0.82 0 1 0 -1.6 0M61.6 257.9a0.82 0.82 0 1 0 1.6 0a0.82 0.82 0 1 0 -1.6 0M63.6 257.0a0.82 0.82 0 1 0 1.6 0a0.82 0.82 0 1 0 -1.6 0M66.0 257.8a0.82 0.82 0 1 0 1.6 0a0.82 0.82 0 1 0 -1.6 0M69.0 257.8a0.82 0.82 0 1 0 1.6 0a0.82 0.82 0 1 0 -1.6 0M70.7 257.5a0.82 0.82 0 1 0 1.6 0a0.82 0.82 0 1 0 -1.6 0M72.8 257.6a0.82 0.82 0 1 0 1.6 0a0.82 0.82 0 1 0 -1.6 0M75.6 257.6a0.82 0.82 0 1 0 1.6 0a0.82 0.82 0 1 0 -1.6 0M77.4 257.6a0.82 0.82 0 1 0 1.6 0a0.82 0.82 0 1 0 -1.6 0M79.7 257.7a0.82 0.82 0 1 0 1.6 0a0.82 0.82 0 1 0 -1.6 0M82.8 257.8a0.82 0.82 0 1 0 1.6 0a0.82 0.82 0 1 0 -1.6 0M86.8 257.7a0.82 0.82 0 1 0 1.6 0a0.82 0.82 0 1 0 -1.6 0M91.9 257.1a0.82 0.82 0 1 0 1.6 0a0.82 0.82 0 1 0 -1.6 0M93.7 257.1a0.82 0.82 0 1 0 1.6 0a0.82 0.82 0 1 0 -1.6 0M96.6 257.2a0.82 0.82 0 1 0 1.6 0a0.82 0.82 0 1 0 -1.6 0M98.3 257.3a0.82 0.82 0 1 0 1.6 0a0.82 0.82 0 1 0 -1.6 0M101.1 257.1a0.82 0.82 0 1 0 1.6 0a0.82 0.82 0 1 0 -1.6 0M103.2 257.7a0.82 0.82 0 1 0 1.6 0a0.82 0.82 0 1 0 -1.6 0M105.1 257.1a0.82 0.82 0 1 0 1.6 0a0.82 0.82 0 1 0 -1.6 0M107.3 257.6a0.82 0.82 0 1 0 1.6 0a0.82 0.82 0 1 0 -1.6 0M110.3 257.7a0.82 0.82 0 1 0 1.6 0a0.82 0.82 0 1 0 -1.6 0M112.6 257.9a0.82 0.82 0 1 0 1.6 0a0.82 0.82 0 1 0 -1.6 0M116.7 257.1a0.82 0.82 0 1 0 1.6 0a0.82 0.82 0 1 0 -1.6 0M119.5 257.8a0.82 0.82 0 1 0 1.6 0a0.82 0.82 0 1 0 -1.6 0M121.6 257.6a0.82 0.82 0 1 0 1.6 0a0.82 0.82 0 1 0 -1.6 0M123.8 257.7a0.82 0.82 0 1 0 1.6 0a0.82 0.82 0 1 0 -1.6 0M128.2 257.0a0.82 0.82 0 1 0 1.6 0a0.82 0.82 0 1 0 -1.6 0M130.4 257.6a0.82 0.82 0 1 0 1.6 0a0.82 0.82 0 1 0 -1.6 0M137.9 257.5a0.82 0.82 0 1 0 1.6 0a0.82 0.82 0 1 0 -1.6 0M140.3 257.6a0.82 0.82 0 1 0 1.6 0a0.82 0.82 0 1 0 -1.6 0M142.3 257.7a0.82 0.82 0 1 0 1.6 0a0.82 0.82 0 1 0 -1.6 0M146.3 257.4a0.82 0.82 0 1 0 1.6 0a0.82 0.82 0 1 0 -1.6 0M148.9 257.1a0.82 0.82 0 1 0 1.6 0a0.82 0.82 0 1 0 -1.6 0M153.9 257.2a0.82 0.82 0 1 0 1.6 0a0.82 0.82 0 1 0 -1.6 0M156.3 257.2a0.82 0.82 0 1 0 1.6 0a0.82 0.82 0 1 0 -1.6 0M158.7 257.7a0.82 0.82 0 1 0 1.6 0a0.82 0.82 0 1 0 -1.6 0M160.6 257.2a0.82 0.82 0 1 0 1.6 0a0.82 0.82 0 1 0 -1.6 0M162.7 257.3a0.82 0.82 0 1 0 1.6 0a0.82 0.82 0 1 0 -1.6 0M165.3 257.7a0.82 0.82 0 1 0 1.6 0a0.82 0.82 0 1 0 -1.6 0M167.1 257.8a0.82 0.82 0 1 0 1.6 0a0.82 0.82 0 1 0 -1.6 0M172.5 257.0a0.82 0.82 0 1 0 1.6 0a0.82 0.82 0 1 0 -1.6 0M174.6 257.3a0.82 0.82 0 1 0 1.6 0a0.82 0.82 0 1 0 -1.6 0M176.7 257.3a0.82 0.82 0 1 0 1.6 0a0.82 0.82 0 1 0 -1.6 0M183.4 257.6a0.82 0.82 0 1 0 1.6 0a0.82 0.82 0 1 0 -1.6 0M186.2 257.5a0.82 0.82 0 1 0 1.6 0a0.82 0.82 0 1 0 -1.6 0M213.8 257.4a0.82 0.82 0 1 0 1.6 0a0.82 0.82 0 1 0 -1.6 0M220.2 257.7a0.82 0.82 0 1 0 1.6 0a0.82 0.82 0 1 0 -1.6 0M222.5 257.4a0.82 0.82 0 1 0 1.6 0a0.82 0.82 0 1 0 -1.6 0M225.1 257.2a0.82 0.82 0 1 0 1.6 0a0.82 0.82 0 1 0 -1.6 0M226.9 257.3a0.82 0.82 0 1 0 1.6 0a0.82 0.82 0 1 0 -1.6 0M243.4 257.2a0.82 0.82 0 1 0 1.6 0a0.82 0.82 0 1 0 -1.6 0M245.5 257.4a0.82 0.82 0 1 0 1.6 0a0.82 0.82 0 1 0 -1.6 0M252.2 257.2a0.82 0.82 0 1 0 1.6 0a0.82 0.82 0 1 0 -1.6 0M268.5 257.6a0.82 0.82 0 1 0 1.6 0a0.82 0.82 0 1 0 -1.6 0M271.4 257.6a0.82 0.82 0 1 0 1.6 0a0.82 0.82 0 1 0 -1.6 0M289.4 257.4a0.82 0.82 0 1 0 1.6 0a0.82 0.82 0 1 0 -1.6 0" fill="#6890ac" opacity="1.0"/><path d="M141.1 60.4a0.8 0.8 0 1 0 1.6 0a0.8 0.8 0 1 0 -1.6 0M133.1 62.4a0.8 0.8 0 1 0 1.6 0a0.8 0.8 0 1 0 -1.6 0M137.8 62.4a0.8 0.8 0 1 0 1.6 0a0.8 0.8 0 1 0 -1.6 0M140.4 62.6a0.8 0.8 0 1 0 1.6 0a0.8 0.8 0 1 0 -1.6 0M142.5 62.4a0.8 0.8 0 1 0 1.6 0a0.8 0.8 0 1 0 -1.6 0M129.9 64.1a0.8 0.8 0 1 0 1.6 0a0.8 0.8 0 1 0 -1.6 0M132.0 64.7a0.8 0.8 0 1 0 1.6 0a0.8 0.8 0 1 0 -1.6 0M134.8 64.9a0.8 0.8 0 1 0 1.6 0a0.8 0.8 0 1 0 -1.6 0M137.0 64.3a0.8 0.8 0 1 0 1.6 0a0.8 0.8 0 1 0 -1.6 0M138.8 64.1a0.8 0.8 0 1 0 1.6 0a0.8 0.8 0 1 0 -1.6 0M140.9 64.3a0.8 0.8 0 1 0 1.6 0a0.8 0.8 0 1 0 -1.6 0M143.4 64.8a0.8 0.8 0 1 0 1.6 0a0.8 0.8 0 1 0 -1.6 0M145.7 64.8a0.8 0.8 0 1 0 1.6 0a0.8 0.8 0 1 0 -1.6 0M129.0 66.8a0.8 0.8 0 1 0 1.6 0a0.8 0.8 0 1 0 -1.6 0M130.8 66.9a0.8 0.8 0 1 0 1.6 0a0.8 0.8 0 1 0 -1.6 0M133.1 66.3a0.8 0.8 0 1 0 1.6 0a0.8 0.8 0 1 0 -1.6 0M135.9 66.2a0.8 0.8 0 1 0 1.6 0a0.8 0.8 0 1 0 -1.6 0M138.1 66.3a0.8 0.8 0 1 0 1.6 0a0.8 0.8 0 1 0 -1.6 0M140.0 66.2a0.8 0.8 0 1 0 1.6 0a0.8 0.8 0 1 0 -1.6 0M142.0 66.3a0.8 0.8 0 1 0 1.6 0a0.8 0.8 0 1 0 -1.6 0M144.7 66.2a0.8 0.8 0 1 0 1.6 0a0.8 0.8 0 1 0 -1.6 0M147.5 66.2a0.8 0.8 0 1 0 1.6 0a0.8 0.8 0 1 0 -1.6 0M149.0 66.5a0.8 0.8 0 1 0 1.6 0a0.8 0.8 0 1 0 -1.6 0M125.0 68.8a0.8 0.8 0 1 0 1.6 0a0.8 0.8 0 1 0 -1.6 0M127.3 68.2a0.8 0.8 0 1 0 1.6 0a0.8 0.8 0 1 0 -1.6 0M129.5 68.3a0.8 0.8 0 1 0 1.6 0a0.8 0.8 0 1 0 -1.6 0M134.2 68.4a0.8 0.8 0 1 0 1.6 0a0.8 0.8 0 1 0 -1.6 0M136.6 68.6a0.8 0.8 0 1 0 1.6 0a0.8 0.8 0 1 0 -1.6 0M141.7 68.9a0.8 0.8 0 1 0 1.6 0a0.8 0.8 0 1 0 -1.6 0M146.2 68.2a0.8 0.8 0 1 0 1.6 0a0.8 0.8 0 1 0 -1.6 0M148.4 68.3a0.8 0.8 0 1 0 1.6 0a0.8 0.8 0 1 0 -1.6 0M150.7 68.2a0.8 0.8 0 1 0 1.6 0a0.8 0.8 0 1 0 -1.6 0M126.4 70.1a0.8 0.8 0 1 0 1.6 0a0.8 0.8 0 1 0 -1.6 0M129.1 70.1a0.8 0.8 0 1 0 1.6 0a0.8 0.8 0 1 0 -1.6 0M133.4 70.1a0.8 0.8 0 1 0 1.6 0a0.8 0.8 0 1 0 -1.6 0M135.7 70.9a0.8 0.8 0 1 0 1.6 0a0.8 0.8 0 1 0 -1.6 0M138.1 70.3a0.8 0.8 0 1 0 1.6 0a0.8 0.8 0 1 0 -1.6 0M139.9 70.3a0.8 0.8 0 1 0 1.6 0a0.8 0.8 0 1 0 -1.6 0M142.8 70.5a0.8 0.8 0 1 0 1.6 0a0.8 0.8 0 1 0 -1.6 0M145.1 70.1a0.8 0.8 0 1 0 1.6 0a0.8 0.8 0 1 0 -1.6 0M146.6 70.2a0.8 0.8 0 1 0 1.6 0a0.8 0.8 0 1 0 -1.6 0M149.3 70.1a0.8 0.8 0 1 0 1.6 0a0.8 0.8 0 1 0 -1.6 0M130.2 72.0a0.8 0.8 0 1 0 1.6 0a0.8 0.8 0 1 0 -1.6 0M132.0 72.1a0.8 0.8 0 1 0 1.6 0a0.8 0.8 0 1 0 -1.6 0M134.8 72.6a0.8 0.8 0 1 0 1.6 0a0.8 0.8 0 1 0 -1.6 0M136.8 72.0a0.8 0.8 0 1 0 1.6 0a0.8 0.8 0 1 0 -1.6 0M139.4 72.6a0.8 0.8 0 1 0 1.6 0a0.8 0.8 0 1 0 -1.6 0M140.9 72.5a0.8 0.8 0 1 0 1.6 0a0.8 0.8 0 1 0 -1.6 0M143.9 72.7a0.8 0.8 0 1 0 1.6 0a0.8 0.8 0 1 0 -1.6 0M146.0 72.8a0.8 0.8 0 1 0 1.6 0a0.8 0.8 0 1 0 -1.6 0M133.3 74.2a0.8 0.8 0 1 0 1.6 0a0.8 0.8 0 1 0 -1.6 0M135.2 74.6a0.8 0.8 0 1 0 1.6 0a0.8 0.8 0 1 0 -1.6 0M137.4 74.8a0.8 0.8 0 1 0 1.6 0a0.8 0.8 0 1 0 -1.6 0M139.7 74.7a0.8 0.8 0 1 0 1.6 0a0.8 0.8 0 1 0 -1.6 0" fill="#78c2b0" opacity="1.0"/><path d="M116.2 68.2a0.75 0.75 0 1 0 1.5 0a0.75 0.75 0 1 0 -1.5 0M120.5 68.6a0.75 0.75 0 1 0 1.5 0a0.75 0.75 0 1 0 -1.5 0M123.2 68.9a0.75 0.75 0 1 0 1.5 0a0.75 0.75 0 1 0 -1.5 0M117.6 70.1a0.75 0.75 0 1 0 1.5 0a0.75 0.75 0 1 0 -1.5 0M120.0 70.4a0.75 0.75 0 1 0 1.5 0a0.75 0.75 0 1 0 -1.5 0M116.1 72.3a0.75 0.75 0 1 0 1.5 0a0.75 0.75 0 1 0 -1.5 0M118.5 72.7a0.75 0.75 0 1 0 1.5 0a0.75 0.75 0 1 0 -1.5 0M120.8 72.2a0.75 0.75 0 1 0 1.5 0a0.75 0.75 0 1 0 -1.5 0M122.9 72.7a0.75 0.75 0 1 0 1.5 0a0.75 0.75 0 1 0 -1.5 0" fill="#78c2b0" opacity="1.0"/><path d="M108.5 65.9a0.7 0.7 0 1 0 1.4 0a0.7 0.7 0 1 0 -1.4 0M111.0 66.2a0.7 0.7 0 1 0 1.4 0a0.7 0.7 0 1 0 -1.4 0M113.2 66.3a0.7 0.7 0 1 0 1.4 0a0.7 0.7 0 1 0 -1.4 0M107.2 67.7a0.7 0.7 0 1 0 1.4 0a0.7 0.7 0 1 0 -1.4 0M99.0 70.3a0.7 0.7 0 1 0 1.4 0a0.7 0.7 0 1 0 -1.4 0M106.5 70.0a0.7 0.7 0 1 0 1.4 0a0.7 0.7 0 1 0 -1.4 0M111.2 69.6a0.7 0.7 0 1 0 1.4 0a0.7 0.7 0 1 0 -1.4 0M112.8 69.9a0.7 0.7 0 1 0 1.4 0a0.7 0.7 0 1 0 -1.4 0" fill="#78c2b0" opacity="1.0"/><path d="M151.3 65.3a0.7 0.7 0 1 0 1.4 0a0.7 0.7 0 1 0 -1.4 0M188.1 65.3a0.7 0.7 0 1 0 1.4 0a0.7 0.7 0 1 0 -1.4 0M197.5 64.6a0.7 0.7 0 1 0 1.4 0a0.7 0.7 0 1 0 -1.4 0M199.7 64.9a0.7 0.7 0 1 0 1.4 0a0.7 0.7 0 1 0 -1.4 0M220.2 64.8a0.7 0.7 0 1 0 1.4 0a0.7 0.7 0 1 0 -1.4 0M166.5 67.2a0.7 0.7 0 1 0 1.4 0a0.7 0.7 0 1 0 -1.4 0M170.7 67.3a0.7 0.7 0 1 0 1.4 0a0.7 0.7 0 1 0 -1.4 0M177.7 66.5a0.7 0.7 0 1 0 1.4 0a0.7 0.7 0 1 0 -1.4 0M182.5 67.4a0.7 0.7 0 1 0 1.4 0a0.7 0.7 0 1 0 -1.4 0M184.6 67.0a0.7 0.7 0 1 0 1.4 0a0.7 0.7 0 1 0 -1.4 0M196.1 67.1a0.7 0.7 0 1 0 1.4 0a0.7 0.7 0 1 0 -1.4 0M203.2 67.3a0.7 0.7 0 1 0 1.4 0a0.7 0.7 0 1 0 -1.4 0M205.1 67.0a0.7 0.7 0 1 0 1.4 0a0.7 0.7 0 1 0 -1.4 0M211.9 66.8a0.7 0.7 0 1 0 1.4 0a0.7 0.7 0 1 0 -1.4 0M214.4 67.4a0.7 0.7 0 1 0 1.4 0a0.7 0.7 0 1 0 -1.4 0M151.6 69.4a0.7 0.7 0 1 0 1.4 0a0.7 0.7 0 1 0 -1.4 0M158.6 69.0a0.7 0.7 0 1 0 1.4 0a0.7 0.7 0 1 0 -1.4 0M163.0 69.2a0.7 0.7 0 1 0 1.4 0a0.7 0.7 0 1 0 -1.4 0M172.0 68.6a0.7 0.7 0 1 0 1.4 0a0.7 0.7 0 1 0 -1.4 0M185.9 69.3a0.7 0.7 0 1 0 1.4 0a0.7 0.7 0 1 0 -1.4 0M197.3 69.2a0.7 0.7 0 1 0 1.4 0a0.7 0.7 0 1 0 -1.4 0M202.3 69.3a0.7 0.7 0 1 0 1.4 0a0.7 0.7 0 1 0 -1.4 0M206.1 69.0a0.7 0.7 0 1 0 1.4 0a0.7 0.7 0 1 0 -1.4 0M213.7 68.7a0.7 0.7 0 1 0 1.4 0a0.7 0.7 0 1 0 -1.4 0M215.3 69.0a0.7 0.7 0 1 0 1.4 0a0.7 0.7 0 1 0 -1.4 0M220.4 68.8a0.7 0.7 0 1 0 1.4 0a0.7 0.7 0 1 0 -1.4 0M152.7 70.9a0.7 0.7 0 1 0 1.4 0a0.7 0.7 0 1 0 -1.4 0M159.3 71.1a0.7 0.7 0 1 0 1.4 0a0.7 0.7 0 1 0 -1.4 0M166.2 70.9a0.7 0.7 0 1 0 1.4 0a0.7 0.7 0 1 0 -1.4 0M177.6 71.1a0.7 0.7 0 1 0 1.4 0a0.7 0.7 0 1 0 -1.4 0M185.0 70.6a0.7 0.7 0 1 0 1.4 0a0.7 0.7 0 1 0 -1.4 0M195.7 71.1a0.7 0.7 0 1 0 1.4 0a0.7 0.7 0 1 0 -1.4 0M210.3 70.8a0.7 0.7 0 1 0 1.4 0a0.7 0.7 0 1 0 -1.4 0M216.9 70.8a0.7 0.7 0 1 0 1.4 0a0.7 0.7 0 1 0 -1.4 0M223.6 71.3a0.7 0.7 0 1 0 1.4 0a0.7 0.7 0 1 0 -1.4 0M225.8 71.4a0.7 0.7 0 1 0 1.4 0a0.7 0.7 0 1 0 -1.4 0M151.0 72.9a0.7 0.7 0 1 0 1.4 0a0.7 0.7 0 1 0 -1.4 0M153.3 73.4a0.7 0.7 0 1 0 1.4 0a0.7 0.7 0 1 0 -1.4 0M186.1 73.1a0.7 0.7 0 1 0 1.4 0a0.7 0.7 0 1 0 -1.4 0M206.2 73.4a0.7 0.7 0 1 0 1.4 0a0.7 0.7 0 1 0 -1.4 0M211.0 73.4a0.7 0.7 0 1 0 1.4 0a0.7 0.7 0 1 0 -1.4 0M213.3 73.4a0.7 0.7 0 1 0 1.4 0a0.7 0.7 0 1 0 -1.4 0M227.5 73.2a0.7 0.7 0 1 0 1.4 0a0.7 0.7 0 1 0 -1.4 0" fill="#78c2b0" opacity="1.0"/><path d="M196.5 64.2a0.75 0.75 0 1 0 1.5 0a0.75 0.75 0 1 0 -1.5 0M200.6 65.7a0.75 0.75 0 1 0 1.5 0a0.75 0.75 0 1 0 -1.5 0M213.8 66.0a0.75 0.75 0 1 0 1.5 0a0.75 0.75 0 1 0 -1.5 0M197.1 68.1a0.75 0.75 0 1 0 1.5 0a0.75 0.75 0 1 0 -1.5 0M198.8 68.0a0.75 0.75 0 1 0 1.5 0a0.75 0.75 0 1 0 -1.5 0M201.0 67.6a0.75 0.75 0 1 0 1.5 0a0.75 0.75 0 1 0 -1.5 0M203.6 67.9a0.75 0.75 0 1 0 1.5 0a0.75 0.75 0 1 0 -1.5 0M206.1 68.1a0.75 0.75 0 1 0 1.5 0a0.75 0.75 0 1 0 -1.5 0M212.6 67.6a0.75 0.75 0 1 0 1.5 0a0.75 0.75 0 1 0 -1.5 0M193.8 70.0a0.75 0.75 0 1 0 1.5 0a0.75 0.75 0 1 0 -1.5 0M195.8 70.2a0.75 0.75 0 1 0 1.5 0a0.75 0.75 0 1 0 -1.5 0M200.7 69.8a0.75 0.75 0 1 0 1.5 0a0.75 0.75 0 1 0 -1.5 0M209.3 70.3a0.75 0.75 0 1 0 1.5 0a0.75 0.75 0 1 0 -1.5 0M191.9 72.3a0.75 0.75 0 1 0 1.5 0a0.75 0.75 0 1 0 -1.5 0M194.5 72.3a0.75 0.75 0 1 0 1.5 0a0.75 0.75 0 1 0 -1.5 0M198.7 72.0a0.75 0.75 0 1 0 1.5 0a0.75 0.75 0 1 0 -1.5 0M201.4 72.1a0.75 0.75 0 1 0 1.5 0a0.75 0.75 0 1 0 -1.5 0M206.1 71.9a0.75 0.75 0 1 0 1.5 0a0.75 0.75 0 1 0 -1.5 0M208.2 71.6a0.75 0.75 0 1 0 1.5 0a0.75 0.75 0 1 0 -1.5 0M210.9 71.9a0.75 0.75 0 1 0 1.5 0a0.75 0.75 0 1 0 -1.5 0M212.7 72.3a0.75 0.75 0 1 0 1.5 0a0.75 0.75 0 1 0 -1.5 0" fill="#78c2b0" opacity="1.0"/><path d="M176.6 106.8a0.75 0.75 0 1 0 1.5 0a0.75 0.75 0 1 0 -1.5 0M157.3 108.8a0.75 0.75 0 1 0 1.5 0a0.75 0.75 0 1 0 -1.5 0M159.6 109.3a0.75 0.75 0 1 0 1.5 0a0.75 0.75 0 1 0 -1.5 0M162.0 108.6a0.75 0.75 0 1 0 1.5 0a0.75 0.75 0 1 0 -1.5 0M166.8 109.3a0.75 0.75 0 1 0 1.5 0a0.75 0.75 0 1 0 -1.5 0M168.6 109.2a0.75 0.75 0 1 0 1.5 0a0.75 0.75 0 1 0 -1.5 0M171.4 108.7a0.75 0.75 0 1 0 1.5 0a0.75 0.75 0 1 0 -1.5 0M176.1 108.7a0.75 0.75 0 1 0 1.5 0a0.75 0.75 0 1 0 -1.5 0M178.1 108.9a0.75 0.75 0 1 0 1.5 0a0.75 0.75 0 1 0 -1.5 0M180.0 109.1a0.75 0.75 0 1 0 1.5 0a0.75 0.75 0 1 0 -1.5 0M183.0 108.9a0.75 0.75 0 1 0 1.5 0a0.75 0.75 0 1 0 -1.5 0M149.6 110.6a0.75 0.75 0 1 0 1.5 0a0.75 0.75 0 1 0 -1.5 0M151.1 111.0a0.75 0.75 0 1 0 1.5 0a0.75 0.75 0 1 0 -1.5 0M156.3 111.4a0.75 0.75 0 1 0 1.5 0a0.75 0.75 0 1 0 -1.5 0M158.3 111.2a0.75 0.75 0 1 0 1.5 0a0.75 0.75 0 1 0 -1.5 0M160.7 110.7a0.75 0.75 0 1 0 1.5 0a0.75 0.75 0 1 0 -1.5 0M162.9 111.0a0.75 0.75 0 1 0 1.5 0a0.75 0.75 0 1 0 -1.5 0M174.7 111.2a0.75 0.75 0 1 0 1.5 0a0.75 0.75 0 1 0 -1.5 0M179.0 111.4a0.75 0.75 0 1 0 1.5 0a0.75 0.75 0 1 0 -1.5 0M181.3 111.2a0.75 0.75 0 1 0 1.5 0a0.75 0.75 0 1 0 -1.5 0M184.0 111.3a0.75 0.75 0 1 0 1.5 0a0.75 0.75 0 1 0 -1.5 0M155.3 113.2a0.75 0.75 0 1 0 1.5 0a0.75 0.75 0 1 0 -1.5 0M159.5 113.0a0.75 0.75 0 1 0 1.5 0a0.75 0.75 0 1 0 -1.5 0M164.2 113.1a0.75 0.75 0 1 0 1.5 0a0.75 0.75 0 1 0 -1.5 0M166.1 112.6a0.75 0.75 0 1 0 1.5 0a0.75 0.75 0 1 0 -1.5 0M173.4 112.8a0.75 0.75 0 1 0 1.5 0a0.75 0.75 0 1 0 -1.5 0M175.6 113.3a0.75 0.75 0 1 0 1.5 0a0.75 0.75 0 1 0 -1.5 0M177.9 112.9a0.75 0.75 0 1 0 1.5 0a0.75 0.75 0 1 0 -1.5 0M180.3 112.6a0.75 0.75 0 1 0 1.5 0a0.75 0.75 0 1 0 -1.5 0M182.4 113.4a0.75 0.75 0 1 0 1.5 0a0.75 0.75 0 1 0 -1.5 0M184.6 112.6a0.75 0.75 0 1 0 1.5 0a0.75 0.75 0 1 0 -1.5 0M149.6 115.3a0.75 0.75 0 1 0 1.5 0a0.75 0.75 0 1 0 -1.5 0M153.5 115.1a0.75 0.75 0 1 0 1.5 0a0.75 0.75 0 1 0 -1.5 0M158.2 114.7a0.75 0.75 0 1 0 1.5 0a0.75 0.75 0 1 0 -1.5 0M161.0 115.3a0.75 0.75 0 1 0 1.5 0a0.75 0.75 0 1 0 -1.5 0M163.0 115.1a0.75 0.75 0 1 0 1.5 0a0.75 0.75 0 1 0 -1.5 0M167.7 114.6a0.75 0.75 0 1 0 1.5 0a0.75 0.75 0 1 0 -1.5 0M169.6 115.3a0.75 0.75 0 1 0 1.5 0a0.75 0.75 0 1 0 -1.5 0M172.4 115.0a0.75 0.75 0 1 0 1.5 0a0.75 0.75 0 1 0 -1.5 0M174.3 114.6a0.75 0.75 0 1 0 1.5 0a0.75 0.75 0 1 0 -1.5 0M177.0 114.6a0.75 0.75 0 1 0 1.5 0a0.75 0.75 0 1 0 -1.5 0M181.9 115.2a0.75 0.75 0 1 0 1.5 0a0.75 0.75 0 1 0 -1.5 0M183.5 114.9a0.75 0.75 0 1 0 1.5 0a0.75 0.75 0 1 0 -1.5 0M150.6 116.8a0.75 0.75 0 1 0 1.5 0a0.75 0.75 0 1 0 -1.5 0M152.9 116.5a0.75 0.75 0 1 0 1.5 0a0.75 0.75 0 1 0 -1.5 0M154.8 116.9a0.75 0.75 0 1 0 1.5 0a0.75 0.75 0 1 0 -1.5 0M157.3 117.1a0.75 0.75 0 1 0 1.5 0a0.75 0.75 0 1 0 -1.5 0M159.5 116.5a0.75 0.75 0 1 0 1.5 0a0.75 0.75 0 1 0 -1.5 0M163.8 117.0a0.75 0.75 0 1 0 1.5 0a0.75 0.75 0 1 0 -1.5 0M166.9 116.9a0.75 0.75 0 1 0 1.5 0a0.75 0.75 0 1 0 -1.5 0M169.2 117.0a0.75 0.75 0 1 0 1.5 0a0.75 0.75 0 1 0 -1.5 0M171.2 116.9a0.75 0.75 0 1 0 1.5 0a0.75 0.75 0 1 0 -1.5 0M173.0 116.8a0.75 0.75 0 1 0 1.5 0a0.75 0.75 0 1 0 -1.5 0M176.0 117.0a0.75 0.75 0 1 0 1.5 0a0.75 0.75 0 1 0 -1.5 0M178.1 116.8a0.75 0.75 0 1 0 1.5 0a0.75 0.75 0 1 0 -1.5 0M180.7 117.1a0.75 0.75 0 1 0 1.5 0a0.75 0.75 0 1 0 -1.5 0M162.9 119.4a0.75 0.75 0 1 0 1.5 0a0.75 0.75 0 1 0 -1.5 0M165.6 118.7a0.75 0.75 0 1 0 1.5 0a0.75 0.75 0 1 0 -1.5 0M169.6 119.1a0.75 0.75 0 1 0 1.5 0a0.75 0.75 0 1 0 -1.5 0M172.0 118.7a0.75 0.75 0 1 0 1.5 0a0.75 0.75 0 1 0 -1.5 0M174.5 118.6a0.75 0.75 0 1 0 1.5 0a0.75 0.75 0 1 0 -1.5 0M176.9 119.0a0.75 0.75 0 1 0 1.5 0a0.75 0.75 0 1 0 -1.5 0" fill="#e4e4a0" opacity="1.0"/><path d="M185.4 109.2a0.72 0.72 0 1 0 1.4 0a0.72 0.72 0 1 0 -1.4 0M198.8 109.1a0.72 0.72 0 1 0 1.4 0a0.72 0.72 0 1 0 -1.4 0M206.3 109.2a0.72 0.72 0 1 0 1.4 0a0.72 0.72 0 1 0 -1.4 0M215.1 109.5a0.72 0.72 0 1 0 1.4 0a0.72 0.72 0 1 0 -1.4 0M217.1 109.3a0.72 0.72 0 1 0 1.4 0a0.72 0.72 0 1 0 -1.4 0M186.1 111.4a0.72 0.72 0 1 0 1.4 0a0.72 0.72 0 1 0 -1.4 0M189.1 111.2a0.72 0.72 0 1 0 1.4 0a0.72 0.72 0 1 0 -1.4 0M193.3 111.9a0.72 0.72 0 1 0 1.4 0a0.72 0.72 0 1 0 -1.4 0M200.4 111.3a0.72 0.72 0 1 0 1.4 0a0.72 0.72 0 1 0 -1.4 0M204.5 111.4a0.72 0.72 0 1 0 1.4 0a0.72 0.72 0 1 0 -1.4 0M214.2 111.1a0.72 0.72 0 1 0 1.4 0a0.72 0.72 0 1 0 -1.4 0M225.1 111.2a0.72 0.72 0 1 0 1.4 0a0.72 0.72 0 1 0 -1.4 0M227.8 111.7a0.72 0.72 0 1 0 1.4 0a0.72 0.72 0 1 0 -1.4 0M187.5 113.6a0.72 0.72 0 1 0 1.4 0a0.72 0.72 0 1 0 -1.4 0M190.1 113.6a0.72 0.72 0 1 0 1.4 0a0.72 0.72 0 1 0 -1.4 0M191.9 113.3a0.72 0.72 0 1 0 1.4 0a0.72 0.72 0 1 0 -1.4 0M205.9 113.4a0.72 0.72 0 1 0 1.4 0a0.72 0.72 0 1 0 -1.4 0M207.9 113.1a0.72 0.72 0 1 0 1.4 0a0.72 0.72 0 1 0 -1.4 0M217.5 113.7a0.72 0.72 0 1 0 1.4 0a0.72 0.72 0 1 0 -1.4 0M219.4 113.4a0.72 0.72 0 1 0 1.4 0a0.72 0.72 0 1 0 -1.4 0M224.7 113.9a0.72 0.72 0 1 0 1.4 0a0.72 0.72 0 1 0 -1.4 0M229.1 113.8a0.72 0.72 0 1 0 1.4 0a0.72 0.72 0 1 0 -1.4 0M231.0 113.9a0.72 0.72 0 1 0 1.4 0a0.72 0.72 0 1 0 -1.4 0M233.2 113.6a0.72 0.72 0 1 0 1.4 0a0.72 0.72 0 1 0 -1.4 0M191.0 115.9a0.72 0.72 0 1 0 1.4 0a0.72 0.72 0 1 0 -1.4 0M193.3 115.2a0.72 0.72 0 1 0 1.4 0a0.72 0.72 0 1 0 -1.4 0M195.5 115.8a0.72 0.72 0 1 0 1.4 0a0.72 0.72 0 1 0 -1.4 0M202.6 115.1a0.72 0.72 0 1 0 1.4 0a0.72 0.72 0 1 0 -1.4 0M204.7 115.3a0.72 0.72 0 1 0 1.4 0a0.72 0.72 0 1 0 -1.4 0M207.5 115.2a0.72 0.72 0 1 0 1.4 0a0.72 0.72 0 1 0 -1.4 0M216.7 115.7a0.72 0.72 0 1 0 1.4 0a0.72 0.72 0 1 0 -1.4 0M220.6 115.3a0.72 0.72 0 1 0 1.4 0a0.72 0.72 0 1 0 -1.4 0M223.1 115.5a0.72 0.72 0 1 0 1.4 0a0.72 0.72 0 1 0 -1.4 0M232.0 115.3a0.72 0.72 0 1 0 1.4 0a0.72 0.72 0 1 0 -1.4 0M185.4 117.8a0.72 0.72 0 1 0 1.4 0a0.72 0.72 0 1 0 -1.4 0M192.4 117.6a0.72 0.72 0 1 0 1.4 0a0.72 0.72 0 1 0 -1.4 0M205.7 117.7a0.72 0.72 0 1 0 1.4 0a0.72 0.72 0 1 0 -1.4 0M208.2 117.5a0.72 0.72 0 1 0 1.4 0a0.72 0.72 0 1 0 -1.4 0M210.4 117.1a0.72 0.72 0 1 0 1.4 0a0.72 0.72 0 1 0 -1.4 0M212.7 117.1a0.72 0.72 0 1 0 1.4 0a0.72 0.72 0 1 0 -1.4 0M215.5 117.4a0.72 0.72 0 1 0 1.4 0a0.72 0.72 0 1 0 -1.4 0M224.3 117.2a0.72 0.72 0 1 0 1.4 0a0.72 0.72 0 1 0 -1.4 0M227.1 117.5a0.72 0.72 0 1 0 1.4 0a0.72 0.72 0 1 0 -1.4 0M229.0 117.3a0.72 0.72 0 1 0 1.4 0a0.72 0.72 0 1 0 -1.4 0M231.7 117.2a0.72 0.72 0 1 0 1.4 0a0.72 0.72 0 1 0 -1.4 0M233.5 117.5a0.72 0.72 0 1 0 1.4 0a0.72 0.72 0 1 0 -1.4 0" fill="#e4e4a0" opacity="1.0"/><path d="M208.9 108.8a0.72 0.72 0 1 0 1.4 0a0.72 0.72 0 1 0 -1.4 0M211.0 108.4a0.72 0.72 0 1 0 1.4 0a0.72 0.72 0 1 0 -1.4 0M219.9 108.7a0.72 0.72 0 1 0 1.4 0a0.72 0.72 0 1 0 -1.4 0M205.7 110.2a0.72 0.72 0 1 0 1.4 0a0.72 0.72 0 1 0 -1.4 0M207.8 110.0a0.72 0.72 0 1 0 1.4 0a0.72 0.72 0 1 0 -1.4 0M206.7 112.4a0.72 0.72 0 1 0 1.4 0a0.72 0.72 0 1 0 -1.4 0M208.9 112.7a0.72 0.72 0 1 0 1.4 0a0.72 0.72 0 1 0 -1.4 0M213.8 112.1a0.72 0.72 0 1 0 1.4 0a0.72 0.72 0 1 0 -1.4 0M216.0 112.7a0.72 0.72 0 1 0 1.4 0a0.72 0.72 0 1 0 -1.4 0M220.0 112.6a0.72 0.72 0 1 0 1.4 0a0.72 0.72 0 1 0 -1.4 0M210.3 114.4a0.72 0.72 0 1 0 1.4 0a0.72 0.72 0 1 0 -1.4 0M212.3 114.8a0.72 0.72 0 1 0 1.4 0a0.72 0.72 0 1 0 -1.4 0M214.3 114.3a0.72 0.72 0 1 0 1.4 0a0.72 0.72 0 1 0 -1.4 0M216.9 114.0a0.72 0.72 0 1 0 1.4 0a0.72 0.72 0 1 0 -1.4 0M211.0 116.2a0.72 0.72 0 1 0 1.4 0a0.72 0.72 0 1 0 -1.4 0M213.5 116.6a0.72 0.72 0 1 0 1.4 0a0.72 0.72 0 1 0 -1.4 0M218.3 116.7a0.72 0.72 0 1 0 1.4 0a0.72 0.72 0 1 0 -1.4 0M220.3 116.8a0.72 0.72 0 1 0 1.4 0a0.72 0.72 0 1 0 -1.4 0M205.8 118.0a0.72 0.72 0 1 0 1.4 0a0.72 0.72 0 1 0 -1.4 0M219.3 118.8a0.72 0.72 0 1 0 1.4 0a0.72 0.72 0 1 0 -1.4 0" fill="#e4e4a0" opacity="1.0"/><path d="M66.5 111.0a0.7 0.7 0 1 0 1.4 0a0.7 0.7 0 1 0 -1.4 0M93.4 111.4a0.7 0.7 0 1 0 1.4 0a0.7 0.7 0 1 0 -1.4 0M60.0 112.7a0.7 0.7 0 1 0 1.4 0a0.7 0.7 0 1 0 -1.4 0M106.8 112.9a0.7 0.7 0 1 0 1.4 0a0.7 0.7 0 1 0 -1.4 0M109.0 113.2a0.7 0.7 0 1 0 1.4 0a0.7 0.7 0 1 0 -1.4 0M111.0 113.0a0.7 0.7 0 1 0 1.4 0a0.7 0.7 0 1 0 -1.4 0M122.6 113.3a0.7 0.7 0 1 0 1.4 0a0.7 0.7 0 1 0 -1.4 0M127.6 112.9a0.7 0.7 0 1 0 1.4 0a0.7 0.7 0 1 0 -1.4 0M131.8 112.7a0.7 0.7 0 1 0 1.4 0a0.7 0.7 0 1 0 -1.4 0M140.9 113.4a0.7 0.7 0 1 0 1.4 0a0.7 0.7 0 1 0 -1.4 0M68.1 115.3a0.7 0.7 0 1 0 1.4 0a0.7 0.7 0 1 0 -1.4 0M72.8 114.9a0.7 0.7 0 1 0 1.4 0a0.7 0.7 0 1 0 -1.4 0M100.3 114.8a0.7 0.7 0 1 0 1.4 0a0.7 0.7 0 1 0 -1.4 0M121.8 114.8a0.7 0.7 0 1 0 1.4 0a0.7 0.7 0 1 0 -1.4 0" fill="#e4e4a0" opacity="1.0"/><path d="M30.5 68.8H229.5" stroke="#78c2b0" stroke-width="1.3"/><path d="M237.4 68.8H252.8" stroke="#78c2b0" stroke-width="1.3"/><path d="M30.5 113.8H290.4" stroke="#e4e4a0" stroke-width="1.3"/><path d="M366 113.8H442.5" stroke="#e4e4a0" stroke-width="1.0"/><path d="M28 159.4H262" stroke="#c4c0e8" stroke-width="1.3"/><path d="M262 159.4H397.8" stroke="#c4c0e8" stroke-width="1.1"/><path d="M427 159.4H437.2" stroke="#c4c0e8" stroke-width="1.0"/><path d="M442.5 159.4H451.5" stroke="#c4c0e8" stroke-width="1.0"/><path d="M26 204.6H245" stroke="#ee806a" stroke-width="1.3"/><path d="M245 204.6H669.7" stroke="#ee806a" stroke-width="1.05"/><path d="M28 249.7H362" stroke="#80aed0" stroke-width="1.3"/><path d="M362 249.7H458.6" stroke="#80aed0" stroke-width="1.05"/><path d="M46.9 67.3V70.3M52.7 67.3V70.3M59.1 67.3V70.3M66.1 67.3V70.3M72.9 67.3V70.3M78.8 67.3V70.3M86.4 67.3V70.3M89.4 67.3V70.3M96.5 67.3V70.3M104.0 67.3V70.3M110.7 67.3V70.3M117.9 67.3V70.3M124.5 67.3V70.3M133.3 67.3V70.3M139.0 67.3V70.3M143.8 67.3V70.3M147.0 67.3V70.3M154.4 67.3V70.3M163.2 67.3V70.3M170.7 67.3V70.3M177.0 67.3V70.3M184.9 67.3V70.3M192.8 67.3V70.3M199.1 67.3V70.3M205.9 67.3V70.3M212.3 67.3V70.3M218.2 67.3V70.3M225.4 67.3V70.3M65.5 65.6h1.2M65.5 72.0h1.2M95.9 65.6h1.2M95.9 72.0h1.2M123.9 65.6h1.2M123.9 72.0h1.2M132.7 65.6h1.2M132.7 72.0h1.2M143.2 65.6h1.2M143.2 72.0h1.2M153.8 65.6h1.2M153.8 72.0h1.2M162.6 65.6h1.2M162.6 72.0h1.2M176.4 65.6h1.2M176.4 72.0h1.2M192.2 65.6h1.2M192.2 72.0h1.2M205.3 65.6h1.2M205.3 72.0h1.2" stroke="#78c2b0" stroke-width="0.9"/><path d="M236.9 67.3V70.3M245.7 67.3V70.3M236.3 65.6h1.2M236.3 72.0h1.2M245.1 65.6h1.2M245.1 72.0h1.2" stroke="#78c2b0" stroke-width="0.9"/><path d="M46.8 112.3V115.3M51.8 112.3V115.3M58.7 112.3V115.3M62.3 112.3V115.3M67.1 112.3V115.3M72.0 112.3V115.3M75.4 112.3V115.3M79.9 112.3V115.3M84.4 112.3V115.3M88.3 112.3V115.3M91.6 112.3V115.3M98.1 112.3V115.3M102.1 112.3V115.3M108.1 112.3V115.3M111.7 112.3V115.3M117.5 112.3V115.3M122.2 112.3V115.3M126.4 112.3V115.3M132.7 112.3V115.3M135.6 112.3V115.3M139.4 112.3V115.3M143.3 112.3V115.3M150.2 112.3V115.3M153.0 112.3V115.3M161.2 112.3V115.3M163.9 112.3V115.3M170.4 112.3V115.3M173.6 112.3V115.3M179.8 112.3V115.3M186.4 112.3V115.3M190.1 112.3V115.3M195.1 112.3V115.3M198.5 112.3V115.3M203.4 112.3V115.3M210.1 112.3V115.3M217.0 112.3V115.3M219.5 112.3V115.3M225.0 112.3V115.3M230.0 112.3V115.3M236.1 112.3V115.3M242.7 112.3V115.3M244.4 112.3V115.3M249.1 112.3V115.3M256.9 112.3V115.3M261.3 112.3V115.3M264.6 112.3V115.3M269.5 112.3V115.3M274.6 112.3V115.3M282.2 112.3V115.3M287.6 112.3V115.3M46.2 110.6h1.2M46.2 117.0h1.2M58.1 110.6h1.2M58.1 117.0h1.2M61.7 110.6h1.2M61.7 117.0h1.2M66.5 110.6h1.2M66.5 117.0h1.2M74.8 110.6h1.2M74.8 117.0h1.2M116.9 110.6h1.2M116.9 117.0h1.2M142.7 110.6h1.2M142.7 117.0h1.2M229.4 110.6h1.2M229.4 117.0h1.2M242.1 110.6h1.2M242.1 117.0h1.2M264.0 110.6h1.2M264.0 117.0h1.2M268.9 110.6h1.2M268.9 117.0h1.2" stroke="#e4e4a0" stroke-width="0.9"/><path d="M371.5 112.8V114.8M385.7 112.8V114.8M399.4 112.8V114.8M409.0 112.8V114.8M423.6 112.8V114.8M428.6 112.8V114.8" stroke="#e4e4a0" stroke-width="0.9"/><path d="M245.0 203.1V206.1M251.7 203.1V206.1M261.3 203.1V206.1M268.8 203.1V206.1M273.4 203.1V206.1M281.2 203.1V206.1M286.0 203.1V206.1M292.6 203.1V206.1M300.5 203.1V206.1M306.6 203.1V206.1M313.9 203.1V206.1M320.2 203.1V206.1M328.1 203.1V206.1M337.5 203.1V206.1M347.8 203.1V206.1M352.4 203.1V206.1M360.3 203.1V206.1M370.1 203.1V206.1M375.2 203.1V206.1M384.6 203.1V206.1M393.4 203.1V206.1M398.3 203.1V206.1M405.3 203.1V206.1M411.7 203.1V206.1M422.3 203.1V206.1M431.5 203.1V206.1M436.9 203.1V206.1M441.1 203.1V206.1M448.7 203.1V206.1M458.6 203.1V206.1M466.2 203.1V206.1M474.1 203.1V206.1M480.9 203.1V206.1M490.1 203.1V206.1M496.8 203.1V206.1M503.5 203.1V206.1M509.2 203.1V206.1M514.8 203.1V206.1M521.5 203.1V206.1M530.3 203.1V206.1M539.4 203.1V206.1M548.3 203.1V206.1M558.0 203.1V206.1M567.9 203.1V206.1M574.1 203.1V206.1M584.0 203.1V206.1M589.0 203.1V206.1M595.8 203.1V206.1M602.3 203.1V206.1M610.3 203.1V206.1M619.2 203.1V206.1M630.1 203.1V206.1M636.3 203.1V206.1M642.6 203.1V206.1M647.4 203.1V206.1M653.3 203.1V206.1M663.4 203.1V206.1M440.5 201.4h1.2M440.5 207.8h1.2M448.1 201.4h1.2M448.1 207.8h1.2M473.5 201.4h1.2M473.5 207.8h1.2M520.9 201.4h1.2M520.9 207.8h1.2" stroke="#ee806a" stroke-width="0.9"/><path d="M362.5 248.2V251.2M369.8 248.2V251.2M380.7 248.2V251.2M389.9 248.2V251.2M400.4 248.2V251.2M406.7 248.2V251.2M412.7 248.2V251.2M424.2 248.2V251.2M436.2 248.2V251.2M444.0 248.2V251.2M452.7 248.2V251.2M389.3 246.5h1.2M389.3 252.9h1.2M406.1 246.5h1.2M406.1 252.9h1.2M412.1 246.5h1.2M412.1 252.9h1.2M435.6 246.5h1.2M435.6 252.9h1.2" stroke="#80aed0" stroke-width="0.9"/><path d="M262.9 158.2V160.6M278.1 158.2V160.6M292.0 158.2V160.6M308.0 158.2V160.6M319.5 158.2V160.6M329.0 158.2V160.6M344.7 158.2V160.6M354.4 158.2V160.6M363.3 158.2V160.6M375.5 158.2V160.6M387.8 158.2V160.6M262.3 156.2h1.2M262.3 162.6h1.2M291.4 156.2h1.2M291.4 162.6h1.2M307.4 156.2h1.2M307.4 162.6h1.2" stroke="#c4c0e8" stroke-width="0.9"/><path d="M31 66.8V70.8" stroke="#78c2b0" stroke-width="1.2"/><path d="M31 111.8V115.8" stroke="#e4e4a0" stroke-width="1.2"/><path d="M146 70V113.8" stroke="#78c2b0" stroke-width="0.8" fill="none" opacity="0.95"/><path d="M139.9 70.0C141.1 72.0 145.1 77.0 147.0 82.0C148.9 87.0 150.5 92.0 151.3 100.0C152.1 108.0 152.1 120.1 152.0 130.0C151.9 139.9 151.2 154.6 151.0 159.5" stroke="#c4c0e8" stroke-width="0.8" fill="none" opacity="0.95"/><path d="M158.3 69.0C157.6 73.3 154.9 87.5 154.0 95.0C153.1 102.5 152.5 103.0 153.0 113.8C153.5 124.5 156.3 151.9 157.0 159.5" stroke="#78c2b0" stroke-width="0.8" fill="none" opacity="0.95"/><path d="M158.3 69.0C159.0 72.5 161.6 80.7 162.6 90.0C163.6 99.3 164.3 113.4 164.4 125.0C164.5 136.6 163.7 151.2 163.0 159.5C162.3 167.8 160.5 172.4 160.0 175.0" stroke="#ee806a" stroke-width="0.8" fill="none" opacity="0.95"/><path d="M160.0 69.0C161.0 72.5 164.1 82.5 166.0 90.0C167.9 97.5 170.7 102.2 171.4 113.8C172.1 125.4 169.9 144.5 170.0 159.5C170.1 174.5 171.7 196.6 172.0 204.0" stroke="#78c2b0" stroke-width="0.8" fill="none" opacity="0.95"/><path d="M181.9 69.0C180.8 72.8 176.7 84.5 175.0 92.0C173.3 99.5 172.2 102.5 172.0 113.8C171.8 125.0 172.7 144.5 174.0 159.5C175.3 174.5 179.0 196.6 180.0 204.0" stroke="#78c2b0" stroke-width="0.8" fill="none" opacity="0.95"/><path d="M217.8 69.0C215.5 73.3 207.2 85.7 204.0 95.0C200.8 104.3 199.8 114.2 198.5 125.0C197.2 135.8 196.3 146.3 196.0 159.5C195.7 172.7 196.7 196.6 196.8 204.0" stroke="#78c2b0" stroke-width="0.8" fill="none" opacity="0.95"/><path d="M237.3 69.0C237.2 74.2 236.8 90.7 236.5 100.0C236.2 109.3 235.7 115.2 235.4 125.0C235.1 134.8 235.0 145.8 234.5 159.0C234.0 172.2 232.9 188.8 232.3 204.0C231.7 219.2 231.2 242.3 231.0 250.0" stroke="#80aed0" stroke-width="0.9" fill="none" opacity="0.95"/><path d="M97.4 68.8V159.4" stroke="#ee806a" stroke-width="1.0" fill="none" opacity="0.95"/><path d="M46.5 113.8C46.6 119.8 46.9 135.0 47.0 150.0C47.1 165.0 47.2 195.0 47.3 204.0" stroke="#e4e4a0" stroke-width="0.9" fill="none" opacity="0.95"/><path d="M48.6 113.8C48.5 119.8 48.1 135.0 48.0 150.0C47.9 165.0 47.8 195.0 47.8 204.0" stroke="#ee806a" stroke-width="0.9" fill="none" opacity="0.95"/><path d="M162.4 113.8L102.8 200" stroke="#ee806a" stroke-width="0.8" fill="none" opacity="0.95"/><path d="M150 128L98 195" stroke="#ee806a" stroke-width="0.8" fill="none" opacity="0.95"/><path d="M150.8 113.8L112 200" stroke="#c4c0e8" stroke-width="0.8" fill="none" opacity="0.95"/><path d="M189.8 113.8C190.3 117.3 192.0 127.4 193.0 135.0C194.0 142.6 195.3 148.0 196.0 159.5C196.7 171.0 197.5 192.2 197.0 204.0C196.5 215.8 194.1 222.5 193.0 230.0C191.9 237.5 190.7 245.8 190.2 249.0" stroke="#e4e4a0" stroke-width="0.9" fill="none" opacity="0.95"/><path d="M217.8 113.8C216.0 117.3 209.6 127.4 207.0 135.0C204.4 142.6 203.0 148.0 202.0 159.5C201.0 171.0 199.7 192.2 201.0 204.0C202.3 215.8 206.6 222.3 210.0 230.0C213.4 237.7 219.6 246.7 221.5 250.0" stroke="#e4e4a0" stroke-width="0.9" fill="none" opacity="0.95"/><path d="M214 113.8C220.8 113.8 222 118.3 222 122" stroke="#c4c0e8" stroke-width="0.8" fill="none" opacity="0.95"/><path d="M230 113.8C223.2 113.8 222 118.3 222 122" stroke="#c4c0e8" stroke-width="0.8" fill="none" opacity="0.95"/><path d="M222 122V159.4" stroke="#c4c0e8" stroke-width="0.8" fill="none" opacity="0.95"/><path d="M240 113.8C256.1 113.8 259 128.2 259 140" stroke="#e4e4a0" stroke-width="0.9" fill="none" opacity="0.95"/><path d="M251 113.8C257.8 113.8 259 128.2 259 140" stroke="#e4e4a0" stroke-width="0.9" fill="none" opacity="0.95"/><path d="M267 113.8C260.2 113.8 259 128.2 259 140" stroke="#e4e4a0" stroke-width="0.9" fill="none" opacity="0.95"/><path d="M259.0 140.0C259.0 143.2 259.3 152.0 259.0 159.5C258.7 167.0 258.0 178.8 257.0 185.0C256.0 191.2 255.1 193.8 253.0 197.0C250.9 200.2 246.0 202.8 244.6 204.0" stroke="#e4e4a0" stroke-width="0.9" fill="none" opacity="0.95"/><path d="M257.0 185.0C256.5 187.2 254.8 194.8 254.0 198.0C253.2 201.2 252.3 203.0 252.0 204.0" stroke="#e4e4a0" stroke-width="0.9" fill="none" opacity="0.95"/><path d="M263.0 113.8C262.8 117.3 261.9 129.0 261.5 135.0C261.1 141.0 260.6 145.9 260.7 150.0C260.8 154.1 261.8 157.9 262.0 159.5" stroke="#c4c0e8" stroke-width="0.8" fill="none" opacity="0.95"/><path d="M290.4 113.8C288.5 117.3 282.2 127.4 279.0 135.0C275.8 142.6 271.7 152.0 271.0 159.5C270.3 167.0 273.2 172.6 275.0 180.0C276.8 187.4 280.8 200.0 282.0 204.0" stroke="#ee806a" stroke-width="0.9" fill="none" opacity="0.95"/><path d="M288.8 113.8V159.4" stroke="#e4e4a0" stroke-width="0.9" fill="none" opacity="0.95"/><path d="M167.0 113.8C167.1 121.4 167.3 144.5 167.5 159.5C167.7 174.5 167.9 196.6 168.0 204.0" stroke="#e4e4a0" stroke-width="0.85" fill="none" opacity="0.95"/><path d="M177.5 113.8C177.3 121.4 176.9 144.5 176.5 159.5C176.1 174.5 178.1 188.9 175.0 204.0C171.9 219.1 160.8 242.3 158.0 250.0" stroke="#80aed0" stroke-width="0.85" fill="none" opacity="0.95"/><path d="M168.8 113.8C169.0 121.4 169.6 144.5 170.0 159.5C170.4 174.5 170.8 196.6 171.0 204.0" stroke="#78c2b0" stroke-width="0.8" fill="none" opacity="0.95"/><path d="M48 159.4C53.9 160.5 58.7 168.7 58.7 181.5L58.7 184.5C58.7 196.2 53.0 203.6 46 204.6" stroke="#d4d0f4" stroke-width="0.9" fill="none" opacity="1"/><path d="M51 159.4C55.4 160.5 59.0 168.7 59.0 181.5L59.0 184.5C59.0 196.2 54.9 203.6 50 204.6" stroke="#d4d0f4" stroke-width="0.9" fill="none" opacity="1"/><path d="M64 159.4C60.8 160.5 58.2 168.7 58.2 181.5L58.2 184.5C58.2 196.2 62.2 203.6 67 204.6" stroke="#d4d0f4" stroke-width="0.9" fill="none" opacity="1"/><path d="M69 159.4C63.3 160.5 58.7 168.7 58.7 181.5L58.7 184.5C58.7 196.2 64.2 203.6 71 204.6" stroke="#d4d0f4" stroke-width="0.9" fill="none" opacity="1"/><path d="M47 159.4C53.5 160.5 58.8 168.7 58.8 181.5L58.8 184.5C58.8 196.2 52.6 203.6 45 204.6" stroke="#f48c76" stroke-width="0.9" fill="none" opacity="1"/><path d="M49 159.4C53.6 160.5 57.4 168.7 57.4 181.5L57.4 184.5C57.4 196.2 53.2 203.6 48 204.6" stroke="#f48c76" stroke-width="0.9" fill="none" opacity="1"/><path d="M62 159.4C60.0 160.5 58.4 168.7 58.4 181.5L58.4 184.5C58.4 196.2 61.8 203.6 66 204.6" stroke="#f48c76" stroke-width="0.9" fill="none" opacity="1"/><path d="M66 159.4C61.7 160.5 58.1 168.7 58.1 181.5L58.1 184.5C58.1 196.2 63.0 203.6 69 204.6" stroke="#f48c76" stroke-width="0.9" fill="none" opacity="1"/><path d="M70 159.4C63.0 160.5 57.3 168.7 57.3 181.5L57.3 184.5C57.3 196.2 63.9 203.6 72 204.6" stroke="#f48c76" stroke-width="0.9" fill="none" opacity="1"/><path d="M74 159.4C65.5 160.5 58.5 168.7 58.5 181.5L58.5 184.5C58.5 196.2 65.9 203.6 75 204.6" stroke="#f48c76" stroke-width="0.9" fill="none" opacity="1"/><path d="M79 159.4C67.6 160.5 58.4 168.7 58.4 181.5L58.4 184.5C58.4 196.2 52.3 203.6 45 204.6" stroke="#f48c76" stroke-width="0.9" fill="none" opacity="1"/><path d="M84 159.4C69.5 160.5 57.5 168.7 57.5 181.5L57.5 184.5C57.5 196.2 53.3 203.6 48 204.6" stroke="#f48c76" stroke-width="0.9" fill="none" opacity="1"/><path d="M90 159.4C94.2 160.5 97.6 168.5 97.6 181.0L97.6 187.0C97.6 197.2 94.2 203.7 90 204.6" stroke="#d4d0f4" stroke-width="0.9" fill="none" opacity="1"/><path d="M103 159.4C99.8 160.5 97.1 168.5 97.1 181.0L97.1 187.0C97.1 197.2 99.8 203.7 103 204.6" stroke="#d4d0f4" stroke-width="0.9" fill="none" opacity="1"/><path d="M88 159.4C92.9 160.5 96.8 168.5 96.8 181.0L96.8 187.0C96.8 197.2 92.9 203.7 88 204.6" stroke="#f48c76" stroke-width="0.9" fill="none" opacity="1"/><path d="M91 159.4C94.0 160.5 96.4 168.5 96.4 181.0L96.4 187.0C96.4 197.2 94.4 203.7 92 204.6" stroke="#f48c76" stroke-width="0.9" fill="none" opacity="1"/><path d="M101 159.4C98.2 160.5 95.8 168.5 95.8 181.0L95.8 187.0C95.8 197.2 98.2 203.7 101 204.6" stroke="#f48c76" stroke-width="0.9" fill="none" opacity="1"/><path d="M104 159.4C99.6 160.5 96.0 168.5 96.0 181.0L96.0 187.0C96.0 197.2 100.1 203.7 105 204.6" stroke="#f48c76" stroke-width="0.9" fill="none" opacity="1"/><path d="M96.2 188L117.6 204.6" stroke="#c4c0e8" stroke-width="0.8" fill="none" opacity="0.95"/><path d="M95 200L129 175" stroke="#ee806a" stroke-width="0.8" fill="none" opacity="0.95"/><path d="M129 175L141 159.4" stroke="#ee806a" stroke-width="0.8" fill="none" opacity="0.95"/><path d="M123 159.4C127.9 160.5 132.0 168.9 132.0 182.0L132.0 186.0C132.0 196.8 127.5 203.7 122 204.6" stroke="#d4d0f4" stroke-width="0.9" fill="none" opacity="1"/><path d="M126 159.4C129.4 160.5 132.1 168.9 132.1 182.0L132.1 186.0C132.1 196.8 129.4 203.7 126 204.6" stroke="#d4d0f4" stroke-width="0.9" fill="none" opacity="1"/><path d="M138 159.4C134.3 160.5 131.2 168.9 131.2 182.0L131.2 186.0C131.2 196.8 134.3 203.7 138 204.6" stroke="#d4d0f4" stroke-width="0.9" fill="none" opacity="1"/><path d="M120 159.4C126.3 160.5 131.5 168.9 131.5 182.0L131.5 186.0C131.5 196.8 126.3 203.7 120 204.6" stroke="#f48c76" stroke-width="0.9" fill="none" opacity="1"/><path d="M124 159.4C127.5 160.5 130.4 168.9 130.4 182.0L130.4 186.0C130.4 196.8 127.5 203.7 124 204.6" stroke="#f48c76" stroke-width="0.9" fill="none" opacity="1"/><path d="M127 159.4C129.0 160.5 130.7 168.9 130.7 182.0L130.7 186.0C130.7 196.8 129.0 203.7 127 204.6" stroke="#f48c76" stroke-width="0.9" fill="none" opacity="1"/><path d="M136 159.4C133.5 160.5 131.4 168.9 131.4 182.0L131.4 186.0C131.4 196.8 133.5 203.7 136 204.6" stroke="#f48c76" stroke-width="0.9" fill="none" opacity="1"/><path d="M140 159.4C135.2 160.5 131.3 168.9 131.3 182.0L131.3 186.0C131.3 196.8 135.7 203.7 141 204.6" stroke="#f48c76" stroke-width="0.9" fill="none" opacity="1"/><path d="M141 159.4C143.5 160.1 145.5 165.5 145.5 174.0L145.5 190.0C145.5 198.5 143.9 203.9 142 204.6" stroke="#d4d0f4" stroke-width="0.95" fill="none" opacity="1"/><path d="M149 159.4C147.8 160.1 146.8 165.5 146.8 174.0L146.8 190.0C146.8 198.5 148.2 203.9 150 204.6" stroke="#d4d0f4" stroke-width="0.95" fill="none" opacity="1"/><path d="M151 159.4C149.5 160.2 148.3 166.0 148.3 175.0L148.3 189.0C148.3 198.0 149.9 203.8 152 204.6" stroke="#f48c76" stroke-width="0.9" fill="none" opacity="1"/><path d="M156 159.4C151.9 160.2 148.5 166.0 148.5 175.0L148.5 189.0C148.5 198.0 152.3 203.8 157 204.6" stroke="#f48c76" stroke-width="0.9" fill="none" opacity="1"/><path d="M162 159.4C154.7 160.2 148.8 166.0 148.8 175.0L148.8 189.0C148.8 198.0 155.2 203.8 163 204.6" stroke="#f48c76" stroke-width="0.9" fill="none" opacity="1"/><path d="M170 159.4C153.5 161.7 148 170.7 148 182.0C148 193.3 153.0 202.3 168 204.6" stroke="#ee806a" stroke-width="0.85" fill="none" opacity="0.95"/><path d="M178 159.4C157.0 161.7 150 170.7 150 182.0C150 193.3 156.5 202.3 176 204.6" stroke="#ee806a" stroke-width="0.85" fill="none" opacity="0.95"/><path d="M186 159.4C161.2 161.7 153 170.7 153 182.0C153 193.3 160.8 202.3 184 204.6" stroke="#ee806a" stroke-width="0.85" fill="none" opacity="0.95"/><path d="M195 159.4C165.8 161.7 156 170.7 156 182.0C156 193.3 165.0 202.3 192 204.6" stroke="#ee806a" stroke-width="0.85" fill="none" opacity="0.95"/><path d="M205 159.4C171.2 161.7 160 170.7 160 182.0C160 193.3 170.0 202.3 200 204.6" stroke="#ee806a" stroke-width="0.85" fill="none" opacity="0.95"/><path d="M168 159.4C175.5 161.7 178 170.7 178 182.0C178 193.3 176.0 202.3 170 204.6" stroke="#c4c0e8" stroke-width="0.85" fill="none" opacity="0.95"/><path d="M174 159.4C181.5 161.7 184 170.7 184 182.0C184 193.3 182.0 202.3 176 204.6" stroke="#c4c0e8" stroke-width="0.85" fill="none" opacity="0.95"/><path d="M170 159.4C203.0 161.7 214 170.7 214 182.0C214 193.3 203.5 202.3 172 204.6" stroke="#ee806a" stroke-width="0.85" fill="none" opacity="0.95"/><path d="M178 159.4C208.0 161.7 218 170.7 218 182.0C218 193.3 208.5 202.3 180 204.6" stroke="#ee806a" stroke-width="0.85" fill="none" opacity="0.95"/><path d="M188 159.4C212.8 161.7 221 170.7 221 182.0C221 193.3 213.2 202.3 190 204.6" stroke="#ee806a" stroke-width="0.85" fill="none" opacity="0.95"/><path d="M205 159.4C214.5 160.2 222.3 166.4 222.3 176.0L222.3 188.0C222.3 197.6 215.0 203.8 206 204.6" stroke="#d4d0f4" stroke-width="0.9" fill="none" opacity="1"/><path d="M211 159.4C217.0 160.2 222.0 166.4 222.0 176.0L222.0 188.0C222.0 197.6 217.5 203.8 212 204.6" stroke="#d4d0f4" stroke-width="0.9" fill="none" opacity="1"/><path d="M216 159.4C219.0 160.2 221.5 166.4 221.5 176.0L221.5 188.0C221.5 197.6 219.5 203.8 217 204.6" stroke="#d4d0f4" stroke-width="0.9" fill="none" opacity="1"/><path d="M229 159.4C224.9 160.2 221.6 166.4 221.6 176.0L221.6 188.0C221.6 197.6 224.5 203.8 228 204.6" stroke="#d4d0f4" stroke-width="0.9" fill="none" opacity="1"/><path d="M234 159.4C227.6 160.2 222.4 166.4 222.4 176.0L222.4 188.0C222.4 197.6 227.6 203.8 234 204.6" stroke="#d4d0f4" stroke-width="0.9" fill="none" opacity="1"/><path d="M240 159.4C230.4 160.2 222.6 166.4 222.6 176.0L222.6 188.0C222.6 197.6 230.0 203.8 239 204.6" stroke="#d4d0f4" stroke-width="0.9" fill="none" opacity="1"/><path d="M265 159.4C262.8 161.7 262 170.7 262 182.0C262 193.3 263.1 202.3 266.5 204.6" stroke="#c4c0e8" stroke-width="0.85" fill="none" opacity="0.95"/><path d="M271 159.4C265.4 161.7 263.5 170.7 263.5 182.0C263.5 193.3 265.1 202.3 270 204.6" stroke="#ee806a" stroke-width="0.85" fill="none" opacity="0.95"/><path d="M292 159.4C296.8 160.3 300.7 167.2 300.7 178.0L300.7 186.0C300.7 196.8 296.8 203.7 292 204.6" stroke="#d4d0f4" stroke-width="0.95" fill="none" opacity="1"/><path d="M308 159.4C303.7 160.3 300.2 167.2 300.2 178.0L300.2 186.0C300.2 196.8 303.7 203.7 308 204.6" stroke="#d4d0f4" stroke-width="0.95" fill="none" opacity="1"/><path d="M290 159.4C295.3 160.3 299.7 167.2 299.7 178.0L299.7 186.0C299.7 196.8 295.3 203.7 290 204.6" stroke="#f48c76" stroke-width="0.95" fill="none" opacity="1"/><path d="M294 159.4C297.3 160.3 300.0 167.2 300.0 178.0L300.0 186.0C300.0 196.8 297.7 203.7 295 204.6" stroke="#f48c76" stroke-width="0.95" fill="none" opacity="1"/><path d="M306 159.4C302.9 160.3 300.3 167.2 300.3 178.0L300.3 186.0C300.3 196.8 302.4 203.7 305 204.6" stroke="#f48c76" stroke-width="0.95" fill="none" opacity="1"/><path d="M310 159.4C304.2 160.3 299.5 167.2 299.5 178.0L299.5 186.0C299.5 196.8 304.2 203.7 310 204.6" stroke="#f48c76" stroke-width="0.95" fill="none" opacity="1"/><path d="M322.8 159.4V204.6" stroke="#c4c0e8" stroke-width="0.9" fill="none" opacity="0.95"/><path d="M337.7 159.4L316 204.6" stroke="#ee806a" stroke-width="0.9" fill="none" opacity="0.95"/><path d="M351.3 159.4L324.3 204.6" stroke="#ee806a" stroke-width="0.9" fill="none" opacity="0.95"/><path d="M345 159.4C349.8 160.3 353.7 166.8 353.7 177.0L353.7 187.0C353.7 197.2 350.2 203.7 346 204.6" stroke="#d4d0f4" stroke-width="0.95" fill="none" opacity="1"/><path d="M349 159.4C351.1 160.3 352.8 166.8 352.8 177.0L352.8 187.0C352.8 197.2 351.5 203.7 350 204.6" stroke="#d4d0f4" stroke-width="0.95" fill="none" opacity="1"/><path d="M358 159.4C355.4 160.3 353.2 166.8 353.2 177.0L353.2 187.0C353.2 197.2 354.9 203.7 357 204.6" stroke="#d4d0f4" stroke-width="0.95" fill="none" opacity="1"/><path d="M362 159.4C357.3 160.3 353.5 166.8 353.5 177.0L353.5 187.0C353.5 197.2 356.9 203.7 361 204.6" stroke="#d4d0f4" stroke-width="0.95" fill="none" opacity="1"/><path d="M375.4 159.4L348.4 204.6" stroke="#ee806a" stroke-width="0.9" fill="none" opacity="0.95"/><path d="M383.4 159.4V204.6" stroke="#c4c0e8" stroke-width="0.9" fill="none" opacity="0.95"/><path d="M427 159.4L269.5 204.6" stroke="#ee806a" stroke-width="0.9" fill="none" opacity="0.95"/><path d="M437.2 159.4V204.6" stroke="#c4c0e8" stroke-width="0.9" fill="none" opacity="0.95"/><path d="M308.8 159.4L366 113.8" stroke="#c4c0e8" stroke-width="0.9" fill="none" opacity="0.95"/><path d="M442.5 113.8V159.4" stroke="#e4e4a0" stroke-width="0.9" fill="none" opacity="0.95"/><path d="M40.9 159.4C41.0 166.8 41.0 192.2 41.5 204.0C42.0 215.8 43.3 222.3 44.0 230.0C44.7 237.7 45.4 246.7 45.7 250.0" stroke="#c4c0e8" stroke-width="0.8" fill="none" opacity="0.95"/><path d="M45.7 159.4C45.6 166.8 45.3 192.2 45.3 204.0C45.3 215.8 45.4 222.3 45.5 230.0C45.6 237.7 45.7 246.7 45.7 250.0" stroke="#c4c0e8" stroke-width="0.8" fill="none" opacity="0.95"/><path d="M40 204.6C44.8 204.6 45.7 209.8 45.7 214" stroke="#c4c0e8" stroke-width="0.8" fill="none" opacity="0.95"/><path d="M51 204.6C46.5 204.6 45.7 209.8 45.7 214" stroke="#c4c0e8" stroke-width="0.8" fill="none" opacity="0.95"/><path d="M45.7 214V249.7" stroke="#c4c0e8" stroke-width="0.8" fill="none" opacity="0.95"/><path d="M66.5 204.6V249.7" stroke="#80aed0" stroke-width="0.9" fill="none" opacity="0.95"/><path d="M47.3 215.0C47.9 217.8 49.4 226.3 51.0 232.0C52.6 237.7 56.0 246.2 57.0 249.0" stroke="#ee806a" stroke-width="0.8" fill="none" opacity="0.95"/><path d="M69.8 204.6L120.3 249.7" stroke="#ee806a" stroke-width="0.8" fill="none" opacity="0.95"/><path d="M130.8 204.6V249.7" stroke="#80aed0" stroke-width="0.9" fill="none" opacity="0.95"/><path d="M188.6 204.6V249.7" stroke="#80aed0" stroke-width="0.9" fill="none" opacity="0.95"/><path d="M358.3 204.6V249.7" stroke="#80aed0" stroke-width="0.9" fill="none" opacity="0.95"/></svg>
<div class="lab" style="left:1px;top:313.8px">(a)</div>
<div class="box" style="left:9.9px;top:361.0px;width:124px;height:252.6px;padding:2.9px 0 0 3.9px;background:#cdcae2"><div class="l">“Purple” state</div><div class="l">&nbsp;</div><div class="l">Observation Profile</div><div class="l">#observations: 2181</div><div class="l">#unique patients: 51</div><div class="l">&nbsp;</div><div class="l"><b>Typical Prescription</b></div><div class="l bl"><span class="bt"><b>•</b></span><b><u>Azathioprine</u></b></div><div class="l bl"><span class="bt"><b>•</b></span><b><u style="position:relative">Balsalazide<i class="sp"></i></u></b></div><div class="l bl"><span class="bt"><b>•</b></span><b><u>Prednisolone</u></b></div><div class="l">&nbsp;</div><div class="l">Typical Lab</div><div class="l bl"><span class="bt">•</span>High serum creatinine</div><div class="l bl"><span class="bt">•</span>High erythrocyte<br>sedimentation rate</div></div><div class="box" style="left:145.0px;top:362.8px;width:123.9px;height:251.9px;padding:2.6px 0 0 4.7px;background:#a9c3de"><div class="l">“Blue” state</div><div class="l">&nbsp;</div><div class="l">Observation Profile</div><div class="l">#observations: 1144</div><div class="l">#unique patients: 19</div><div class="l">&nbsp;</div><div class="l"><b>Typical Prescription</b></div><div class="l bl"><span class="bt"><b>•</b></span><b><u>Azathioprine</u></b></div><div class="l bl"><span class="bt"><b>•</b></span><b><u>Sulfasalazine</u></b></div><div class="l bl"><span class="bt"><b>•</b></span><b><u>Prednisolone</u></b></div><div class="l">&nbsp;</div><div class="l">Typical Lab</div><div class="l bl"><span class="bt">•</span>High urine creatinine</div><div class="l bl"><span class="bt">•</span>High serum and plasma C<br>reactive protein level</div><div class="l bl"><span class="bt">•</span>High urine albumin</div><div class="l bl"><span class="bt">•</span>Low serum albumin</div><div class="l bl"><span class="bt">•</span>Low urine<br>albumin/creatine ratio</div></div><div class="box" style="left:281.0px;top:362.8px;width:123.9px;height:251.9px;padding:2.8px 0 0 3.7px;background:#eda398"><div class="l">“Red” state</div><div class="l">&nbsp;</div><div class="l">Observation Profile</div><div class="l">#observations: 1110</div><div class="l">#unique patients: 93</div><div class="l">&nbsp;</div><div class="l"><b>Typical Prescription</b></div><div class="l bl"><span class="bt"><b>•</b></span><b><u>Mesalamine</u></b></div><div class="l">&nbsp;</div><div class="l">Typical Lab</div><div class="l">&lt;no outstanding values&gt;</div></div><div class="box" style="left:416.0px;top:362.8px;width:123.9px;height:251.9px;padding:2.5px 0 0 4.5px;background:#fefcc8"><div class="l">“Yellow” sate</div><div class="l">&nbsp;</div><div class="l">Observation Profile</div><div class="l">#observations: 254</div><div class="l">#unique patients: 8</div><div class="l">&nbsp;</div><div class="l">Typical Prescription</div><div class="l bl"><span class="bt">•</span>Methotrexate</div><div class="l bl"><span class="bt">•</span>Hydrocortisone</div><div class="l">&nbsp;</div><div class="l">Typical Lab</div><div class="l bl"><span class="bt">•</span>High serum and plasma C<br>reactive protein level</div><div class="l bl"><span class="bt">•</span>High serum albumin</div><div class="l bl"><span class="bt">•</span>High serum creatinine</div><div class="l bl"><span class="bt">•</span>High erythrocyte<br>sedimentation rate</div><div class="l bl"><span class="bt">•</span>Low hemoglobin<br>estimation</div></div><div class="box" style="left:549.9px;top:362.8px;width:124.1px;height:252.1px;padding:2.1px 0 0 4.5px;background:#b5ddd6"><div class="l">“Green” state</div><div class="l">&nbsp;</div><div class="l">Observation Profile</div><div class="l">#observations: 200</div><div class="l">#unique patients: 6</div><div class="l">&nbsp;</div><div class="l">Typical Prescription</div><div class="l bl"><span class="bt">•</span>Budesonide</div><div class="l bl"><span class="bt">•</span>Mesalamine</div><div class="l">&nbsp;</div><div class="l">Typical Lab</div><div class="l bl"><span class="bt">•</span>High hemoglobin<br>estimation</div><div class="l bl"><span class="bt">•</span>Low urine creatinine</div><div class="l bl"><span class="bt">•</span>Low serum creatinine</div><div class="l bl"><span class="bt">•</span>Low erythrocyte<br>sedimentation rate</div></div>
<div class="lab" style="left:1px;top:625.7px">(b)</div>
</body></html>
